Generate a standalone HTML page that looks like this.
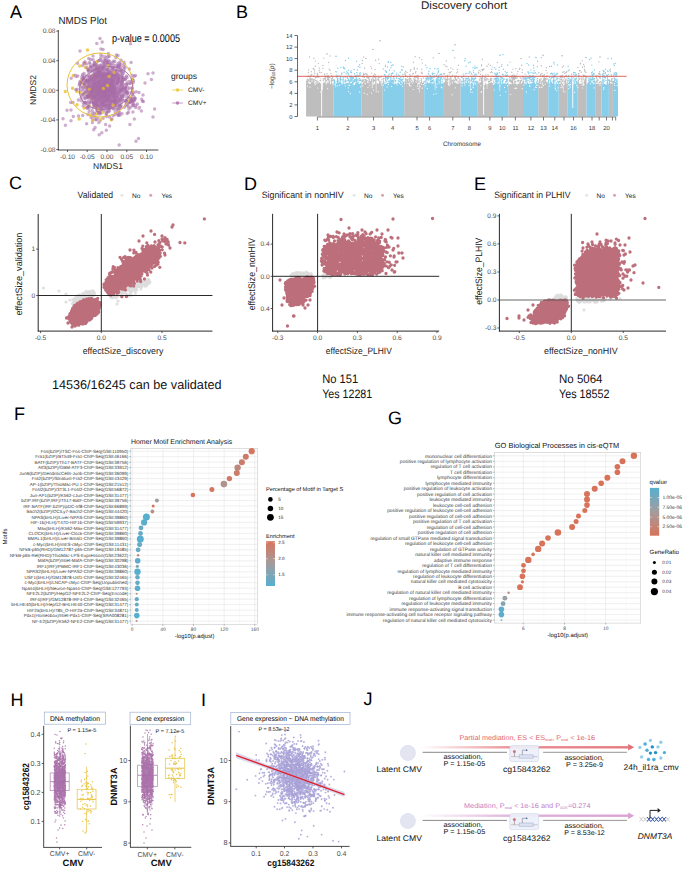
<!DOCTYPE html>
<html><head><meta charset="utf-8"><style>
html,body{margin:0;padding:0;background:#fff;}
body{width:685px;height:871px;overflow:hidden;}
svg{display:block;font-family:"Liberation Sans",sans-serif;text-rendering:geometricPrecision;}
</style></head><body>
<svg width="685" height="871" viewBox="0 0 685 871">
<rect width="685" height="871" fill="#fff"/>
<text x="10" y="17.8" font-size="18">A</text>
<text x="58.5" y="23.8" font-size="10.2" fill="#222" textLength="48.5" lengthAdjust="spacingAndGlyphs">NMDS Plot</text>
<path d="M95.2 75.5h0M98.7 87.7h0M91.9 75.7h0M84.6 63.2h0M89.8 97.6h0M83.4 83.3h0M95.9 94.1h0M111 84.5h0M89.3 105.9h0M87.8 96h0M101 89.8h0M99.4 72h0M96.4 68h0M84.1 108.1h0M94.8 99.5h0M103.4 76.1h0M79.2 119h0M89.7 94.1h0M72.6 88.2h0M79.9 66.1h0M73.3 75.4h0M92.4 91.9h0M80.1 92.6h0M98.4 90.7h0M97 61.8h0M92.9 93.6h0M65.3 91.5h0M88.8 80.9h0M94.6 88.6h0M96.5 89.8h0M77 104.7h0M89.5 86.8h0M83.6 93.8h0M85.6 67.6h0M107.7 76h0M85.6 87h0M94.8 75.7h0M105.6 92.1h0M88.2 69.5h0M93.8 86.7h0M96.5 77.1h0M95.9 107.6h0M80.6 81h0M96.1 114.1h0M111.3 119.7h0M76.8 91.6h0M105.3 101.3h0M96.6 83.9h0M87.5 50.1h0M118.9 100.1h0M104.2 96.8h0M80.9 83.3h0M96 78.6h0M102 89.5h0M92.9 90h0" stroke="#EBBF2A" stroke-width="3.5" stroke-linecap="round" stroke-opacity="0.8" fill="none"/>
<path d="M112.9 99.3h0M94.2 97.6h0M106.4 86.4h0M109.3 86.1h0M96.4 104.1h0M120.8 89.3h0M117.1 79.9h0M91.8 91h0M98 98.2h0M102.2 67h0M94.2 78h0M98.7 105.4h0M97.4 95.9h0M92.5 83.6h0M100.7 86.4h0M105.7 86.7h0M90.7 77.1h0M113.8 76.7h0M92.1 91.8h0M121.3 83.6h0M105.3 79.8h0M105.9 85.1h0M103.6 97.1h0M109.8 84.2h0M107.5 79.1h0M90.6 95.7h0M100.5 113h0M117.7 103.1h0M70.7 102.5h0M95.4 75.5h0M105.8 84.3h0M110.9 79.3h0M105.3 76h0M113.7 89.2h0M106.3 96.8h0M109 100.3h0M86 80.7h0M106.6 116.5h0M121.5 70h0M122.5 78.2h0M104.7 74.5h0M106.6 99h0M97.2 95.5h0M107.5 61.3h0M102.7 70.9h0M93.6 100.3h0M108.2 72.8h0M91 89.3h0M96.3 81.6h0M108.6 82.1h0M110.8 86.9h0M109.6 80.8h0M103.8 101.4h0M129.5 102.5h0M103.5 103.7h0M116.8 80.4h0M101.3 66.7h0M103.4 82.2h0M107.3 103.7h0M92.5 113.6h0M119.8 92.5h0M93.4 94.7h0M107.2 107.8h0M116.9 101.7h0M104.9 100.9h0M91.7 95.5h0M98.5 76.6h0M97.1 96.1h0M103.8 62.3h0M106 97.4h0M112.4 77.6h0M89.2 88.3h0M96.8 92.3h0M95.1 92.5h0M108 86.7h0M94.3 65.2h0M114.2 102.2h0M75.3 75.2h0M102.4 103.4h0M101.1 89.8h0M104.5 68.7h0M119.2 87.1h0M98.9 73.8h0M104.3 82.3h0M102.9 85.2h0M106.1 73.9h0M106.4 75.1h0M95 83.8h0M107.9 99.5h0M87.7 96.7h0M98.4 82.4h0M89.3 82.1h0M88.8 72.4h0M89.5 92.7h0M108.3 84.8h0M92 94.7h0M116 99h0M116.8 107.9h0M87.9 87.3h0M101.5 92.2h0M115 105h0M76 76.5h0M117.5 96.5h0M105 95.2h0M107.5 79.6h0M103.4 75.7h0M95.7 76.3h0M110.7 87h0M117.1 100.9h0M112.6 96.8h0M115.2 70.8h0M126.7 100.9h0M95 90.7h0M90.1 64.1h0M112 84.6h0M94.5 101.1h0M103.1 91.7h0M132.4 78.9h0M102.9 93.1h0M100 85.9h0M83.8 77.9h0M101.8 92.6h0M99 94.9h0M117.3 74.3h0M92.5 94.8h0M89.3 76.4h0M99.7 78h0M126.5 91.5h0M104.8 93h0M104.5 105.3h0M102.9 102.4h0M115.2 74h0M106.3 130.2h0M99.8 80.9h0M113.4 93.7h0M83.3 102.7h0M108.7 81.7h0M95.6 89.4h0M112.9 92.9h0M105.8 82.9h0M89.9 102.5h0M122.8 84.4h0M104.5 93.7h0M97.7 97.5h0M100.5 83.5h0M105.1 91.2h0M90 88.7h0M100.5 79.5h0M112.2 74.9h0M107.8 85.6h0M103.7 87.3h0M108.9 86.9h0M105.6 82.7h0M93.7 98.2h0M107.1 81h0M113.4 94.9h0M104 87.9h0M102.8 82.5h0M117.5 76.5h0M106.7 88.4h0M104.9 90.5h0M113.3 81.4h0M115 87.3h0M100.5 67.6h0M118.1 82.8h0M91.6 79.4h0M109.8 95.5h0M99.7 94.4h0M100.9 80.7h0M111.7 82.5h0M125.2 79.5h0M113.8 95.3h0M104.6 97.3h0M115.6 91.2h0M95.7 84.5h0M103.9 93.1h0M116.7 78.3h0M95.8 97.2h0M109.2 83.7h0M124.4 107.3h0M106.1 80.6h0M81.8 78.3h0M108.3 83.6h0M95.1 103.3h0M108.6 87.7h0M107.5 82.8h0M114.3 85.2h0M114.8 78.2h0M106.7 79.4h0M101.1 100.6h0M114.6 85.3h0M81.6 81.9h0M117.9 102.4h0M95.3 77.2h0M93.6 102.5h0M103.1 49.6h0M106.8 101.1h0M109.1 100.3h0M108.6 75.6h0M99.6 60.2h0M100.7 110.9h0M116.5 76.5h0M104.1 82.4h0M105.8 101.4h0M97.8 79.8h0M84 83.4h0M97.3 93.3h0M131.6 92.2h0M98.9 95.2h0M106.4 107h0M110.1 81.3h0M95.5 94.4h0M105.8 101.6h0M93.1 90.8h0M101.4 73.8h0M85.4 86.7h0M112.3 90.2h0M117.5 79.5h0M90.8 66.6h0M95.9 96.8h0M103.4 76h0M124.1 96.1h0M92.7 119.8h0M118.9 89.9h0M112.2 95.9h0M112.5 93.4h0M115.1 93.3h0M107.8 90.7h0M98.2 88.1h0M100.2 85.6h0M108 76.2h0M95.6 84.1h0M104.4 70h0M104.1 95.9h0M99 98.2h0M109.9 66.4h0M92.8 86.2h0M111.7 83.2h0M106.3 95.6h0M87.3 108.2h0M104.8 76.9h0M112.1 101.8h0M122 86.1h0M124.7 88.7h0M134.2 76.3h0M119.7 94.7h0M109.9 62.2h0M97.8 88.4h0M91 71.4h0M89.4 91.5h0M123.6 95h0M108.7 108.6h0M98.6 88.3h0M109.8 90.4h0M122.3 81.8h0M118.6 65.8h0M97.8 110.6h0M95.7 91.1h0M92.6 98.2h0M94.8 105.8h0M104.9 84.7h0M92.2 97.7h0M97.4 80.5h0M120.9 105.2h0M101.9 89.3h0M99.2 77.3h0M103.9 65.7h0M96.7 86.1h0M101.7 96.2h0M75.8 89.7h0M103.1 88.3h0M107.8 63.3h0M108.2 104.8h0M111.1 87.2h0M100.2 86.3h0M108.4 95.8h0M105 91.3h0M101.2 89h0M92.4 122.6h0M121.3 64.8h0M118 92.3h0M98.3 79.6h0M103.9 104.7h0M118 93.4h0M109.9 61.7h0M116.3 79.3h0M107.2 101.6h0M100.5 89.8h0M112.8 86.8h0M100.5 84.1h0M106.7 87.3h0M118.9 78.7h0M99.1 71.9h0M113.4 100.1h0M87.1 91.6h0M118.8 87.8h0M101.5 105.3h0M103.6 67.7h0M87.4 80.1h0M112.4 89.2h0M98.7 89.1h0M124 70h0M93.1 59.7h0M113.5 81.4h0M96.7 106.7h0M93.8 129.7h0M90.5 65.8h0M98.6 71.3h0M139.5 107.5h0M84.2 93.1h0M120.9 68h0M113.4 61.2h0M101 108.3h0M90.3 98.2h0M83.8 63h0M98.9 90h0M96.6 64.8h0M106.8 111.7h0M134.6 100.4h0M134.9 98.4h0M126.3 92.6h0M142.4 101.3h0M130.4 99.5h0M133.2 105.8h0M130.2 98.2h0M139 108.2h0M128 106.6h0M100 38.4h0M148 73.8h0M119.2 145h0M63 118.7h0M145 83h0" stroke="#A56AA6" stroke-width="3.5" stroke-linecap="round" stroke-opacity="0.55" fill="none"/>
<path d="M111 82.6h0M108.2 83.9h0M99.1 73.1h0M82.7 87h0M113.7 80.1h0M104.7 80.2h0M99.6 96.2h0M118.8 78.2h0M101.9 96.7h0M90.7 96.7h0M109 74h0M86.6 76.1h0M110.3 78.3h0M119.7 71.3h0M100 101.5h0M118 74h0M115.5 82.5h0M114.3 101.1h0M114.6 105.1h0M93.2 116.1h0M114.4 89h0M102.8 85.6h0M95.1 74.4h0M94.9 86.7h0M97.1 102.5h0M114.9 85.9h0M113.3 93.4h0M105.2 80.9h0M99.8 83.7h0M117.5 69h0M114 74.4h0M98.1 81.9h0M91.3 94.3h0M109.5 91.1h0M93.9 92h0M105.4 83.8h0M122.2 84.4h0M107.7 80.8h0M111.3 84.8h0M110.8 91h0M114.7 86.6h0M88.4 94.2h0M111.6 63.6h0M105.4 84.1h0M103.3 88.3h0M119.1 65.9h0M111.3 101.7h0M105.9 92.3h0M100 69.6h0M102.2 99.7h0M125.4 90.1h0M84.7 84.6h0M87.2 97.6h0M107.7 95.9h0M93.1 102.9h0M117 78.2h0M101.8 80.1h0M107.7 65.7h0M109.6 85h0M95.5 96.3h0M111.8 83.9h0M132.5 94.2h0M87.6 88.9h0M109 72.1h0M99.7 76.2h0M104.9 90.4h0M95 71.9h0M109.5 117h0M111.9 86.4h0M115.6 83.4h0M93.9 78.3h0M93.8 65.4h0M97.7 81.7h0M92.5 97.1h0M105.1 87.8h0M88.8 104.5h0M95.2 75.4h0M111 84h0M89.4 62.5h0M96.1 64.7h0M104.4 88.9h0M125.3 87.7h0M97.5 76.4h0M108.1 79h0M99.6 107.2h0M91.1 79.6h0M107 57.7h0M102.5 80.2h0M106.9 84.7h0M110.3 93.7h0M102.7 80.6h0M111.2 77.6h0M115.5 91.3h0M91.6 96.5h0M124.1 91.1h0M98 88h0M97.2 86.1h0M109.7 105.4h0M111.6 95.7h0M99 97.9h0M109.5 105.3h0M104.1 85h0M108.8 64.5h0M115.1 86.3h0M119.7 112.9h0M103.3 105.3h0M109 97.9h0M110.7 96.7h0M95.7 98h0M108.2 93.3h0M98.7 87.2h0M106.1 73.7h0M106.7 100.1h0M112.5 80.1h0M101.8 101.3h0M117.5 83.4h0M112.9 86.5h0M115.6 80.2h0M101.5 86h0M125.9 102.3h0M112.2 97.1h0M87.4 97.4h0M101.8 132.8h0M126.5 84.7h0M100.1 95.2h0M108.6 91.1h0M98.9 85.2h0M119.5 91.6h0M104.7 59.3h0M93.9 104.4h0M111.1 105.7h0M108.3 53.5h0M99.9 95.3h0M112.5 85.5h0M102.3 105h0M101.5 86h0M122.3 92.9h0M92.4 93.5h0M104.2 106.2h0M118.6 108.3h0M103.7 79h0M106.5 97.3h0M97.8 101.3h0M105 81.5h0M96.5 119.4h0M95 97.6h0M101 104.6h0M113.9 84.8h0M99.2 89.5h0M117.8 97.6h0M131.9 88h0M118.3 67.7h0M106.6 83h0M114.7 97.3h0M124.5 88.9h0M100.8 87.7h0M93.2 87.9h0M112.5 86.2h0M130.1 83.5h0M106.5 113.4h0M120.4 98.9h0M105.8 92.9h0M112.9 92.3h0M97.9 111.4h0M98.6 90.4h0M101.6 94.3h0M113 83.9h0M100.2 87.2h0M117.3 101.3h0M129.6 87.9h0M123.6 89.5h0M113.3 73.9h0M116.4 93.5h0M103 68.4h0M88.7 58.6h0M116.6 91.8h0M101.8 76.1h0M116.4 92.4h0M109.6 90.3h0M115.6 101.6h0M105.9 80.3h0M109.4 96h0M90.1 95.5h0M122.4 86.7h0M102 93.1h0M106.7 84.6h0M105 82.5h0M101.7 98.4h0M131.4 81.2h0M116.1 105.1h0M101.4 86.1h0M113.4 83.5h0M93.1 81.9h0M104.3 76.4h0M102.5 98.1h0M117.5 78.6h0M107.8 94.6h0M98.2 105.4h0M132.2 75.3h0M103.2 73.5h0M92.6 97.6h0M109.3 100.8h0M102.1 100.2h0M97.4 80.7h0M117.6 103.6h0M105 80.8h0M124.4 100.6h0M119.2 101.9h0M94.1 71.6h0M130.4 102.4h0M116.6 85.4h0M111.1 99.7h0M110.8 89.3h0M122.7 100.5h0M96.8 71.3h0M103.8 91.2h0M115 72.4h0M120.2 74.7h0M107.7 103.3h0M105.2 74.3h0M96.6 76h0M105.1 97.2h0M119.3 105.8h0M101.6 96.6h0M118 55.4h0M89.1 108.2h0M101.6 97.7h0M115.3 74.2h0M100.6 112.6h0M93.3 78.8h0M110 83.9h0M107.3 98.2h0M135.5 75.6h0M113.1 115.7h0M99.7 100h0M116.7 83.7h0M90.1 93.7h0M123.7 94.3h0M107.3 69.1h0M108.2 56.4h0M113.7 90.8h0M107.4 91.4h0M108.5 104.5h0M105.7 97.5h0M113.1 96.7h0M92.3 94.2h0M109.5 72.3h0M91.5 70.2h0M88 84.3h0M98.2 93.7h0M101.8 97.2h0M90.8 89.1h0M112.1 63.1h0M99.3 76.3h0M82.1 76.3h0M115.9 85h0M78.5 116h0M121.1 84.6h0M103.5 103.1h0M103.7 94h0M118.3 80.8h0M102.4 101.9h0M107.8 88.4h0M130.6 107.3h0M114 94h0M101.1 60.1h0M95.2 102.6h0M95.4 80h0M121 89.8h0M133.7 105h0M106.5 85h0M118.2 115.4h0M85 61.7h0M104.8 82.3h0M113.5 85.9h0M104.4 84h0M103.6 82.9h0M100.9 49.1h0M123 90h0M102.8 91.1h0M123.5 79.7h0M109.9 80.8h0M107 105h0M113.4 87.7h0M87.1 85.3h0M109.5 78.8h0M121.4 72.2h0M122.4 77.3h0M104.3 83.9h0M122.3 87.8h0M122.3 82.6h0M115.7 82.6h0M126.6 75.9h0M112.5 82.3h0M91.1 90.6h0M112.5 67.8h0M113.4 89.2h0M83.9 79.1h0M101.5 76.8h0M92.1 91.2h0M124.4 84.5h0M71.2 78.3h0M93.4 78.4h0M95.2 84h0M105.9 96.9h0M103.6 89.9h0M93.8 103.6h0M98.1 67.8h0M110.4 93.7h0M105 81.4h0M100.9 70.5h0M86.9 81h0M97.9 118.2h0M131.1 62.6h0M79.6 83.8h0M108.6 60.4h0M100.5 91.7h0M116.3 102h0M126.8 102.2h0M135.9 105.4h0M135.2 98.4h0M127.2 113.4h0M136.2 91.8h0M132.5 105.1h0M132.2 100.3h0M132.9 111.9h0M126.7 101.6h0M96.8 43.4h0M151.4 79.4h0M136 141.2h0M65.4 125.2h0M143 95h0" stroke="#A56AA6" stroke-width="3.5" stroke-linecap="round" stroke-opacity="0.55" fill="none"/>
<path d="M94.4 113h0M96.3 75.5h0M104.2 72.9h0M114.4 99.3h0M106.8 83.8h0M102.5 97.4h0M104.9 77.4h0M103.8 99.4h0M99.4 91.5h0M96.8 109.2h0M120.4 98.7h0M113.3 96.3h0M99.7 66.1h0M100 94.1h0M112.1 92.7h0M112.7 79.4h0M115.7 75.5h0M115.2 114.4h0M110.7 104.3h0M87.4 78.9h0M87.9 106.8h0M105.8 70.8h0M87.9 97.4h0M98.4 60.7h0M109.2 74.3h0M104.5 87.9h0M104.5 93h0M82 90.3h0M119.6 99.8h0M107.1 91.7h0M111.3 87.9h0M117.1 83.2h0M123.8 66.9h0M77.5 63.3h0M102.5 61.8h0M121.7 79.9h0M115.7 100.6h0M102.7 81.5h0M104.8 75.7h0M106.1 88.8h0M101.2 90h0M102.9 88.7h0M121.7 71.9h0M94.8 89.1h0M94.3 62.4h0M95.8 92.1h0M126.2 92.3h0M121.2 96.4h0M108.5 111.7h0M105 89.9h0M111.7 83.6h0M90.4 90h0M101.5 69.2h0M97.1 94.2h0M106.7 76.9h0M100.4 92.2h0M91.6 101.6h0M116.1 71.3h0M101.4 86.2h0M114 86.7h0M119.7 90.1h0M103.5 104.9h0M101.3 79.3h0M94.3 74.6h0M96.6 67.2h0M114.8 88.1h0M114.5 102.1h0M103 78.2h0M104.9 97.3h0M95.8 94.8h0M86.2 81.6h0M97.5 99.7h0M111.6 70.4h0M85.8 102.6h0M107.1 96.1h0M94.6 69.1h0M90.6 67h0M93.9 63.7h0M95 97h0M85.2 92.2h0M93.5 75.4h0M104 99.3h0M104.8 89.2h0M103.5 84.6h0M107.9 78.8h0M98.8 122.5h0M103.7 94.4h0M99.5 72.4h0M103.9 73.9h0M108 88.7h0M112.2 81.3h0M117.9 81.2h0M103.8 91.5h0M98.6 82h0M122.4 96.7h0M110 90.2h0M104.8 65.3h0M102.1 108.7h0M104.8 87h0M96.2 77.4h0M99 82.3h0M111.2 101.5h0M108.6 111.4h0M126.3 77.4h0M105.1 70h0M113.8 89.5h0M98.4 89.7h0M100.3 96.9h0M96.3 73.4h0M95.6 75.1h0M100.7 80.2h0M107.8 92.7h0M110.2 107.6h0M97.3 73.6h0M110.7 100.2h0M105.1 91.3h0M88.4 90.2h0M104.2 72.4h0M118.3 93.6h0M123.7 71.8h0M103.3 74.3h0M109.3 85.7h0M80.8 86.9h0M105.7 92.8h0M106.3 99.4h0M104.3 87.2h0M87.5 96.3h0M112.9 70.2h0M102.3 83.3h0M101.4 83.1h0M113 92.1h0M106.7 77.4h0M121.3 90.2h0M111.9 80h0M98.3 68.3h0M89.4 90.9h0M103.3 77.6h0M110.1 78.1h0M109.2 77h0M110 99.6h0M102.7 91h0M92.5 88.4h0M106.4 86h0M115.9 57.8h0M113.8 86.6h0M95.2 90.7h0M107 90.8h0M111.3 73.6h0M92.9 84.9h0M100.3 113.8h0M113.6 108.5h0M100.2 65.2h0M119.5 76.7h0M127.8 89.3h0M95.5 83.4h0M108.7 95.2h0M105.2 79.4h0M94 87.6h0M127 77.4h0M121.9 71.7h0M107.4 62.4h0M110.6 64.7h0M107 93.2h0M103.4 73.8h0M93.7 74.6h0M115.3 109.9h0M98.5 107.1h0M106.1 74.4h0M107.7 85.3h0M96.6 104.4h0M84.6 98h0M104.7 91.7h0M81.3 90h0M95.9 88.6h0M105.1 85.1h0M105.6 124.6h0M102.8 67.4h0M101.1 75.2h0M100.9 98.1h0M98.4 66.5h0M102.4 103h0M97.7 102.3h0M86.8 83.1h0M94.2 90h0M104.8 83.2h0M95 74.9h0M124 62.2h0M97 106.2h0M117.6 66h0M96.7 70.7h0M93.5 96.5h0M98.7 75.3h0M114.7 61.4h0M88.3 80.5h0M103 81.4h0M82.6 79.3h0M95.7 101.4h0M127.2 104.7h0M113.8 92.2h0M99.5 90.7h0M104.9 78.9h0M110.8 84.6h0M113.5 64.9h0M100.2 102.7h0M97.1 73.6h0M116.7 110h0M108.8 108.8h0M106.9 94.5h0M106 82.4h0M96.3 93.9h0M100.2 85.4h0M105.9 96h0M99.1 86.7h0M82.1 87.6h0M104.8 69.8h0M96.3 90.9h0M100.1 96.9h0M103.9 101.2h0M99.8 85.4h0M114.9 93.8h0M109.7 97.7h0M89.5 78h0M107.8 100.4h0M98.2 86.2h0M118.4 78.1h0M104 97h0M95.5 104.4h0M116.8 95.8h0M94.9 103.8h0M127 93.1h0M97.9 90.9h0M113.6 67.1h0M97.9 89.2h0M115 73.2h0M110.9 90.5h0M121.6 77.3h0M122.4 89.3h0M116.1 97.1h0M99.8 121.1h0M95.7 119.7h0M88.5 83.7h0M77.8 75.9h0M108.2 73.9h0M103.1 96.1h0M118.9 76.1h0M103.2 102.2h0M97.3 85h0M91.9 76.6h0M107.4 90.9h0M115.2 112h0M93.1 79.2h0M94.9 106.1h0M111.5 81.6h0M82.6 74.6h0M133.3 82.4h0M107 105.4h0M135.6 107.6h0M122.4 80.7h0M81.9 94.8h0M104.3 63.5h0M97.1 82.4h0M91.3 95.5h0M95.9 76.7h0M110.6 78.6h0M108.5 93.6h0M87.1 87.8h0M106.5 87h0M113.4 93.2h0M89.3 89.8h0M122.2 74.6h0M89.6 86h0M106.3 87.3h0M92.1 92.6h0M94.3 80.3h0M112.4 71.6h0M116.4 95.7h0M96.3 75.9h0M113.4 75.8h0M110.8 85.9h0M113.1 79.2h0M109.9 87h0M95.9 75.8h0M110.4 71.6h0M101.5 87.8h0M113.5 95.5h0M104.2 90.7h0M103.3 83.5h0M95.5 91.1h0M77.1 89.2h0M93.2 91.2h0M109 92h0M105.4 68.7h0M105.5 95.5h0M103.9 75.6h0M114.2 91h0M105.6 80.7h0M109.9 98.5h0M103.5 77.9h0M105 96.8h0M103 96.5h0M100.8 54.8h0M93.6 82.6h0M111.9 83.6h0M109.1 56.5h0M92.2 110.4h0M125 77.8h0M98.7 113.9h0M104.4 86.2h0M129.9 124.4h0M105.9 108.3h0M100.1 99.1h0M92.3 99h0M93.8 85.3h0M120.3 98.5h0M86.6 123.8h0M73.3 116.6h0M88.7 70.5h0M115.9 110h0M132.3 88.4h0M130.6 99.4h0M133.6 104.1h0M127.5 93.6h0M143.4 101.4h0M131.9 101.4h0M133 96.6h0M134 96.7h0M134.2 99.5h0M130.5 43.7h0M154.6 109h0M138.5 138.5h0M71 120.8h0" stroke="#A56AA6" stroke-width="3.5" stroke-linecap="round" stroke-opacity="0.55" fill="none"/>
<path d="M104.6 73h0M115.8 83.9h0M84.1 89.3h0M86.8 91.6h0M89 84.7h0M103.7 87h0M97 110.6h0M115.7 95.6h0M105.5 100.6h0M123.1 73.8h0M89.9 90.1h0M105.2 60.2h0M103.9 82.1h0M108.5 97.5h0M102.2 97.3h0M109.5 107.2h0M103.9 94.8h0M100.6 75.6h0M114.7 102.2h0M114.1 102.5h0M82.9 65.6h0M96.2 93.6h0M110.8 92.5h0M94.8 83.7h0M109 73.4h0M105.3 100h0M106.3 91.4h0M98 96h0M105.9 87.3h0M105.9 101.3h0M107.7 73.5h0M91.9 85.2h0M121 89.4h0M108.1 91.9h0M103.5 85.6h0M99.5 66.1h0M115.2 88.3h0M103.2 93.4h0M99.2 70.9h0M101.7 89.1h0M103 91.5h0M96.3 95h0M102.1 82.6h0M110.3 84.4h0M108.8 98.8h0M117 88.8h0M103.3 105.1h0M115.7 92.8h0M103.2 89.5h0M107.6 100.8h0M106 91.1h0M114.5 76.1h0M98.2 70.8h0M92.9 107.4h0M93.1 96.4h0M110.9 87.5h0M90 88h0M86.9 94.7h0M116.4 55.1h0M110.4 103.4h0M101.3 98.9h0M122.4 97.7h0M115.9 92.7h0M100.1 85.2h0M102.2 84.5h0M89.1 82.9h0M99.9 104.6h0M97.4 86.2h0M93.8 86.8h0M105 93.6h0M104.8 82.2h0M93.4 91.2h0M97.4 96.2h0M125.3 87.3h0M105.9 100.4h0M91.2 80.8h0M101.6 99.5h0M116.5 95h0M120.2 115h0M101.2 88.2h0M104.7 81.8h0M97.2 73.3h0M94.3 97.4h0M97.7 76h0M105.4 86.2h0M102.3 87.6h0M100.9 87.2h0M106.4 100.1h0M100.7 79.4h0M108.4 74.1h0M110 82.4h0M116.2 66.2h0M78.4 99.9h0M119 106.1h0M104.3 97.7h0M109.6 105.4h0M113.2 80.4h0M109.3 79.2h0M108.7 71h0M81.4 100.6h0M105.3 56.7h0M112.7 91.5h0M113.8 83.4h0M103.7 86.2h0M121.1 60.3h0M116.6 98h0M89.2 111.4h0M116.4 65h0M107.6 62.4h0M106.2 99.2h0M118.3 78.9h0M121.8 97.5h0M96.6 99.6h0M103.9 94.4h0M95.9 86.9h0M97.5 75.6h0M94.4 96.2h0M113 108.8h0M110.7 94.3h0M111.5 75.9h0M110 90.7h0M97.5 85.9h0M118.4 111.2h0M86.2 90.3h0M84.1 73.6h0M102.1 90.2h0M105.1 97.6h0M98.2 74.8h0M106.4 81.4h0M129.7 83.3h0M93.5 105.9h0M122 95.3h0M84.6 76.3h0M120.3 70.4h0M111.2 72.2h0M98.5 87.1h0M89.1 85.1h0M98.5 91.4h0M106.5 101h0M109.6 94.4h0M107.6 83.4h0M87.2 81h0M98.6 83.9h0M132.8 91.8h0M93.2 96.7h0M100.3 86h0M103.4 78.6h0M104.6 75.6h0M96.9 85.9h0M115.4 96.3h0M100.1 79.7h0M86.8 102.8h0M108.8 96.9h0M113.7 105.8h0M104.2 111.1h0M102.5 76.7h0M114.8 93.8h0M107.4 81.7h0M103.1 86.6h0M91.4 86.8h0M98.2 82h0M99.9 100.9h0M106.1 114.2h0M118.1 95h0M118.9 81.7h0M118.1 63.3h0M109.2 104.6h0M105.7 93.9h0M114.9 99.6h0M114 86.7h0M95.1 76.8h0M110.3 91.9h0M112.2 69.4h0M109.4 83.4h0M110.7 102.7h0M104.4 75.9h0M103.7 88.6h0M110.4 83.3h0M127 82.8h0M101.3 106.6h0M86.1 92h0M97.8 75.8h0M94.1 86.7h0M112.4 101.6h0M111.5 105.4h0M111.6 102.7h0M84.3 80.6h0M102.6 56.2h0M93.6 84.6h0M98.1 70.1h0M88.9 69.3h0M110.6 81.9h0M117.8 94.4h0M121.1 107.8h0M107.2 91.7h0M105.4 99h0M98.6 96.1h0M130 82.5h0M107.8 79.9h0M113.4 102.3h0M95.9 87.2h0M109.2 94.2h0M93.9 95.2h0M98.2 104.5h0M81.2 97.8h0M112.3 68.3h0M105.5 104.7h0M109.2 69h0M95.3 87.5h0M104.1 90.8h0M96.7 100.4h0M94.6 91.4h0M102.7 96.1h0M101.8 65.1h0M105.4 98.1h0M99.6 80.7h0M115.3 100.8h0M103.6 74.9h0M101.5 91.5h0M116 96.9h0M102.8 88.8h0M96.2 69h0M89.2 89.8h0M101.8 99.8h0M118.1 98.3h0M108.8 97.1h0M120.8 102.4h0M109.1 75.1h0M107.5 79h0M100.6 92.6h0M113.9 92.1h0M98.7 84.9h0M120.2 81.5h0M118.9 111.3h0M111.6 84.8h0M107.2 95.4h0M96.4 88.8h0M104.3 79h0M105.1 96.5h0M107.4 70.5h0M117.2 99h0M97.4 101.7h0M90.4 83.9h0M88.2 87.1h0M111.2 88.6h0M108.4 81h0M91.7 90.7h0M100.2 98.3h0M109.8 73.6h0M103.1 77.5h0M91.4 88.9h0M111.1 84.3h0M86.4 80.8h0M102.4 104h0M93.4 103.3h0M93 83.8h0M113 84.8h0M122 113.8h0M87.3 89.6h0M126 101h0M101.8 101.8h0M106.7 89.4h0M93.2 87.1h0M97.8 105.1h0M108.4 71.1h0M100.7 88.3h0M110.3 90.4h0M123.6 87.5h0M121.4 102.4h0M94.4 97.2h0M98.2 95.1h0M130.5 82.8h0M119.6 62.7h0M101.7 73.7h0M99.3 78.1h0M133.7 92.7h0M95.8 88h0M101.2 82h0M124.5 64.6h0M134.3 119.1h0M113.6 102h0M98 74.6h0M89.9 79.4h0M104.4 92.2h0M137.3 104h0M120.4 87.4h0M100.8 57.8h0M115 105h0M105.4 75.8h0M93.8 81.4h0M95.7 105.3h0M106 87.4h0M93 90.3h0M98.1 94h0M100.2 96.7h0M128.8 81.5h0M96 76.5h0M102.3 85.3h0M106.5 82.1h0M119.7 105.8h0M102.2 42h0M90.6 81.1h0M92.6 66.3h0M133.5 80.4h0M111.4 88.2h0M99 87h0M141.4 111h0M117.4 113.2h0M111.4 88.1h0M103.2 118.3h0M103 67.1h0M111.6 75h0M106.1 91.3h0M99.8 104.2h0M100.5 101.8h0M114.8 77.2h0M85.3 102.8h0M91.3 67.2h0M128.9 109.1h0M120.9 95.4h0M128.2 92.6h0M131.6 98.7h0M122.3 99.6h0M131 100.9h0M133.6 99.6h0M132.7 101.4h0M128.7 97.7h0M80 51h0M153 117h0M109.6 126h0M67 110.2h0" stroke="#A56AA6" stroke-width="3.5" stroke-linecap="round" stroke-opacity="0.55" fill="none"/>
<path d="M105.8 94h0M107.5 75.2h0M93.4 70.5h0M113.5 78.6h0M118.7 115h0M95 117.1h0M98.7 79.6h0M105.6 60.7h0M101.4 73.5h0M98.3 74.5h0M103.2 105h0M106.2 87.2h0M93.6 102.9h0M105.1 75.7h0M103.8 84.5h0M99.4 83.1h0M111.2 99.7h0M121.6 96.9h0M125.5 92.5h0M94.6 101.1h0M108.2 98.6h0M89.3 75.8h0M104.8 64.9h0M96 98h0M127 95.1h0M90 81.1h0M102.3 84.3h0M84.4 104.8h0M92.9 75.1h0M104.8 75.6h0M94.3 77.7h0M104 85.3h0M100.5 76h0M104.8 103.7h0M118.1 76.7h0M101.3 96.6h0M112.6 91.3h0M106 104.4h0M98.6 94.4h0M93.6 88.1h0M103.1 83.9h0M114.9 89.5h0M99 88.7h0M126.9 84.3h0M92.1 79.6h0M121.7 76.8h0M99.1 86.4h0M95.4 97.2h0M107.7 93.2h0M104.5 79.6h0M87.4 107.1h0M113 73.2h0M112.2 97.1h0M104.8 87.7h0M117.3 89h0M104 98.2h0M113.9 79.4h0M97.1 89.2h0M107.7 86.9h0M85.2 98.7h0M102.3 78.5h0M98.5 80.1h0M92.1 85.2h0M100.5 109.5h0M94.5 72.9h0M105.5 106.7h0M121.4 83.8h0M111.7 93.9h0M104.3 100.8h0M87.1 67.7h0M117.2 70.3h0M109.5 104.9h0M110 88h0M102 109.2h0M125.8 105h0M113.4 92.5h0M120.3 91.7h0M93.9 81.5h0M114.2 89.6h0M105.1 80.8h0M105 91.7h0M104.7 105h0M111.9 90.8h0M95.3 94.9h0M90.9 93.2h0M83.3 105.8h0M101.4 91.1h0M92.6 68.9h0M111.3 99.5h0M109.5 103.9h0M107.6 69.5h0M107.9 111.3h0M109.4 110.9h0M101.5 70.6h0M102.8 101.9h0M106.6 91.3h0M111.6 91.9h0M94.7 97.4h0M87.3 96.4h0M101.8 101.9h0M113.5 100.2h0M123.6 90.9h0M99.7 84h0M104.9 83h0M95.1 76.1h0M89.3 95.2h0M116.5 90h0M102.9 102.9h0M97.9 84h0M101.7 70.3h0M129.3 69.1h0M104.1 86.8h0M87.9 70.3h0M107.7 89h0M101.6 92h0M101.7 88.1h0M101.4 93h0M127.4 92.9h0M112.6 78.5h0M112.7 95.1h0M112.7 97.9h0M101.9 87.6h0M108.1 85.1h0M95.9 89.7h0M109.1 88.3h0M104.6 82.4h0M125.1 67.8h0M120.8 81.6h0M100.8 90.2h0M104.7 91h0M103.2 77.1h0M98.2 98.7h0M98.3 80.6h0M88.6 101.1h0M95.6 78.9h0M109.4 90.4h0M97.4 91.7h0M84.3 84.5h0M112.2 79.8h0M109.8 98.1h0M90.9 93.3h0M102.4 87.5h0M111.3 91.2h0M94.7 84h0M100.3 71.2h0M83 94.9h0M86.5 64h0M96 67.8h0M120.9 84.4h0M99 112.8h0M104.5 77.5h0M102.4 75.4h0M114.1 95.3h0M108.1 100.8h0M110.3 97.7h0M106.7 88.8h0M95.1 74.4h0M94.1 75.7h0M113.3 72.8h0M116.7 102.4h0M108.4 107.2h0M82.7 115.5h0M116.5 82.9h0M90.6 59.4h0M104.4 95.3h0M100.9 92.3h0M105.1 94.2h0M99.4 82.1h0M118.2 75.1h0M102 97.4h0M112.5 79.3h0M112.4 86.6h0M94.4 69.8h0M95.7 77.3h0M116.3 72.1h0M111.5 78.1h0M106.3 76.6h0M96.6 104.4h0M109.4 93h0M110.1 85.4h0M103 86.4h0M103.1 74.6h0M83.6 77.9h0M90.8 85.4h0M124.2 88.7h0M102.8 106.5h0M102.3 98.8h0M90.7 84.1h0M96.1 73.2h0M114.9 81.8h0M98 80h0M125.3 79h0M97.5 89.7h0M79.8 82h0M108.3 78.2h0M97.8 95.9h0M113.9 90.6h0M89.8 87.4h0M103.2 105.7h0M101.2 83.4h0M103.5 94.1h0M106.1 98.4h0M119.7 63.8h0M107.1 86.1h0M97.6 86.5h0M91.2 81.2h0M116.7 81.4h0M112 92.1h0M104.8 95.5h0M103.7 83.7h0M87.9 114.4h0M101.4 103.3h0M86 82h0M107.8 96.3h0M104.5 63.5h0M107.8 87.5h0M117.9 78.4h0M114.2 82.2h0M86.8 107.5h0M104.6 77.5h0M111.9 75.5h0M89.9 102.1h0M112.4 80.6h0M108.5 88.7h0M119.9 100.3h0M101.3 77.3h0M112.5 88.9h0M79.2 84.9h0M118.1 71h0M92.3 96.2h0M100.2 81.3h0M108.9 88h0M104.9 101.1h0M108.9 79.8h0M120.3 80.6h0M89.6 79.4h0M118.6 85.7h0M103.3 108.8h0M122.6 79.7h0M114.4 69.1h0M99 78.2h0M107.8 92.5h0M120.7 106.6h0M114.8 96.7h0M94.9 77.6h0M114.8 76.6h0M106.1 83.3h0M85.7 96.5h0M126.8 92.8h0M101.9 102.8h0M109 87.9h0M111.6 83.6h0M102.1 86.3h0M113.4 75.2h0M115.6 102.4h0M112.1 92.5h0M124.8 88.7h0M105.2 91.8h0M106.4 91.3h0M119.3 108.7h0M115.1 75.9h0M122.8 79.4h0M92.2 77.1h0M112.9 91.8h0M111.9 119h0M90.3 79.2h0M90.3 81.2h0M114.5 96.3h0M98.4 68.9h0M107.2 81.9h0M110.4 87.6h0M97.8 100.9h0M95.4 81.5h0M99.9 82.8h0M95.7 100.3h0M114.4 99.8h0M94.7 62.7h0M103.3 94.2h0M113.9 104.9h0M92.4 86.4h0M119.1 76.5h0M98.7 88.3h0M127 86.8h0M111.4 96.6h0M85.2 96.9h0M92.5 91.8h0M106.7 97.3h0M91.7 99.7h0M93.7 76h0M121.2 76.9h0M104.7 100.3h0M104.2 77.5h0M100.2 86.5h0M105.7 64h0M109.5 83h0M112.7 90.8h0M106.2 88.5h0M100.6 85.5h0M93 56.1h0M97.8 73.6h0M110.6 107.4h0M89.4 90.7h0M109 73h0M112.2 92h0M120.9 85.3h0M110 108.6h0M100.5 90.5h0M110 102.9h0M116.6 77.9h0M73 102.5h0M103.4 96.5h0M109.3 105.2h0M125.7 91.8h0M119.4 66.3h0M101.9 78.5h0M84.6 102.4h0M91.1 117.4h0M94.5 64.5h0M141.7 99.2h0M128.4 112.2h0M130.7 98.4h0M128.8 103h0M132.9 101.7h0M139 92.4h0M132 94h0M127 97.6h0M126.6 99.8h0M153 73h0M99.2 134.8h0M95.1 127.6h0M71 110h0" stroke="#A56AA6" stroke-width="3.5" stroke-linecap="round" stroke-opacity="0.55" fill="none"/>
<path d="M89.2 89.2h0M109.1 76.4h0M92.6 120.2h0M107.4 85.5h0M102.6 112.4h0M114.1 72.4h0M100.9 119.5h0M113.2 105.2h0M90.1 115.1h0M108.3 66h0M98.4 109.4h0M103.4 88.6h0" stroke="#EBBF2A" stroke-width="3.5" stroke-linecap="round" stroke-opacity="0.7" fill="none"/>
<ellipse cx="100" cy="85" rx="33" ry="32" fill="none" stroke="#E8C232" stroke-width="1"/>
<ellipse cx="106" cy="88" rx="27" ry="21" fill="none" stroke="#A56AA6" stroke-width="0.8" transform="rotate(-15 106 88)"/>
<line x1="58.3" y1="30" x2="58.3" y2="150.3" stroke="#333" stroke-width="0.9"/>
<line x1="58" y1="150" x2="158.4" y2="150" stroke="#333" stroke-width="0.9"/>
<line x1="56.3" y1="31.1" x2="58.3" y2="31.1" stroke="#333" stroke-width="0.8"/>
<text x="55.5" y="33.4" font-size="6.6" text-anchor="end" fill="#4D4D4D">0.08</text>
<line x1="56.3" y1="60.7" x2="58.3" y2="60.7" stroke="#333" stroke-width="0.8"/>
<text x="55.5" y="63" font-size="6.6" text-anchor="end" fill="#4D4D4D">0.04</text>
<line x1="56.3" y1="90.3" x2="58.3" y2="90.3" stroke="#333" stroke-width="0.8"/>
<text x="55.5" y="92.6" font-size="6.6" text-anchor="end" fill="#4D4D4D">0.00</text>
<line x1="56.3" y1="119.9" x2="58.3" y2="119.9" stroke="#333" stroke-width="0.8"/>
<text x="55.5" y="122.2" font-size="6.6" text-anchor="end" fill="#4D4D4D">-0.04</text>
<line x1="56.3" y1="149.5" x2="58.3" y2="149.5" stroke="#333" stroke-width="0.8"/>
<text x="55.5" y="151.8" font-size="6.6" text-anchor="end" fill="#4D4D4D">-0.08</text>
<line x1="67.5" y1="150" x2="67.5" y2="152" stroke="#333" stroke-width="0.8"/>
<text x="67.5" y="158.8" font-size="6.6" text-anchor="middle" fill="#4D4D4D">-0.10</text>
<line x1="87.2" y1="150" x2="87.2" y2="152" stroke="#333" stroke-width="0.8"/>
<text x="87.2" y="158.8" font-size="6.6" text-anchor="middle" fill="#4D4D4D">-0.05</text>
<line x1="107" y1="150" x2="107" y2="152" stroke="#333" stroke-width="0.8"/>
<text x="107" y="158.8" font-size="6.6" text-anchor="middle" fill="#4D4D4D">0.00</text>
<line x1="126.8" y1="150" x2="126.8" y2="152" stroke="#333" stroke-width="0.8"/>
<text x="126.8" y="158.8" font-size="6.6" text-anchor="middle" fill="#4D4D4D">0.05</text>
<line x1="146.5" y1="150" x2="146.5" y2="152" stroke="#333" stroke-width="0.8"/>
<text x="146.5" y="158.8" font-size="6.6" text-anchor="middle" fill="#4D4D4D">0.10</text>
<text x="108" y="168.9" font-size="8.5" text-anchor="middle" fill="#222">NMDS1</text>
<text x="33.6" y="92.9" font-size="8.5" text-anchor="middle" fill="#222" transform="rotate(-90 33.6 90)">NMDS2</text>
<text x="112" y="42.3" font-size="11" textLength="68" lengthAdjust="spacingAndGlyphs">p-value = 0.0005</text>
<text x="171" y="79.4" font-size="8.5" fill="#222">groups</text>
<line x1="172.3" y1="90" x2="182.9" y2="90" stroke="#EDD460" stroke-width="1"/>
<circle cx="177.5" cy="90" r="1.7" fill="#EACB45"/>
<line x1="172.3" y1="103" x2="182.9" y2="103" stroke="#C596C5" stroke-width="1"/>
<circle cx="177.5" cy="103" r="1.7" fill="#B67EB6"/>
<text x="188" y="92.3" font-size="6.6" fill="#222">CMV-</text>
<text x="188" y="105.3" font-size="6.6" fill="#222">CMV+</text>
<text x="236" y="18.3" font-size="18">B</text>
<text x="421" y="8.9" font-size="11.2" fill="#222" textLength="86.3" lengthAdjust="spacingAndGlyphs">Discovery cohort</text>
<path d="M306.1 116.5V80.8H306.9V78.4H307.7V81.1H308.5V83.2H309.3V83.8H310.1V83.7H310.9V82.3H311.7V83.1H312.5V78.2H313.3V81.6H314.1V83.5H314.9V83.6H315.7V82.1H316.5V83.7H317.3V82.5H318.1V82.8H318.9V81.9H319.7V82.7H320.5V83.7H321.3V81.3H322.1V83.1H322.9V83H323.7V81.1H324.5V80.4H325.3V75.4H326.1V82.9H326.9V80.4H327.7V75.4H328.5V83.3H329.3V79.5H330.1V84H330.9V80.2H331.7V83.1H332.5V83.8H333.3V83.5H333.7V116.5ZM361.4 116.5V83.4H362.2V83.8H363V82.2H363.8V81H364.6V83.2H365.4V80.5H366.2V80.2H367V81.5H367.8V83.2H368.6V82.4H369.4V83.3H370.2V81.8H371V79.8H371.8V83.8H372.6V81.4H373.4V83.8H374.2V83.7H375V75.9H375.8V78.6H376.6V83.3H377.4V83.5H378.2V83.8H379V82H379.8V82H380.6V83.3H381.4V83.9H382.2V82.6H382.7V116.5ZM404.2 116.5V83.7H405V80.1H405.8V83.2H406.6V83.8H407.4V79.5H408.2V81.1H409V83.7H409.8V83.2H410.6V82.1H411.4V82.9H412.2V83.7H413V82.4H413.8V80H414.6V75.4H415.4V82.5H416.2V82.8H417V83.1H417.8V84H418.6V79.9H419.4V84.1H420.2V80.5H421V78.4H421.8V83H422.6V83.1H423.4V82.2H424.2V116.5ZM443.1 116.5V83H443.9V83H444.7V82.3H445.5V79.7H446.3V82.6H447.1V75.4H447.9V80.2H448.7V83.2H449.5V80.4H450.3V83.8H451.1V82.5H451.9V83.4H452.7V82H453.5V78.8H454.3V82.9H455.1V76.7H455.9V83H456.7V83.9H457.5V83.5H458.3V83H459.1V82.1H459.9V83.3H460.7V116.5ZM477.8 116.5V82.7H478.6V82.8H479.4V83.3H480.2V82.1H481V79.1H481.8V76.4H482.6V82.3H483.4V80.9H484.2V84H485V83.5H485.8V82.3H486.6V83.8H487.4V83.9H488.2V82.2H489V82.8H489.8V83.1H490.6V79.7H491.4V82.4H492.2V83.2H493V116.5ZM508.3 116.5V83.7H509.1V83.2H509.9V83.4H510.7V82.2H511.5V79.4H512.3V81.1H513.1V83.5H513.9V83.6H514.7V81.5H515.5V80.6H516.3V83.4H517.1V84H517.9V84H518.7V82.5H519.5V83.5H520.3V82.6H521.1V83.7H521.9V81.5H522.7V82.5H523V116.5ZM538.2 116.5V82.4H539V78.8H539.8V84.1H540.6V80.8H541.4V82.2H542.2V83.8H543V78.7H543.8V81.9H544.6V78.8H545.4V81.1H546.2V77.9H547V82.2H547.8V82.1H548.2V116.5ZM558.7 116.5V84.1H559.5V82.1H560.3V83.8H561.1V81.5H561.9V83.4H562.7V84H563.5V82.3H564.3V83.3H565.1V79.6H565.9V83.6H566.7V76.6H567.3V116.5ZM577.3 116.5V81.3H578.1V80.8H578.9V83.8H579.7V83.2H580.5V83.4H581.3V76.9H582.1V82.9H582.9V84H583.7V81.7H584.5V78.4H585.3V75.4H586.1V75.4H586.5V116.5ZM595.2 116.5V83.2H596V83.9H596.8V81.3H597.6V82.8H598.4V84.1H599.2V82.8H600V83.9H600.8V81.9H601.6V116.5ZM608.9 116.5V79.3H609.7V80H610.5V83.4H611.3V79H612.1V81.4H612.9V116.5Z" fill="#BEBEBE"/>
<path d="M331.7 81.2h0M310 79.8h0M330.9 73.6h0M311 81.7h0M315.4 77.7h0M312.2 79.1h0M332.9 77.6h0M309.1 81.1h0M329.5 82.3h0M314.6 70.1h0M331.9 80.3h0M326.6 80.6h0M313.6 76h0M320.2 80.5h0M310.9 78.4h0M317.4 76.2h0M307.3 79.9h0M324.7 74.1h0M322.4 80.3h0M313.8 81.2h0M307 80.1h0M331.6 78.8h0M309.9 76.8h0M315.3 77.6h0M307.3 76.8h0M316.8 77.2h0M317.3 74.7h0M320.8 80.5h0M315.2 80.4h0M313.2 68.5h0M327.5 79.7h0M314 69.5h0M315.4 80.9h0M319.7 72.2h0M313.9 58.3h0M325.9 76.6h0M308.8 75.1h0M315.2 61.1h0M317.8 81.4h0M313.5 81h0M328.9 81.7h0M316 81.3h0M317.8 75h0M319.1 70.4h0M328.7 81.3h0M312.4 81.3h0M328.6 79.3h0M331.8 75.4h0M313.7 79.6h0M311.1 79.4h0M327.6 77.4h0M314.9 80.1h0M312.6 82h0M308.7 82.2h0M322.9 65.5h0M331.5 80.8h0M330 56h0M322.3 78.9h0M318.3 77.1h0M332.6 77.5h0M324.2 78.1h0M332 80.2h0M324.9 79.7h0M325.1 82.2h0M325.2 81.9h0M309.9 78h0M313.3 82h0M308.4 72.5h0M331.4 79h0M333.1 80.3h0M322.7 79.7h0M310.7 75.7h0M309.9 81.6h0M318.5 63.6h0M317 82.3h0M311.8 82.2h0M309 81.9h0M323.8 58.1h0M327.7 81.2h0M308.3 80.2h0M314.8 73.8h0M314.6 81.3h0M321 78.6h0M322.7 81h0M317.5 73.5h0M329.6 77.6h0M317 81.3h0M314.7 71.9h0M327 73.7h0M329 77.6h0M329.9 77.5h0M311.1 80.2h0M311.8 74.5h0M318.9 77.2h0M332.3 78.3h0M323.1 81.3h0M323.2 79h0M315.3 66.2h0M332.9 80.6h0M311.5 74.9h0M321.5 72.8h0M324.6 74.8h0M328.1 81.2h0M328.2 78.8h0M316.9 76.8h0M313.8 81.8h0M332.7 80.3h0M321.3 72.9h0M314.1 76.6h0M310.3 80.8h0M328 75.7h0M329.2 69.2h0M321.8 81.6h0M316.8 81.2h0M324.1 81h0M332.7 77.8h0M322 79.6h0M327.5 80.1h0M330.1 70.4h0M326.7 76.5h0M319.5 68.2h0M311.3 71.7h0M325.1 78.2h0M328.7 77.1h0M332.2 78.2h0M310.7 80.9h0M309.6 57h0M323.5 80.9h0M328.6 62.4h0M308.6 69.9h0M322.9 68.4h0M313.7 80.3h0M333.2 79.8h0M316.2 82.2h0M308.8 79.8h0M327.4 77.9h0M314.6 79.7h0M370.6 82.3h0M375.5 80.6h0M371.4 80.3h0M372.1 79h0M368.2 81.5h0M370.6 81.7h0M371.7 73.1h0M378.7 59.3h0M366.9 77.4h0M366.4 82.2h0M368.9 82.3h0M377.8 79.5h0M379.1 81h0M373.4 81.3h0M369.2 76.7h0M375.1 69.5h0M378.7 79.7h0M366.8 74.3h0M375.5 80.7h0M376.3 80.8h0M369.8 81.6h0M364.8 74.3h0M374.2 77h0M366.2 82.1h0M369.4 79.3h0M373 81.8h0M381.4 82.1h0M364.9 81.7h0M363.4 76.4h0M372.8 81.1h0M381 77.2h0M362.8 76.8h0M374.9 80.1h0M362.5 60.5h0M373.1 80.7h0M364.3 77.4h0M375.3 77.3h0M369.2 80.5h0M375.2 80.5h0M367.1 74.1h0M363.4 73.2h0M365.6 80.6h0M367.5 77.8h0M365.2 79.8h0M365.9 79.5h0M372.9 80.5h0M370.8 66.6h0M378.7 80.3h0M372 81.6h0M372.9 78.5h0M376.3 77.6h0M379.2 63.6h0M373.8 76.7h0M362.6 81.3h0M371.2 82h0M362.6 80.3h0M374.2 80.8h0M363.2 79.7h0M372.9 79.5h0M364.9 79.8h0M379.3 77.2h0M363.8 57h0M375.3 81.7h0M376.2 77.3h0M367.5 77.7h0M373.9 80.5h0M368.6 78.8h0M367.2 80.8h0M367.2 75.1h0M362.2 80.2h0M375.6 60.2h0M363.4 80.3h0M365.9 73.6h0M363.7 74.6h0M378.2 78.5h0M372.6 79.8h0M371.4 79.8h0M373.7 80.4h0M378.3 77h0M374.6 74h0M372.3 77.8h0M368.3 77.8h0M372.4 81.8h0M381.9 79.7h0M373.5 75.5h0M371.6 68.4h0M379.9 81.3h0M363 81h0M363.2 75.5h0M377.9 79.7h0M381 81.8h0M362.9 80.8h0M362.1 81.7h0M373.6 80h0M364.7 68.2h0M373.3 77h0M375.4 74.9h0M362.2 63.4h0M379.6 81.3h0M367 76.8h0M373.1 81.1h0M369.1 81.6h0M368.9 81.7h0M370.1 76.8h0M406.9 82.2h0M407.7 80.2h0M414.2 69.3h0M410.2 82h0M413.4 81.7h0M417.8 79.1h0M410.8 78.6h0M417.3 68.8h0M405.1 74.5h0M415.1 56.7h0M421.9 72.3h0M422.4 63.1h0M415.6 72.1h0M423.4 78h0M409.2 78.6h0M410.4 78.9h0M413.2 81.3h0M414.4 82.2h0M420.3 81.7h0M413.2 81.1h0M405.6 71.2h0M418 79.3h0M408.9 80.4h0M421.5 81.5h0M408.7 81.3h0M410.3 71h0M407.3 81.7h0M410.4 81.1h0M416.1 80.7h0M409.8 77.2h0M405.6 75.4h0M415.8 71.6h0M418.7 78h0M406.8 80.6h0M412.8 81.2h0M406 82.2h0M405 72.9h0M411.8 76.1h0M410.1 80.9h0M421.3 73h0M405 74.4h0M417 82h0M418.6 78.6h0M412.6 73.9h0M414.2 77.1h0M409.4 81.9h0M409.5 81.5h0M405.7 79.5h0M421.9 69.3h0M405.2 82.2h0M407.3 79.7h0M418.5 75.7h0M413.4 73.5h0M414.4 82h0M410.3 82h0M407.8 76.6h0M419.9 80.8h0M407.1 79.4h0M410.3 79.3h0M419 82h0M410.4 75.9h0M422.8 82.2h0M408 81.1h0M414.7 80h0M414.9 80.7h0M414.2 67.7h0M419.4 57.8h0M405.6 76.3h0M415.1 77h0M419.7 82.2h0M405.7 78.7h0M415.1 80.2h0M413.1 82.1h0M414.9 82.3h0M416.6 77h0M418.1 81.6h0M421.8 59.6h0M417.2 75.8h0M423.7 81.9h0M417.3 77.8h0M409.8 79.3h0M407.5 77.1h0M406 82.3h0M409.8 78.8h0M407 72.5h0M417.7 82.4h0M417.8 80.2h0M416.3 76.5h0M412 82.2h0M413.5 62.2h0M409.6 74.5h0M422.2 73.5h0M405 73.7h0M410.8 69.8h0M415.6 73.1h0M408.1 80h0M420.9 78.6h0M413.8 79h0M411.7 80.3h0M447.7 79.5h0M457 79.4h0M448.7 81.1h0M450.4 81.1h0M445.7 65.9h0M458.4 81.4h0M449.8 80.7h0M455.2 77.4h0M444 64.7h0M455.2 81.6h0M447.4 75.4h0M451.1 78h0M454.8 57.7h0M446.4 61h0M452.4 75.4h0M457.5 69.5h0M446.3 81.1h0M451.4 80.5h0M446.7 81.9h0M446 79.8h0M451.7 81.8h0M451.2 71.6h0M454.3 82h0M457.8 82.1h0M455.3 78.2h0M449.2 72.5h0M451.7 82.1h0M454.8 77.4h0M457.5 80.3h0M454.9 75.9h0M451.9 82h0M445.8 82.2h0M448.3 69.6h0M450.3 72.8h0M458.3 78h0M447 66.8h0M458.8 81.7h0M447.4 81.1h0M445 78.3h0M452.1 80.3h0M456.8 80.1h0M450.3 77h0M457.6 77.6h0M450.2 79h0M457.1 81.2h0M445.5 76.5h0M448.3 79h0M445.6 81.8h0M455.9 79.2h0M451.4 79.9h0M454.5 80.5h0M447.6 82.2h0M455.8 81.7h0M460.1 82h0M444.9 82h0M448.9 78.8h0M458 82.1h0M457.7 71.9h0M458.1 76.6h0M447.4 77.7h0M452.9 69.1h0M445 79.7h0M450.8 67.9h0M453.2 81h0M447.9 81.7h0M450.6 82.3h0M449.7 79.4h0M445 76.4h0M444.7 73.9h0M456.6 72.9h0M443.6 78.1h0M460 79.4h0M458.5 65.3h0M460 80.8h0M456.6 81h0M443.6 73.7h0M445.5 76.8h0M448.9 74.9h0M446.6 79.5h0M444.6 82.3h0M458.8 78.3h0M458.7 77.9h0M456.3 76.3h0M447.8 79.5h0M457.7 80.8h0M457.2 81.3h0M486 79.9h0M484.8 79.5h0M490.3 80.5h0M481.6 64.9h0M486.3 78.1h0M478.8 82.1h0M490.3 65.5h0M492 76.3h0M483 69.8h0M489.3 81.5h0M481.8 78.2h0M491.8 69.4h0M481.3 78.9h0M478.4 72.3h0M479.3 79.1h0M484.8 77.4h0M478.8 73h0M492.2 72.6h0M487.3 79.6h0M486.4 79.9h0M487.2 78.7h0M484.2 76.1h0M490.9 80.9h0M488.4 64.1h0M484.4 78.4h0M482.3 75.7h0M480.4 74.2h0M482.8 70.5h0M483.3 74h0M479.4 82.2h0M491.4 82.3h0M482 77.8h0M486 79.1h0M479.2 70.4h0M486.1 81.2h0M487.5 79.6h0M479.4 76.7h0M492.2 67.1h0M480.6 78h0M482 69.5h0M488.8 81.9h0M483.1 75.4h0M490.7 78.5h0M481.7 80h0M482.8 77.8h0M488.1 76.1h0M490.5 81.1h0M490.9 79.5h0M482.4 59.3h0M485.8 77h0M484.1 81.9h0M487.9 79.3h0M481.5 65.8h0M490.2 72.6h0M488.4 81.6h0M480.8 71.1h0M482.8 79.9h0M483.1 76.7h0M491.5 80.7h0M484.8 80.3h0M487.1 66.2h0M491.5 71.8h0M483.9 69h0M491.7 78.7h0M482.4 82h0M478.5 82.1h0M479.8 80.3h0M488.1 79.9h0M483.7 78.7h0M490.1 79.2h0M485.9 74.7h0M488 74.8h0M483.3 81h0M486.6 78.5h0M510.1 78.9h0M511.6 77.7h0M514.8 81.6h0M520.4 82.3h0M520.7 81.6h0M514.3 82h0M510.5 80.9h0M512.5 78.1h0M518 81.8h0M514.4 78h0M516.6 81.4h0M518.9 82.2h0M517.8 71.5h0M520.6 81.2h0M510 80.7h0M512.9 69.1h0M509.3 80.6h0M515.9 75.9h0M517.2 77.7h0M512.3 78.5h0M509.6 79.9h0M515.2 77h0M511.1 80.1h0M511.5 81.6h0M514 79.6h0M521.7 65.2h0M513.7 74.9h0M518.5 80.5h0M513.9 78.5h0M514.4 77h0M510.7 80.8h0M511.3 82h0M519.4 69.2h0M514.7 78.1h0M512.7 79.9h0M522.3 76.4h0M520.8 78.4h0M512.4 81.3h0M514.7 82.3h0M516.6 78.6h0M511.1 76.1h0M514.7 75.8h0M512.7 80.1h0M519.9 68.3h0M510.1 62.1h0M522.4 69.7h0M512 81.3h0M513.3 78.9h0M509.8 81.4h0M521.3 80.5h0M520.1 77.1h0M509.7 80.5h0M516 68.7h0M514.2 79.7h0M517.1 74h0M513.4 79.7h0M521.9 80h0M511.8 72.2h0M520 80.6h0M512.5 77.3h0M517.7 80.4h0M514.7 78.7h0M516 78.5h0M516 77h0M517.4 76.8h0M509.7 80.8h0M509.6 77.4h0M522.1 72.5h0M512.3 75.5h0M513.7 77.5h0M512.1 76.4h0M517.6 81.5h0M522.3 77.9h0M543.9 75.8h0M542.1 80.7h0M547.4 75.8h0M540.5 76h0M546.9 81.6h0M547.5 79h0M546.3 78.8h0M544.2 79.5h0M544.3 77.7h0M547.1 73.2h0M542.6 75.7h0M546.1 70.5h0M545.7 82.3h0M546.4 78.1h0M542.7 81.3h0M544.6 80.6h0M539.5 80.3h0M539.3 82.3h0M539.7 79.8h0M545.3 78.7h0M541.9 73.8h0M546.9 78.9h0M539.4 81.2h0M540.3 75.9h0M546.2 76.4h0M542.5 81.1h0M540.7 79.9h0M545.7 76.6h0M540.8 74.3h0M547.5 82h0M541.2 82h0M546.4 67.7h0M543 76.8h0M547.1 78.4h0M541.4 80.7h0M547 81.7h0M541.4 57.7h0M542.7 81.9h0M544.4 74.7h0M543.7 79.5h0M544.7 80h0M545 80.8h0M541.1 78.7h0M538.8 72.7h0M545.2 79.4h0M544.1 78.8h0M543.8 80.5h0M543.2 80.9h0M547.1 76h0M541.4 65.7h0M564.9 73.4h0M559.7 78.9h0M562.6 81.7h0M565.1 76.6h0M563.3 77.1h0M564.3 81.3h0M566.6 72.1h0M566.6 71.6h0M565.6 81.3h0M563.5 66h0M561.5 81h0M560.4 77.6h0M560.5 76.1h0M564.1 71.8h0M565.1 81.6h0M565.7 79.5h0M566.1 75.4h0M561.4 76.2h0M561.7 79h0M560.7 79.8h0M563.3 80.5h0M566.4 81.5h0M565 82.1h0M562.5 75.2h0M560.4 77.3h0M565.6 76.2h0M566 72.4h0M565 81.3h0M561.4 81h0M562.2 77.4h0M563.6 79.3h0M566.2 75.9h0M561 81.7h0M562.4 80.2h0M559.7 81.1h0M559.2 81.8h0M561 76.5h0M565.3 81.7h0M564.3 77.7h0M562.8 72.3h0M562.3 67.2h0M561.2 79.4h0M584.9 71.6h0M582.3 78.6h0M585.2 81.9h0M584.5 66.5h0M578.6 76h0M578.9 78h0M581.1 82.2h0M582.2 60.8h0M583.2 75.2h0M582.4 67.3h0M585 80.9h0M584.4 69.3h0M578.6 73.7h0M580.6 63.3h0M585.1 81.7h0M584 75.3h0M577.9 67.4h0M582.9 77.9h0M578.8 73.7h0M581.9 81.2h0M586 82.4h0M578.4 80.5h0M584.6 81.6h0M581.8 79h0M585.8 72.4h0M584.8 70.7h0M578.3 80.3h0M583.1 78h0M584.9 81.9h0M580.1 70.8h0M583.6 64.5h0M579.9 78.7h0M579.5 70.7h0M580.5 82.2h0M580.2 63.9h0M585.7 80.7h0M579.7 76.1h0M581.3 72.3h0M581.8 81.4h0M583.5 76.1h0M585.8 80.3h0M582.8 82.1h0M584.9 76.3h0M578.9 75.4h0M583.2 79.7h0M579.2 79.6h0M596.6 81.3h0M596.9 75.6h0M599.3 81.9h0M596.6 77.2h0M595.8 82.3h0M596.7 78.5h0M597.3 80.1h0M596.6 82h0M598.9 61.9h0M600.4 78.6h0M600.2 77.6h0M598.2 80.1h0M599.9 74.4h0M600 74.3h0M599.1 76.4h0M600 74.9h0M597.7 80.6h0M599.7 82.3h0M598.5 73.7h0M599.7 71.7h0M599.7 73.5h0M596.1 75.9h0M600.2 81.5h0M595.9 76.5h0M598 80h0M598.9 82.1h0M600.1 82.2h0M596 76.4h0M599.3 77.6h0M597.6 80h0M595.9 76.1h0M611 76.3h0M610.1 81.9h0M610 70.2h0M610.7 82h0M610.2 69.3h0M612.1 82h0M610.8 82.3h0M611.4 76h0M612.1 82h0M611.3 74.6h0M609.9 82.3h0M610.4 71.7h0M612.2 78.5h0M609.5 76.6h0M610.1 82.3h0M611.3 82h0M612 81.5h0M611.9 80h0M611.6 79.2h0M611.5 58.5h0" stroke="#BEBEBE" stroke-width="1.4" stroke-linecap="round" fill="none"/>
<path d="M333.7 116.5V81H334.5V80H335.3V82.3H336.1V83.3H336.9V77.4H337.7V78.3H338.5V82.4H339.3V81.8H340.1V76.5H340.9V83.3H341.7V83.7H342.5V77.5H343.3V83.4H344.1V83.8H344.9V83.4H345.7V83.6H346.5V79.7H347.3V82.8H348.1V82.4H348.9V83.2H349.7V75.4H350.5V82.4H351.3V75.4H352.1V81.7H352.9V80.7H353.7V83.8H354.5V83.9H355.3V82.9H356.1V77.6H356.9V82.6H357.7V80H358.5V83.7H359.3V83.9H360.1V83.1H360.9V80.4H361.4V116.5ZM382.7 116.5V82.7H383.5V81.7H384.3V83.7H385.1V75.4H385.9V83.9H386.7V77.5H387.5V82.1H388.3V83.1H389.1V81.4H389.9V83.1H390.7V83H391.5V82.2H392.3V83.1H393.1V83.4H393.9V83.2H394.7V82.8H395.5V83.6H396.3V83.2H397.1V79.4H397.9V83.1H398.7V82.7H399.5V82.6H400.3V82.1H401.1V82.2H401.9V83.6H402.7V82.6H403.5V80.9H404.2V116.5ZM424.2 116.5V84H425V83.7H425.8V83.1H426.6V81.3H427.4V82.6H428.2V83.3H429V82.9H429.8V76H430.6V80.9H431.4V77.4H432.2V83.7H433V82.7H433.8V82.7H434.6V82H435.4V81.7H436.2V79.6H437V81.1H437.8V77.1H438.6V83.7H439.4V79.1H440.2V77.5H441V83.4H441.8V83.5H442.6V81.8H443.1V116.5ZM460.7 116.5V83.8H461.5V80.7H462.3V82.6H463.1V78H463.9V80H464.7V82.5H465.5V81.1H466.3V83.1H467.1V80.6H467.9V78.4H468.7V83.7H469.5V81.2H470.3V79.2H471.1V82.8H471.9V83.6H472.7V81.3H473.5V83.5H474.3V81.2H475.1V83.6H475.9V82.7H476.7V81.6H477.5V80.7H477.8V116.5ZM493 116.5V80.4H493.8V83.9H494.6V82.5H495.4V83.1H496.2V77.5H497V80.2H497.8V82.6H498.6V79.8H499.4V82.2H500.2V80.9H501V84H501.8V83.1H502.6V79.5H503.4V83.7H504.2V83.2H505V81.8H505.8V83.9H506.6V81.8H507.4V81.7H508.2V77.3H508.3V116.5ZM523 116.5V80.7H523.8V83.1H524.6V84H525.4V77.9H526.2V83.3H527V81.7H527.8V83.1H528.6V84.1H529.4V83.2H530.2V83.4H531V83.4H531.8V82.9H532.6V75.8H533.4V78.4H534.2V82.5H535V84H535.8V82.6H536.6V83.1H537.4V82.9H538.2V116.5ZM548.2 116.5V80.3H549V83.7H549.8V79.9H550.6V82.2H551.4V81.1H552.2V83.6H553V76.7H553.8V83H554.6V83.8H555.4V81.6H556.2V82H557V84H557.8V80.8H558.6V81.6H558.7V116.5ZM567.3 116.5V80.1H568.1V82.7H568.9V82H569.7V79.1H570.5V83H571.3V75.4H572.1V81.5H572.9V83.5H573.7V78.8H574.5V81.4H575.3V83.8H576.1V80.9H576.9V82H577.3V116.5ZM586.5 116.5V84.1H587.3V82.7H588.1V82.1H588.9V82.1H589.7V75.4H590.5V81.9H591.3V81.1H592.1V82.3H592.9V82.7H593.7V77.9H594.5V83.5H595.2V116.5ZM601.6 116.5V81.5H602.4V75.6H603.2V82.8H604V84H604.8V84.1H605.6V84H606.4V82.2H607.2V76.9H608V83.4H608.8V80.1H608.9V116.5ZM612.9 116.5V82H613.7V81.1H614.5V79.6H615.3V78.9H616.1V82.3H616.9V81H617.7V84H618V116.5Z" fill="#87CEEB"/>
<path d="M350.6 72.1h0M356.7 80h0M340.5 77.6h0M350.8 81.1h0M352.4 78.5h0M354.4 73.8h0M336.7 77h0M353.6 77.8h0M358.3 66.4h0M351 79.6h0M338.7 81.2h0M358.7 82h0M336.9 76.6h0M340.4 79.8h0M357 72.6h0M349.9 81.6h0M343.2 67.1h0M355.7 79.7h0M351.5 72.8h0M337.4 81.5h0M340.4 80.4h0M355.8 81.2h0M355.9 77.9h0M336.2 74.9h0M348.1 80.5h0M353.2 78.3h0M342.9 81.3h0M335.9 71.5h0M345.3 80h0M359.2 78.4h0M353.7 80.9h0M339.9 78.7h0M356.8 76h0M352 79.5h0M341.9 72.9h0M341.4 79.6h0M338.9 80.2h0M345 77.1h0M343.8 68.3h0M341.8 74.5h0M357.5 70h0M354.5 79.6h0M347.4 77.4h0M359.9 79.2h0M359.6 64.7h0M356.2 79.6h0M351.1 76.7h0M352.7 77.7h0M354.9 80h0M354.4 81.5h0M357.5 74.9h0M343.3 82.3h0M343.9 67.4h0M340.8 81.5h0M358.8 76.1h0M358.3 82.1h0M346 73.7h0M344.9 68.9h0M337.7 80.6h0M360.2 72.8h0M352.1 80.1h0M359.9 80.6h0M351.1 70.8h0M347.9 81.6h0M354.2 69.4h0M357.9 79.7h0M356.8 72.6h0M343.4 77.8h0M347.7 81.4h0M359.4 80.8h0M347.7 81.2h0M355.6 76.2h0M348.2 70.2h0M356.4 81.3h0M336 82.1h0M334.2 80.5h0M336.6 82.2h0M345.8 76.7h0M344 81.3h0M359.8 73.7h0M360.8 80.3h0M337.8 75.7h0M356.5 77.9h0M347.8 72.8h0M356.7 61.3h0M344.1 72.2h0M354.8 76.2h0M334.3 80.4h0M346.7 71.8h0M343.1 79.6h0M340.9 76.6h0M342.2 79.7h0M345.4 60.5h0M347.4 78.4h0M348.2 73.8h0M353.8 82.1h0M356.3 81.8h0M359.9 67.2h0M352.1 79.5h0M341.1 81.6h0M349.7 82.3h0M345.9 81.2h0M340.5 82h0M343.1 82.1h0M340.3 79.1h0M348.6 79.1h0M336 82.1h0M348.7 80.3h0M345.2 82h0M334.4 80h0M341.6 73.7h0M360.1 74.7h0M349.7 80.8h0M335.9 77.1h0M349.6 76.3h0M353 81.1h0M337.8 81.9h0M339.9 75.9h0M348.7 58.2h0M356.2 80.7h0M340.6 67.6h0M337.9 68.3h0M337.9 81h0M350.6 77.8h0M336.1 72h0M348.3 74.8h0M355.8 75.7h0M354.7 80.6h0M352.1 77.7h0M334.5 80.2h0M345.7 80.9h0M340.7 82.1h0M348 81.4h0M338.3 82h0M337.8 81.6h0M359.6 75.8h0M391.6 65.8h0M400.2 72.3h0M383.4 79.1h0M394.3 70.9h0M390.3 79.9h0M387.6 77.5h0M401 80.4h0M387.6 67h0M399.4 78.8h0M400.7 77.8h0M403 79h0M385.6 77.8h0M386.4 71.5h0M384.9 74.8h0M389.8 74h0M401.8 69.5h0M396.4 74.5h0M386.4 72.4h0M385.4 78.8h0M398.6 81.1h0M396 81.1h0M383.2 69h0M395.2 80.4h0M387.1 77.4h0M389.2 81.1h0M385.3 70.8h0M403.5 66.9h0M392.6 73h0M395.8 81.8h0M387.4 78.7h0M390.9 79.1h0M396.5 77.5h0M398.5 80.9h0M401.8 79.5h0M388.3 75h0M388.1 62.4h0M391.5 75.3h0M389.5 70.3h0M400 79.5h0M390.8 77.5h0M390.9 67.9h0M393.5 82.3h0M394.8 81h0M390.4 82.3h0M383.4 81.8h0M398.3 81.8h0M385.6 80.7h0M400.7 79.9h0M388.3 78.4h0M388.4 78.2h0M394.2 76.2h0M401.8 66.4h0M391 78.8h0M393 73.2h0M391.7 82.3h0M385.5 65.1h0M389.1 77h0M402 70.5h0M402.5 81.3h0M388.4 61.7h0M402.1 80.2h0M383.5 81.6h0M397.9 78.8h0M383.7 78.4h0M391.9 81.1h0M391.7 73.8h0M392.1 80.3h0M402.5 79.5h0M390.4 81.9h0M383.6 80.9h0M385.5 66.4h0M398.6 78.4h0M385.8 78h0M384.4 74.8h0M387.2 80.1h0M403.2 82.3h0M392.3 81.5h0M386.2 81.4h0M396.7 78.3h0M390.9 80.8h0M394.5 78.9h0M403.6 82.2h0M397.5 80.9h0M394.2 81.8h0M403.7 76.7h0M393.6 76.9h0M392.5 73.3h0M400.6 82h0M402.8 74.5h0M397.9 74.2h0M390.7 62.5h0M391.5 81.2h0M383.4 78.7h0M388.1 81.2h0M399.1 75.5h0M393.2 78.3h0M400.8 80h0M396.9 73.1h0M394.8 81.6h0M399.7 81.4h0M393.4 80.3h0M396.9 75.1h0M393.2 80.7h0M390.4 80.5h0M398.9 80.9h0M384.7 81.8h0M403.2 76.9h0M431.9 77.9h0M436 81.4h0M427.1 82.3h0M434.9 73.8h0M435.6 82.2h0M438.3 68.6h0M442 76.3h0M432.9 81.6h0M430.3 76.2h0M427.6 80.5h0M430.7 81.2h0M432.6 73.2h0M442 81.8h0M433.9 80h0M436.8 78.4h0M437.8 79.6h0M424.9 81.4h0M428.9 74.6h0M434.4 82.1h0M425.7 65.3h0M427.4 77.5h0M438.2 72.5h0M436.8 79.7h0M427.2 80.1h0M426.8 80.2h0M439.8 74.9h0M433.2 80.1h0M430.4 79.3h0M437.6 80h0M436.7 82.3h0M442.5 79.8h0M426.6 79.5h0M438.5 77.5h0M432.9 77.9h0M429.1 78h0M433.6 80.9h0M425.1 82.1h0M426.9 78.4h0M426.6 80.5h0M437.1 78.9h0M437.4 80.8h0M429.1 78.2h0M430.2 68.7h0M438.5 76h0M431.6 77.5h0M430.9 77.2h0M441.6 78.6h0M434.4 81.1h0M434.3 75.7h0M435.6 76.7h0M425.4 82.1h0M431.8 81.8h0M438.8 82.1h0M436.4 82.3h0M440.6 74.1h0M430.3 78.7h0M433.2 57.7h0M428.9 71.3h0M428 78.2h0M426.3 76.2h0M428.3 78.9h0M427.6 77.3h0M432.6 74.6h0M432.1 73.1h0M438.4 71.6h0M438.6 70.6h0M434.4 77.2h0M436.5 81.1h0M433.1 77.1h0M430.3 75.8h0M433.7 73.6h0M436 80.3h0M441.8 74.1h0M439.3 80.5h0M425.9 78.2h0M436.2 75.7h0M426.3 79.5h0M435.8 80.1h0M439.9 77.7h0M437.2 69.1h0M426.8 67.7h0M432.3 80.7h0M428.2 80.1h0M436.5 75.4h0M437.4 74.1h0M437.9 77.4h0M431.1 79.1h0M435.4 81.8h0M428.4 73.4h0M441.3 74.5h0M441.5 77.2h0M425.2 81h0M434.8 68.5h0M437.6 77.6h0M476.3 67.6h0M476.1 82.3h0M469.3 79.1h0M465.4 80.3h0M465.1 58.8h0M473.9 80.9h0M473.4 78.9h0M474 79h0M474.6 79.2h0M470.3 81.9h0M475.6 82.3h0M471.8 77h0M471.4 78.8h0M474.7 68.6h0M471.7 79.4h0M473.6 72.6h0M476.2 74.5h0M467.6 78.7h0M473.3 70.8h0M466 80.8h0M469 80.3h0M475.3 74.3h0M476.9 76.4h0M476.5 81.8h0M473.4 76.1h0M474.9 66.1h0M475.4 78h0M471 80.6h0M465.1 78.2h0M461.5 77.5h0M473.5 81.7h0M473.4 76.5h0M473 67.7h0M470.5 82h0M471.8 80h0M472.8 78.8h0M469.8 80.4h0M471.8 77.9h0M464.8 81.2h0M469.8 71.7h0M471.3 73.5h0M470.4 76.3h0M465.3 74h0M463.2 74.1h0M471.7 80.1h0M463 78.8h0M474 75.7h0M464.1 76.2h0M473.6 80.3h0M466.9 78.4h0M475.7 81.4h0M464.8 60.7h0M463.7 81.3h0M472.1 81.8h0M473.7 80.5h0M466.8 81.5h0M468.8 62.7h0M471.9 74.2h0M466 78.4h0M467.5 81.8h0M470.3 62h0M466.1 66.2h0M463.6 76.3h0M475.8 74.7h0M463.2 78.9h0M477.1 67.9h0M474.8 74.1h0M468.4 77.2h0M475.1 67.9h0M462.2 81.2h0M470.3 72.1h0M466.9 73.4h0M466 79.6h0M475.6 78.4h0M461.8 81.6h0M475.1 77.6h0M462.5 76.9h0M472.1 78.1h0M469.7 81.6h0M476.1 81.1h0M474 78.6h0M462.8 81.7h0M466.1 79.2h0M469.1 73.3h0M498.4 80h0M507.1 72.4h0M505.2 71.7h0M500.4 82.2h0M496.3 78.7h0M502.3 81.8h0M501.9 64.8h0M494.4 82.3h0M499 70.1h0M506.7 81.3h0M501 82.1h0M496.1 74.1h0M502.7 74.3h0M500 77.7h0M506.6 75.8h0M500.5 79.5h0M493.9 76.5h0M495.8 69.2h0M496 82.1h0M507.1 80.8h0M498.6 76.3h0M498.5 78.3h0M507.5 75.2h0M496.4 75.8h0M502.4 74.6h0M507.1 79.8h0M506.5 72.9h0M495.8 78.3h0M500.2 81.3h0M497.1 76.7h0M503.5 69.3h0M497 80.1h0M496 75.5h0M497.4 62.4h0M495.4 80h0M503.7 75.1h0M497.5 79.9h0M499.2 67.5h0M497.4 74.1h0M498.9 79.7h0M497.9 76.5h0M498.6 80.9h0M503.6 79.3h0M496 76.5h0M503.3 81.2h0M498.5 80.3h0M494.8 73.2h0M495.2 78.4h0M506.4 79.5h0M494.1 79h0M497.5 73.5h0M505.8 81.6h0M494.6 67.6h0M496.5 74.5h0M497.3 78.2h0M505.5 75h0M495.2 80h0M507 81.9h0M495.2 74h0M501.6 78.9h0M504.6 79.1h0M501.5 66.4h0M500.8 80.9h0M499.8 76.1h0M497.1 72.9h0M507.7 65.3h0M499.3 72.8h0M502.6 80.6h0M501.8 77.5h0M507.3 79h0M497 81.3h0M495.7 81.1h0M506.4 81.3h0M500.8 76.9h0M502.7 78.4h0M526.9 80.9h0M526.1 76.6h0M533.3 81.1h0M532 81.1h0M535.2 73.5h0M537.5 61.3h0M526.9 78.6h0M536.8 74.1h0M534.4 79.6h0M531.5 81.3h0M537.3 66.8h0M530.8 79.8h0M523.9 79.8h0M525.3 78.5h0M527.9 77.7h0M533.4 77.1h0M531.5 80.9h0M533.2 78.9h0M523.8 78.8h0M527 63.5h0M531.4 79.7h0M532.8 73h0M529.6 82.1h0M526.6 78.8h0M527.9 72h0M534.3 77.3h0M533.7 73.1h0M527 80.2h0M537 81.4h0M524.1 78h0M526.8 76.9h0M529.7 78.4h0M534.9 77.7h0M531.5 77h0M533.1 75.9h0M537 79.9h0M528.7 72.2h0M526.1 81.5h0M529.3 57h0M531.5 81.6h0M525.4 77.6h0M524 79.2h0M533.8 80.4h0M537.5 80.8h0M536.7 82.2h0M528.8 73.7h0M529.9 77.3h0M535.3 72.7h0M537.5 78.4h0M528.6 78h0M537 81.7h0M533.4 65.4h0M525.6 79.1h0M529.9 75.8h0M523.5 77h0M529.3 77.5h0M530.9 72.4h0M534.8 77.7h0M528.2 80.6h0M532.7 75.9h0M532.9 75.6h0M530.9 76.5h0M532.2 78.1h0M530 79.7h0M532.2 79.3h0M530 81.5h0M536.4 81.9h0M525.1 74.1h0M535.8 76.7h0M534.1 70.8h0M523.7 81.8h0M533.7 68h0M528.7 65h0M530.7 77.2h0M530.9 69.9h0M533.9 81h0M556.8 74.2h0M550.6 81.4h0M554.3 64h0M549.5 77.4h0M557.4 65h0M548.8 80.7h0M557.9 82h0M554.1 76.5h0M555.8 79.9h0M555.1 74.4h0M553.5 75.9h0M552.9 81h0M550.7 74h0M551.4 81.5h0M549.6 66.5h0M551.2 78.6h0M554.9 77.5h0M553.9 62.3h0M554.1 82.1h0M553.7 76.2h0M557.7 81.5h0M556.8 78h0M554 76.6h0M557.9 78.2h0M551.2 73.4h0M555.4 76.2h0M554.9 80h0M555.1 81.1h0M555.7 74.8h0M552.3 77.4h0M557.6 78.5h0M554.1 73.2h0M551.9 73.3h0M554.8 82.2h0M555.2 77.2h0M557.4 73.6h0M554.7 80.6h0M553.7 80.1h0M552.1 73.6h0M552.7 74.2h0M551.4 77.6h0M554.6 76h0M556.9 79.6h0M554.3 75.4h0M550.6 79.9h0M549 79.7h0M557 73.3h0M551.5 66.3h0M555.2 80.9h0M571.6 80.6h0M568.1 66.3h0M572.5 82.1h0M572 80.8h0M576.1 79h0M573.8 81.3h0M574.8 80.8h0M571.1 82.1h0M575.9 79.2h0M575.3 73h0M568.6 80.9h0M573.7 80.7h0M575.9 75.4h0M573.7 77.1h0M576.5 78.3h0M570.1 81.7h0M573.1 80.7h0M572.6 78h0M570.5 80.9h0M574.8 78.6h0M571.7 74.3h0M573.6 74.5h0M574.8 80.6h0M574.3 72.4h0M568.7 75.8h0M568.3 78.6h0M575.2 75.3h0M573.7 72.4h0M569 78.3h0M572.3 79.4h0M569.4 69.9h0M576.2 81.5h0M569.8 80.1h0M576.3 81.5h0M574.2 81.2h0M572.8 79.3h0M573.8 74.3h0M574 82.1h0M570.4 79.8h0M572.2 80.2h0M568.4 78.7h0M568.2 70.7h0M576.3 74.4h0M575.5 79.8h0M574.6 81.1h0M568.7 76.6h0M573.4 81.7h0M574.2 80.6h0M571.7 81.2h0M591.4 81.6h0M590 82.1h0M594.5 81.5h0M590 79.2h0M591.3 81.5h0M594.1 81.5h0M594.1 78.4h0M591.5 80.9h0M590 81.4h0M592.8 75.4h0M591.3 79.3h0M593.3 81.5h0M593.4 73.8h0M592.4 78.2h0M594.5 74h0M592 74.7h0M594.5 82h0M592 79.6h0M588.7 78.3h0M591.8 65.1h0M592.9 79.4h0M590.3 82.2h0M588.3 80.5h0M589.7 81h0M593 74.7h0M588.6 81.1h0M587.1 77.4h0M593.8 78.1h0M594.5 70h0M593.7 79.9h0M593.2 81.4h0M592.6 72h0M591.2 79.4h0M592.7 80.9h0M589.5 59.5h0M588.6 80h0M592.3 77.6h0M591.6 72.8h0M594.6 81.6h0M590.2 81.4h0M590.2 81.2h0M608.3 74.4h0M606 80.4h0M602.4 82.2h0M603.2 80.2h0M605.3 72.7h0M608 71.5h0M608.3 80.6h0M606.7 75.2h0M607.7 71h0M602.7 76.4h0M605.3 77.4h0M605.1 73.5h0M603.5 73.7h0M605.7 77.7h0M605.6 77.9h0M608.2 80.5h0M602.5 81.7h0M604 79.8h0M603.2 82h0M603.5 73.3h0M604.1 77.1h0M604.4 71.1h0M608.1 79.8h0M604.2 81.4h0M605.1 73.4h0M603.1 70.5h0M603.5 71.1h0M603.5 71.3h0M605.7 69.3h0M604 75.5h0M603.9 76.9h0M605.4 73.6h0M602.2 81.3h0M607.5 75.6h0M602.4 74.5h0M604.7 77.6h0M614.5 81.4h0M615.7 81.3h0M614.2 78.8h0M615.3 72.8h0M616.1 76.5h0M613.7 63.9h0M614.4 65.4h0M617 79.3h0M613.6 75.3h0M613.9 73.1h0M616.8 73.4h0M616.2 72.6h0M615.3 63.4h0M616.9 81.1h0M614.3 78h0M613.4 81.4h0M616.7 80.2h0M616 75h0M614.8 80.2h0M615.8 74.7h0M613.7 81.8h0M614.7 74.2h0M615.7 82.1h0M616.9 74.7h0M614.7 78.4h0" stroke="#87CEEB" stroke-width="1.4" stroke-linecap="round" fill="none"/>
<path d="M324.9 81.9h0M324.3 81.5h0M321.4 81.8h0M315.1 84.7h0M327.2 82.6h0M316.9 82h0M315.6 81.9h0M321.2 82.6h0M332.5 84h0M326.1 83.9h0M324.5 80.8h0M310 87.2h0M328.1 81.4h0M317.8 88h0M323.3 82.1h0M321.5 88h0M327.5 80.9h0M307.5 86h0M314.1 80.9h0M312 81.2h0M324.7 80.8h0M309.7 83.2h0M309.1 81h0M320.7 91.9h0M308.4 82.5h0M327.7 88.6h0M348.3 87.9h0M343 81.9h0M337.2 85.9h0M345.2 85.8h0M339.4 85.2h0M358.9 81.4h0M354.6 84.4h0M341.8 81.5h0M347.9 81.3h0M346.7 81.8h0M350.3 93.6h0M359.5 83.4h0M341.6 81.5h0M350.6 82.7h0M347.7 82.6h0M359.7 92.2h0M340 81.1h0M351.5 82.3h0M336.6 82.5h0M348.7 85h0M359.8 82.4h0M353.4 84.2h0M335 84.3h0M360.5 86.8h0M348.6 91.6h0M349.7 85.4h0M365.2 83.9h0M377.6 82.5h0M373.6 90.1h0M367.2 94.3h0M377.2 81.7h0M364.2 93.2h0M362.6 85.9h0M367.4 82.1h0M372.1 87h0M374.7 82.1h0M368.3 81h0M373.6 84.2h0M381.8 81.8h0M382.2 81.4h0M368 87.5h0M371.6 93.1h0M378.3 91.7h0M379.9 81h0M381.2 85h0M369.8 85.3h0M403 80.9h0M399.5 83.2h0M387 86.9h0M394.8 83.4h0M384.7 80.8h0M384.5 90h0M400.9 84.4h0M383.2 85.2h0M385.2 81.7h0M385.4 81.5h0M397.8 81.4h0M396.1 81.9h0M387.6 82.3h0M391.6 86.3h0M402.7 86.1h0M387.5 80.7h0M384.6 81.2h0M396.5 83h0M385.4 83.6h0M394.6 81.7h0M388.4 84.6h0M422.3 88.2h0M418.7 83.2h0M417.3 86.2h0M422.3 82.1h0M409.1 84.3h0M411 85.9h0M420.6 81.7h0M413.1 81.4h0M413.2 80.9h0M420.1 86.7h0M423.7 84.6h0M421.6 84.5h0M413.2 89.6h0M418.1 88.4h0M409 83.7h0M409.5 85.7h0M408.6 80.8h0M417.7 84.3h0M422.7 81.2h0M425.7 85.9h0M436.2 93.6h0M427.6 81.5h0M439.9 81.8h0M436.7 87.1h0M434.1 81h0M427.1 80.7h0M433.8 94.3h0M442 87.8h0M426.1 83h0M441.2 87h0M427.3 88.4h0M437.1 84h0M431.1 82.8h0M448.6 84.6h0M452.1 94.7h0M448 81.5h0M448.3 83.2h0M458.2 80.9h0M444.6 81.5h0M456.4 81.5h0M455.3 81.5h0M455.1 82.1h0M448 81h0M455.2 81h0M449.9 84.8h0M458.9 82.8h0M455.3 87.8h0M449 80.8h0M466.3 81.8h0M464.2 83h0M475.7 84.1h0M473.3 85h0M462.1 85.9h0M462.5 83h0M473.1 87.1h0M473.2 87.7h0M471.4 89.4h0M469.1 85.6h0M468.7 81.4h0M470.8 82.4h0M462.9 82.1h0M474 82.9h0M473.7 84.3h0M472.2 92.3h0M491.7 81.6h0M481.2 92.5h0M488 83.2h0M484.7 82h0M481.6 91.5h0M479 82.8h0M487 82.3h0M480.9 85.8h0M486.6 81.4h0M484.4 84.5h0M484.1 88.2h0M490.9 82h0M479.6 81.6h0M486.3 83.7h0M484.2 82.1h0M503.6 81.9h0M494.3 81h0M505.8 91.8h0M493.6 84.3h0M494.2 82.8h0M498.3 83.1h0M500 86.1h0M493.6 84.1h0M497.6 83h0M507.6 85.7h0M504.6 87.3h0M494.3 90h0M506 82.9h0M500.2 95.3h0M507.6 82.5h0M510.7 94.5h0M515.7 83.2h0M511.2 83.7h0M516.9 81.7h0M522.2 88.7h0M509.6 83.4h0M514.9 88.5h0M510 83.4h0M516.2 83h0M516.7 88.2h0M515.5 88.1h0M509.3 83.8h0M518.4 82.3h0M528.1 81.4h0M536.3 84.9h0M529.7 83.1h0M526.3 91.9h0M535.4 87.1h0M530.7 80.9h0M529.6 86.1h0M536.3 80.7h0M534.1 89.7h0M523.7 85h0M537.2 85.3h0M530 86.1h0M526.1 83.8h0M536.4 87.5h0M529.5 85.8h0M539.5 87.2h0M546.4 80.8h0M546.7 80.9h0M541.8 80.7h0M542.2 87h0M542.3 83.9h0M541.2 87.2h0M547.1 82.1h0M543.5 85.4h0M545.1 84.3h0M556 82.7h0M555.6 88.6h0M549.8 86.1h0M556.3 81.3h0M549.6 81.4h0M551.7 81.3h0M558 87.8h0M554.9 83.4h0M556.8 90.6h0M557.5 83.5h0M565 91.8h0M561.6 80.8h0M564.2 84.4h0M562.2 86.9h0M566.8 81.7h0M561.6 85.2h0M561 87.6h0M574.7 92.4h0M569.1 85.4h0M570.5 84.4h0M570.2 86.9h0M574 83.1h0M569 84.4h0M576.7 85.6h0M568.8 88.6h0M572.6 84.4h0M574.1 81.1h0M580.9 82.9h0M582 85.1h0M582.1 81.1h0M577.9 87.6h0M580.5 82.1h0M582.5 88h0M583.6 85.2h0M581.3 82.6h0M583.9 84.2h0M594.1 87.9h0M587 81.9h0M593 80.8h0M590.6 83.8h0M593.6 83.7h0M591.7 81.6h0M587.1 80.8h0M592.3 82.5h0M599.4 80.8h0M598.6 81.7h0M599.7 83.8h0M597.9 83.1h0M597.1 83h0M600 85.5h0M603.6 89.5h0M602.9 83.8h0M606.3 84.2h0M603 81.8h0M603.9 88h0M603.8 87.7h0M612.2 83.3h0M611 82.4h0M610.5 82.5h0M617.2 85.4h0M614.8 90.4h0M614.7 85.3h0M614.5 83.6h0M615.6 81.2h0" stroke="#fff" stroke-width="1.2" stroke-linecap="round" fill="none"/>
<path d="M322.1 89.9V73.1M322.3 90.3V73.1M322.4 89.5V73.1M335.5 87.4V73.1M338.8 82.8V73.1M342.1 85.2V73.1M372.4 88.2V73.1M376.2 92.8V73.1M397.1 85.8V73.1M397.5 83.5V73.1M419.3 92.8V73.1M420.1 81.8V73.1M435.1 86.3V73.1M435.2 90.2V73.1M448.8 86.4V73.1M457.8 82.2V73.1M464.8 86.4V73.1M470.5 92.9V73.1M487.1 88.9V73.1M499.7 91.2V73.1M516.9 85.6V73.1M535.8 83.6V73.1M547 82.1V73.1M555.2 90.1V73.1M563.3 92.4V73.1M572.8 89.8V73.1M582.2 84.7V73.1M587.9 83.2V73.1" stroke="#fff" stroke-width="0.5" fill="none"/>
<rect x="321.2" y="73.1" width="0.9" height="43.4" fill="#fff"/>
<rect x="483.2" y="73.1" width="0.9" height="41.7" fill="#fff"/>
<rect x="572.3" y="78.9" width="0.9" height="28.9" fill="#fff"/>
<path d="M327 54h0M373 49.4h0M380 40.7h0M439 53.4h0M455 44.8h0M366 58.6h0M521 58.6h0M543 55.2h0M562 55.7h0M600 56.9h0M586 57.5h0" stroke="#A8A8A8" stroke-width="1.4" stroke-linecap="round" fill="none"/>
<path d="M336 56.3h0M393 65h0M453 50.5h0M500 55.2h0M503 54.6h0M536 57.5h0M591 58.1h0M608 58.6h0" stroke="#6FC0E0" stroke-width="1.4" stroke-linecap="round" fill="none"/>
<line x1="297.5" y1="76.3" x2="626.6" y2="76.3" stroke="#D9534F" stroke-width="0.9"/>
<line x1="297.5" y1="35.5" x2="297.5" y2="116.5" stroke="#444" stroke-width="0.8"/>
<line x1="294.5" y1="116.5" x2="297.5" y2="116.5" stroke="#444" stroke-width="0.8"/>
<text x="292.5" y="118.5" font-size="5.8" text-anchor="end" fill="#333">0</text>
<line x1="294.5" y1="104.9" x2="297.5" y2="104.9" stroke="#444" stroke-width="0.8"/>
<text x="292.5" y="106.9" font-size="5.8" text-anchor="end" fill="#333">2</text>
<line x1="294.5" y1="93.4" x2="297.5" y2="93.4" stroke="#444" stroke-width="0.8"/>
<text x="292.5" y="95.4" font-size="5.8" text-anchor="end" fill="#333">4</text>
<line x1="294.5" y1="81.8" x2="297.5" y2="81.8" stroke="#444" stroke-width="0.8"/>
<text x="292.5" y="83.8" font-size="5.8" text-anchor="end" fill="#333">6</text>
<line x1="294.5" y1="70.2" x2="297.5" y2="70.2" stroke="#444" stroke-width="0.8"/>
<text x="292.5" y="72.2" font-size="5.8" text-anchor="end" fill="#333">8</text>
<line x1="294.5" y1="58.6" x2="297.5" y2="58.6" stroke="#444" stroke-width="0.8"/>
<text x="292.5" y="60.6" font-size="5.8" text-anchor="end" fill="#333">10</text>
<line x1="294.5" y1="47.1" x2="297.5" y2="47.1" stroke="#444" stroke-width="0.8"/>
<text x="292.5" y="49.1" font-size="5.8" text-anchor="end" fill="#333">12</text>
<line x1="294.5" y1="35.5" x2="297.5" y2="35.5" stroke="#444" stroke-width="0.8"/>
<text x="292.5" y="37.5" font-size="5.8" text-anchor="end" fill="#333">14</text>
<text x="271.5" y="78.5" font-size="6.6" text-anchor="middle" fill="#333" transform="rotate(-90 271.5 76.2)">&#8722;log<tspan font-size="4.4" dy="1.4">10</tspan><tspan dy="-1.4">(</tspan><tspan font-style="italic">p</tspan>)</text>
<line x1="317.4" y1="117" x2="615.7" y2="117" stroke="#444" stroke-width="0.6"/>
<line x1="317.4" y1="117" x2="317.4" y2="120.5" stroke="#444" stroke-width="0.7"/>
<text x="317.4" y="130.2" font-size="5.8" text-anchor="middle" fill="#333">1</text>
<line x1="347.8" y1="117" x2="347.8" y2="120.5" stroke="#444" stroke-width="0.7"/>
<text x="347.8" y="130.2" font-size="5.8" text-anchor="middle" fill="#333">2</text>
<line x1="373.5" y1="117" x2="373.5" y2="120.5" stroke="#444" stroke-width="0.7"/>
<text x="373.5" y="130.2" font-size="5.8" text-anchor="middle" fill="#333">3</text>
<line x1="392.7" y1="117" x2="392.7" y2="120.5" stroke="#444" stroke-width="0.7"/>
<text x="392.7" y="130.2" font-size="5.8" text-anchor="middle" fill="#333">4</text>
<line x1="417" y1="117" x2="417" y2="120.5" stroke="#444" stroke-width="0.7"/>
<text x="417" y="130.2" font-size="5.8" text-anchor="middle" fill="#333">5</text>
<line x1="429.6" y1="117" x2="429.6" y2="120.5" stroke="#444" stroke-width="0.7"/>
<text x="429.6" y="130.2" font-size="5.8" text-anchor="middle" fill="#333">6</text>
<line x1="452.8" y1="117" x2="452.8" y2="120.5" stroke="#444" stroke-width="0.7"/>
<text x="452.8" y="130.2" font-size="5.8" text-anchor="middle" fill="#333">7</text>
<line x1="469.4" y1="117" x2="469.4" y2="120.5" stroke="#444" stroke-width="0.7"/>
<text x="469.4" y="130.2" font-size="5.8" text-anchor="middle" fill="#333">8</text>
<line x1="489.9" y1="117" x2="489.9" y2="120.5" stroke="#444" stroke-width="0.7"/>
<text x="489.9" y="130.2" font-size="5.8" text-anchor="middle" fill="#333">9</text>
<line x1="502.2" y1="117" x2="502.2" y2="120.5" stroke="#444" stroke-width="0.7"/>
<text x="502.2" y="130.2" font-size="5.8" text-anchor="middle" fill="#333">10</text>
<line x1="515.4" y1="117" x2="515.4" y2="120.5" stroke="#444" stroke-width="0.7"/>
<text x="515.4" y="130.2" font-size="5.8" text-anchor="middle" fill="#333">11</text>
<line x1="530.9" y1="117" x2="530.9" y2="120.5" stroke="#444" stroke-width="0.7"/>
<text x="530.9" y="130.2" font-size="5.8" text-anchor="middle" fill="#333">12</text>
<line x1="543.5" y1="117" x2="543.5" y2="120.5" stroke="#444" stroke-width="0.7"/>
<text x="543.5" y="130.2" font-size="5.8" text-anchor="middle" fill="#333">13</text>
<line x1="554.8" y1="117" x2="554.8" y2="120.5" stroke="#444" stroke-width="0.7"/>
<text x="554.8" y="130.2" font-size="5.8" text-anchor="middle" fill="#333">14</text>
<line x1="564" y1="117" x2="564" y2="120.5" stroke="#444" stroke-width="0.7"/>
<line x1="573.5" y1="117" x2="573.5" y2="120.5" stroke="#444" stroke-width="0.7"/>
<text x="573.5" y="130.2" font-size="5.8" text-anchor="middle" fill="#333">16</text>
<line x1="582.4" y1="117" x2="582.4" y2="120.5" stroke="#444" stroke-width="0.7"/>
<line x1="592" y1="117" x2="592" y2="120.5" stroke="#444" stroke-width="0.7"/>
<text x="592" y="130.2" font-size="5.8" text-anchor="middle" fill="#333">18</text>
<line x1="599.2" y1="117" x2="599.2" y2="120.5" stroke="#444" stroke-width="0.7"/>
<line x1="606.5" y1="117" x2="606.5" y2="120.5" stroke="#444" stroke-width="0.7"/>
<text x="606.5" y="130.2" font-size="5.8" text-anchor="middle" fill="#333">20</text>
<line x1="612.4" y1="117" x2="612.4" y2="120.5" stroke="#444" stroke-width="0.7"/>
<line x1="615.7" y1="117" x2="615.7" y2="120.5" stroke="#444" stroke-width="0.7"/>
<text x="462" y="145.7" font-size="6.4" text-anchor="middle" fill="#333" textLength="38" lengthAdjust="spacingAndGlyphs">Chromosome</text>
<text x="9" y="189.1" font-size="18">C</text>
<text x="77.6" y="198" font-size="9.2" fill="#222" textLength="35.5" lengthAdjust="spacingAndGlyphs">Validated</text>
<circle cx="121.9" cy="195.2" r="1.5" fill="#E6E6E6"/>
<text x="132" y="197.6" font-size="6.6" fill="#222">No</text>
<circle cx="150.7" cy="195.2" r="1.5" fill="#D9A3AC"/>
<text x="161.4" y="197.6" font-size="6.6" fill="#222">Yes</text>
<path d="M111.3 295.4h0M119.3 294.5h0M130.3 291.9h0M113.3 295.5h0M119.7 292.5h0M135.4 289.9h0M112.7 296.2h0M115.2 297h0M130.6 286.9h0M113.2 295.2h0M110.4 295.6h0M137 282.3h0M129.5 286.2h0M138.9 286.6h0M117.5 295.4h0M148.7 281.1h0M125.7 289.3h0M125.6 293.7h0M145.5 281.5h0M142.1 285.2h0M112.7 293.4h0M140 281.2h0M127.9 289.9h0M125.3 290.3h0M125.2 288.9h0M119.6 289.2h0M136.2 286.9h0M139.4 283.2h0M146.8 285.4h0M122.9 292.7h0M138.6 284h0M115.7 291.9h0M147.7 281.8h0M121.8 290.2h0M124.7 287.6h0M113.5 296.1h0M113.3 293.8h0M111.5 296.6h0M120.8 290.9h0M113.8 295.6h0M140.5 285.2h0M116 296.2h0M145.4 284.4h0M123.6 288.9h0M113.3 296.6h0M115.7 297.8h0M135 284.6h0M134 289.1h0M146.6 282.1h0M138.3 286.5h0M131.3 295.2h0M123.4 285.1h0M127.9 286.9h0M128.6 289.5h0M131.4 285.4h0M111.2 295.8h0M131.2 290.7h0M146.1 282.5h0M128.6 286.8h0M148.9 282.8h0M118.4 294.2h0M110.6 295.3h0M147.4 282.8h0M140.5 280.2h0M127.7 284.8h0M142.5 284.3h0M117.1 293.2h0M116.4 296.3h0M111.7 295.6h0M117.3 290h0M129 295.1h0M149.2 281.4h0M146 282.9h0M148.8 279.8h0M130.6 293.3h0M126.7 294h0M115.9 296.9h0M121.6 293.2h0M115.2 296.3h0M140.9 286.5h0M82.5 303.8h0M74.6 300.9h0M85.9 301.8h0M81.9 297.4h0M88.4 297.6h0M77.2 303.8h0M82.2 303.4h0M78.5 300.3h0M92.5 293.3h0M92.4 290.8h0M82.6 293.5h0M90.1 292h0M75.7 306.1h0M91.5 299.8h0M93.4 292.5h0M80 295.1h0M73.6 304.3h0M73.9 302.1h0M83.1 297h0M75.4 302.9h0M93.4 292.7h0M80 295.7h0M80.9 303.9h0M85.1 298.1h0M80.8 304.7h0M80.9 299.2h0M88.5 292h0M80.2 299.7h0M77.8 296.4h0M80.3 304.6h0M82.5 303.8h0M81.5 303.4h0M76.8 298.2h0M87.5 292.9h0M76.6 304.4h0M89.2 293.4h0M92.8 292.7h0M88.1 295.6h0M88.9 293.5h0M88.1 292.4h0M77.7 296.6h0M81.9 300.8h0M86.3 298.5h0M80.4 304.9h0M90.6 299.6h0M89.2 300.5h0M84.1 298.4h0M82.2 296h0M78 296.3h0M90.8 294.8h0M82 298.8h0M91.2 298h0M83.3 298h0M80.3 304.2h0M91.6 298.4h0M82 305.3h0M91.4 297.7h0M81 300.3h0M85.2 301.3h0M79.5 304.5h0M85 299.3h0M78.4 303.3h0M80.4 296.7h0M91.2 292.8h0M87.6 299.8h0M85.2 302.4h0M74.5 299.2h0M93.4 294.2h0M81.2 295.7h0M93.6 291.4h0M84.7 298.7h0M92.8 292.4h0M76.8 302.3h0M91.5 291.2h0M84.6 295.8h0M43.5 288h0M66 294h0M70 300h0M117 304h0M150 282h0" stroke="#DADADA" stroke-width="3.2" stroke-linecap="round" stroke-opacity="0.85" fill="none"/>
<path d="M129.5 288.7h0M111.6 295.9h0M119.9 291h0M142 281.3h0M147.2 281.1h0M124.8 292.5h0M145.4 286.2h0M141.6 285.8h0M127 286.4h0M126.5 289.2h0M140.3 284.1h0M116.4 296.7h0M116.7 292.6h0M116.5 290.7h0M122.1 293.9h0M142 282h0M140.5 280.9h0M117.5 293.7h0M111.1 294.9h0M149.1 283.4h0M144 282.3h0M112 296.6h0M122.1 296.8h0M124.9 289.7h0M110.7 297.1h0M122.2 293.5h0M137.5 284.7h0M136.3 288.8h0M131.9 286.9h0M112.4 297.9h0M132.3 287.3h0M130.3 288.3h0M133.9 286.2h0M141.2 281.2h0M110.2 295.3h0M148.2 281h0M141.8 285.6h0M126.3 288.3h0M124.3 292.5h0M125.4 288.5h0M131 288.3h0M141.6 282.5h0M128.6 290.3h0M111.1 297.3h0M124 287.9h0M148.3 280.2h0M122.3 291h0M117.1 294.9h0M131.2 291.7h0M118.2 296.1h0M138.7 285.8h0M112.4 294.9h0M143 283.9h0M148.7 280.1h0M145.2 282.4h0M133.2 281.3h0M124.3 291h0M113.8 295.5h0M122.2 291.6h0M142 286.4h0M114.9 294.1h0M118.1 296h0M144.7 282.3h0M125.3 288.4h0M134 290.3h0M109.9 295.8h0M135.4 293.1h0M146.8 280.2h0M148.4 280.1h0M117.9 293.8h0M136.8 289.9h0M128.7 288.3h0M146.2 284.3h0M122.9 287h0M111 296.5h0M124.3 291.5h0M142.9 282.5h0M116.2 297h0M110.8 295.6h0M130.7 286.8h0M89.2 300.4h0M86.8 297.9h0M86.7 299h0M84.2 300.9h0M86.4 292.2h0M84.8 294.5h0M83 300.2h0M93.6 295.6h0M91.7 298.1h0M75.4 297.7h0M87.5 300.6h0M78.9 300.6h0M86.9 299.6h0M84.7 297.5h0M77.6 304.2h0M79.4 296.5h0M74.9 303.9h0M79.7 305.7h0M75.8 305.8h0M89.6 300h0M91.4 296.5h0M76.1 297.7h0M93.5 292.7h0M84.7 302.8h0M78.2 298.5h0M79.5 295.7h0M91.4 295.1h0M76.6 305.9h0M72.5 303.6h0M89.8 295.6h0M77.4 303.4h0M79.6 303.7h0M80.3 305.9h0M80.8 303h0M76.1 304.8h0M74.7 300.1h0M94.4 293.1h0M88.8 300.4h0M93.4 294.9h0M74.8 299h0M80.7 302.1h0M91.4 299.1h0M73 299.5h0M92.1 295h0M86.9 299h0M74.1 305.5h0M74.1 301.1h0M91 297.3h0M89 291.7h0M78.7 295.2h0M93.3 292.3h0M84.5 292.8h0M81.5 296.2h0M86.7 297.8h0M77.9 297.1h0M87.9 295.6h0M86.2 291.3h0M83.5 303.6h0M79 306.2h0M88.1 302.2h0M93 292.8h0M80.8 298.8h0M81.2 304.4h0M83.5 303.7h0M93.1 295h0M94.5 295h0M75.8 300.8h0M89 294.9h0M79.7 300.1h0M76.8 301.6h0M83.8 295.4h0M90.5 296.3h0M88.4 302.5h0M90.6 297.1h0M87.4 300.3h0M59 291h0M66 302h0M118 301h0M128 296h0M141 289h0" stroke="#DADADA" stroke-width="3.2" stroke-linecap="round" stroke-opacity="0.85" fill="none"/>
<path d="M123.1 278.5h0M149.1 262h0M133.4 275.9h0M156.2 257.6h0M126.2 279.5h0M115.5 287.3h0M124.2 275.8h0M153 257.3h0M122.1 272.6h0M148.3 256.7h0M144.7 265.8h0M119.6 280.2h0M117.4 284.7h0M109.6 283h0M134.2 278.5h0M140.6 260.4h0M122.8 280.5h0M155.8 252h0M108.3 291.9h0M146 257.6h0M112.4 280.5h0M155.8 247.3h0M110.6 285.9h0M151.5 250.2h0M128.9 276.9h0M125.6 284.9h0M104.2 283.8h0M114 277.2h0M127.2 276.7h0M157.4 256.1h0M157 252.2h0M111 288.4h0M137.2 270.3h0M108.9 290.7h0M115.4 291.5h0M140.3 268.5h0M129.6 264.3h0M151.9 252.9h0M153.7 254.8h0M112.4 281.6h0M138.4 264.1h0M146.7 256.3h0M144.4 257h0M138.1 270.9h0M131.7 268.5h0M132.4 263.1h0M125.4 271.1h0M135.8 268.2h0M157.5 261h0M125.2 277.9h0M134.1 279.4h0M130.7 275.3h0M145.9 248.8h0M120.1 282.4h0M126.3 269.5h0M141.3 255.3h0M123.2 270.5h0M155.3 262h0M129 262.4h0M109.9 284.9h0M129.1 280.8h0M115.6 287.1h0M123.5 265.8h0M124.9 275.7h0M122.3 275h0M148.9 256.6h0M154.6 256.7h0M143.9 258.1h0M145.2 258.6h0M156.1 259h0M149.9 248.4h0M114.3 282.5h0M154 255.8h0M111.3 280.1h0M118.5 277.4h0M143.7 254h0M114.1 285.5h0M155.2 250.2h0M156.3 255.1h0M107.2 292h0M139.5 265.3h0M153.5 252.2h0M135.3 270.1h0M134.4 269.4h0M132.8 262h0M138.6 273.1h0M137.3 268.3h0M144.2 266.5h0M153.3 248.7h0M112.4 289.9h0M124.6 289.3h0M107.2 291.5h0M106.7 284.2h0M116.8 282.8h0M153 254.1h0M123.4 279h0M136.8 265.5h0M124.1 280.2h0M156.8 249.8h0M116.9 283.8h0M124.6 272h0M125.8 276.3h0M120.2 285.8h0M109 286.4h0M128.8 277.8h0M114.2 279.5h0M106.8 289h0M151.7 254.2h0M128.1 282.1h0M105.6 288.8h0M142.3 271h0M126.3 265.2h0M141.6 262.3h0M128 280.1h0M115.3 287.4h0M136.3 260.8h0M123 269.6h0M153.9 258h0M119.3 272.5h0M119.5 284h0M114.5 281.4h0M119.5 280.4h0M125.5 289.9h0M138.6 276.4h0M128.4 279.3h0M154.2 248.4h0M117.7 283.7h0M155.2 252.8h0M123.4 276.8h0M135.9 277h0M152.9 247.8h0M147.7 260.4h0M155.6 252.7h0M131.8 265.8h0M128.2 285h0M137.3 258.3h0M142 263.2h0M108.5 289.2h0M106.6 279.8h0M152.6 248.8h0M140.8 257.8h0M151.1 260.2h0M118.6 286.5h0M157.8 252.5h0M122.7 279.6h0M107.9 277.9h0M125.6 277.2h0M122.9 274.5h0M111.5 291.4h0M153.7 261h0M157 262.7h0M118.5 285.3h0M137.6 272h0M148.9 252.2h0M126.2 275.9h0M128.6 264.9h0M121.6 284.3h0M126.6 266.7h0M121.8 277.3h0M146.8 254.5h0M113.2 282.7h0M108.7 290.4h0M151.7 252.6h0M115.8 284.6h0M131.5 264.3h0M147.4 267.7h0M121.2 274.9h0M156.6 255.8h0M130.7 285.9h0M109.6 274h0M107.5 285.4h0M152.5 253.7h0M120.8 286.3h0M151.7 252.9h0M131.3 274h0M153.1 251h0M111.9 288.8h0M147.5 252.1h0M158.4 252.7h0M133.9 250.1h0M108.4 279.2h0M160.2 253.1h0M148.4 258.9h0M114.6 279h0M160.4 256.3h0M113 290.2h0M115.8 289.1h0M106.2 289.2h0M139.1 269.5h0M128.9 276.6h0M106.9 282.5h0M133.9 273.4h0M151.5 254.5h0M113.9 290.7h0M143.7 270.4h0M113.2 281.7h0M130.8 267.5h0M124.7 277.7h0M122.6 282.2h0M106.1 289.4h0M135.9 266.9h0M131.3 275.5h0M143.5 264.5h0M119 287.4h0M157.6 251.3h0M105.7 288h0M111.4 276.4h0M142.2 268.2h0M112.3 284.2h0M118.7 278.9h0M131.3 269.2h0M140.8 254.1h0M150.1 254.4h0M114.4 267.3h0M139.1 262.5h0M105.8 287.8h0M156.9 260.3h0M142.6 265.4h0M152.6 253.5h0M117.6 282.8h0M134.5 273.9h0M142.6 257.7h0M107 289.1h0M149 255.4h0M150.8 272.1h0M147.4 259.1h0M109.4 277.4h0M148.9 262.3h0M144.4 279h0M111.5 281.4h0M121.8 296.7h0M150.6 255.8h0M130.3 278.9h0M118.6 277.5h0M124.5 274.7h0M137.9 258h0M110.5 281.7h0M108.8 276.8h0M143.7 269.3h0M149.9 251h0M142.3 265.1h0M155.9 253.2h0M118.9 276.7h0M124.8 276.6h0M125.3 275.3h0M123.2 274.1h0M120.3 280.1h0M147.5 258.8h0M117.7 275.2h0M123.5 268.3h0M127.9 267.9h0M158 250.5h0M127.8 283.2h0M146.8 268.8h0M124.2 278.8h0M150.5 261.8h0M126.8 275.6h0M109 292.1h0M133.8 270.1h0M125 278.7h0M119.1 278.9h0M121.4 278.9h0M108.5 293.5h0M140.5 256.4h0M134.7 268.6h0M137.3 262.5h0M139.1 271.9h0M132.1 283.1h0M129 270.8h0M121.5 259.3h0M155.2 255.3h0M126.3 279.2h0M109.6 278.8h0M109.9 286.6h0M123.5 276.8h0M128.1 257.5h0M138.8 270.1h0M145.4 263h0M141.3 265h0M108.1 284.2h0M124.1 271.9h0M123.3 273h0M113.2 287.6h0M133.4 262.6h0M150.8 264.9h0M109.1 289.8h0M126.3 259.7h0M116.5 291.2h0M147 259.9h0M133.3 265.7h0M109.8 288.2h0M126.7 261.8h0M119.3 281.7h0M109.8 273.1h0M137.5 259.4h0M131.8 280.2h0M157.1 256.6h0M153 252.5h0M147.9 252.8h0M130.7 278.2h0M153 253.9h0M110.3 288.3h0M148.3 261.7h0M121.2 271.6h0M153.2 258.2h0M103.9 284.6h0M141.1 273.8h0M106.3 283.5h0M119.5 276.2h0M133.2 264.9h0M115.2 287.5h0M144.6 265.7h0M134.1 271.5h0M119.4 283.7h0M135.7 271h0M129.1 272.3h0M104.3 284.8h0M135.7 252.5h0M136 252.3h0M153.3 253.6h0M154.6 251.9h0M124.9 275.1h0M140.3 265.6h0M136.9 265h0M106.8 285.9h0M139 255.3h0M114.3 272h0M132.4 278.8h0M141.5 269.5h0M127.7 264.2h0M119.8 278.2h0M152.6 256.7h0M114.7 291.6h0M135.4 263.6h0M116.2 283.8h0M156.7 256.4h0M151.1 247.9h0M140.9 258.7h0M152 254.7h0M143.8 256.8h0M147.1 273.2h0M147.7 263.8h0M153.9 254.3h0M114.5 278.2h0M146.7 264.6h0M117.2 285.6h0M128.3 269.7h0M122.3 275h0M134.2 258.7h0M139.1 264.4h0M155 256.7h0M152.5 260.1h0M110.7 289.5h0M117.4 286.5h0M107.2 287.3h0M141.5 259.9h0M128.1 281.7h0M157.5 252.1h0M114.9 278.9h0M156.8 253.1h0M148 263.2h0M147.9 262.5h0M138.1 266.5h0M150.8 253.1h0M119.5 282.7h0M155.6 261h0M152.2 255.4h0M135.4 263.1h0M141.6 265.3h0M114.3 276.6h0M132.4 271.7h0M135.6 265.5h0M125.6 281.8h0M108.4 289.1h0M157.5 254.8h0M154.6 266.4h0M124.3 274.9h0M130.9 265.4h0M138.4 268.7h0M155.7 251.5h0M135.6 268.6h0M141.8 258.9h0M149.4 260.1h0M111.4 286.7h0M129 257.6h0M153.9 252.2h0M149.8 258.4h0M156.6 256.6h0M112.9 282h0M144.1 256h0M124.2 283.9h0M150.1 253.1h0M147.2 259.2h0M127.2 277.4h0M138.7 270.4h0M130.5 271.6h0M152.7 249.5h0M138.3 272.6h0M109.1 286.2h0M132.1 266.6h0M110.3 294h0M115.4 288h0M127.9 266h0M128.4 269.8h0M109.1 287.1h0M121.3 273.6h0M114.9 271.1h0M123.5 282.2h0M131.8 276.1h0M108.3 289.7h0M107 288.3h0M118.9 281.9h0M145.3 264.2h0M152.6 249.8h0M144.3 258.7h0M108.8 285.9h0M150.9 259.6h0M149.4 258.3h0M146.5 251.9h0M141.9 258.6h0M125.1 287h0M128.5 266.2h0M129.5 273.4h0M106.7 287.7h0M138.4 274.2h0M119.6 279.6h0M154.7 250.9h0M136.9 258.6h0M147.5 256.9h0M109.2 291.1h0M145.2 264.5h0M144 253.2h0M135.4 278.7h0M118.4 279.4h0M127.7 266.2h0M135.1 268.9h0M126.5 270.3h0M120.7 275.3h0M138.8 260.8h0M152.2 254.2h0M118.4 277.7h0M147.7 249.4h0M109.9 289.7h0M140.1 260.5h0M127.9 281.7h0M135.2 271.7h0M126.5 278.8h0M110.6 287.8h0M118.2 288.4h0M156.8 249.9h0M124.3 269.4h0M156.1 252.9h0M123.7 257.5h0M151.9 253h0M129.9 273.5h0M157 249.6h0M135.2 276.7h0M121.6 282.8h0M115.5 283.8h0M108.9 286.5h0M114.4 289.5h0M139.3 260.1h0M123.5 274.1h0M153.3 257.6h0M118 284.7h0M158.9 258.2h0M115.3 282h0M114.2 272.1h0M125.9 279.5h0M123.6 284.9h0M127 273h0M152.2 263.7h0M113.6 292.6h0M116.7 278.1h0M107.8 287.1h0M142.6 254.4h0M113.6 287.4h0M135 273.1h0M152.7 257.3h0M118.5 272.6h0M110.2 283.4h0M115.4 274h0M151.5 248.2h0M107.8 282.6h0M146.9 250.3h0M111.8 285.1h0M115.7 285.4h0M148 261.6h0M139.2 264.5h0M120.5 274.7h0M142.5 262h0M115.2 286.4h0M151.1 253.9h0M136.1 267.4h0M154.6 251.4h0M135.2 264.1h0M135.9 267.5h0M147.7 252h0M139.9 271.5h0M107 282.4h0M139.4 267.7h0M117 273.1h0M144.2 271.1h0M159 251.4h0M135 262.3h0M148.1 255.2h0M120.7 271.4h0M106.5 289.9h0M109.2 289.6h0M111 295h0M113.3 276.5h0M123.9 284.5h0M120.8 275.1h0M140.9 265.2h0M147.6 263.6h0M147.6 261.4h0M146.4 261.7h0M149.9 255.2h0M143.5 261.3h0M130.4 272.6h0M131.5 279h0M107 283h0M105.9 289h0M147.3 251.6h0M111.2 281.2h0M148.9 252.9h0M130.5 279.1h0M113.5 293.7h0M152.8 261.7h0M139.4 256.8h0M158 250.2h0M130.3 263.6h0M155.3 254.1h0M136.7 275.6h0M121.4 282.2h0M129.8 278h0M139.8 263.2h0M147.5 248.4h0M142.9 250.4h0M154.2 252.5h0M135.9 271.3h0M134.3 277.4h0M132.1 267.7h0M154.7 252.9h0M125.9 276.8h0M111.3 290.9h0M126.1 274.3h0M136.2 259.6h0M152.2 260.5h0M155.9 253.4h0M143 264.2h0M144.7 253h0M148.2 257.6h0M143.2 251.5h0M130.4 257.6h0M154.7 251.6h0M151.3 253.1h0M107.2 291.2h0M115.9 290.2h0M157.5 250.3h0M146.4 271h0M111.8 282.9h0M155.1 255.8h0M107.8 283.2h0M134.4 269.3h0M125.1 273.4h0M120.3 278h0M120.2 283.1h0M106.2 281.5h0M126 275.7h0M109.3 284h0M138.8 265.7h0M124 279.1h0M144.8 258h0M154 251.5h0M149.3 251h0M146.1 262.7h0M144.6 256.4h0M111.8 288.1h0M154.1 248h0M140.6 273.1h0M130.8 264h0M144.8 268h0M114.5 281.3h0M132.3 273.8h0M112 285.1h0M155.3 255.2h0M132 270.3h0M116.1 289.3h0M157.6 252.7h0M138.5 269.9h0M150.3 266.4h0M145.8 255.4h0M146.3 267.6h0M129.3 272.8h0M116 273.2h0M109.6 289.6h0M137.8 264.4h0M115.8 291.3h0M123.6 273.5h0M152.4 254.6h0M153.6 254.6h0M143.5 250.5h0M117.5 284.5h0M152.9 249.8h0M116.9 289.5h0M157.5 258.1h0M144.9 260.1h0M153.7 247.6h0M157.5 251h0M133.9 270h0M124.5 280.8h0M153.1 252.5h0M118.5 272.9h0M122.8 276.4h0M132.5 263.4h0M118 290.6h0M127.3 268.9h0M111.5 282.8h0M129.4 271.9h0M150.3 250.1h0M152.9 252h0M155.6 251.4h0M142.2 259.2h0M144.1 259.3h0M132.4 278.6h0M153.6 255.6h0M109.6 280.7h0M113.5 282.3h0M114 288.1h0M125.1 271.2h0M109.3 288.3h0M142.5 261.9h0M117 285h0M141.3 261.8h0M134.8 267.1h0M139.2 259h0M143.7 263.5h0M144.2 255.2h0M136.8 278.7h0M135.6 267.3h0M118.4 279.5h0M134.7 273.6h0M110.5 286.6h0M155.8 252.1h0M154.2 252.7h0M108.3 285.5h0M105.2 288.3h0M124.2 271.5h0M137.2 274.1h0M128.8 268.4h0M122.2 275.1h0M136.9 263.4h0M129.2 277.3h0M133.7 282.6h0M106 287.1h0M138.7 268.8h0M110.6 287.5h0M149.8 254.7h0M132.5 273.4h0M120.3 270.8h0M143.1 267.2h0M152.6 255.3h0M112.1 280.2h0M132.2 281.1h0M158.1 252.9h0M153.9 259.3h0M121.5 268.4h0M123.9 274.7h0M147 255.6h0M111.8 288.9h0M115.5 290h0M129.3 259.1h0M135.6 267.6h0M135.2 266.9h0M148.8 263.3h0M151.7 254.7h0M122.6 268.9h0M122.3 276.5h0M147.5 252.6h0M116.4 277.6h0M151.6 255.2h0M141.3 259.9h0M150.8 257.2h0M134.1 258.3h0M117 293.3h0M147.1 266.6h0M134.2 273.5h0M112 278.5h0M106.2 279.8h0M117 276.5h0M111.9 284.7h0M118.7 292.3h0M153.3 260.8h0M154.4 250.7h0M159.3 252.3h0M139.2 273.1h0M135.5 267.6h0M111.6 291.3h0M113 286.7h0M144.1 256.8h0M131.7 262.3h0M135.1 267h0M148.2 263.8h0M144.5 252.7h0M137.9 255.3h0M107.4 291.1h0M125.1 256.7h0M154.3 262.9h0M147.4 255.7h0M156.8 253.9h0M139.3 277.6h0M128.2 263h0M105.5 287.2h0M140.3 279.5h0M134.4 266.4h0M153.4 253h0M152.6 255.4h0M111.4 290.8h0M116.8 289.1h0M126.3 275.5h0M145.6 257.7h0M114.5 283.6h0M147.1 260.3h0M141.2 272.1h0M152 255.4h0M129.7 284.2h0M124.1 270.5h0M110.2 289.5h0M138.9 277.2h0M150.1 264h0M133.8 271.2h0M130.1 265.5h0M152 251.4h0M145.4 258.9h0M123.3 279h0M154.6 251.6h0M139.2 255.4h0M119.3 275.3h0M118.5 283.9h0M143.8 266.6h0M127.6 263.9h0M135.9 264.7h0M108.5 279.9h0M144.1 257.3h0M159.8 267.3h0M128 273.8h0M120.7 276.8h0M155.7 249.7h0M154.7 248.4h0M107.9 279.5h0M134 268.4h0M127.8 271.6h0M125.2 285h0M127.4 262.4h0M142.1 265.2h0M129.5 281.3h0M115.8 270.1h0M152.6 257.7h0M135 257.1h0M123.5 280.3h0M118 289.2h0M126 274.9h0M155.4 253.2h0M147.3 254.4h0M117.8 283.1h0M141.3 270.8h0M106 290h0M152.9 253.4h0M155.8 253.4h0M119.6 284.8h0M118.5 269.8h0M121.8 278.5h0M113.8 280.5h0M143.1 264.9h0M129 279.6h0M106.7 290.8h0M121.2 286.4h0M137.2 259.6h0M141.2 260.4h0M105.3 287.8h0M134.8 268.5h0M139.5 265h0M138.5 263.9h0M135.9 259h0M146.4 258.6h0M122 275.1h0M151.8 258.1h0M128.1 271.4h0M111.5 291.1h0M140.6 265.1h0M117.8 268.9h0M138.5 264h0M120.7 269.3h0M135.2 274.6h0M139.7 274.2h0M142.7 261.7h0M122.8 280.3h0M136.2 257.4h0M111.5 272.5h0M145.5 256.4h0M117.3 280.2h0M106.5 283.4h0M108.2 289.2h0M138.2 267.6h0M124.9 280.1h0M141.1 273.9h0M124.7 281.2h0M127.6 271.1h0M151.5 255.6h0M155.3 254.8h0M106.3 286.2h0M157.9 255.5h0M135.3 274h0M143.8 259.7h0M153 251.1h0M126.4 296.5h0M128.7 278.6h0M154.4 257.5h0M139.1 277.3h0M155 257.1h0M150.1 257.3h0M158.8 251.1h0M137.4 260h0M111 289.7h0M149.4 249.4h0M116.8 284.5h0M115.6 286.1h0M120.1 269h0M122.3 289.2h0M110.3 281.1h0M142.6 269.1h0M152.1 252.1h0M120.7 281.1h0M123.3 272.6h0M147.5 275.1h0M124.9 282.6h0M137.8 278.5h0M155.3 255.8h0M113.8 288h0M134.4 269.6h0M116.4 281h0M148 261.5h0M117.3 282.7h0M147.8 257.2h0M122.4 268.3h0M153.8 252h0M126.9 278.4h0M130.1 268.6h0M112.4 287.3h0M120 278.8h0M124.2 269.3h0M150.3 251.6h0M134.1 263.6h0M147.3 256.7h0M149.8 255.1h0M113.3 290.2h0M119 273.4h0M143.8 249.8h0M147.4 262.6h0M133.9 265.8h0M126.7 273.7h0M140.7 281.5h0M109.1 292.8h0M114.2 287.3h0M127.7 280.2h0M113.7 285.3h0M120.9 284.9h0M146.3 255.7h0M143.9 256.8h0M142.6 259.2h0M140.9 274.5h0M157.4 257.6h0M116.2 279h0M142.2 270.4h0M127.4 272.9h0M157.2 255.2h0M122.9 275.4h0M121.3 284.6h0M145.7 259.1h0M147.4 256.8h0M143.4 261.4h0M147.3 259.5h0M114.4 280.7h0M133 260.3h0M139.8 276.3h0M152.5 252.6h0M120.7 266.7h0M112 271.9h0M113.2 266.7h0M130.7 267.2h0M159.3 253.5h0M137.2 255.7h0M142.5 260.2h0M124.1 263.7h0M130.4 279.3h0M155.3 253.9h0M130.6 273.8h0M116 289.9h0M151.5 265.2h0M119.5 286.2h0M124.5 272.4h0M133.5 260.2h0M146.5 253.3h0M104 287.2h0M145.9 271.8h0M112.7 284.5h0M139.4 265.6h0M138.2 267h0M139.9 278.6h0M126.4 271h0M138.3 273.9h0M156.4 252.6h0M123.9 275.8h0M124.1 263.2h0M116.2 287.8h0M123.9 271.7h0M107.9 287.3h0M153.9 254.4h0M124.4 277.1h0M157.2 255.6h0M111.4 283h0M141.1 264.6h0M138.4 267.5h0M140.6 264h0M149.4 261h0M109.4 286.9h0M148.3 265.5h0M106.2 288h0M117.2 272.6h0M150.1 256.2h0M139.8 272.7h0M153.4 251.5h0M149.3 253.7h0M127 272h0M121.3 279.9h0M116.2 281.8h0M108.9 289.6h0M138 254.7h0M152.3 263.5h0M109.7 290.1h0M128.8 267h0M153.1 261.8h0M140.9 266.7h0M132.8 280.2h0M153.1 249.2h0M133.7 280.8h0M122.5 278.2h0M125 261.5h0M126.6 279.8h0M125.5 273.5h0M128.5 266.1h0M109.6 286.9h0M131 257.9h0M138.4 269.6h0M142.5 261h0M117.9 279.8h0M110.9 292.4h0M143.1 262.1h0M123.1 272.9h0M134 262.4h0M120 279.5h0M127.7 281h0M118 277.7h0M128.2 266.2h0M142.9 268.3h0M118.5 281.4h0M122.5 277.8h0M137.3 281.1h0M138.5 257.5h0M126 276.6h0M105.6 283.3h0M132.1 268.3h0M131.8 274.9h0M159.3 252h0M132 261.7h0M110.1 290.8h0M142.2 267.9h0M110.1 286.9h0M133.7 286.1h0M107.9 289.2h0M134.4 262.5h0M116.3 285.1h0M151.4 247.5h0M120.6 288.5h0M158.2 253.6h0M152.7 252.4h0M135.2 272.4h0M132.1 274.2h0M132.8 283.2h0M143.2 257.9h0M112.3 278.4h0M117.9 267.7h0M108.5 287.5h0M123 266.6h0M115.6 282.3h0M154.8 254.5h0M128.1 270.5h0M114.9 278.1h0M124.1 284.3h0M114.8 282.7h0M111.3 287.7h0M110.8 290.9h0M139.3 256.4h0M109.4 283.6h0M156.6 265.1h0M156.1 251h0M151.3 250.6h0M114.6 282.6h0M145.7 256.4h0M133.1 261.2h0M154.4 251.2h0M121.3 278.7h0M137.6 266.1h0M140 268h0M111.1 276.7h0M132.3 259.9h0M146.3 264.4h0M146.8 256.4h0M153.8 260h0M108 290.2h0M141.3 254.5h0M124.7 279.8h0M142.9 255.8h0M114.7 285.4h0M129.8 280.7h0M134.4 283.3h0M142.1 262.2h0M140.5 268.7h0M149.3 258.8h0M107.4 291.7h0M112.9 268.9h0M143.2 259.3h0M119.4 282.1h0M151.2 258.1h0M119.9 275h0M143.5 267.1h0M111.2 291.2h0M153.9 253.7h0M111.4 285.4h0M126.3 272.5h0M126.8 275.5h0M125.7 283.2h0M139.1 275.5h0M131.8 267.4h0M144.7 255h0M155.2 249.5h0M150.6 261.8h0M144.4 262.2h0M117.3 283.7h0M118.6 283.8h0M107.3 290.8h0M110.6 286.5h0M143.8 255h0M107.8 286.7h0M120.5 280.2h0M127.4 276.8h0M113.3 283h0M122.4 275.2h0M123.4 285.8h0M125.8 272.1h0M116 284.2h0M106.9 288.9h0M151.4 251.3h0M140.1 254.6h0M144.6 257.4h0M116.9 277.1h0M156.7 254.8h0M146.3 252.9h0M126 272.4h0M123.2 281.6h0M147 258.1h0M108 290.8h0M138.7 271.1h0M147 250.1h0M152.6 252.5h0M152.1 250.5h0M133 279.1h0M106.7 289.7h0M125.9 278.6h0M125.4 286.4h0M135 265.7h0M144.1 261.6h0M157.7 251.7h0M121.9 276.6h0M129.1 281.3h0M112.4 289.5h0M152.1 260.4h0M132.2 270.7h0M117.2 279.9h0M131.1 268.8h0M130.1 269.5h0M144.1 251.7h0M119.1 282.7h0M135.2 273.7h0M129.2 272.6h0M110.2 285.1h0M113.4 285.2h0M119.3 281.8h0M129.8 274.5h0M141.1 275.9h0M142.3 257.2h0M154.2 254.8h0M112.4 288.9h0M156.8 251.3h0M126.8 273h0M143.7 255.2h0M121.5 274.8h0M146.2 263.9h0M146.4 268.8h0M106 288.5h0M152.6 256.8h0M109.3 290.1h0M135.1 275.1h0M118.1 282.7h0M138.4 268.6h0M118 286.4h0M134 261.1h0M146.3 259.6h0M131.1 259.1h0M144.4 250h0M123.3 271.7h0M136 257.3h0M131.1 274.7h0M155.9 256.4h0M110.3 285.9h0M151 255h0M106.4 289.6h0M149.9 255.1h0M110.8 287.5h0M143.5 263.8h0M110.3 285.1h0M144.4 256.1h0M116.2 279.7h0M111.4 289.9h0M150.3 254h0M140.9 273.5h0M149.5 255.5h0M151.2 263.5h0M108.3 283.3h0M109.5 284.7h0M144.8 263.6h0M151.3 258h0M115 282.8h0M157.1 260.9h0M107.5 289.7h0M146.9 260.6h0M136.9 262.9h0M131.6 282h0M128.8 278.8h0M123.4 279.8h0M125.4 264.4h0M133.3 271.9h0M113.4 282.3h0M107.3 290.8h0M136.6 273.2h0M113.9 280.3h0M111.7 287.3h0M121.8 283.8h0M114 285.3h0M150.3 254.5h0M118 274.7h0M137.6 261.6h0M104.8 287.9h0M143.6 267.9h0M155.9 252.2h0M141.8 255.4h0M145.8 259.7h0M123.6 268.3h0M120 257.3h0M155.7 257.6h0M121.8 285.4h0M127.5 263.9h0M141.8 258.3h0M124.3 277.8h0M129.4 269.9h0M106.4 287.2h0M140 260.9h0M114.1 283h0M117.9 278h0M118.4 282.3h0M142.7 260.6h0M124.4 271.3h0M157.8 250.3h0M143 252.3h0M157.2 257.1h0M136.4 255.8h0M117.8 281h0M124 278.9h0M126.3 277.6h0M117.3 283.3h0M134.6 277.1h0M144.1 254.5h0M133 269.2h0M115.1 284.4h0M142.7 259h0M155.2 250.1h0M135 276.9h0M111.6 282.5h0M142.6 259.2h0M133.2 267.6h0M147.5 257.1h0M138.1 266.8h0M150.9 254.6h0M107.3 290.7h0M140.3 264.8h0M138.9 268.3h0M150.5 264.1h0M115 278.7h0M141.9 273.8h0M118.6 278.1h0M147.3 262.5h0M110.5 287.8h0M113.5 283.2h0M151.4 247.4h0M149.2 266.9h0M116.9 277.5h0M119.9 274.8h0M132.1 277.5h0M118.4 281.4h0M118.1 291h0M159.3 255h0M119.1 284.6h0M145.7 261.3h0M145.7 264.5h0M140.4 255.8h0M122.4 279h0M118.1 282.1h0M136.6 263.7h0M158.1 250.6h0M121.6 268.8h0M120 285h0M136.8 275.5h0M112.4 278.4h0M124.6 277.1h0M148.9 266.7h0M119.9 282.3h0M126 268.1h0M136.4 260.5h0M116.5 287h0M118.2 290.7h0M154.3 249h0M151.3 255.5h0M150.2 252.4h0M134.9 266.2h0M133.3 271.5h0M111.6 286h0M116.6 278.3h0M116.8 292.4h0M133.2 268.4h0M128.1 272.2h0M118 287.3h0M111.2 286.6h0M135.3 266.5h0M115.8 287.9h0M105.2 288.1h0M119.9 284.2h0M150.6 261.7h0M142.3 266.6h0M132.4 268.9h0M117.8 281.4h0M124.7 264.4h0M106.4 289.9h0M123.9 278.6h0M133.8 274.8h0M111.1 287.2h0M135 265.5h0M126.3 269.1h0M108.8 288.2h0M114 285h0M135.4 275.9h0M152.7 254.3h0M108 287h0M134.9 267.4h0M119.4 277.2h0M125.5 273.9h0M149.3 247.2h0M133.7 258.5h0M117.2 274.4h0M131.1 274.2h0M156.9 250.6h0M151.5 255.9h0M132 278.2h0M130.2 264.7h0M133.6 276.8h0M114.9 285.7h0M155.1 249.8h0M122.2 286.7h0M113.4 276.5h0M109.2 282.7h0M154.6 251.9h0M154.5 254.6h0M138.6 264h0M126.6 260.2h0M135.3 265.8h0M125 275.2h0M158.2 262.1h0M139.5 273.8h0M150.9 256.3h0M138.8 258.2h0M142.4 264.4h0M137.3 258.7h0M147 259.9h0M149.3 258.9h0M140.3 261.3h0M123.5 278.6h0M118.8 278.7h0M114.7 280.6h0M154.4 260.8h0M133.2 273.3h0M105.7 290.1h0M134.7 263.1h0M151.4 256.1h0M155 254.9h0M156.5 254.7h0M154.8 260h0M116.5 285h0M129.2 265h0M149 269.8h0M143.2 269.2h0M127.3 279.4h0M110.3 292.1h0M149.1 250h0M145.5 257.7h0M149.8 253.9h0M129.9 279.8h0M115.5 276.1h0M149.1 255.3h0M144.8 270.2h0M142.8 266.1h0M107.1 288.3h0M115.9 291.8h0M142.3 254.5h0M153 256.1h0M123.7 275.3h0M152.6 256.8h0M114.6 282.4h0M133.5 263.6h0M124.9 277.3h0M129.5 263.4h0M117.7 284.4h0M124.9 273.7h0M133.1 275.7h0M134.7 265.2h0M114.8 279.9h0M138.8 267.7h0M120.5 286.4h0M153.5 246.7h0M118.9 281.2h0M113.2 288h0M115.9 274.2h0M132.7 263.9h0M131.3 275.2h0M137.7 260.5h0M110.3 284.2h0M133 281h0M131.9 264.1h0M155.3 249.2h0M146.7 247.7h0M132.2 262.8h0M117.9 273.6h0M116 291h0M142.8 269.9h0M131.2 262.5h0M137.1 279.6h0M145.8 264.3h0M129.6 270.9h0M148.8 261.9h0M122.2 280.3h0M120.7 274.2h0M149.6 248.7h0M133.2 263.3h0M155.7 251.8h0M108.5 287.1h0M152.6 251.1h0M110.9 290.6h0M141.8 256.3h0M139 270.8h0M111.2 284.1h0M122.1 278.7h0M127.3 266.4h0M135 267.9h0M128.8 267.5h0M104.5 285.7h0M157.7 250.2h0M124.2 276.1h0M146.1 264.4h0M154.9 253.7h0M155 248.9h0M113.9 281h0M146.7 247h0M129 265.1h0M144.2 269.2h0M123.2 286.2h0M115.4 287.1h0M137.1 268.3h0M154.3 255.6h0M129.4 275.6h0M152.4 247.8h0M140.1 258.6h0M128.6 261.5h0M159.9 242.5h0M126.8 263.4h0M147.5 257.6h0M153.4 251.6h0M166.4 244.1h0M151.3 246h0M124.7 264.1h0M142 248.4h0M162.8 240.9h0M132.1 258.9h0M123.4 264.2h0M123.9 268.2h0M160.9 246.1h0M166 243.9h0M142.5 255.6h0M137.2 263.8h0M139.4 257.4h0M130.5 266.4h0M142.2 257.9h0M144.5 258h0M145.4 252.8h0M122.9 261.3h0M165 237.6h0M154.8 258.7h0M148.5 253.6h0M160.6 246.4h0M122.1 266.2h0M147 249.6h0M144.8 269.7h0M148 245.4h0M164.9 241.6h0M123.3 265.9h0M126 259.2h0M133.8 252.9h0M143.9 250h0M159.1 243.6h0M154.1 245.6h0M148.4 256.1h0M126.8 258.4h0M145.2 255.6h0M144.8 262h0M127 267.6h0M162 239.1h0M154.6 234.4h0M151.5 254.4h0M133 263h0M146.2 249.3h0M138.6 264.2h0M150.1 248.2h0M121.9 267.2h0M146.4 246.7h0M147.7 253.7h0M163.7 240.9h0M146.2 249.9h0M159.9 250.1h0M131.1 262.6h0M142.8 246.1h0M137.2 261.8h0M168.2 242h0M164.8 239.2h0M130.9 259.6h0M150.1 250.8h0M123 265.3h0M146.6 253.2h0M168 241.7h0M125.8 262.5h0M159.8 255.7h0M143 250.5h0M167.1 239.3h0M144.5 264.9h0M164.5 253.1h0M148.7 251.5h0M158 244.9h0M158.8 240.6h0M153.9 254.6h0M137.2 258.9h0M146.5 247.7h0M158.8 247.4h0M162.2 249.8h0M152 253.2h0M147.4 264.7h0M125.9 268.9h0M126.3 266.1h0M150.9 249.8h0M140.4 259.3h0M155.4 254h0M147.2 257.1h0M141.8 261.3h0M130.3 263.1h0M162.2 246.8h0M135.8 265.2h0M149.9 249.6h0M122.6 261.3h0M168.6 245h0M128.5 265.7h0M143.1 252h0M159.5 246.1h0M130.6 260.6h0M146.8 242.8h0M204.4 218.9h0M172 227h0M173 225h0M184.8 242.9h0M180 242.5h0M143 236h0M155 242h0M166 240h0M170 248h0M158 264h0M152 268h0M165 255h0M151 231h0M139 241h0M162 236h0M130 250h0M123 262h0M77.5 311.5h0M79.1 304.8h0M89.5 311.6h0M86.5 314.9h0M75.1 313.7h0M88.8 319.1h0M97.4 313.5h0M93.1 312.8h0M82.3 303.8h0M75.1 320.5h0M76.2 315h0M76.8 311.6h0M83.6 321.1h0M80.2 310.9h0M78.2 317.9h0M90.1 310.2h0M81.9 313h0M74.7 318.4h0M78.6 309.2h0M94.1 302.3h0M93.4 307.4h0M81.1 311.9h0M74.8 306.2h0M82.2 313.4h0M83.2 313.1h0M83.3 310.7h0M70.5 318.3h0M79.2 318.8h0M72.6 310.1h0M76.2 312.9h0M94.3 308.9h0M80.8 322.4h0M91.8 298.8h0M97.4 313.3h0M75.7 316.6h0M74.1 311.5h0M87.7 311.2h0M92.2 315.4h0M83.7 321.5h0M77.4 313h0M95.4 310.8h0M82.1 306.4h0M74.9 308.4h0M84.3 308.8h0M89.5 317.4h0M69.1 319h0M88.3 300.3h0M73.8 323.9h0M67.8 317.3h0M76.3 323.5h0M77.4 303.3h0M72.4 312.2h0M80.4 305.5h0M96.8 300.6h0M81.6 302.7h0M70.5 316.2h0M84.9 312.1h0M82 313h0M91.5 304.1h0M96.1 302.3h0M93.3 310.8h0M77.4 309.8h0M86.3 310.5h0M95.8 309.7h0M78.7 325.2h0M96.5 308.9h0M78.4 311h0M73.3 319.5h0M80.3 319.7h0M86.7 303.7h0M83.6 314.4h0M89.7 318.5h0M84.6 311.7h0M99.9 302.6h0M84 311.1h0M71.5 310.9h0M79 319.2h0M84.7 304.9h0M83.4 319.2h0M88.2 314h0M90.7 308.2h0M93.9 314.2h0M74.5 322h0M83.9 316h0M78.8 317.7h0M100 304.9h0M97.2 304.4h0M73 308.4h0M78.9 319.3h0M82.1 302h0M87.1 301h0M81.1 321h0M75.9 319.8h0M82.1 306.5h0M92.6 311.3h0M84.2 307.1h0M83.3 314.5h0M87.5 315.7h0M71.6 323.1h0M77 311h0M86.1 303.2h0M85.3 300.8h0M89.1 309.1h0M91.3 312.7h0M83.1 319.1h0M99.1 305.7h0M72.5 324.2h0M83.7 312.3h0M73.4 317.9h0M84.4 312h0M88.2 315.6h0M75.4 313.9h0M91.8 308.5h0M93.3 307.2h0M80.3 306.2h0M92 314.5h0M90.2 312.3h0M88.2 316.4h0M77.1 313.9h0M89.3 316.9h0M74.4 309.8h0M82.4 311.5h0M75.6 325.4h0M88 307.1h0M80 304.1h0M91.1 311.6h0M86.3 313.2h0M97.1 309.6h0M78.2 307.5h0M89.6 313.6h0M77.1 319.1h0M99.3 308h0M89.4 300.7h0M81 306.9h0M79.1 310.5h0M77 307.9h0M83.1 315.3h0M89.6 313.5h0M97.7 303.5h0M77.8 321.4h0M85.6 309.8h0M95.3 305.5h0M91.2 314.4h0M71.5 318.8h0M94.8 308.1h0M85.1 316h0M79.4 303.9h0M87.9 313.8h0M85.1 320.1h0M86 316.6h0M92.3 315.9h0M84.2 306.8h0M96.1 299.4h0M74.2 314.1h0M88.9 318.5h0M90.2 318.5h0M77.1 308.6h0M78.6 307.1h0M84.6 307.8h0M94.7 311.4h0M91.4 314.9h0M81.9 323.8h0M78.2 319.3h0M84.5 307.5h0M92.6 309.3h0M85.8 321.4h0M85.7 311.4h0M84.4 309.6h0M75.4 305.7h0M84.1 302.9h0M84.1 322.2h0M74 317.4h0M87.3 306.2h0M95.7 304.9h0M84 307.1h0M82 306h0M80.1 316.6h0M80.9 301.9h0M81.4 306.3h0M93.7 314.3h0M89.1 307.4h0M92.2 302.9h0M87 315.6h0M88.4 307.6h0M77.2 314.9h0M81.1 313.7h0M81.8 304.3h0M91.5 301.7h0M89.6 319.9h0M86.6 311.3h0M86.1 303.2h0M73.8 323.3h0M76.3 315.1h0M81.7 313.8h0M89.7 300.3h0M80.1 313.1h0M76.4 307h0M81.4 304.7h0M98.3 302.1h0M74 315.6h0M71.5 313.9h0M90.9 310.3h0M96.9 314h0M91.3 309.1h0M76.5 322.8h0M81.7 303.6h0M89 317.4h0M87.7 304h0M88.1 310.2h0M82 321.8h0M88.1 315h0M95.3 301h0M97 314h0M86.2 305.6h0M77 316h0M88.1 319.9h0M76.7 322.1h0M87.1 311.4h0M71.6 313.6h0M73 309.2h0M76.5 320.4h0M82.6 301.3h0M80 302h0M79.4 310.2h0M79.6 304.1h0M76 322h0M93.7 312.6h0M80 314h0M72.2 323.1h0M96 312.3h0M77.7 308.4h0M78.2 318.4h0M72.6 308.3h0M89.2 313.4h0M91.5 318.5h0M94.7 309.2h0M91.9 300.3h0M74.8 307.7h0M84.6 314.9h0M92.6 308h0M83.8 315.1h0M82.8 306.1h0M87.4 306.8h0M96.8 313.9h0M93.1 300.4h0M91.7 315.3h0M91.7 307.8h0M90.3 311.3h0M94.9 305.3h0M90.8 318.9h0M80.4 301.8h0M72.1 321.8h0M83.4 305.8h0M97.3 308.5h0M80.3 305.7h0M94.7 311.4h0M83.8 321.3h0M89.6 305.5h0M80.7 307.9h0M80.1 307.3h0M78.1 311.2h0M80 322.9h0M76.4 312h0M83 313.4h0M82.8 303.3h0M73.6 308.7h0M90.1 301.2h0M85.6 305.3h0M86.9 299.2h0M95.1 309.1h0M95.2 305.2h0M80.3 320h0M93.6 301.7h0M71.7 313.7h0M73.7 314.8h0M85.1 304.8h0M72 311.8h0M98.4 309.6h0M80.8 314.7h0M85.2 309.8h0M84.3 308.2h0M99.9 305.5h0M95.6 303.7h0M75.4 316.8h0M86.7 321.9h0M74.4 323.9h0M91.8 303.5h0M88.9 304h0M81.9 319.7h0M74 311.5h0M98.5 306.7h0M82.5 301.1h0M92.3 309h0M75.6 305.2h0M84.4 314.2h0M89.7 312h0M93.2 311.9h0M87.5 308.9h0M89.3 315.3h0M82.7 313.1h0M94.7 312.7h0M72.8 320.3h0M84.8 305.3h0M88.8 317.5h0M79.6 308.1h0M80.7 323.6h0M91.4 311h0M84.5 306.2h0M81.9 322.8h0M73.2 311.4h0M93.3 302.5h0M82.7 310h0M84.2 313.6h0M71.1 313.2h0M78.8 303.5h0M88.4 314.2h0M92.6 303.4h0M89.6 316h0M91.9 307.8h0M80.7 313.5h0M78.3 316.8h0M97.1 312.9h0M76.5 317.9h0M86.1 315.6h0M84.5 308.8h0M73.5 319.8h0M69.9 319.8h0M91.2 311.8h0M94.7 300.6h0M85.2 312.6h0M79.6 312.9h0M81.7 303.4h0M80.5 313.8h0M84.1 319.2h0M75.8 311.2h0M83.3 310.6h0M96.8 311.6h0M89.7 319.9h0M94.8 314.9h0M96.1 304.8h0M76.9 312.2h0M95.9 303.5h0M87.6 319.2h0M93.3 301.4h0M77.7 324.7h0M88.8 305.3h0M98.9 308.2h0M84.2 319.3h0M86.2 304.6h0M90.9 301.9h0M83.5 300.9h0M75.5 308.6h0M84.6 314.8h0M91.6 305.9h0M72.9 315.4h0M85 300.8h0M78.5 321.5h0M92.7 302.1h0M84.2 311.5h0M81.4 309.5h0M96.5 311.9h0M80.2 317.5h0M95.5 309.1h0M81.3 321.9h0M72.9 315.7h0M86.5 321.4h0M95.6 304.1h0M79.2 318h0M80.7 304.9h0M79.5 322h0M83.7 309.1h0M77.7 324.3h0M72.9 316.7h0M85.6 323.6h0M98.9 307.6h0M84.1 310h0M80.5 314h0M82.9 301.7h0M83.2 306.6h0M81.3 301.8h0M78.4 324.1h0M86.1 320.8h0M90.8 316.9h0M77 318.2h0M70.6 314.1h0M88.2 301.3h0M88.4 308.7h0M77.9 305.3h0M74.9 315h0M85.3 315.2h0M75.7 314h0M87.1 321.1h0M89.1 300.4h0M89.3 315.8h0M76.7 323h0M91 316.9h0M89 314.8h0M83.1 308.7h0M92.8 315.9h0M84.2 316.7h0M95.5 306.3h0M88.7 305.4h0M90.4 301.7h0M83.1 314.6h0M89.5 304.8h0M90.5 316.9h0M89.6 319.3h0M72 316.7h0M89 314.7h0M89.7 303.6h0M92.6 304.3h0M97.7 310.4h0M80.2 316h0M76 322.5h0M88.6 308.4h0M96.5 302.1h0M89.3 309.6h0M92 304h0M76.7 311h0M75.4 319.5h0M78.8 318.1h0M88.2 299.6h0M98.6 310.8h0M77.8 322.6h0M86.3 311.1h0M82.5 314.8h0M83.5 303h0M85.7 303.6h0M93.7 311.7h0M90.2 319.4h0M76.3 307.3h0M92.9 313.5h0M93.1 307.7h0M85.7 308.5h0M89 308.9h0M85.9 309h0M75.3 313.4h0M76.9 324.6h0M84.9 315h0M79.3 320.7h0M90 302.2h0M69.4 316.1h0M98.7 312.2h0M71.5 316.5h0M84.6 321.3h0M91.5 300.3h0M92.1 312.6h0M72.5 320.2h0M98.2 303.6h0M86.7 315.8h0M78.3 307.7h0M76.3 312.6h0M87.7 307.2h0M92.2 312.4h0M74.6 320.6h0M94.5 309.6h0M78.3 308.7h0M95.2 309.6h0M91.4 302.6h0M82.7 312.9h0M71.6 317.9h0M80.5 321.6h0M79.4 319.9h0M88.9 301.5h0M81.9 306.9h0M78.4 322.9h0M84.7 304h0M79.9 321.3h0M96.9 307.8h0M89.3 315.9h0M80 317.3h0M75.4 321.6h0M95.2 314.3h0M79.5 308.8h0M88.9 316.4h0M72.9 310.6h0M70.4 319.4h0M78.1 311.1h0M91.6 298.9h0M79.3 308.2h0M70.2 313.3h0M81.1 310.4h0M72.5 318.8h0M92.2 305.8h0M84.8 301.1h0M90.8 312.3h0M92.3 312.4h0M79.4 317.4h0M92 301.7h0M91 311.7h0M90 317.6h0M97.3 302.5h0M79 304.1h0M74.6 316.2h0M91.6 312.9h0M91.4 307.8h0M83.4 319.8h0M92.1 314.5h0M87.7 305.2h0M73.7 318h0M79.3 314.9h0M75.3 312.8h0M77.6 316.6h0M89.3 316.7h0M78.3 305.2h0M83.4 310.3h0M90.2 303h0M80.6 314.5h0M92 311.2h0M94.8 301.8h0M96.6 304h0M96 312.9h0M76.7 306.9h0M87.1 304.5h0M91.1 304.3h0M78.3 312.9h0M86.4 317h0M96.6 305h0M79.1 305.9h0M72.2 311.2h0M94.2 310.4h0M83.3 309.9h0M94 301.6h0M95.3 315.4h0M69.8 314.2h0M83.3 313.2h0M75.3 312.6h0M94.3 310.4h0M90.8 300.9h0M86.3 322h0M82.7 311.5h0M90.9 318.1h0M91.4 313.6h0M97.5 298.9h0M89.5 320h0M91.6 304.4h0M89 298.7h0M74 315.8h0M79.6 313.4h0M90.1 308.5h0M81.7 304.8h0M74.9 308.3h0M76.3 313.7h0M84.5 300.1h0M78.5 316.8h0M77.9 324.7h0M79.9 306.1h0M70.5 321.7h0M75.2 313.1h0M94.3 312.4h0M90 314.3h0M92.5 314.1h0M83.5 299.9h0M97.9 301.6h0M96.4 301.3h0M75.7 315.3h0M83.1 306h0M95.2 310.5h0M82.9 324.1h0M93 301.9h0M85.2 316.4h0M96 313.1h0M74.8 323h0M80.6 302.8h0M95.3 303.1h0M95.9 305.4h0M74.5 311.5h0M86.1 303.6h0M84.7 301.8h0M90.3 303.7h0M79.1 311.2h0M87.8 299.3h0M76.9 323.6h0M79.6 312.7h0M71 317.6h0M75.5 321.4h0M78.1 318.2h0M79.5 308.6h0M89 311.9h0M85.7 303.7h0M80.4 309h0M92.7 315.8h0M81.3 323.3h0M85.9 305.1h0M79.7 317.7h0M87 302h0M82 315.6h0M89.8 307.6h0M81.7 316.6h0M97.3 301.3h0M80 320.4h0M76.5 322.2h0M95.3 314.3h0M83.1 305.8h0M90.5 309.6h0M83.8 309.3h0M72.7 319.9h0M87.6 302.7h0M71.4 312.7h0M93.9 301.5h0M78.6 315.2h0M88.9 315.3h0M90.8 303.4h0M87 307.1h0M85.5 306.9h0M71.7 314.1h0M88.5 319.3h0M93.5 306h0M84.5 307.8h0M78.3 310.6h0M77.9 318.9h0M72.5 319h0M83 304.8h0M90.6 317.3h0M93.1 306.4h0M95 309.1h0M96.4 302.3h0M90.4 315.1h0M93 304.4h0M87.4 309.9h0M81 310.7h0M73.8 317.4h0M80.7 314.3h0M90.3 307.5h0M73.3 315.5h0M70.8 313.1h0M86.5 299.2h0M86.1 299.9h0M84.4 304.1h0M90.3 309.2h0M88.4 303h0M81 313.5h0M87.3 304.7h0M91.3 301.3h0M95.7 308.2h0M75.7 324.5h0M75.8 317.3h0M75.3 313.3h0M94.6 300h0M92.4 307.4h0M78.1 312.7h0M71.2 321.5h0M93 311.3h0M73.5 307.7h0M79.5 307h0M98.4 309.7h0M98.5 309h0M77.7 316.7h0M87.2 308.9h0M85.8 302.3h0M78.3 310.4h0M80.3 318.7h0M95.2 300.6h0M76.7 318.2h0M91.3 311.6h0M71.4 314.3h0M97.9 308.3h0M88.7 300.6h0M77.2 316.5h0M78.1 304.5h0M86.9 302.9h0M83.1 305.2h0M83.8 307.8h0M82.1 302h0M78.1 323.8h0M98.6 303.8h0M86 313.8h0M81.7 311.3h0M84.2 321.9h0M91.1 306.4h0M84.4 318.4h0M81.6 309.8h0M94.1 310.7h0M78.9 317h0M84.3 309.2h0M92.8 299.3h0M89.8 309.7h0M84 305h0M89.5 306.9h0M99.3 303h0M84.5 301.5h0M99.5 304.3h0M76.9 309.4h0M96.5 302.3h0M97.1 308h0M78.4 303.5h0M89.7 310.7h0M73.3 314.7h0M82.1 320.9h0M76.6 314.7h0M79.8 303.3h0M92.8 315.1h0M85.7 321.1h0M96.9 310h0M79.4 319.2h0M89.2 310.1h0M90.4 308.3h0M79.3 306.4h0M74.2 305.8h0M91.2 307.8h0M72.2 310.2h0M79 310.1h0M82.2 321.3h0M86.2 321.7h0M89.5 316.1h0M78 312.7h0M90.4 311.4h0M70.6 317.8h0M77.5 322.3h0M72.5 319.1h0M82.4 307.8h0M91.8 317.7h0M84.5 322.5h0M76.8 317.7h0M84 316.9h0M75.8 308.7h0M96 311.9h0M90.6 303.1h0M92.4 302.8h0M97.8 310.6h0M72.8 320.6h0M83.8 314.4h0M82.2 321.3h0M86.6 312.5h0M77.3 315.1h0M83.6 302.3h0M87 314.2h0M82.2 302.9h0M78.7 303.5h0M72.3 312h0M91.5 298.3h0M72.3 313.8h0M83.6 303.8h0M97.7 298.4h0M86.8 304.1h0M78 313.6h0M85.9 318.8h0M74.7 313.3h0M80 308h0M76 305.1h0M80.1 318.9h0M82.1 308.1h0M83.1 320.8h0M90.3 311.2h0M93.6 302.6h0M89.6 304.5h0M78.8 318.9h0M71.8 317.1h0M97.5 303.5h0M86.9 309.1h0M68 323h0M70 318h0M72 327h0M66.5 318h0M75 326h0" stroke="#BC6F7B" stroke-width="3.3" stroke-linecap="round" fill="none"/>
<line x1="38.2" y1="214" x2="38.2" y2="331.5" stroke="#111" stroke-width="0.9"/>
<line x1="37.8" y1="331.1" x2="212.4" y2="331.1" stroke="#111" stroke-width="0.9"/>
<line x1="101.3" y1="214" x2="101.3" y2="331.1" stroke="#111" stroke-width="0.9"/>
<line x1="38.2" y1="295.5" x2="212.4" y2="295.5" stroke="#111" stroke-width="0.9"/>
<line x1="40.6" y1="331.1" x2="40.6" y2="333.1" stroke="#333" stroke-width="0.8"/>
<text x="40.6" y="339.6" font-size="6.6" text-anchor="middle" fill="#4D4D4D">-0.5</text>
<line x1="101.3" y1="331.1" x2="101.3" y2="333.1" stroke="#333" stroke-width="0.8"/>
<text x="101.3" y="339.6" font-size="6.6" text-anchor="middle" fill="#4D4D4D">0.0</text>
<line x1="162" y1="331.1" x2="162" y2="333.1" stroke="#333" stroke-width="0.8"/>
<text x="162" y="339.6" font-size="6.6" text-anchor="middle" fill="#4D4D4D">0.5</text>
<line x1="36.2" y1="295.5" x2="38.2" y2="295.5" stroke="#333" stroke-width="0.8"/>
<text x="35.2" y="297.8" font-size="6.6" text-anchor="end" fill="#4D4D4D">0</text>
<line x1="36.2" y1="249.1" x2="38.2" y2="249.1" stroke="#333" stroke-width="0.8"/>
<text x="35.2" y="251.4" font-size="6.6" text-anchor="end" fill="#4D4D4D">1</text>
<text x="123" y="354" font-size="9.2" text-anchor="middle" fill="#222" textLength="80.6" lengthAdjust="spacingAndGlyphs">effectSize_discovery</text>
<text x="19.3" y="277.3" font-size="9.4" text-anchor="middle" fill="#222" textLength="83" lengthAdjust="spacingAndGlyphs" transform="rotate(-90 19.3 274.1)">effectSize_validation</text>
<text x="136.7" y="389.4" font-size="12.8" text-anchor="middle" fill="#111" textLength="169.6" lengthAdjust="spacingAndGlyphs">14536/16245 can be validated</text>
<text x="244" y="189.5" font-size="18">D</text>
<text x="261.7" y="198.1" font-size="9.2" fill="#222" textLength="82" lengthAdjust="spacingAndGlyphs">Significant in nonHIV</text>
<circle cx="354.1" cy="195.2" r="1.5" fill="#E6E6E6"/>
<text x="364" y="197.6" font-size="6.6" fill="#222">No</text>
<circle cx="382.5" cy="195.2" r="1.5" fill="#D9A3AC"/>
<text x="393" y="197.6" font-size="6.6" fill="#222">Yes</text>
<path d="M306.3 272.1h0M300.1 273.7h0M295 276.5h0M299.4 275h0M304 273h0M305.5 275.3h0M307.9 273h0M293.2 275.2h0M293.5 276.8h0M305.3 274.8h0M307.4 275h0M304.3 273.7h0M311.3 273.5h0M304.6 278.1h0M298.5 274.9h0M298 273.4h0M309.5 276.2h0M296.7 273.5h0M308 274.7h0M294.9 275.4h0M308.1 275.6h0M295.3 273h0M302 275.7h0M300.3 272.7h0M293.6 276.7h0M294.9 275.2h0M302 274.7h0M302.5 273.1h0M303.9 275.1h0M301.5 276.3h0M298.1 277.5h0M306.7 273.4h0M305.9 274.8h0M307.2 277.3h0M292.8 274.6h0M304.9 274.2h0M296.9 274.9h0M296.9 276.4h0M310.5 275.7h0M309.4 274.9h0M308.7 277.7h0M297.8 273.5h0M298.9 273.2h0M302.9 275h0M300.9 278.2h0M296.6 272.8h0M304 278.3h0M308.8 276.5h0M292.5 273.5h0M307.6 275.6h0M304.7 273.2h0M310.4 275h0M300.6 274.1h0M291.1 275.2h0M300 275.4h0M302.8 274.3h0M309.8 275.8h0M295.1 276.6h0M301.7 273.7h0M310.9 276.5h0M326.5 274h0M323.1 275.2h0M323.2 276.3h0M330.5 277.4h0M323.1 277.9h0M330 275h0M324.2 277.4h0M324.7 276.2h0M323.3 276.9h0M330 275.5h0" stroke="#DADADA" stroke-width="3.2" stroke-linecap="round" stroke-opacity="0.85" fill="none"/>
<path d="M293.4 274.1h0M308.9 274.7h0M294.8 276.6h0M295.2 273.2h0M299.8 273.9h0M293 274.4h0M299.1 274.1h0M304.3 276.5h0M297.1 272.9h0M293.2 274.8h0M297.1 275.4h0M294.6 274.2h0M309.8 275.7h0M298.3 275h0M303.6 275.8h0M303 273.3h0M295 275.6h0M312.7 277h0M294.3 275.7h0M302.3 275.4h0M311.6 275.4h0M300.2 275.4h0M307.1 276h0M292.5 275.8h0M303.1 275h0M302.8 273.5h0M300.5 276.1h0M294 274.9h0M291.2 276.2h0M296 275.7h0M307.1 277.4h0M310.2 277.4h0M302.4 273.7h0M293.1 278.3h0M308.2 274.7h0M299.1 276.6h0M309.7 275.6h0M294.8 276.2h0M307 273.9h0M309.6 276.2h0M298.6 275.4h0M302.4 274.5h0M297.8 272.3h0M308.8 274h0M297.9 276.8h0M309.2 275.7h0M295.6 274.9h0M293.4 275.3h0M297.5 275.3h0M303.5 276h0M309.8 274.7h0M309.1 276.7h0M302.6 275.4h0M293.2 275h0M294.7 274.9h0M292.1 276.7h0M300.8 273.8h0M304.4 276.5h0M305.6 275.9h0M300.4 275.6h0M326.5 275.8h0M325.9 274.4h0M323.5 275.4h0M325.6 277.2h0M328.6 276.7h0M329.8 276.9h0M328.8 275.3h0M326 276.7h0M323.8 274.9h0M326.4 276.2h0" stroke="#DADADA" stroke-width="3.2" stroke-linecap="round" stroke-opacity="0.85" fill="none"/>
<path d="M374.4 263.6h0M325.3 246.5h0M367.7 246.2h0M359.2 243.6h0M332 258.2h0M349.3 256.9h0M357.2 264.7h0M359.4 256h0M332.8 257h0M323.7 260.4h0M326.2 246.9h0M338.5 255.8h0M341.2 269.7h0M334.6 272.7h0M343.4 258.7h0M328.9 254.4h0M347.2 269.2h0M342 258.4h0M339 247.5h0M343.8 248.7h0M376.2 263.8h0M368.7 250.1h0M330.1 258.3h0M327.5 273.4h0M357.9 256.6h0M327.5 257.7h0M373.3 268.3h0M344.4 258.2h0M382.2 267.8h0M346 243.1h0M356.7 268.8h0M325.3 250.2h0M332.8 249.4h0M333.8 260.4h0M377 263.9h0M362.2 265.5h0M361.1 257.3h0M369.4 264.5h0M347.7 254.2h0M379.3 251.2h0M337.6 258.1h0M379 263.8h0M323.5 264.1h0M359.2 251.4h0M362.5 263.5h0M367.9 249.2h0M333.4 264.8h0M343.1 255.9h0M376.3 270.3h0M334.4 263.4h0M342.8 247.3h0M356.4 262.1h0M382 255.5h0M344.4 252.1h0M334.1 250h0M330.7 263h0M381.8 267.6h0M338.1 255.4h0M367.6 257.6h0M328.2 252.5h0M348.8 267.7h0M359.3 274.1h0M364.7 256.3h0M362.1 258.1h0M347.7 248h0M332.9 252.7h0M347.3 256.9h0M351.7 258.1h0M341.8 245.6h0M332.5 256.4h0M375 242.6h0M334.9 253.6h0M347.2 263.3h0M352.1 271.6h0M332.5 248.5h0M370.1 265.9h0M332.2 251h0M372.8 271.7h0M324.6 249.9h0M355.6 273.6h0M355.9 255.1h0M352.4 250.4h0M380 256.6h0M366.4 269.2h0M372.9 256.4h0M369.2 258.3h0M370.2 264.7h0M370 243.9h0M375.7 270.2h0M370.6 265.5h0M334 261.9h0M353.6 253.4h0M365.1 273.6h0M352.6 244.2h0M353.7 243.5h0M342.1 260.6h0M331.2 266.7h0M376.5 249.2h0M349.2 269.5h0M325.3 254.8h0M344.4 251.8h0M383.8 266.1h0M322.9 255.4h0M382.4 248.4h0M335.5 254.3h0M380.6 250.6h0M337.7 261.3h0M338 256.3h0M343.9 256.2h0M337.8 248.5h0M372.6 245.4h0M374.6 258.6h0M347.3 263.6h0M372.8 262.7h0M333.8 270.2h0M344.4 244.5h0M335.4 260.6h0M376.5 254.5h0M340.6 245.6h0M355.5 268.5h0M363.1 252.6h0M341 267.3h0M356.9 272.2h0M364.1 249.9h0M382.2 270.7h0M349.3 270.8h0M343 242.7h0M344.1 270.4h0M357.8 260.1h0M341.3 241.7h0M347.3 258.7h0M360.5 272.4h0M367.6 270.4h0M366.2 271.5h0M361.3 257.6h0M331.3 247.4h0M365.8 255.3h0M333.8 253.2h0M372.1 265.7h0M377.3 249.5h0M337.8 258.9h0M382.7 252.2h0M359.1 256.1h0M365.3 262.9h0M366 269h0M364.4 244.2h0M332.3 257.1h0M359.1 253.6h0M382 263.5h0M374.2 264.4h0M347.8 264.2h0M382.3 249.4h0M378.9 247.1h0M348.3 268.7h0M374.4 253h0M340.5 264.1h0M333.4 243.7h0M352.9 261.4h0M374 251h0M365.6 264.9h0M343 244.5h0M351.2 268.8h0M368.3 266.4h0M365.8 261.4h0M382.3 255.6h0M329 265.2h0M365 256.5h0M364 262h0M340.2 252.8h0M348.9 256h0M360.8 266.5h0M382.2 264.2h0M356.8 246h0M360.5 244h0M357.2 246.7h0M374.7 262.2h0M364.4 253.3h0M330.6 250.8h0M326 271.4h0M366.4 268.5h0M332.3 254.7h0M374.6 268.6h0M364.3 251.2h0M360.5 260.8h0M367.1 247.8h0M378.5 252.7h0M342 261.6h0M326.9 262.6h0M365.6 248h0M343.2 261.8h0M366.6 274.1h0M364.9 262.3h0M362.7 253.2h0M371 264.9h0M333.2 259.7h0M334.3 264.6h0M352.8 268.1h0M333 271h0M352.3 247.8h0M338.4 250.6h0M383.8 248.4h0M369.2 274.5h0M374.3 266.9h0M338.4 264.2h0M355 247.6h0M360.2 252.9h0M324.2 246.4h0M337.9 253.6h0M372 247.7h0M337.4 244.2h0M376.7 245.4h0M350.9 255.7h0M354.1 250.2h0M332.8 244.5h0M374.3 265.5h0M349.4 266.6h0M336.5 273.1h0M331.3 268.8h0M333 274.3h0M371.2 261.8h0M346.8 258.9h0M357.5 257.9h0M346.7 256.3h0M353 264.2h0M350 252.7h0M379 263.7h0M373.7 271.1h0M382.4 266.3h0M370.2 258.6h0M334 258.7h0M350.7 271.7h0M370.3 250.3h0M337.8 260.9h0M349.3 262.7h0M332.3 261.3h0M348.8 250.4h0M354.6 257.2h0M331.5 261.5h0M360.5 267.7h0M332.9 273.6h0M351.8 244.4h0M366 267.4h0M366.6 258.7h0M348.9 259.5h0M331.5 258.2h0M381 267.2h0M355.8 255.3h0M352.5 257.2h0M324.7 263.2h0M369.8 273.8h0M372.1 256.6h0M365.2 257h0M351 260.6h0M349 272.6h0M372.9 247.3h0M377.8 261.8h0M358.5 262.3h0M361.7 268.1h0M373.1 254.3h0M344.7 260h0M332.6 251.8h0M367.6 256.1h0M360.4 242.4h0M343.5 252.3h0M373.9 255.3h0M368.1 251.4h0M324 257h0M354.3 254.5h0M365.4 251.5h0M378.6 252.2h0M367.3 261.9h0M336.8 260.8h0M331.2 272h0M380.3 248.7h0M373.8 268.4h0M346 245.4h0M349.8 251.2h0M369.5 243.5h0M364.6 258.5h0M338.2 242.3h0M353 244.2h0M382.1 263.1h0M350 261.6h0M330.6 264.4h0M332.2 256.4h0M362.1 269.2h0M345.3 262.1h0M359.8 257.9h0M339.3 274.5h0M369.7 251.7h0M355 259.5h0M380 266.2h0M370 264.9h0M352.6 243.2h0M342.2 250h0M353.3 273.4h0M344.2 243.6h0M339.9 271.9h0M328.1 246.5h0M331.5 254.2h0M330.3 266.4h0M345.8 255.9h0M357.7 244.4h0M359 255.9h0M362 264.8h0M336.4 250.2h0M340.8 250.7h0M333.3 253.9h0M330.8 264h0M362.2 245.4h0M353.1 249.8h0M327.7 257.7h0M371.3 265.1h0M354.8 244.9h0M356.5 271.1h0M366.9 259.2h0M340.6 247.1h0M346.1 247.5h0M331.8 260.5h0M374.6 245.8h0M344.9 248.6h0M374.5 272.4h0M374.1 270.6h0M349.9 262.2h0M358.3 264.7h0M338.2 246.7h0M354.1 251.1h0M341.7 243.2h0M380.1 261.4h0M363.6 242.4h0M377 244.9h0M340 274.5h0M334.3 248.1h0M357.5 259.3h0M338.5 259.6h0M339.4 247.4h0M351.4 254.4h0M356.8 252.7h0M369.2 264.2h0M333.8 252.5h0M354.1 243.3h0M378.1 272.7h0M341.6 256.5h0M358.4 256.8h0M349.8 265h0M368.7 261.5h0M366.9 260.9h0M347.9 248.3h0M339.2 269.6h0M359.4 250.7h0M379.5 261h0M347.8 250.3h0M353.5 250h0M337.6 262.2h0M378.6 265h0M345 264.7h0M328.6 259.7h0M349.8 262.3h0M357.7 249.3h0M328.2 272.5h0M363.9 259h0M339.9 245.5h0M335.9 261h0M341.4 253.2h0M378.5 246.3h0M376.3 266.9h0M342 267.4h0M326.4 269.3h0M329.5 271.7h0M351.4 269.9h0M326.7 247h0M361.4 258.9h0M360.2 254.7h0M347.3 262.9h0M332.7 265.4h0M380.7 246.6h0M343.9 251.4h0M336.7 249.2h0M368.7 249.4h0M355.4 258.5h0M345 251.7h0M371.1 248.4h0M367.9 269.2h0M375.8 245.1h0M384.3 247.8h0M356.9 262.9h0M373.4 257.3h0M379.3 263.3h0M333.8 247.3h0M359.5 269.1h0M374.5 255h0M372.5 268.4h0M369.2 253.8h0M351.3 267.9h0M376.3 245.2h0M351.1 252.3h0M340.2 273h0M351.5 245.7h0M371.9 271h0M327.5 253.3h0M321.6 258.3h0M326.6 253.2h0M329.1 252.9h0M337.4 274.5h0M333.1 257.3h0M324.6 248.8h0M339.5 267.8h0M358.8 249.9h0M368.4 259.2h0M350.1 266.4h0M378.1 257.3h0M328.4 246.2h0M374.2 267.5h0M325.2 271.6h0M357.3 264.4h0M336.9 274.1h0M365.8 257.9h0M366.3 249.9h0M370.4 255.4h0M342.1 267.8h0M333.4 272.5h0M369.7 252.3h0M364.2 268.3h0M351.4 265.1h0M350.6 248.1h0M354 268.3h0M378.4 257.5h0M328.2 248.8h0M357 262.5h0M374.9 252h0M327.3 258.8h0M366.3 270.7h0M372.2 248.5h0M336.9 259.8h0M342.1 257.9h0M349.9 249.4h0M383 260.8h0M378.5 251.4h0M379.9 272.1h0M346.8 267.3h0M376.1 258.9h0M352.6 252.2h0M356.7 248.5h0M362.3 250.2h0M366.5 257.9h0M344.4 260.2h0M346.2 247.3h0M332.3 267.8h0M376.6 258.7h0M351.7 273.1h0M381.3 255.5h0M339.1 258.3h0M360.2 265.2h0M382.8 254.4h0M363.8 267.3h0M377.2 261.3h0M378.9 248h0M352.5 270h0M330.6 270.9h0M359.8 245.9h0M361.6 252.7h0M341.9 260.7h0M335.6 245.8h0M343.1 254.8h0M368.2 243.5h0M342.6 257.4h0M372 257.7h0M346.8 272h0M369.9 268.7h0M359.2 250.3h0M378.9 263.1h0M338.5 274.3h0M370.1 247.5h0M349.9 260.6h0M336.3 246.7h0M332.5 249.9h0M337.6 256.8h0M363.7 244.6h0M373.4 256.4h0M340.9 249.9h0M343.8 244h0M330.6 261.1h0M356.6 249.2h0M330.7 249.5h0M341.7 272.3h0M374.6 256.4h0M352.2 259.7h0M341 244.3h0M367.7 274.5h0M321.4 261h0M366.8 253.7h0M371.5 261.5h0M351.4 263.6h0M335.6 256.5h0M336.3 254.5h0M376.1 246.2h0M364.9 267.9h0M334.3 246.7h0M348.5 264.1h0M368.6 269.7h0M355.6 271.9h0M350.8 249h0M331.6 267.5h0M377.5 249h0M336.8 248.8h0M365.4 258.4h0M359.4 258.4h0M368.9 260.9h0M369.9 270.6h0M350.7 260.3h0M355.7 255.7h0M325.2 255.8h0M368.9 248.6h0M337.8 266.2h0M329.7 247.4h0M326.2 257h0M340.3 245.4h0M331.4 266.3h0M333.3 255.4h0M347.3 266.8h0M342.7 249.2h0M340.3 260h0M335.1 271.3h0M358.9 264.6h0M354.2 248.3h0M346.7 246.4h0M333.7 262.5h0M370.2 273.9h0M330.1 255h0M346.7 263.6h0M337.2 265.8h0M367.1 273.1h0M353.8 258h0M376.5 244.3h0M363.6 245.6h0M364 270.4h0M327.3 252h0M322.5 262.7h0M363.1 262.1h0M369.9 268.4h0M375.5 257.7h0M383.6 250.9h0M374.3 269.7h0M355.7 260.1h0M363.5 274.3h0M344.8 266.9h0M382.4 263.8h0M380.8 258.2h0M366.1 242.5h0M334.7 268.1h0M357.1 254.9h0M364.4 244.6h0M371.8 265.5h0M359.8 274.4h0M370.8 263.3h0M368.2 250h0M363.9 254.2h0M329.5 252.6h0M366.9 252.2h0M351 265.7h0M371.5 266.1h0M329.6 249.3h0M353 253.8h0M340.9 253.2h0M353.3 253.3h0M381.3 264.3h0M370.1 267.6h0M376.1 265.9h0M374.6 272.8h0M326.6 271.8h0M364.4 273.3h0M366.2 264.5h0M368.1 255.8h0M339.8 266.8h0M344.9 272.4h0M361.9 250.4h0M340.8 252.3h0M352.6 244.1h0M348 271.3h0M327.8 267.9h0M326.5 249h0M335.6 253.9h0M351.5 251.1h0M379.1 252.8h0M368.3 257.8h0M345 271.9h0M370.5 251.5h0M371.1 261.1h0M377.8 266.6h0M363.9 267h0M361 244.5h0M359.7 253.2h0M327.3 268h0M357 247.4h0M325.3 257.6h0M360.9 268.5h0M361.3 249.1h0M344.4 258h0M334.9 274.3h0M353.2 246.1h0M332.3 252.5h0M345.5 242.4h0M366.3 244h0M326.4 265.2h0M380.2 257.7h0M376.8 262.6h0M345.6 252.7h0M370.9 264.5h0M373.6 246h0M364.9 249.3h0M347 246.4h0M344.2 272.1h0M334.2 254.4h0M371.6 251.9h0M364.1 254.5h0M382.6 249h0M360 270.9h0M322.5 254.6h0M334.6 245.2h0M324.2 268.8h0M339.5 265.9h0M359.8 248.9h0M355.1 254.1h0M358.7 247.8h0M345.8 270.6h0M378.1 272.3h0M350.1 246.7h0M336.1 251.5h0M346.4 255.3h0M347.7 262.9h0M332.9 267.8h0M357.2 269.4h0M354.9 272h0M321.6 261.6h0M340.7 265.9h0M329.2 271.8h0M343.9 267.1h0M332.6 258.4h0M324.3 268.5h0M346.2 260.7h0M322.3 254.2h0M365.9 266.1h0M335.5 244.6h0M368.1 268.1h0M347.9 266.7h0M358.3 251.3h0M372 270.4h0M328.5 260.3h0M345.1 271.4h0M345.1 249.1h0M348.4 266.6h0M359.8 260.1h0M358.2 258.3h0M361.8 253.2h0M376.9 255.6h0M362.8 246h0M364.8 262.7h0M331 267.9h0M348.4 254.3h0M335.3 254h0M341.2 270.2h0M327.2 263.3h0M344.8 273.9h0M334.6 269.2h0M342.9 247.4h0M324.8 263h0M380.9 246.4h0M347.5 246.4h0M341.5 263.9h0M363.8 242.8h0M368.9 248.5h0M365.7 272.4h0M343 252h0M357.2 263.1h0M347.5 265.7h0M364.3 260.7h0M348.2 268.3h0M378.6 250.3h0M347.6 245.3h0M338.2 266.9h0M373.9 253.5h0M325.8 249.3h0M381.7 260.5h0M384.3 263.9h0M353.6 258h0M339.8 268.4h0M331.8 254h0M350 268.4h0M366.6 271h0M334.4 261.3h0M366.5 263.2h0M342.1 261.4h0M357.1 251.4h0M369.3 249.9h0M352.9 266.9h0M362.6 246.6h0M343.5 255.6h0M356.9 255.3h0M370.9 270.2h0M374.4 260.8h0M379.1 250.5h0M340.1 257.9h0M329.8 242.9h0M322.7 249.9h0M330.9 264.2h0M365.2 252.4h0M332.3 254.4h0M368.6 270.2h0M325.9 251.4h0M369.8 260.2h0M347.9 271h0M333.6 246.7h0M359.6 255.2h0M368.6 269.6h0M327.1 267.1h0M346.7 261.6h0M327.5 264.2h0M380.9 247.2h0M349.4 245.5h0M353.8 246.2h0M358.5 274.5h0M370.9 248.8h0M379.6 263h0M346.6 245.5h0M347.1 272h0M374.8 267.4h0M369.6 268.7h0M364.3 272.5h0M370.4 262.1h0M379.1 268.9h0M357.1 245.2h0M337.1 244.8h0M379.1 265.3h0M324.7 263.2h0M348.5 251.1h0M350.5 263.4h0M327.7 263.4h0M342.7 255.5h0M343.8 242.4h0M372.2 260.1h0M341.5 249.4h0M349.3 269h0M370.7 269h0M375.8 254.7h0M339 267.3h0M367.6 248.7h0M340.9 263.9h0M378.6 265.9h0M352.8 250.9h0M328.6 253.4h0M373.9 259.6h0M364.5 256.2h0M371.5 274.5h0M353.5 266.7h0M380.1 257h0M343.8 265.8h0M369.5 246.1h0M328.4 251.2h0M377.7 246.1h0M341.3 254.7h0M333.7 249.5h0M346.7 258.1h0M332.9 253.2h0M358.5 244.1h0M362.3 248.5h0M337.7 256.9h0M329 260.9h0M374.2 252.3h0M364.5 254.8h0M361.2 273.1h0M382.5 255.5h0M328.3 259.1h0M355.2 260.9h0M328.1 272h0M376.8 247.6h0M372.3 256.9h0M347.1 268.9h0M358.7 258.8h0M367.8 254.6h0M359.1 255.1h0M365.9 250.2h0M336.9 263.1h0M369.3 267.9h0M368.5 264.6h0M352.1 245h0M356.3 266.3h0M347.6 267.1h0M359 252.1h0M377.6 251h0M369.5 247.1h0M365.7 265.2h0M349.9 250.6h0M337 257.9h0M361.9 264.7h0M370.3 271.1h0M333.8 267.9h0M357.7 244.4h0M369.3 267.8h0M339.1 272.4h0M373.1 244.3h0M357.5 252.3h0M330 270.6h0M372.6 261h0M370.7 266.4h0M358.8 273.3h0M333.5 268.8h0M332.9 261.5h0M363 263.2h0M369.3 244.9h0M344 269.8h0M360.5 274.5h0M358.5 244.5h0M375.7 267.8h0M337.9 255.1h0M329.2 244.1h0M346.9 259.9h0M372.3 270.2h0M338.1 261.4h0M368.4 243.2h0M328.7 270.2h0M376.5 255.4h0M349.1 257.3h0M372.9 255.2h0M351.3 273.6h0M353.4 259.9h0M365.3 268.4h0M332 274.5h0M324 261.8h0M346.7 270.5h0M331 250h0M336.8 251.1h0M332 265.5h0M331 265.5h0M372.6 274.5h0M361.4 253.7h0M343.6 249.9h0M374.9 254.2h0M377.7 260.4h0M369.6 253.7h0M350.5 257.5h0M379 263.4h0M344.9 246.3h0M332.4 264.3h0M329.7 256.8h0M366.5 270.6h0M339 269h0M338.7 268.8h0M370.9 245.1h0M375.1 257.6h0M345.4 245.6h0M343 254.5h0M354.9 248.5h0M345.5 260.3h0M375.8 250h0M356.5 252.4h0M338 266.9h0M322.1 265h0M379.5 267.6h0M342.8 265.8h0M379.9 256.2h0M378 245.1h0M348.4 245.4h0M337.5 261.2h0M365.7 271.4h0M328.1 258.8h0M327.1 257.8h0M323.9 271h0M358.6 255.2h0M369.3 250.9h0M361.7 273.4h0M326.5 258.9h0M366.5 248.9h0M363.9 250.5h0M365.7 270.6h0M351.6 262h0M331.1 261.1h0M346 248.2h0M335.2 273.6h0M382.7 255.5h0M369.4 248.1h0M379 262h0M356.3 244.7h0M329.1 270.1h0M366.4 257.8h0M344.7 252.2h0M364.1 252.4h0M347.7 248.7h0M354.1 248.6h0M332.6 262.9h0M376 248.1h0M340.7 260.1h0M373.5 270.3h0M375.6 264.6h0M359.1 261.7h0M334.2 256.2h0M345.4 253.4h0M353.3 250.3h0M339.9 256.1h0M381.5 258.9h0M358.2 253.2h0M355.8 251h0M329.1 257.9h0M353.3 255.9h0M371.4 252.5h0M333.1 258.9h0M380.8 266.3h0M335.4 263.1h0M330.3 266.7h0M369.2 258.9h0M336.1 270h0M374.9 245.1h0M336.7 262h0M329.9 267.5h0M361 264.4h0M329 248.2h0M358 262.8h0M369 268.8h0M349.8 254.6h0M374.6 251.5h0M332.9 255.7h0M372 266.4h0M349.9 251.8h0M378.4 267.1h0M330.5 267.4h0M356.7 260.3h0M325.3 256.9h0M333.2 272.8h0M345.2 248.5h0M354.2 246.7h0M354.1 261.3h0M337.7 246.2h0M342.6 250.8h0M382.6 247.2h0M346 257.2h0M374.3 252h0M362.2 254.1h0M359.9 249.2h0M331.7 253.5h0M339.9 249.5h0M356.7 259.7h0M339.9 248h0M380.9 268.6h0M370.9 256.3h0M370.1 243.6h0M336.5 265.2h0M346.1 262.4h0M372.6 258.2h0M341.4 252.7h0M380.7 268.2h0M347.6 273.7h0M351.3 258.9h0M370.5 269.7h0M330.2 260.3h0M360.7 250.4h0M360.1 265.3h0M328.8 265.5h0M332.5 246.8h0M324.9 247.3h0M345.3 246.4h0M360.8 243h0M327.7 252.7h0M353 257.9h0M332.6 262.1h0M370.6 259.9h0M327.4 268.7h0M362 271.3h0M343.6 268.4h0M379.4 242.8h0M346.2 244.1h0M370.4 246.1h0M349.8 261.1h0M351.7 262.2h0M347.6 251.5h0M365.7 265.3h0M325 253.2h0M371.5 268.6h0M362.7 265.5h0M367.5 250.1h0M328.8 245.6h0M362.8 262.5h0M356.5 246.4h0M367.5 260.4h0M354.3 261.8h0M378.3 247.2h0M369.9 263.4h0M358.9 255.1h0M382.5 261.5h0M355.4 260.1h0M343.3 261.6h0M375 260.9h0M334.9 258.7h0M370.4 255.5h0M356.6 248.5h0M382.6 263.2h0M340 256.5h0M380.7 269.9h0M358.1 268.5h0M335.4 269.6h0M364.7 266.2h0M351.1 272.2h0M356.3 274h0M331.4 257.1h0M325.1 262.8h0M377.3 248.4h0M363.2 263.8h0M379.5 254.1h0M352.3 268h0M338.4 247.5h0M327.3 247.5h0M354.5 264.6h0M367.8 260.2h0M380.3 264.8h0M346.2 259.8h0M337.2 245.1h0M339 260.4h0M381.1 258.9h0M365.2 251.1h0M352.3 267.4h0M378.3 266.7h0M366.6 263.2h0M354.7 253.7h0M367.3 246.6h0M365.2 243.1h0M367.2 270.6h0M343.5 257.1h0M366.3 258.4h0M333.5 252.6h0M326.2 256.3h0M352.5 260.9h0M369.1 256.9h0M336.1 269.1h0M373.4 247h0M352.3 248.8h0M362.1 271.3h0M374.5 249.3h0M370.4 255.2h0M360.3 264.9h0M338.1 242.7h0M331.3 258.3h0M357.9 252.1h0M360 274.5h0M359 259.4h0M345.3 258.9h0M335.3 263.5h0M378.2 269.9h0M361.6 252.3h0M362 243.3h0M324.7 261.6h0M356.7 258.5h0M354.4 249.3h0M326.7 267.1h0M335.7 266.2h0M331.3 273.1h0M359.4 273h0M375.6 252.8h0M359.9 254.6h0M343.8 267.9h0M372.5 244.3h0M356.9 268.7h0M372.7 263.4h0M357.4 253.6h0M332.2 271h0M348.3 257.9h0M341.2 251.2h0M340.8 267.1h0M327.9 270.6h0M370.6 246.2h0M356.4 271.9h0M344.3 247.9h0M362.7 263.8h0M351.6 258.9h0M327.5 268.8h0M371.2 273.4h0M372.6 247.3h0M355.7 259.3h0M361.5 269.9h0M358.1 257.1h0M340.2 250.1h0M325 256.7h0M362.6 244.7h0M339.8 247.2h0M366.8 269h0M342.2 269.4h0M345.2 266.4h0M375.9 245.5h0M329.3 263h0M338.6 256.8h0M364.6 264.4h0M347 252.5h0M377.3 250h0M331.3 271.8h0M324.2 263.5h0M371.3 262.3h0M329.1 257.4h0M341.2 251h0M333.4 255.3h0M349.7 269h0M375.8 268.3h0M353.4 245.1h0M365.7 267.4h0M332.1 267.8h0M357.1 262.5h0M337.5 250.9h0M334.4 272.9h0M340.5 258.9h0M346.4 268h0M365.7 245.1h0M330.1 258.7h0M337.8 250.5h0M378.8 256.1h0M343.5 253.1h0M324 261.7h0M375.9 248.2h0M324.3 256.1h0M347.3 252.7h0M366.1 262.4h0M379.2 251.5h0M377.5 253.4h0M379 253.5h0M358 271.2h0M380.4 247.9h0M338.2 247.6h0M344.2 268h0M363.9 253.5h0M358.6 266.7h0M373.6 246.7h0M328.9 246.2h0M344.9 262.9h0M361.3 247.4h0M326.5 249.8h0M351.7 253.9h0M374.7 264.4h0M326.7 248.3h0M374.5 245.4h0M365 253.2h0M348.9 264.1h0M336.2 268.4h0M370.4 262.6h0M343.4 251.9h0M362.6 270.8h0M330.2 251.5h0M369.7 265.9h0M375.8 267.4h0M378.7 262.4h0M382 261h0M328.5 249.5h0M368.3 259.4h0M338.3 242.4h0M330.5 270.7h0M370.3 257.4h0M378.4 259.3h0M329.8 273.5h0M336.6 268.2h0M352.5 251.5h0M376.7 274h0M351.3 270.3h0M327.4 248.5h0M367.7 257h0M379.3 254.7h0M331.2 260h0M374 262.8h0M381.2 255.7h0M347.2 261.5h0M373 262.3h0M363 258.7h0M361.1 249.4h0M339.3 255.3h0M366.3 263.9h0M344.1 250.8h0M342.7 248.4h0M326.5 265.1h0M334.3 255.1h0M364.9 258.7h0M354.1 268.3h0M343.8 263.1h0M361 251.7h0M342.1 251.6h0M342.1 260.4h0M358.1 269.3h0M369.4 248.3h0M367.7 255.7h0M356.7 249.4h0M382.2 247.4h0M383 264.3h0M379.9 254.2h0M343 255.6h0M366.1 269.2h0M382.4 251.5h0M356.6 243.1h0M332.8 259.2h0M361.4 251.9h0M361.8 264.4h0M345.2 248.2h0M348.8 243h0M370.6 266.9h0M369.4 243.7h0M366.7 258.6h0M343.2 242.6h0M346.5 270.5h0M362.3 268.9h0M327.5 244.5h0M364.4 272.4h0M366 260.1h0M366.7 266.3h0M337.2 268h0M343.9 257.8h0M336.4 257h0M350 253.9h0M359.6 262.8h0M349.4 243.4h0M375.6 265.7h0M358.7 266.7h0M370.7 263.9h0M379.8 264.4h0M370.3 255h0M333.2 262.1h0M346.3 252h0M325.3 262.1h0M346.8 251.3h0M350 252.4h0M343.2 264h0M346 248.3h0M334.3 270h0M370.1 269.3h0M346.4 259.5h0M323.1 251.2h0M349 255h0M345 246.8h0M334.1 265.3h0M366.7 271.5h0M347.7 248.5h0M367.6 246h0M360.6 257.5h0M344.4 248.9h0M323.2 249.3h0M334.8 256.9h0M368.6 253h0M334 252.7h0M358.8 260.8h0M330.3 246.3h0M375.1 246.5h0M347.6 259.3h0M340.5 274.5h0M376.3 248.6h0M368.4 252.2h0M357.7 249h0M377 244.5h0M371 243.2h0M324.5 253.9h0M379 253.7h0M333.2 259.7h0M368.2 247.6h0M339.5 270.9h0M344.2 258.6h0M347.5 268h0M375.1 268.7h0M338.6 255h0M344.6 240.4h0M347.8 244.1h0M366.6 240.7h0M361.1 242.5h0M352.6 238.1h0M343.6 237.3h0M369.4 241.3h0M324.8 240.1h0M343.6 239.5h0M344.1 238.4h0M352.8 238.1h0M327.6 249.1h0M345.7 236h0M333.3 237.4h0M330.4 245.4h0M377.5 240.4h0M371.3 238.7h0M342.4 237.6h0M361.6 243.5h0M341.6 241.2h0M370.1 233.9h0M357.4 243h0M350 236.7h0M347.2 235h0M349.9 242.3h0M364.9 239h0M369.1 243.7h0M328.6 247.4h0M373.3 245.1h0M351.2 243.6h0M375.6 236.8h0M325.5 240.7h0M367.8 239.4h0M358.3 238.1h0M331.2 244h0M328.4 237h0M336.3 236.6h0M372.1 242.4h0M359.4 243.1h0M340.5 239.6h0M341.3 240h0M363 237.7h0M348.4 243.5h0M330.4 236.5h0M358.4 237.6h0M353.4 245.7h0M373.6 246h0M333.1 236.3h0M360.9 240.6h0M365.4 238.3h0M351.2 238.3h0M364.9 242h0M372.2 244.1h0M364.2 244.9h0M339.5 243h0M332.8 245.7h0M355.9 235.2h0M379.6 241.2h0M372 238.5h0M348.5 240.8h0M357.8 234.4h0M342.4 237.4h0M356.8 235.5h0M328.6 240h0M374.4 244.8h0M374.2 240h0M362.9 236h0M331.1 245.9h0M342.8 239.9h0M369.7 239.9h0M338 240.7h0M367.4 246.7h0M371.5 240.8h0M361.6 240.8h0M338.3 237.4h0M356 245.9h0M370.2 238.3h0M358.3 240.7h0M370.6 238.1h0M373.4 240.6h0M378.5 264h0M381.1 258.7h0M388.6 267.7h0M387.2 252.6h0M385.6 239.8h0M391.3 264.8h0M394.8 271.7h0M378.9 241.1h0M391 237.3h0M398.8 253h0M381.2 237.4h0M381.5 262.7h0M387.4 245.2h0M386.3 266.1h0M381.7 254.2h0M384.5 259.4h0M394.6 265.3h0M390.4 255.8h0M380.1 246.8h0M374.7 268.1h0M378.3 241.8h0M386 273.5h0M380.2 251.3h0M379.9 252.2h0M389.3 262.3h0M383.3 262.6h0M382.7 263.6h0M386.2 241.9h0M393.7 248.3h0M386.8 261.8h0M389.1 262.1h0M385.5 257h0M394.3 272.2h0M377.6 256.1h0M378.2 268.4h0M381.9 269.9h0M397.1 261.8h0M394.2 255.9h0M378.4 266.1h0M382.2 262.9h0M361.2 236.1h0M334.5 241h0M358.4 239.2h0M378.7 237.9h0M345 240.3h0M352.6 233.6h0M345.8 235.7h0M365.9 245.9h0M378.8 240.8h0M359.3 238.9h0M346 242.5h0M355 240.4h0M370.4 240.7h0M356.8 243.7h0M362.2 240.4h0M371.7 232.3h0M353.2 236.5h0M363.5 244.7h0M376.6 243.3h0M360.3 238.2h0M339.1 232.8h0M364.1 236.2h0M386.8 247.3h0M344.5 243.8h0M358.4 243.9h0M357.9 232.7h0M366.1 233.7h0M342.9 236.7h0M349.9 233.7h0M385.3 239.5h0M362.7 234.7h0M339.2 240.9h0M364.4 238.2h0M351.4 236.9h0M377.8 241.6h0M352.1 239.6h0M367.9 237.6h0M327.6 238.9h0M341 219.5h0M393 219h0M432.5 218.5h0M328 235h0M337 232h0M344 234h0M349 228h0M362 230h0M365 232h0M377 230h0M382 234h0M388 230h0M392 238h0M398 238h0M385 241h0M389 247h0M386 252h0M394 257h0M393 250h0M396 262h0M403 258h0M390 266h0M392 270h0M375 266h0M370 270h0M398 246h0M402 253h0M381 256h0M298.5 297.2h0M292.4 284.6h0M310.1 295.5h0M302.2 283.1h0M295.8 293.3h0M299.5 281.9h0M287.1 301h0M309 293h0M287 291.1h0M295 301.8h0M289 292.2h0M302.8 283.5h0M304.9 300.6h0M299.6 298.2h0M302.8 284.1h0M292.6 284h0M313 287.4h0M294.3 289.2h0M289.5 280.4h0M289.6 286.1h0M292.5 304.8h0M304.4 296.3h0M290.6 303.9h0M287.8 299.6h0M306.9 289.3h0M311.5 288.4h0M289.5 283.8h0M295.6 287.2h0M294.1 304.1h0M287.5 298.2h0M311.8 285.8h0M285.6 282.6h0M311.8 286.2h0M312.5 286.3h0M297.3 302.4h0M287.7 288h0M293.8 285.6h0M298.5 302.4h0M296.5 293.7h0M287.5 282.8h0M297.9 294h0M309.2 293.9h0M299.2 281.5h0M292.9 299.2h0M295.1 301.2h0M309.6 285.9h0M296.7 294.8h0M285.8 287.5h0M287.2 291.3h0M299.3 280h0M309.2 292.4h0M303.1 300h0M288.1 299.1h0M308.9 278.8h0M296.3 296.4h0M295.8 284h0M289.9 299.3h0M310 279.2h0M293.5 292.7h0M298.9 304.5h0M296.2 291.1h0M288.6 281.9h0M295.8 289h0M310.1 286.9h0M301.6 282h0M288.5 295h0M300 290h0M300.6 289.9h0M311 290.9h0M299.2 302h0M286.9 292.4h0M305.2 286.2h0M298.7 292.5h0M293.2 293.2h0M287.2 284.1h0M298.7 303.4h0M296.7 298.7h0M304.5 296.7h0M295.7 297.4h0M298.1 292.8h0M298.6 282.1h0M294.3 283.9h0M290.9 294.4h0M294.1 290.3h0M302.9 282.3h0M289.1 296.2h0M290.1 281.9h0M290.4 291.5h0M311.8 289.7h0M289.4 300.2h0M298.9 303.1h0M303.5 282.8h0M295 280.8h0M290.2 301.7h0M293.4 298.6h0M289.4 290.6h0M299.1 289.4h0M293.2 296.1h0M293.4 283.7h0M296.8 294.9h0M292.1 303.4h0M304.6 283h0M312.7 281.9h0M292.6 288.6h0M304.8 282.8h0M295.5 301.3h0M305.9 285.8h0M306.5 290.8h0M297.6 280.3h0M299.1 302.1h0M292.6 289.7h0M301 300.4h0M290.3 297h0M294.6 299.6h0M287.8 299.9h0M289.5 289.8h0M292.9 282.5h0M292.1 281.3h0M299.3 301.2h0M311.6 289h0M298.2 284.5h0M295.9 277.8h0M304.3 300.7h0M293.2 305.1h0M303.4 300.3h0M295.7 289.5h0M288.4 298.4h0M306.6 289.4h0M312.8 281.7h0M295.9 283.2h0M300.1 286.2h0M301.3 301.2h0M305 290h0M297.6 288h0M296.9 285.9h0M294.9 293.3h0M295.5 290.8h0M293.7 294.9h0M294.7 287.8h0M293.6 296.9h0M299.9 288.5h0M287.3 281.5h0M292.6 286.7h0M288.7 296.9h0M311.8 282.1h0M289.7 304.6h0M291.4 289.3h0M287.6 291.3h0M309.2 287.8h0M311.6 280.8h0M314 282.5h0M307.4 288.2h0M293.4 296.4h0M289.4 286.1h0M287.2 300.1h0M305.8 296.4h0M307 279.4h0M306.6 289.4h0M305.1 293.5h0M301.4 292.9h0M292.4 280h0M293.6 303.8h0M295.5 301.8h0M288.9 280.2h0M299.7 283h0M288 298.9h0M301.3 297.3h0M287.2 301.5h0M306.6 289.6h0M311.5 284.7h0M296.9 279.6h0M299.4 284.3h0M302.9 279.2h0M307.7 291.8h0M296.9 293.5h0M297.4 285.8h0M304.8 285.7h0M289.9 290.3h0M287 282.3h0M304.1 278.7h0M299.1 297.3h0M305.2 293.3h0M299.2 281.9h0M308.8 277.3h0M308.2 281.1h0M313 286.8h0M296.9 297.2h0M291.4 280.7h0M303.7 297.9h0M293.9 280.1h0M296.2 296.3h0M291.2 302.3h0M289.2 291.2h0M293.2 281.8h0M295.9 292.9h0M305.5 278h0M297.1 303.4h0M286.4 285h0M311.1 280.8h0M291 300.9h0M298.1 282.4h0M297.7 301.6h0M299.7 280.2h0M290.7 299.9h0M303.1 287.8h0M313.7 280.1h0M292.7 295.4h0M308.7 287.2h0M310.7 285.9h0M299.6 287.6h0M292.4 282.8h0M299.1 294.8h0M290.6 286.3h0M287.7 280.9h0M308.4 294.9h0M289.5 298h0M291.4 283.4h0M308.3 282.7h0M299.7 278.4h0M301.3 280.1h0M292.5 299.2h0M304.6 293.7h0M305.3 278.3h0M307.9 281.5h0M286.9 293.8h0M292.5 286.8h0M287.5 283.2h0M296.7 294.2h0M287.3 301h0M302.4 296.2h0M308.6 284h0M305 291.9h0M287.4 296.6h0M297.7 277.3h0M292.6 300.7h0M310.7 286.6h0M292.9 297.5h0M301.1 292.4h0M310.4 282.8h0M296.1 300.3h0M313.2 286.1h0M292.6 289.1h0M292.3 286.4h0M291.6 299.2h0M298.6 302.2h0M286.6 282.3h0M301.9 290.6h0M288.9 291.7h0M297.9 294.4h0M293.4 293.4h0M297.2 294h0M287.5 281.6h0M299.5 296.7h0M299.5 298.9h0M298.9 281.3h0M292.3 297.6h0M297 283.3h0M302.7 285.4h0M288 294.2h0M294.2 286.1h0M291.4 279.6h0M296.4 286.6h0M308.3 290.3h0M307.8 280.2h0M286.1 290.7h0M292.3 289.2h0M292.3 297h0M302.9 297.5h0M306.9 292.3h0M294.2 301h0M294.7 293.3h0M292.9 303.4h0M299.5 295.9h0M290.2 301.5h0M299 283.2h0M302.5 292.6h0M313.8 280.9h0M293.5 304.8h0M293.6 298.2h0M311.6 279.3h0M309.7 283.1h0M306.9 292.9h0M304.4 297h0M300 279.5h0M288.2 297.6h0M295.9 289.3h0M309.6 287h0M295.2 295.3h0M296.5 278.4h0M300.5 284.9h0M299.3 299.3h0M290.3 292.9h0M290.2 279.6h0M290.7 297.2h0M294 282.7h0M288.1 292.1h0M296.8 280.3h0M310.7 288.5h0M297.5 279.4h0M303.9 291.1h0M289.3 300.3h0M297.7 298.8h0M311.2 290.4h0M303.8 295.5h0M299.9 303.2h0M288.6 284.2h0M293.4 280.2h0M297 284.6h0M299.1 293.9h0M313.9 285.9h0M297.5 279.3h0M306.7 284.8h0M310.8 286.2h0M307.2 278.9h0M300.3 283.9h0M299.6 294.3h0M287.7 285.5h0M295.4 281.5h0M298.2 280.7h0M286.7 292.4h0M305.5 291.3h0M313.4 278.2h0M287.8 299.8h0M306.7 291.9h0M302.6 299.8h0M291.8 295.3h0M314.6 286.2h0M294 305.1h0M290 301.7h0M292.8 292.6h0M298.4 278.9h0M304.4 294.5h0M297.1 292.6h0M311.7 288.2h0M287.2 291.1h0M307.2 276.9h0M310.5 286h0M296.4 280.5h0M294.2 284.5h0M307.7 295.5h0M296.1 288.4h0M294.1 282.5h0M299.5 288.2h0M308 279.1h0M309.5 289.6h0M295.4 285.1h0M297.1 281.7h0M295.6 296h0M286.2 290.8h0M310.3 291.4h0M308.9 287.5h0M306.1 300.1h0M294.6 281.8h0M295 297.4h0M307.7 288.9h0M299.5 278.4h0M310.3 289.7h0M292.7 302.8h0M308.3 285.4h0M295.3 292.9h0M308.6 286.7h0M291.8 284.2h0M312.5 288.7h0M291.5 279.3h0M296.7 304.5h0M304.5 300.3h0M312.4 286.9h0M303.8 295.8h0M292.1 300.8h0M300.5 289.9h0M295.2 298.6h0M296.8 290.3h0M300.7 301.9h0M294.4 294.9h0M294.3 296.8h0M308.8 280.5h0M288.9 292.6h0M297.5 281.5h0M295.7 292.5h0M292.9 297.9h0M288.4 287.6h0M309.2 294h0M302.2 288.5h0M304.3 297h0M311.7 283.5h0M310 290.7h0M304.7 296.7h0M300.5 280.4h0M305.2 286.5h0M287.5 299.6h0M290.4 286.1h0M301.4 283.7h0M297.5 285.4h0M297.8 287.1h0M307.3 293.5h0M309.4 281.3h0M301.3 284.2h0M300.9 293.5h0M290.6 302.6h0M311.5 282.8h0M299.8 286.2h0M305.9 286.2h0M289.7 282.5h0M306.5 294h0M292.1 301.3h0M301.3 288.4h0M300.1 300.8h0M299.9 291.1h0M297.7 289h0M295.4 289.9h0M295.2 301h0M297.7 281.4h0M311.6 287.7h0M300.1 281.5h0M297.7 291.6h0M296.7 279.8h0M293 285.7h0M291.3 293.3h0M293.2 298.4h0M310.8 291.4h0M300.5 296.5h0M287.6 293.1h0M302.7 300.2h0M295 296.7h0M302.3 292.1h0M300.1 287.4h0M305.4 296.5h0M293.5 291.2h0M307.1 289.4h0M293.8 303.7h0M298.2 292.2h0M288.4 292.8h0M291.8 291.2h0M302.1 293h0M289 300.5h0M290.4 288.8h0M290.1 300.9h0M302.6 288.4h0M312.5 278.9h0M291.1 304.8h0M306.7 279.2h0M313.4 286.7h0M306 284.1h0M307.2 291.4h0M301.9 293.6h0M306.3 288.3h0M293.4 291.8h0M306.1 287.5h0M289.5 293.3h0M295.6 283.3h0M300 302.7h0M312.8 288.2h0M307.2 280.9h0M307.6 289.3h0M306.2 282h0M309.8 281.6h0M302.5 298.6h0M308.7 282.5h0M288.5 293.2h0M297.3 299h0M290.2 295.8h0M303.8 293.1h0M305.2 280.9h0M296.6 304.2h0M297.7 285h0M307.3 290.6h0M299.6 280h0M292.7 279.7h0M288.4 288.4h0M310.7 278.8h0M306 290h0M298.2 288.4h0M299.8 277.8h0M299.8 283.4h0M285.6 289h0M301.1 282.5h0M307 289.3h0M290.4 288h0M309.3 278.9h0M307.2 280.7h0M305.1 287.8h0M299.1 294.1h0M294.1 284.2h0M298.4 299.7h0M302.7 302.7h0M305.5 288.9h0M296.1 303.4h0M290.3 302.2h0M298.6 292.3h0M302.6 292.3h0M302.7 294.9h0M312.9 283.1h0M309.8 286.1h0M303.9 283.5h0M291.4 290.5h0M299.2 297.6h0M290.8 305.7h0M308.9 282.6h0M294.1 281.9h0M305.8 290.7h0M295.1 291.4h0M289.8 283.6h0M310.1 283.6h0M302.3 288.4h0M309.8 293h0M296.9 299.1h0M304.8 289h0M293.4 288h0M297.6 297.2h0M287 282.1h0M310.4 293.3h0M307.1 282h0M293.9 299h0M289.7 291.4h0M302.1 289.1h0M293 284.7h0M297.1 299h0M302.2 296.2h0M296.2 280.2h0M295 302.7h0M296.3 304.5h0M310 291.8h0M288.6 293.4h0M301.3 298.7h0M301.9 287.9h0M305.3 282h0M304.9 293.4h0M298.7 297.6h0M300.1 288h0M298.8 297.5h0M285.4 289.4h0M311.2 277.1h0M307.6 296.4h0M295.5 287.1h0M305.4 293.4h0M306.1 280.4h0M304.6 282.8h0M312.2 291.3h0M299.9 299.4h0M296 285.5h0M297.7 300.2h0M294.2 289.8h0M310.3 288.5h0M287.7 290.2h0M300.9 283.5h0M302 282.5h0M301.7 303h0M297.5 298.2h0M300.5 298.6h0M310.5 289.3h0M287.6 300.6h0M290.2 287.8h0M297.4 287.3h0M292.4 305.4h0M290.4 290.7h0M302.4 280.5h0M297.7 288.2h0M294.3 283.9h0M305.2 290h0M296.6 298.1h0M311.1 283.8h0M288.4 293.9h0M290.8 300.2h0M298.1 297.8h0M306.5 280.6h0M286.8 290.6h0M289.1 285.3h0M300 281.6h0M295.2 292.1h0M288.7 301.5h0M301.4 291.8h0M311.9 283.9h0M293.3 279.5h0M294.8 282.7h0M301.6 284.8h0M304.2 295.1h0M296.9 303.7h0M303.7 283.5h0M290.1 304.3h0M293.8 299.6h0M294.2 292.1h0M304.8 280.9h0M306.2 286.7h0M299.9 287.3h0M288.3 281.5h0M294.6 289.6h0M305.9 282.4h0M309.2 293.1h0M307.8 287.3h0M304.1 293.8h0M302.7 293h0M306.8 294.7h0M291.1 286.5h0M308.9 290.9h0M290.1 285.7h0M307.7 286h0M298.1 282.3h0M297.5 286.3h0M295 302.5h0M306 285.8h0M291 281.1h0M299.7 297.9h0M288.3 293h0M299.8 302.2h0M297.5 294h0M309.7 281.6h0M300.2 290.5h0M290.9 282.2h0M311.2 286.8h0M288.4 288.8h0M296.7 299.8h0M305.9 282.2h0M292.6 290h0M302.4 281.2h0M313 278.3h0M300.3 302h0M303.7 302.1h0M293.1 290.8h0M287.3 296.5h0M300.3 286.8h0M298.5 290.1h0M289.8 280.5h0M300.8 288.9h0M304.6 291.9h0M300.2 286.7h0M297.1 299.7h0M291 291.6h0M293.4 288h0M295.5 291.3h0M301.5 291.6h0M292.4 284.7h0M294 286.2h0M292.6 280h0M285.5 286.8h0M311.1 283.5h0M292.3 291.6h0M295.7 295.3h0M293.8 281.2h0M309.2 284.1h0M304.6 293.3h0M305.4 291.7h0M294 297.7h0M306.1 293.4h0M306 279.7h0M302.6 291.4h0M299.5 297.5h0M297.5 284.2h0M287.2 283.2h0M298.2 284.1h0M285.4 283.8h0M280 280h0M282 305h0M284 298h0M287 294h0M289 299h0M293 305h0M294 316h0M293.5 316h0M287.5 326h0M305 308h0M313 287h0M310 300h0M308 305h0M303 305h0" stroke="#BC6F7B" stroke-width="3.3" stroke-linecap="round" fill="none"/>
<line x1="272.6" y1="213.8" x2="272.6" y2="331.5" stroke="#111" stroke-width="0.9"/>
<line x1="272.2" y1="331.1" x2="439.2" y2="331.1" stroke="#111" stroke-width="0.9"/>
<line x1="317.6" y1="213.8" x2="317.6" y2="331.1" stroke="#111" stroke-width="0.9"/>
<line x1="272.6" y1="276.3" x2="439.2" y2="276.3" stroke="#111" stroke-width="0.9"/>
<line x1="277.8" y1="331.1" x2="277.8" y2="333.1" stroke="#333" stroke-width="0.8"/>
<text x="277.8" y="339.6" font-size="6.6" text-anchor="middle" fill="#4D4D4D">-0.3</text>
<line x1="317.6" y1="331.1" x2="317.6" y2="333.1" stroke="#333" stroke-width="0.8"/>
<text x="317.6" y="339.6" font-size="6.6" text-anchor="middle" fill="#4D4D4D">0.0</text>
<line x1="357.4" y1="331.1" x2="357.4" y2="333.1" stroke="#333" stroke-width="0.8"/>
<text x="357.4" y="339.6" font-size="6.6" text-anchor="middle" fill="#4D4D4D">0.3</text>
<line x1="397.2" y1="331.1" x2="397.2" y2="333.1" stroke="#333" stroke-width="0.8"/>
<text x="397.2" y="339.6" font-size="6.6" text-anchor="middle" fill="#4D4D4D">0.6</text>
<line x1="437" y1="331.1" x2="437" y2="333.1" stroke="#333" stroke-width="0.8"/>
<text x="437" y="339.6" font-size="6.6" text-anchor="middle" fill="#4D4D4D">0.9</text>
<line x1="270.6" y1="244.1" x2="272.6" y2="244.1" stroke="#333" stroke-width="0.8"/>
<text x="269.6" y="246.4" font-size="6.6" text-anchor="end" fill="#4D4D4D">0.4</text>
<line x1="270.6" y1="276.3" x2="272.6" y2="276.3" stroke="#333" stroke-width="0.8"/>
<text x="269.6" y="278.6" font-size="6.6" text-anchor="end" fill="#4D4D4D">0.0</text>
<line x1="270.6" y1="308.5" x2="272.6" y2="308.5" stroke="#333" stroke-width="0.8"/>
<text x="269.6" y="310.8" font-size="6.6" text-anchor="end" fill="#4D4D4D">0.4</text>
<text x="358.8" y="354" font-size="9.2" text-anchor="middle" fill="#222" textLength="66" lengthAdjust="spacingAndGlyphs">effectSize_PLHIV</text>
<text x="252" y="277.4" font-size="9.6" text-anchor="middle" fill="#222" textLength="72.5" lengthAdjust="spacingAndGlyphs" transform="rotate(-90 252 274.1)">effectSize_nonHIV</text>
<text x="322.2" y="383.3" font-size="12.2" fill="#111" textLength="36" lengthAdjust="spacingAndGlyphs">No 151</text>
<text x="322.2" y="398.2" font-size="12.2" fill="#111" textLength="50" lengthAdjust="spacingAndGlyphs">Yes 12281</text>
<text x="474" y="189.5" font-size="18">E</text>
<text x="494.2" y="198.1" font-size="9.2" fill="#222" textLength="76.2" lengthAdjust="spacingAndGlyphs">Significant in PLHIV</text>
<circle cx="586.7" cy="195.2" r="1.5" fill="#E6E6E6"/>
<text x="596.5" y="197.6" font-size="6.6" fill="#222">No</text>
<circle cx="614.5" cy="195.2" r="1.5" fill="#D9A3AC"/>
<text x="625" y="197.6" font-size="6.6" fill="#222">Yes</text>
<path d="M585.9 299.2h0M579.3 300.5h0M587.3 300.1h0M588.1 298.9h0M597.1 301.5h0M580.7 299h0M602.9 298.4h0M595.9 299.1h0M579 300.8h0M587 297.6h0M588.5 299.3h0M578 301.6h0M581.9 299.5h0M599.5 298.7h0M579.4 300.7h0M603.9 300h0M589.9 300.4h0M581.4 300.9h0M588.5 302h0M603 300.5h0M587.1 299.3h0M580.9 298.9h0M581.2 298.3h0M577.2 300h0M603.2 299h0M586.1 299.6h0M596.9 302.1h0M603.8 298.4h0M602.8 300.9h0M580.1 297.9h0M590.3 301.8h0M593.6 300.7h0M594.5 300.2h0M600.3 297.6h0M576.8 298.7h0M581.9 300.8h0M587.5 299.6h0M580.1 301.1h0M582.1 298.7h0M587.4 299h0M558.2 296.4h0M560.4 296.6h0M564.3 298.3h0M564.9 299.7h0M559.3 297.9h0M559.5 296.6h0M558.2 298.2h0M556.5 299.4h0M558.8 300.1h0M556.8 298.9h0M557 299.2h0M561.7 298.2h0M557.9 296.5h0M565.7 298.4h0M560.4 297.2h0M555.7 298.8h0M565.5 297.1h0M558.9 298.8h0M558.7 300.2h0M554.5 298.9h0M560.5 294.9h0M558.1 300.5h0M566.3 298.8h0M565.3 297.1h0M560.9 297.2h0M584 310h0M610 299h0" stroke="#DADADA" stroke-width="3.2" stroke-linecap="round" stroke-opacity="0.85" fill="none"/>
<path d="M581.6 299.2h0M600 298.2h0M587 299.6h0M604.1 300.7h0M582.2 299.5h0M579.3 302.5h0M589.2 300.1h0M602.6 300.7h0M580.8 300h0M597.4 301h0M584.9 297.9h0M588.2 298.3h0M602.9 299.3h0M588 300.1h0M587.2 300.2h0M594.8 300.9h0M586.4 301.7h0M580.7 301.4h0M604.7 299h0M601.3 301.1h0M592.8 299.6h0M584.3 302.2h0M585.9 298.6h0M601.9 300.2h0M583.2 297.5h0M582.6 299.4h0M604.1 300.4h0M577.3 300.5h0M589.7 299.4h0M584 300.8h0M587.3 297.5h0M578.6 300h0M585.1 299.3h0M594.9 302.3h0M605.5 299.2h0M592.8 300.5h0M592.4 297.9h0M584.2 300.6h0M587.4 298.4h0M587.2 300.1h0M559.1 297.7h0M558.3 298.4h0M554.3 299.6h0M563 298.5h0M556.1 295.9h0M565.7 296.8h0M559 298.3h0M563.1 296.6h0M557.6 300.6h0M556.2 300.5h0M566.4 297.3h0M565.9 298.5h0M560.1 297.9h0M562.8 298.7h0M560.2 298.1h0M564.9 297.4h0M562 295.9h0M558 299.5h0M556.2 300.1h0M555.3 297.1h0M559.4 300.3h0M560.2 301.5h0M556.8 299.3h0M557.7 295.2h0M561.3 298.8h0M620 298.5h0" stroke="#DADADA" stroke-width="3.2" stroke-linecap="round" stroke-opacity="0.85" fill="none"/>
<path d="M582.9 282.5h0M594.5 278h0M607.4 265.4h0M594.9 280.4h0M603.9 275.3h0M591.3 263h0M608.1 270.3h0M609.5 292.8h0M608.6 266h0M579.8 272.9h0M595.1 265.8h0M600.7 282.2h0M579.2 267.9h0M601.3 289.3h0M608.8 256.4h0M603 262.9h0M614.6 292.8h0M585.2 280.8h0M607 282.7h0M608.6 269.3h0M608.8 254.6h0M595.6 252.6h0M599.9 287h0M610.6 296.9h0M621.3 269.9h0M592.3 284.7h0M590.6 263.8h0M581.8 283.2h0M586.8 262.1h0M586.9 266.3h0M593.4 287.5h0M588 272.3h0M582.5 274.1h0M600.4 250.5h0M597.7 262.5h0M591 261h0M603.3 268.5h0M587.3 257.5h0M593.6 292.3h0M580.1 288.5h0M578.3 286.2h0M599.7 268.4h0M611.9 281.3h0M615.8 265.7h0M579.8 265.6h0M578 292h0M592.8 286.3h0M603.8 290.4h0M616.6 280.2h0M594.4 281.5h0M597.7 295.3h0M576.9 275.8h0M585 261.3h0M614.6 258.8h0M586.5 290.5h0M614.2 257.3h0M585.4 277.5h0M590.7 253.8h0M592.4 271.9h0M593.3 263.5h0M596 265.2h0M602.7 283.7h0M589 262.4h0M597.9 291.7h0M600.2 286.8h0M606 288h0M616.5 260.1h0M597.8 265.7h0M611 262.7h0M612.4 268.9h0M600.7 263.9h0M617.6 266.8h0M580.8 279h0M587.7 277h0M608.3 284.2h0M581.3 288.3h0M581.9 266h0M577.9 291h0M612.9 268h0M595.7 257.3h0M586.3 269.1h0M611.8 263.3h0M605.8 261.9h0M585.1 256.4h0M583.3 291.2h0M606.4 261.3h0M617.7 293.3h0M584.7 291.3h0M575.4 293.9h0M612.8 266.8h0M605.8 250h0M580.7 286.9h0M585.3 286.9h0M587.1 291.1h0M585.5 273.7h0M612 287.7h0M616.1 264.4h0M594.6 251.5h0M587.1 260.8h0M589.7 292.2h0M614.2 284.6h0M605.6 255.9h0M614.7 265.3h0M606.6 271.1h0M588.3 291.8h0M587.2 287.9h0M609.3 258.6h0M613.4 260.2h0M580.9 292.2h0M589 285.6h0M588.1 285h0M606.6 267h0M587.8 292.8h0M595.1 258h0M597.8 252.5h0M612.9 293.7h0M598.4 248.3h0M595.3 288.9h0M591.8 272.5h0M578 294.2h0M592.5 270.6h0M608.5 277.5h0M616.2 271.8h0M615.7 274h0M613.7 258.2h0M613.5 254.1h0M578.5 270.4h0M613.2 272.8h0M585.4 280.2h0M611 251.6h0M605.8 262.3h0M608.1 254h0M597.8 250.4h0M594 259.9h0M600.4 252.9h0M612 259.4h0M604.1 273.2h0M595.1 274h0M583.8 262.9h0M598.4 251.1h0M618.9 293.3h0M583.1 298h0M606.8 266.6h0M611.4 277.6h0M614.8 255.5h0M608.9 278.6h0M601 258.5h0M594 276.1h0M594.1 294.2h0M603 284.7h0M585.9 261h0M588.3 286.9h0M612.2 262.7h0M581.6 280.5h0M614.7 261h0M605.2 288.6h0M596.4 258.7h0M592.5 278.6h0M601.7 251.4h0M594.7 283.4h0M616.9 264.5h0M595.1 287.9h0M578 262.9h0M587.2 277.2h0M585.4 273.4h0M580.5 287.9h0M577.9 263.5h0M611.4 251.2h0M577.5 293.5h0M578.6 262.2h0M577.5 292h0M603.4 264.4h0M597.6 261.8h0M591.4 259.4h0M609.8 283.6h0M596.9 256.5h0M593.1 279h0M604.8 269.9h0M590.7 275.5h0M586.1 286.8h0M612 249.6h0M576.4 282h0M605 278.3h0M588 290.1h0M586.4 278.7h0M603.5 297.7h0M601.5 275.8h0M615.7 268.8h0M609.8 279.5h0M576.1 293.6h0M593.2 259.6h0M608.3 294.1h0M616.5 265.6h0M594.8 272.2h0M579.8 274.5h0M607.5 262.7h0M609 263.9h0M598.9 262.3h0M604.6 248.7h0M611.4 283.6h0M597.5 290.1h0M587.5 261.1h0M601.9 251.1h0M580.7 277.8h0M606.5 271.7h0M593.3 252.7h0M593.9 290.4h0M601.4 279.5h0M607.4 288h0M593 254.7h0M612.9 270.2h0M616.5 279.8h0M619.6 269.1h0M614.4 288.2h0M599.4 293.7h0M590 285.2h0M611.7 268.4h0M599.7 270.6h0M586 274.7h0M599.2 255.4h0M594.5 280.7h0M596.8 284.7h0M616.3 253.6h0M598.2 285.3h0M592.5 278.8h0M608.4 282.5h0M611.6 257.1h0M605.4 280.8h0M579.4 260.5h0M589.8 271.3h0M613.7 290.3h0M599.2 281.9h0M579.5 269.9h0M604.4 291.8h0M605 254h0M585.3 256.4h0M604.6 285.8h0M585.1 263.8h0M615.9 285.1h0M605.4 250.7h0M600.5 270.8h0M612.6 267.7h0M583.3 280.4h0M612.1 272.1h0M613.8 292.5h0M610.1 268.7h0M577.8 279.5h0M601.9 252.9h0M598.3 291.5h0M615.2 285.1h0M602 266.6h0M596.3 279.3h0M583.9 262.7h0M607.7 268.2h0M613.4 258h0M588.4 251.2h0M614.9 258.3h0M611.2 285.2h0M592 264.9h0M584.6 280.9h0M591.5 290.4h0M598.4 257.4h0M579.5 282.9h0M614.4 270.8h0M594.4 282.3h0M583.7 290.6h0M601.2 284.8h0M608.6 287.1h0M582.4 256.7h0M590.5 289.7h0M591.7 295.2h0M612.9 294.6h0M587.8 288.9h0M588.6 286h0M582.6 275.1h0M597.6 292.3h0M594.4 284.6h0M604.8 252.3h0M592.4 268.2h0M579.9 291.4h0M604 248h0M583 271h0M583.4 282.2h0M606.4 267.9h0M605.5 292.5h0M580.5 264.6h0M580.1 267.5h0M590.4 260.4h0M590.9 290.8h0M595.1 279.2h0M583 283h0M613.9 278.7h0M584.6 268.2h0M613.8 248.5h0M589.2 285.8h0M599.5 292.5h0M593.8 258h0M583.5 277.6h0M580.9 276.9h0M593.5 251.6h0M594.8 273.7h0M579 282.4h0M590.7 289.3h0M576.6 274.5h0M607.6 273.7h0M614 293.2h0M584.8 275.5h0M596.3 277.3h0M614.1 249.4h0M589 287.9h0M582.8 266.5h0M607.3 254.3h0M586.1 289.4h0M596.8 264.4h0M588.4 289.2h0M593.6 265.8h0M585.2 258.9h0M575.3 294.4h0M593.1 251.2h0M613.1 269.5h0M606.1 276.7h0M613.6 294h0M589.3 275.3h0M575.4 270.2h0M586 260.2h0M589.6 263.4h0M612.2 262.9h0M614.2 270.6h0M586.9 250.7h0M586.4 288.4h0M594.6 290.2h0M586.6 268.7h0M609.8 281.7h0M606.9 293.8h0M613.2 289h0M594.3 271.7h0M616.9 252.6h0M593.1 267.7h0M585.1 261.5h0M610.9 253.5h0M604 254.7h0M594.9 272h0M600.8 282.4h0M599 259.9h0M597 282h0M614.3 280.5h0M589.7 281.7h0M587.6 271.1h0M578.6 290.2h0M597.6 290.8h0M608.7 290h0M599.6 281.9h0M579.7 295.4h0M584.7 275.8h0M597.9 283.2h0M606.9 249.3h0M592 272.8h0M615.2 281.8h0M598.7 288.5h0M619.7 255.5h0M608.6 295h0M582.6 262h0M612.7 258.1h0M595.9 249.1h0M614 262.3h0M591.2 287.3h0M606.9 272h0M607.3 252.5h0M588.1 269.2h0M577.7 272.6h0M584.6 282.6h0M592.5 279.1h0M613.1 260.8h0M598.6 279.4h0M616.2 277.2h0M612.8 251.2h0M614.6 281.5h0M601.6 280h0M602.9 289.2h0M604 278.1h0M618.4 286.8h0M611.7 266.7h0M600.1 283.2h0M600.5 251.5h0M599.6 282.7h0M602.5 246.8h0M610 274.5h0M575.5 273.8h0M602 254.3h0M603.4 270.1h0M580.4 259.2h0M582.4 284.8h0M607.3 268.2h0M592 273.4h0M609.1 254.8h0M617.2 280.5h0M604.7 261h0M600.3 286.4h0M580.2 287.5h0M610.3 248.9h0M606.6 259.3h0M588.2 257.3h0M612 292.3h0M610 281.1h0M611.8 252.7h0M591.4 275.7h0M609.4 284.5h0M599.8 250.6h0M586.1 258.3h0M586.1 258.2h0M587.4 256.5h0M580.2 277.5h0M607.1 255.4h0M612.8 282.4h0M614.6 269.9h0M612.8 254.7h0M591.8 272.3h0M586.4 291h0M594.1 291.3h0M604.5 293.8h0M614.7 276h0M597.6 255.1h0M614.5 254.8h0M611.6 287.8h0M592.7 275.9h0M583.8 292.5h0M601.3 291.6h0M592.1 282.5h0M613.2 289.7h0M598.7 272.3h0M598.2 292.6h0M601.2 271.5h0M589.3 276.8h0M585.8 295.9h0M600.1 288.1h0M578.8 274.9h0M599.8 257.4h0M597.5 256.1h0M616.4 289.6h0M586.7 278.4h0M586.3 281.7h0M613 265.3h0M594.6 259.9h0M614.9 278h0M600.6 294.6h0M584.5 273h0M579.4 280.2h0M601.5 270.4h0M618.1 263.1h0M595.7 278.9h0M613.6 281.3h0M592.6 272.6h0M576.7 290.6h0M615.2 294.3h0M594.2 253.6h0M591.7 263.2h0M618.1 280.2h0M594.8 273.4h0M591.6 267.8h0M601 266.5h0M615.8 292.7h0M610.6 255.5h0M596.7 289.5h0M615.4 293.5h0M603 261.3h0M584.8 273.2h0M585.7 276.6h0M576.5 293.2h0M585.8 262h0M583.9 269.4h0M582.5 271.9h0M582.5 292.4h0M592 296.5h0M584.1 278.6h0M602.9 276.3h0M594.8 255.4h0M601.7 272.5h0M602.8 256.5h0M607.9 262.3h0M581.6 269.7h0M607.7 253.8h0M610.7 261h0M602.2 265.1h0M596.1 250.7h0M579.9 292h0M584.5 294.7h0M596.3 282h0M591 284.3h0M594 256.4h0M586.1 270.1h0M596.4 252.8h0M609.5 262.5h0M616.8 287.6h0M582.8 289.4h0M611 256.7h0M586 255.3h0M587 255.3h0M612.1 291.2h0M613.5 262h0M600.5 268.7h0M608 291.6h0M586.7 251.4h0M581.5 276.8h0M590.1 274.1h0M588.7 258.2h0M588.9 277.1h0M604.1 289.1h0M586.3 254.1h0M591.5 256.5h0M599.1 276.8h0M618 283.7h0M600.5 287.6h0M606.1 293.7h0M594.8 288.1h0M609.6 274.8h0M578.3 273.2h0M592.6 274.7h0M585.3 268.5h0M590.7 286.4h0M589.1 253.7h0M605.5 284.6h0M601.3 255.4h0M605.8 262.2h0M594.3 275h0M584.2 292.8h0M586.6 294.1h0M597.6 290h0M586.2 273.6h0M593.5 280.6h0M614.9 256.3h0M587.3 278.7h0M581.5 293.1h0M616.6 276.3h0M608.9 273.7h0M581.2 264.1h0M612.3 267.5h0M599.4 267.6h0M584.4 275.6h0M607.5 292.7h0M593.1 266.2h0M615.7 274.8h0M616.9 282.5h0M579.2 259.6h0M613.4 281.1h0M578.4 273.5h0M615.3 286.6h0M596.9 282.7h0M589.4 262.7h0M589.4 251.2h0M607.6 283.4h0M605.1 281.4h0M591.3 276.6h0M605.5 288.2h0M574.3 290.2h0M586.5 265.9h0M582.9 288.1h0M584.8 272.1h0M588.1 292.1h0M597.1 253.7h0M617 281.5h0M614.5 257.7h0M609.1 279.7h0M610.4 255.6h0M580.5 287.8h0M578.2 274.7h0M604.8 251.1h0M594.8 262.4h0M584.1 272.4h0M581.4 282.8h0M588.8 263.3h0M594.5 283h0M576.9 281.7h0M593.8 290.4h0M579.9 268.4h0M612.9 255.9h0M606.8 261.6h0M583.9 287.7h0M580.3 271.6h0M610.4 275h0M607.4 264.1h0M616.5 285.9h0M597.7 296.7h0M613.6 286.8h0M593.9 261.3h0M585.7 281.1h0M579.6 261.8h0M587.4 262.8h0M590 276.1h0M602.9 276.8h0M578 287.9h0M604.7 281.4h0M588.1 258.3h0M595.7 249.5h0M578.7 282.6h0M591.1 278.5h0M615.1 295.1h0M619.4 275.3h0M609.2 279.5h0M587.1 281.3h0M601 259h0M609.8 269.1h0M576.1 281.4h0M592.3 268.5h0M597.9 276.3h0M602.8 250.1h0M586.4 263.9h0M588.8 267.4h0M618.8 284.7h0M578.4 285.3h0M608.7 289h0M601.6 282h0M618 273.2h0M600.2 279.9h0M591.9 273.4h0M617.4 271.1h0M600.9 267h0M600.2 292.5h0M611.5 260h0M590.9 252.1h0M599.7 250.9h0M610.6 262.9h0M585.3 283.4h0M608.1 256.1h0M611.8 263.7h0M606.5 282.8h0M603.6 290.8h0M578.8 285.9h0M613.2 281.3h0M616.7 282.7h0M613.1 264.7h0M597.3 292.6h0M580 268.7h0M595.5 281.1h0M615.1 273.7h0M604.7 268.2h0M581.7 257.5h0M617.9 293.9h0M604 277.1h0M608.7 285.2h0M580.7 275.3h0M601.8 265.6h0M610.7 276.6h0M584.1 278.6h0M588.9 265h0M612.7 251.3h0M598.5 289.5h0M607.3 265.6h0M608.2 294.4h0M597.4 288.2h0M592.8 292.1h0M607.1 254.4h0M591.9 278h0M603.5 284.9h0M607 279.6h0M608.2 290.2h0M611.3 286.8h0M596.1 297h0M608.8 289.4h0M583.1 257.2h0M576.8 275.2h0M612.6 268.8h0M582.2 282.2h0M583.9 284.5h0M589.3 282.2h0M576.8 294.5h0M585.6 275.2h0M593.1 288.3h0M584 278.1h0M615.6 279.5h0M587.5 280.7h0M585.5 283.8h0M599.2 262.9h0M579.7 278.5h0M597.7 278.4h0M607.5 264.4h0M592.2 284.2h0M593 256.4h0M611.9 271.5h0M583.4 280.3h0M599.4 282.3h0M607.8 259.7h0M594.9 269h0M616.5 282.4h0M615.4 275.5h0M580.6 283.9h0M615.6 277.6h0M612.7 284h0M580.4 262.9h0M606.4 282.8h0M590.8 284.7h0M586 267.9h0M599.3 254.1h0M579.7 287.1h0M609.1 278.6h0M617.1 274.4h0M587.9 259h0M617.4 279.7h0M616.9 261.1h0M596.5 286.6h0M596.1 253.3h0M604.8 290.8h0M584.9 292.5h0M599.4 258.6h0M590.5 251.6h0M598 258.3h0M585.6 283.6h0M616.7 285.4h0M595.5 254h0M587.7 269h0M579.5 258.8h0M600.5 284.2h0M592.6 280h0M606.1 292.1h0M606.3 280.3h0M578.3 275.9h0M582.3 293.9h0M594.3 259h0M592.7 253.9h0M593.7 267.2h0M596.6 279.6h0M594.4 258.5h0M611.4 287.6h0M600.3 260.5h0M588.6 254.1h0M591.4 290h0M583.1 257.1h0M600.9 256.6h0M613.7 282.8h0M604.3 282.9h0M614.3 273.1h0M608.3 264h0M600.5 295.6h0M612.3 250.6h0M602.8 279.2h0M602.8 269.2h0M609.3 266.4h0M608.6 265.9h0M585.9 260.4h0M583.2 283.1h0M574.9 278h0M586.2 289.4h0M585.1 283.9h0M586.7 270.5h0M580.7 276.1h0M582.6 288.4h0M594.3 272.7h0M610.8 271h0M615.3 277h0M600.2 274.7h0M597.4 259.1h0M597.3 290.8h0M615.8 292.1h0M613.5 259h0M603.3 267.7h0M592.6 294.2h0M613 275.1h0M617.6 274.6h0M597.4 289.4h0M583.2 258h0M595.1 255.1h0M590.1 279.6h0M578 268.8h0M600.8 260.9h0M601 256.4h0M603 257.4h0M580.2 291.7h0M604.4 268.8h0M593.7 252.8h0M590 264.8h0M588.4 256.8h0M595.2 294.4h0M599.5 260.2h0M610 264.9h0M601.4 265.8h0M595.5 277.1h0M604.6 263.6h0M589.3 288.8h0M577.2 267.4h0M616 262.6h0M598.7 259.5h0M582.9 268.7h0M615.8 291.8h0M578.2 295.6h0M579.9 271.2h0M581 287.1h0M585 257.6h0M602 289.8h0M615 276.1h0M591.2 262.5h0M614 283.7h0M586.6 273.5h0M588.9 268h0M597.6 273.4h0M612.1 295.8h0M605.3 262.8h0M591.9 260.5h0M588.3 278.9h0M590.5 277.5h0M614.6 260h0M590.2 267.1h0M582.9 265.7h0M588 260.3h0M590.7 250.9h0M615.6 249.2h0M595.2 266.3h0M613.3 293.1h0M613 272.8h0M599.9 292.7h0M605.8 272.6h0M580.1 276.1h0M592 268.7h0M579.4 282.6h0M581 278.8h0M596.9 252.2h0M611.9 263.5h0M581.7 273.5h0M578.5 272.6h0M609.1 251.1h0M594.1 263.6h0M583 282.5h0M613.9 266.6h0M599.6 285h0M607.9 258.9h0M612.9 281.5h0M582.4 285.3h0M614.2 272.6h0M590 294.7h0M602.8 277.1h0M598.9 275.2h0M583.7 256.9h0M588.4 291.8h0M594.8 268.6h0M601.9 294h0M609.5 288.3h0M586.6 281h0M598 257.3h0M578.2 281.6h0M589.5 277.4h0M579.5 293.7h0M600.4 290h0M589.4 255.7h0M615.2 296.5h0M597.9 287.2h0M616.7 270.6h0M587.3 290.5h0M615.1 268.3h0M617.3 250.9h0M581.8 291.3h0M598.9 267.6h0M593.9 282.1h0M597.2 290.3h0M610.7 266.5h0M609.3 281h0M586.5 264.7h0M599.2 288h0M615.1 295h0M586.7 259.6h0M581.3 287.4h0M601.6 290.8h0M594 268.1h0M587.8 253.9h0M610.6 277.3h0M618.2 281.8h0M587.8 263.6h0M592.7 276.4h0M599.1 256.5h0M611.6 267.2h0M616.5 283.6h0M598 257.4h0M603.7 273.1h0M599.2 257.8h0M576.2 281.9h0M597.8 268.7h0M604.9 280h0M589.6 260.5h0M603 281h0M592.9 256.5h0M615 278.6h0M596.7 250.2h0M599.5 281.9h0M582.3 290.4h0M606.6 276.7h0M595.2 273.6h0M583.3 294.3h0M596.4 286h0M583.5 291.6h0M591.3 279.8h0M588 289.1h0M598.8 293.5h0M601.4 267h0M607.2 292.8h0M597.8 291h0M613.1 260.5h0M611.1 256.9h0M578.9 271h0M592.8 289.4h0M612.2 282.6h0M578.4 270.4h0M586.9 287.2h0M600.4 250.3h0M582.1 282.6h0M617 263.5h0M586.6 281.7h0M580.2 296.5h0M594.7 293.4h0M595.1 264.9h0M600.5 270.8h0M578.4 291.7h0M582.9 282.2h0M588.9 272.1h0M579 262.6h0M590.1 279.8h0M591 291h0M606.6 258.6h0M617 278.4h0M581.8 266.3h0M607.4 289.2h0M579.4 282.7h0M583.3 287.8h0M597.6 291.9h0M606.6 280.1h0M612.1 294.5h0M613.4 280.2h0M590.7 290.8h0M610.4 293.3h0M600.9 252.4h0M603.5 253.9h0M604.6 249.5h0M585 279.8h0M616.5 298.2h0M591.6 287.9h0M597.3 295.4h0M597.8 291.3h0M598.8 256h0M601.2 259.2h0M618.8 253.9h0M598 284h0M610.1 290.5h0M608 258.3h0M598.1 295.7h0M601.1 269.2h0M614.8 283.7h0M584.9 280.6h0M609.9 265.1h0M590.3 290.3h0M605.4 262.5h0M618.9 289.1h0M595.9 264.5h0M611.3 265.3h0M593.8 254.7h0M584.4 267.8h0M584.8 273.9h0M613.7 267.2h0M617.8 286.3h0M607.2 293h0M587.8 255.7h0M615.9 279.5h0M595.1 252.6h0M596.7 289.8h0M613.3 259.2h0M575.1 268.5h0M607.5 260.7h0M592.8 262.1h0M608.2 290.2h0M591.2 263.2h0M581.2 260.1h0M600.4 288h0M601.4 272.3h0M593.5 283.4h0M590.6 279.8h0M616.3 252h0M581.5 281.4h0M603 247.2h0M591.8 278.5h0M619.3 286.4h0M617.5 276.4h0M607.3 275.6h0M597.9 286h0M597.7 290.5h0M582.5 264.4h0M598.3 282.3h0M609.2 281.7h0M610.9 269.5h0M591.8 288.7h0M583.4 295.2h0M596 271.1h0M577.4 294.7h0M599.5 270.3h0M605.4 284.6h0M608.5 287.1h0M590.8 256.4h0M602 288.7h0M604.4 252.1h0M611.8 278.4h0M616.9 250.3h0M603.4 272.5h0M597 271.6h0M608.7 294.2h0M605 291.7h0M593.2 279.2h0M612.6 276.6h0M582.7 291.6h0M576.8 273.3h0M582.5 269.1h0M603 253.5h0M617.1 288.9h0M594.1 272.5h0M583 260.7h0M607.3 256.5h0M616.8 267.6h0M580.2 276.1h0M604.7 288.1h0M598.3 269.9h0M603 294.7h0M592.1 248.1h0M589.2 269.1h0M610.8 257h0M576.9 261.9h0M605.2 255h0M593.2 293.3h0M597.4 261h0M615.6 273.3h0M605.3 259.9h0M606.4 263.7h0M593.5 289.4h0M604.4 264.1h0M593.5 259.4h0M594.9 258.6h0M610.7 292.3h0M599.9 279h0M609.7 285.1h0M601.4 256.1h0M596.9 267h0M605.8 258.4h0M590.4 285.4h0M610.3 249.7h0M603 272.8h0M604.2 258.6h0M611.2 265.2h0M584.9 281.4h0M591.6 286.2h0M596.8 278.2h0M587.1 278.2h0M604.1 280.8h0M609.7 272.2h0M595.4 276.2h0M577.1 283.9h0M588.8 271.2h0M606.4 250.2h0M600.6 285.4h0M596.9 277.6h0M608.5 272.1h0M616.3 249h0M595.7 282h0M588.2 276.5h0M610 292.3h0M582.7 258.8h0M583.4 285h0M603.5 264.1h0M586.2 275.3h0M607.6 261.3h0M586.7 269.3h0M594.8 264.4h0M591.1 277.4h0M583.8 270.2h0M589.5 280.5h0M601.5 264.7h0M585.3 282.5h0M606.2 254.5h0M594.3 274.5h0M585.3 259.4h0M612.1 262.1h0M585.1 279.9h0M615.1 260.8h0M596.7 264.7h0M606.8 268.8h0M617.1 261.4h0M597.3 267.9h0M607.6 284.5h0M578.5 260.3h0M609.6 262.4h0M579.9 287.2h0M587.3 287.9h0M609.4 262h0M604.7 283.5h0M588.3 282.2h0M580.6 281.5h0M579.8 287.1h0M609.4 252.9h0M590.5 259.6h0M585 295.6h0M578.3 271.7h0M598.4 251.3h0M605.7 282.7h0M616.4 251.5h0M617.1 253h0M585.8 278.1h0M579.8 272.4h0M593 250.2h0M589.4 294.2h0M581 258.8h0M610.9 278.7h0M592.8 250.4h0M605.9 268.9h0M590.5 292.1h0M585.9 262.2h0M589.8 251.8h0M602.6 262.8h0M590.8 279.5h0M609.1 261.6h0M597.1 250.6h0M605.4 266.1h0M591.8 274.5h0M606.1 258h0M598 254.2h0M617.8 255h0M601.6 284h0M593.5 266.2h0M602.6 257h0M589.6 259.8h0M602.2 258.2h0M584.3 260.2h0M616.9 276.1h0M613 293.6h0M585.1 271.4h0M585.9 252.4h0M599.7 283.4h0M602.6 275.1h0M591.1 257.7h0M612.2 253.4h0M600.2 295.4h0M593.1 294.5h0M614.1 276.8h0M606.8 255.6h0M614.1 294.3h0M608.6 263.9h0M583.4 278.5h0M589.1 266.3h0M590.7 283.4h0M611 282.1h0M613.3 280.3h0M610.5 294.4h0M576.9 274.4h0M619.3 268.7h0M610.8 270h0M582.5 291.6h0M588.1 268.8h0M601.9 274.2h0M596.2 251.9h0M586.9 293.8h0M605 262.4h0M605.4 287.9h0M585.2 283.6h0M594.9 252.8h0M613.3 290.6h0M579.1 272.3h0M609.2 262h0M615.6 271.9h0M595.9 264.6h0M576.4 294.2h0M577 282.3h0M592.1 295.7h0M617.1 291.4h0M594.4 278.8h0M613.6 284.5h0M614.8 271.7h0M592.6 282.7h0M608.3 251.9h0M601.4 277.7h0M601.2 265.3h0M586 272h0M609 264.5h0M603.6 270.5h0M590.3 291.7h0M588.5 296.4h0M581.3 257.6h0M577.2 263h0M594.6 294.6h0M602.9 253.1h0M600.2 255.6h0M601.8 269.1h0M587.5 274.1h0M604.5 267.8h0M579.8 260.1h0M585.2 261.6h0M586.7 254.9h0M610.9 280.3h0M596 272.1h0M606.6 294.9h0M611.9 285.2h0M593 256.2h0M590.7 249h0M575.8 276.9h0M594.8 293.7h0M610.3 258.2h0M614.4 269.8h0M604.1 254h0M597.3 279.5h0M613.2 286.5h0M592.2 282.7h0M589.4 286.9h0M617 250.3h0M607.6 259.9h0M615.7 252.9h0M605.5 269.2h0M600.7 269h0M591.4 255.5h0M585.9 251.6h0M605.3 253.3h0M611.8 278.5h0M609.7 290.1h0M612 272h0M587.3 289.6h0M594.2 295.5h0M602.2 282.1h0M578.6 281.5h0M598.2 269.8h0M594.2 286.7h0M589.4 295.2h0M601.4 275.4h0M593.6 261.1h0M587.7 283.6h0M583.9 274.6h0M611.4 255.5h0M579.2 286.8h0M600.9 275.2h0M596.8 284.7h0M579.2 286h0M590.9 271.5h0M610.2 285.4h0M611.8 263.6h0M578.8 283.5h0M613.9 257.6h0M593.2 252.9h0M598.4 284.8h0M581.6 293.4h0M598.1 253.2h0M604.6 293.3h0M591.9 253.9h0M593.9 289.7h0M608.6 275.9h0M584.8 267.1h0M591.6 269h0M600.6 276.4h0M617.4 250.7h0M604.1 293.4h0M588.1 266h0M615.2 264h0M589.8 271.1h0M596.2 275h0M589.5 261.8h0M610.2 284.6h0M587.2 260.3h0M611.6 291.4h0M607.9 285.8h0M617.6 257.4h0M608.6 261.9h0M593.6 273.3h0M601 268h0M591.7 281.5h0M596.8 276.2h0M602 264.5h0M577 280.6h0M599.8 274h0M594.7 259.9h0M604.3 283.4h0M595.4 270.3h0M579.2 282.5h0M605.7 277.3h0M611.8 279.2h0M600.2 283.3h0M612.9 260h0M616 262.3h0M616.9 275.1h0M593.8 268.3h0M600.6 257.9h0M618.1 275.7h0M580 289h0M576.4 278.6h0M596.5 280.5h0M600.6 256.3h0M617 268.2h0M614.1 266.4h0M605.4 270.5h0M600.4 288.6h0M609.6 279.1h0M589.1 267.4h0M597.9 290.6h0M603.2 291.2h0M579.6 259.4h0M590.4 267.8h0M590.9 278.7h0M597.3 266.2h0M581.4 289.3h0M580.2 284.5h0M618 261.5h0M577.9 276.2h0M593.9 295.8h0M595 293.1h0M606.2 288.3h0M584.5 274.4h0M581.2 287.5h0M587 289.9h0M609.5 256.1h0M591.8 295.6h0M599.4 294.2h0M597.2 290.9h0M612.5 296.3h0M577 270.3h0M597.6 294.8h0M607.5 266.1h0M610.1 288.9h0M607.6 254.3h0M592.5 276.7h0M610.3 282.4h0M601 294.8h0M611.3 290.5h0M613.1 262.2h0M598.9 283.4h0M615.8 274.1h0M586.7 277.6h0M600.9 262.1h0M575.8 268.2h0M577.2 286.8h0M610.3 262.5h0M619.1 254.1h0M589.8 291.1h0M597.5 266.7h0M579.4 287.1h0M577.8 276.2h0M614 256.7h0M582.1 283.5h0M579.7 266.1h0M596.9 294.8h0M583.4 284h0M613.9 249.4h0M610 256.4h0M608.2 286.8h0M586.7 277.5h0M602.2 260.1h0M602 265.2h0M606.2 263.9h0M618.4 256h0M590.2 276h0M613.1 250.4h0M585.1 254.7h0M578.4 260.8h0M593 281.2h0M599.1 261.8h0M594.1 248.8h0M585.4 252.2h0M579.6 274.8h0M595.3 252.6h0M581.8 291.1h0M584 257.5h0M610.3 271.6h0M607.9 258.4h0M612.8 274.7h0M594.2 286.7h0M600.3 278.8h0M614.6 262h0M609.3 266.3h0M580.7 283.2h0M609 280.2h0M586.5 256.3h0M599.3 253h0M578.1 263.2h0M592.6 278.5h0M593 271.6h0M598.9 291h0M592 272.5h0M582.5 270.1h0M613.4 260.4h0M595.1 263.2h0M579.8 280.9h0M606.3 263h0M608.9 253.3h0M578.2 282.6h0M580.5 261.3h0M599.3 293.6h0M598.1 286.7h0M617.3 294.5h0M588.6 282h0M581.8 263.9h0M616.4 288.9h0M581.8 288.6h0M601.5 266.5h0M579.6 274.8h0M609.6 267.2h0M581.8 280.1h0M576.4 277.2h0M582.9 254.4h0M611.7 251.2h0M595.6 270.1h0M600.5 272.5h0M584.9 277.8h0M614.1 266.4h0M617 281.5h0M589.4 278.6h0M607.6 270.7h0M616 272h0M599.2 272.4h0M597 282.7h0M602.3 260.2h0M577.7 291.6h0M580.2 286.6h0M597.6 287.1h0M592 256h0M587 261.2h0M598.5 254.7h0M595.8 272h0M594.5 263.4h0M612.7 272.5h0M581.5 274.1h0M615.4 274.3h0M607.9 290h0M586.5 265.8h0M601.5 262.1h0M608.5 271.7h0M599.7 269.6h0M584.4 277h0M590.7 254.2h0M599 250.1h0M606.9 291.4h0M594.4 276.8h0M602.5 253.1h0M607.4 248.6h0M608.8 279h0M608.4 287.9h0M594.5 252.1h0M612.6 290.6h0M582.7 287.8h0M600.5 269.3h0M583.6 263.8h0M599.7 288.2h0M603.2 288.9h0M614.5 257.5h0M608.8 270.2h0M608.8 291.4h0M597.8 265.7h0M592.9 272.8h0M605.9 252.1h0M610.2 270.1h0M587.1 250.2h0M581 290.6h0M589 270.9h0M592.9 252.8h0M618.5 259.6h0M609.5 288h0M609.2 291.3h0M616.2 292.8h0M614.4 282.2h0M587 281.5h0M610.4 271h0M614.5 275.7h0M590.9 260.8h0M616.4 248.5h0M582.8 284.6h0M576.5 270.8h0M615.4 277.5h0M588.5 283h0M613.6 276.2h0M588.8 296.2h0M609.5 270.2h0M616.1 274.2h0M593 263.3h0M589.1 277.2h0M605.4 290.9h0M585 263.1h0M614 270.8h0M615.3 264.9h0M577.4 290.9h0M610 257.1h0M587.7 264h0M595.2 272.5h0M580.8 264.5h0M611.5 258.3h0M603.5 265.8h0M602.8 262.5h0M605.1 281.7h0M591.6 290.4h0M613.3 258.1h0M596.1 275.8h0M592.3 252.9h0M596.5 273.4h0M599.3 260.9h0M603.9 263.7h0M587.6 281h0M596.3 275.8h0M590.3 291.9h0M616.6 283.6h0M612.7 273.2h0M575.8 265.2h0M577.5 273.5h0M586.5 283.2h0M607.5 252.9h0M617.7 292.6h0M614.8 292.1h0M578.2 271.1h0M585 272.4h0M617.5 250.8h0M592.7 248.8h0M602.4 260.6h0M597 281.4h0M597.5 256.2h0M578.2 294.9h0M611.2 292.5h0M593.1 280.5h0M600.7 260.5h0M587.9 294.1h0M584.5 261.8h0M587.3 273.2h0M595.2 293.7h0M580.8 264.3h0M604 264.1h0M586.5 294.2h0M617.4 282.3h0M611.5 263.2h0M615.1 256.3h0M602.5 252.9h0M600.8 259.8h0M592.4 268.4h0M576.5 283h0M608.2 256.1h0M603 266h0M588.9 293.2h0M600.5 250.1h0M612 293.3h0M582.5 272.5h0M579.1 281.7h0M593.2 259.6h0M585 274.6h0M614.9 267.6h0M611.6 255.4h0M582.5 280.4h0M592.5 263.5h0M606.1 257.9h0M598.6 277.3h0M616.1 275.7h0M612.3 255.3h0M614.1 293.7h0M583.1 263.5h0M608.9 273.5h0M606 275.1h0M581.6 292.4h0M615.2 279.8h0M597.2 258.9h0M600.7 258.9h0M582.4 268.5h0M613.3 252h0M611.3 297h0M590.9 286.9h0M599.5 286.9h0M612.5 289.2h0M582.3 259.1h0M607 259.6h0M582.7 294.4h0M596.4 265.5h0M615.4 278.8h0M582.6 260.4h0M584.2 262.8h0M593.9 288h0M603.4 292.2h0M576.3 270.2h0M591.6 277.4h0M587 285.5h0M602.4 251.5h0M605.3 292.7h0M583 290.1h0M584.6 287h0M609.8 292.7h0M618.5 282.8h0M597.3 264.2h0M616.4 249.8h0M601.2 284.2h0M615.7 295.2h0M583.7 262.7h0M612 267.1h0M612.8 260.1h0M591.6 286.1h0M578.4 294.7h0M612.7 296.3h0M597.8 279.9h0M591.1 270.1h0M602 287.6h0M616.2 274.5h0M608.8 288.4h0M601.8 277.4h0M609 289.3h0M600 287h0M592.9 266.7h0M612.1 255.5h0M595.6 270.4h0M603 251h0M588.4 271h0M605.3 270.3h0M614.8 291.2h0M594.1 279.4h0M609.3 273.6h0M615.9 270.1h0M600.3 291.6h0M594.1 249.6h0M592.2 289h0M577.1 270.2h0M592.1 270.7h0M588.5 262.4h0M590.3 270h0M592.8 255h0M586.7 290.4h0M606.9 279.3h0M597.3 293.8h0M608.1 284.7h0M582.1 263.3h0M613.5 256.5h0M585.8 295.9h0M587.6 283.1h0M605.4 266.3h0M610.8 291.7h0M604.9 262.9h0M600.1 259.7h0M586.3 257.1h0M579.8 275.3h0M587.8 292.6h0M586.5 264.3h0M600.3 258.7h0M605.4 292.6h0M606.4 287.8h0M588.1 264.9h0M599.6 270.6h0M612.9 257.8h0M600.5 268.3h0M585.4 275.5h0M612.7 273.6h0M588.1 290.7h0M614.3 262.3h0M608.7 294.2h0M584.8 279.6h0M581 296h0M588.1 292.7h0M615 289.7h0M617.6 255.7h0M600.1 296.4h0M583.4 288.7h0M596 258.2h0M610.5 253.5h0M601.3 267.7h0M579.4 286.1h0M598.3 260.4h0M618.6 258.6h0M578.1 260.8h0M587.1 267.6h0M610.1 265.4h0M607 296.1h0M615.1 263.3h0M582.6 256.5h0M596.2 267.7h0M598.8 289.9h0M599.6 257.3h0M583.6 259.7h0M605.5 258.4h0M615.9 278.1h0M590.5 259.2h0M615.4 285h0M597.4 281.3h0M610.4 256.5h0M606.5 266.3h0M612.2 296.4h0M615.6 261.9h0M596.2 257.8h0M586.6 287.8h0M587.5 292.4h0M583.8 267.9h0M574.6 265.2h0M617.5 290.2h0M602.6 252.4h0M588.2 276.9h0M591.8 261.8h0M585.5 293.3h0M616 275.6h0M615.6 264.6h0M591.6 272.2h0M613.1 271.1h0M580.2 294.1h0M605.2 251.8h0M586.5 277.5h0M614.5 282.6h0M580.5 263h0M593.3 270.4h0M609.6 264.9h0M582.5 263.2h0M604.2 256.4h0M606.2 286.2h0M612.2 256.3h0M617.8 285.1h0M579.8 261.1h0M584.8 273h0M589.9 251.7h0M596.3 261.6h0M610.2 288.2h0M615 265.6h0M615.8 284.2h0M589.9 287.2h0M599.9 292.4h0M618.1 267h0M598.6 293.3h0M608.5 294.4h0M612.2 260.5h0M587.1 255.2h0M604 254.3h0M589 277h0M599.2 293.8h0M614.8 279.9h0M589.4 265.7h0M613.2 281.8h0M604.4 292.5h0M575.6 288.9h0M582.5 277.9h0M598.2 255.4h0M604.8 291.9h0M611.8 281h0M593.4 249.1h0M594.6 291.2h0M614.1 281.4h0M579.8 275.7h0M602.2 263.9h0M608.5 260.1h0M589.3 269.3h0M612.4 279h0M603.8 255h0M586.1 270h0M605.1 256.4h0M603 255.9h0M580.1 265.8h0M587.7 251.5h0M580.1 268.1h0M582.5 284.2h0M606.1 251.8h0M595 253.7h0M582.8 264.8h0M601.3 295h0M579 281.5h0M586.4 272.8h0M607.1 250.9h0M593.6 248.3h0M579.7 294.3h0M585.1 274.7h0M595.8 257.7h0M592.5 273.1h0M608.2 259.9h0M603.5 261.4h0M594 285.3h0M617 287.1h0M591 280.4h0M586.6 294h0M598.4 269.8h0M603 281.2h0M605.4 259.7h0M602.4 282.3h0M609.3 270.2h0M615.6 275.5h0M598.8 250.9h0M618.7 288.7h0M610.2 295.2h0M583.1 268h0M594.2 268.3h0M605.1 291.4h0M581.4 276.3h0M614.1 275.7h0M608.9 288.3h0M604.5 279.6h0M585.8 277h0M603.4 290h0M611 290.2h0M602.9 294h0M586 292.9h0M619.7 282.2h0M597.8 259.2h0M609.1 287.9h0M609 249.7h0M614.4 293.7h0M577.8 264.1h0M612.1 254h0M602.6 257.2h0M589.5 286.6h0M587.1 269.1h0M597.4 252.9h0M616.2 282.9h0M582.6 257h0M616.2 248.9h0M593 256h0M612.5 277h0M589.2 283.5h0M604.7 268.3h0M600.7 251.4h0M613.7 260.3h0M618 255.1h0M601.6 268.5h0M608.9 278.1h0M589.1 259.3h0M604.4 280.1h0M585 265.2h0M586.6 279h0M600.9 263.8h0M579.6 287.7h0M581.4 293.7h0M604.9 284h0M600.1 257.9h0M600 274.9h0M609.2 276.3h0M596 290.3h0M581.8 259.9h0M582.4 285.1h0M606.8 262.3h0M583.7 290.6h0M615.9 295.5h0M615.4 249.1h0M586.1 290.5h0M588.1 278.4h0M618.8 251h0M611.6 265.4h0M616.6 291.1h0M607.4 289.3h0M598.1 253.6h0M589.3 294.6h0M583.7 295.9h0M603.7 288.7h0M608.1 276.5h0M605.4 279.1h0M588.4 271.6h0M607.4 249.3h0M607.5 276h0M593.3 295.4h0M578.5 287h0M617.4 272.4h0M603.7 250.1h0M602.2 292.5h0M601.1 279.3h0M599.3 279.8h0M592.5 274.4h0M604.4 260.6h0M613.9 275.3h0M615.3 272.6h0M579.5 281.3h0M580.5 280.3h0M591.7 276.3h0M607.3 250.7h0M583 284.2h0M585.1 283.6h0M588.6 258.2h0M599.6 294.2h0M615.1 260.7h0M605.5 292.1h0M600.6 254.7h0M598.3 257.6h0M602.2 291.5h0M607.6 269h0M595.1 290.4h0M602.7 278.2h0M609.5 284h0M590.4 284h0M592.5 290.6h0M581.9 294.4h0M586.3 265.7h0M602.2 269h0M611.8 287.4h0M593.8 265.6h0M601.1 283.9h0M604 294.8h0M594.5 277h0M608.8 280h0M584.4 267.5h0M580.8 287.3h0M618.6 282.8h0M602.5 253.3h0M577.8 267.5h0M598.1 267.3h0M611.5 288.6h0M611.5 264.4h0M614.8 252.9h0M593.6 293h0M579.9 260.5h0M614.7 285.4h0M616.6 277.8h0M582.8 269.2h0M587.1 263.8h0M588.3 280.4h0M590 286h0M614.1 287.1h0M589.3 273.1h0M608.9 256.8h0M596.7 258.7h0M610.8 264.8h0M603.6 293.2h0M616.7 256h0M596.7 277h0M596.8 262.6h0M617 269.2h0M582 284.8h0M590.6 287.2h0M616.5 285.1h0M615.6 296.4h0M608.9 280.2h0M603.8 259.8h0M610.6 294.7h0M611.2 260.4h0M602.3 267h0M595.6 295.6h0M599.5 269.8h0M587.3 277.9h0M589.9 278.8h0M606.5 265.8h0M576.6 265.5h0M611.6 269.6h0M588.6 263.3h0M599.4 265.7h0M583.6 273.8h0M609.9 255.7h0M608.2 293.9h0M582.2 258.6h0M595.2 294.4h0M597 284.5h0M602.4 264.2h0M608 279.1h0M613.3 253.6h0M616.6 289.6h0M614.3 286.6h0M611.4 258h0M625.8 269.8h0M608.6 248.5h0M623 278.2h0M616.9 275.2h0M616.1 274.3h0M612.8 265h0M614.2 270.8h0M616.7 263.2h0M608.5 268.7h0M624 263.3h0M619.7 263.6h0M618.7 263.1h0M618.6 240.5h0M624.4 261.7h0M618.8 282h0M622.7 288.9h0M615.6 264.5h0M627.6 272.1h0M615.5 287h0M613.5 251.9h0M615.5 276.1h0M623.4 250.7h0M626.8 276.2h0M620.7 268.7h0M629.5 270h0M613.7 268.5h0M615.1 294.8h0M616.4 239.1h0M625.4 254h0M614.1 274.1h0M618.8 274.4h0M612.9 262.4h0M619.8 275.6h0M614.5 271.3h0M634 272.7h0M622.8 285.4h0M616.2 260.8h0M623 274h0M618.5 282.6h0M615.7 264.7h0M621.4 286.5h0M590.8 256.9h0M582.6 242.5h0M588.3 244.8h0M600.3 244.7h0M609.8 247.8h0M595.5 245.8h0M598.8 246.9h0M599.1 244.4h0M605.7 244.7h0M589.3 255.6h0M598.1 258.1h0M590 247.1h0M604 248.2h0M607.9 241h0M601.5 250.9h0M597.4 249.5h0M606.7 246.9h0M591.8 255.2h0M599.6 259.9h0M586.9 247.1h0M607.4 243.6h0M622.7 250.3h0M602 251.4h0M615.1 244.3h0M615.2 247.6h0M596.8 252.3h0M600.3 249.5h0M601.1 244.3h0M610.1 251.5h0M592.6 244.5h0M607 254.1h0M590.8 247.8h0M606.1 240.2h0M599.2 244.3h0M582.1 251.1h0M595.4 255.3h0M604.4 249.4h0M597.8 246.7h0M602 257.3h0M658.8 287.4h0M645 218.5h0M597 234h0M629 238h0M583 248h0M588 244h0M592 242h0M600 242h0M606 243h0M611 241h0M615 243h0M620 245h0M625 245h0M630 252h0M633 266h0M635 265h0M631 280h0M643 283h0M624 255h0M622 262h0M627 270h0M620 283h0M624 290h0M628 288h0M619 265h0M625 276h0M617 290h0M541.5 303.5h0M536.5 319.7h0M565.1 303.3h0M549.4 300.4h0M540 311h0M550.8 301.5h0M553.1 305.3h0M555.3 310.2h0M542.5 314.5h0M549.4 306.9h0M535.2 310.3h0M552.3 300.2h0M561.5 308.8h0M558.8 309.4h0M557.7 306.1h0M542.5 306.3h0M537.9 317.4h0M550.2 317.9h0M563.1 300.3h0M554.5 317.7h0M550.5 318.1h0M537 316.3h0M561 300.7h0M566 307.2h0M542.3 314.3h0M535.7 310.1h0M559.6 312.6h0M549.7 309.3h0M537.1 309.3h0M534.7 313.8h0M534.2 321.3h0M533.1 323.1h0M563.9 303h0M548 317.3h0M561.7 314h0M562.6 314.1h0M561.7 312.4h0M546.2 312.2h0M530.3 318.5h0M541.9 320.3h0M557.2 303.3h0M555.4 315.3h0M544.1 308h0M553.5 313h0M536.6 313.7h0M534.2 315.3h0M556.7 305.3h0M537.7 316.3h0M558 317.4h0M547.9 312.7h0M540.1 320.2h0M543.9 308h0M553.2 314.1h0M553.3 303.5h0M562 305.6h0M552.6 319.8h0M534.9 312h0M538 310.9h0M547.5 312h0M563.2 312.6h0M546.8 316.5h0M564.5 306.7h0M550.5 304.4h0M551 314.9h0M562.4 313.6h0M560.8 318.8h0M544.1 321.7h0M549.7 320.9h0M558.1 305.4h0M561.3 305.3h0M554.2 304.5h0M543 307.4h0M567.3 305.3h0M533.8 319h0M546.6 313.4h0M550.6 314.1h0M539.5 312.7h0M559 308h0M557.1 302.8h0M544.5 314.4h0M549.5 309.2h0M553.4 305.3h0M541.5 315.8h0M562.9 309.4h0M543.1 311.9h0M532.6 319.7h0M556.5 311.3h0M534.8 318.1h0M550.9 310.7h0M547.2 301.9h0M561.9 301.6h0M553.9 306.1h0M548 309.3h0M561.6 307.5h0M539.1 318.2h0M550.7 321.3h0M555.1 309h0M568.6 306.1h0M542.8 306.7h0M540.9 311.4h0M547 305h0M536.3 316.9h0M556.7 305.4h0M549.5 315.6h0M567 301.9h0M550.3 305.9h0M540.6 312.4h0M540.6 313.9h0M550.7 317.8h0M564.9 302.7h0M554.3 321.3h0M541 307.8h0M544.9 303.8h0M553.9 306.8h0M555.2 309.4h0M538.8 321h0M563.2 304.9h0M563.6 313.6h0M552.7 312.7h0M543.8 321.5h0M559.2 312.3h0M534 318.9h0M560.3 316h0M561.8 313h0M544.8 308.7h0M548.5 316.7h0M557.2 322h0M560 306.8h0M554 304.1h0M542.3 319.9h0M538.5 309.3h0M550.6 322h0M543.9 310.9h0M551.9 309.4h0M548 300.1h0M564.3 313.3h0M554.3 306.9h0M546.9 304.3h0M551.3 303.1h0M554.5 306.6h0M535.1 319.7h0M550.3 318.9h0M562.1 304.6h0M552.6 303.3h0M559 311.7h0M547.3 320.6h0M565.7 303.2h0M554 319.9h0M536.6 316.5h0M552.2 317h0M553 307.9h0M550 315.9h0M546.3 305.3h0M555.6 313.2h0M549.9 306.1h0M543.8 312.2h0M556.4 308.4h0M543.8 322.1h0M537.2 321h0M553.5 300.9h0M540.4 307.5h0M547.5 310.3h0M565 311h0M561.4 303.7h0M542.5 319.8h0M538.2 313.2h0M533.8 318.6h0M559.3 302.9h0M546.5 303.6h0M560.6 313.9h0M541.1 314.5h0M541.3 320.5h0M559.4 311h0M542.2 307.5h0M538.2 312h0M541.9 307.9h0M563.9 304.2h0M549.1 315.3h0M544.8 312.7h0M565.9 306.5h0M563 305.7h0M544.4 306.9h0M544.5 312.9h0M542.1 313.5h0M536.8 322h0M544.1 313.7h0M552.8 311.6h0M543.7 305h0M567.2 303h0M547.2 313.5h0M549.3 313.3h0M561.9 307h0M564.7 312.6h0M548.1 317.3h0M563.1 308.7h0M558.9 315.8h0M543.7 316.7h0M542.9 317.2h0M535.9 312.1h0M543.4 307.4h0M551.6 315.1h0M538.1 312.9h0M546.3 305h0M546.3 306.5h0M536.5 314.6h0M554.7 309.2h0M552.1 303.3h0M544.2 312.6h0M558.1 305.4h0M528 317.3h0M546.9 305.2h0M550.5 309.6h0M542.8 314.6h0M564.1 307.5h0M536.7 320.5h0M564.1 303h0M555.3 317.2h0M534.2 318.6h0M557.6 311.2h0M548.4 307.3h0M562.1 314.2h0M545.7 316.9h0M557.9 314.9h0M536.4 310.9h0M556.8 313.6h0M552.9 304.6h0M538.2 305.5h0M540.7 313.5h0M562.1 308.6h0M543.5 320.4h0M557.7 319.3h0M540.6 304.7h0M540.5 309.8h0M551.7 309h0M546.1 308.9h0M559.4 303.9h0M542.9 320.7h0M551.1 304.4h0M558.7 301.7h0M546.6 302.5h0M561 311.6h0M563.1 311.3h0M562.7 313.9h0M538.3 317.9h0M543.7 319.7h0M558.6 305.4h0M544.6 309.9h0M545.9 318.8h0M551.3 301h0M557.2 317.2h0M558.3 306.5h0M549.1 320h0M557.9 317.1h0M550.4 316.3h0M552.5 304.3h0M552.7 312.5h0M553.8 306.4h0M561 308.8h0M566.4 304.7h0M542.5 317.2h0M553.4 300.2h0M545.4 303.9h0M543.7 304.5h0M550.1 313.4h0M560.6 315.9h0M560.2 301.9h0M541.9 312.2h0M551.7 308.7h0M546.2 308.6h0M545 301.6h0M559.5 300.5h0M561.7 311.3h0M540.5 319.1h0M550.6 321.1h0M549.3 303.3h0M563.6 302.7h0M545.3 305h0M561 313.4h0M544.2 304.4h0M562.9 309.6h0M540.9 305h0M557.7 306.6h0M553.2 313.2h0M530.6 314.8h0M560.9 310.3h0M553.9 311.4h0M551.8 320.3h0M549.9 304.5h0M556.9 302.1h0M543.5 319.4h0M540.6 319.5h0M543.1 311.9h0M558 309h0M542.5 304.9h0M542.2 309.2h0M541.9 313.6h0M545.6 309.2h0M562.8 313h0M537.3 310.3h0M538.8 321.8h0M549.3 302.4h0M560.5 314.6h0M556.4 317.1h0M549.5 299.8h0M538.7 314.9h0M550.4 320h0M534 322.1h0M550.6 303.8h0M542.6 309.3h0M536.4 317.1h0M564.2 308.9h0M556.2 312.7h0M565.2 307.1h0M551.3 317.8h0M554.6 315.3h0M537.1 308.4h0M542.5 318.4h0M542.8 311.1h0M539.9 320.4h0M538.4 309h0M558.5 306h0M557.2 307.3h0M556.2 317.1h0M542.3 316.7h0M545.9 315.8h0M543.5 312.6h0M544.7 313.7h0M556.4 307.3h0M556.5 306h0M543.8 306.8h0M564.2 314.7h0M537.1 315.2h0M552.8 316.5h0M550.4 304.9h0M540.5 319h0M566.4 300.8h0M556.8 317.1h0M559.5 308h0M554.8 311.6h0M565 310.6h0M539.6 312.5h0M544.5 307.5h0M553.1 319.3h0M532.2 316.9h0M542.5 321.8h0M543.8 312.3h0M535.6 323.7h0M561.5 307h0M556.3 316.4h0M538.7 314.2h0M559.7 314h0M535 321.1h0M556.2 313h0M553.4 302.3h0M542.3 312.6h0M556.6 314.3h0M550.7 317.2h0M542.7 315.8h0M559.2 312h0M554.1 316.8h0M540.1 309.5h0M557.1 304.7h0M554.1 303.5h0M541.8 317.4h0M555.8 319.3h0M564.1 308.5h0M547.6 312h0M550.5 302.3h0M545.4 313.5h0M561.3 316.6h0M538.7 317.8h0M552.4 309.7h0M563.8 311.2h0M562.8 310.3h0M553.1 308.2h0M546.2 322.2h0M546.4 309.7h0M563.9 301.4h0M560.8 305.4h0M547 319.1h0M547.7 319.8h0M533.3 316.3h0M548.9 310.6h0M552.3 322.3h0M546.4 305.9h0M548.8 315.6h0M544.6 302.8h0M560.1 303.5h0M539.2 321.7h0M561.9 317.3h0M560.8 302.3h0M566.5 309h0M550.7 318.6h0M566.6 301.8h0M558.7 317.7h0M563.9 313.1h0M547.2 305.8h0M540.2 309.5h0M552.9 319.1h0M534.4 311.8h0M548.4 317.2h0M541.5 306.7h0M557.9 301.6h0M556.1 321.6h0M562.8 311.5h0M561.4 309.8h0M552.8 312.3h0M556.5 302.3h0M550.7 301.5h0M534.4 320.7h0M553.6 316.7h0M549.4 310.7h0M535.2 312.3h0M564.2 304.2h0M535.5 314.4h0M555 317.1h0M541.7 315.6h0M552.9 313.1h0M550.9 313.2h0M535.6 310.9h0M560.8 315.1h0M560.4 312.7h0M558 302.8h0M556.5 301h0M562.1 310.7h0M537.6 316h0M557.4 303.4h0M553.7 308.8h0M546.7 312.8h0M540.2 320.4h0M559.2 317.2h0M549.1 302.9h0M535.7 323.3h0M561.3 307.1h0M563.3 313.6h0M561.2 303.6h0M539.2 314.7h0M543.1 319.2h0M533.8 319.8h0M543.7 315.3h0M552.6 301.5h0M548.3 316.8h0M534.2 312.9h0M543.6 313.2h0M549.7 317.9h0M557.9 305.9h0M559.6 300.6h0M549.1 306h0M557.6 307.5h0M541.2 320h0M549 316.3h0M542.2 313.7h0M554 321.4h0M549.9 302.3h0M554.3 302.1h0M560 318h0M531 316h0M552.8 306.7h0M553.9 303.9h0M563.9 315.6h0M545.1 307.8h0M551.5 316.2h0M560 313.9h0M549.4 305.2h0M542.1 311h0M545.6 311.4h0M558.7 314.8h0M547.8 311.5h0M553 307.4h0M556 317.7h0M553.6 311h0M556.3 307.2h0M555.3 302.8h0M534.3 321.7h0M543.1 308.4h0M552.4 319.9h0M543.5 316.2h0M535.6 314.4h0M562.7 317.3h0M546.3 302.5h0M560.8 309.3h0M544.1 306.2h0M541.8 318.9h0M566.2 302.6h0M563 316.5h0M549.2 301.7h0M538.5 320.4h0M544.1 302h0M539.6 319.5h0M556.3 304.3h0M560.5 305.9h0M548.2 305.7h0M548.9 300.8h0M555.4 311.5h0M562.2 309.1h0M543 313.6h0M554.8 319.7h0M537.4 311.7h0M542.5 303.5h0M555.9 308.6h0M541.4 314.5h0M544.5 307.3h0M549.6 305.4h0M532.6 316.1h0M553.1 318.4h0M557.2 306.2h0M540.2 309.9h0M548.5 302.2h0M559.3 315h0M536.1 311.7h0M554.6 302.3h0M541.2 318.4h0M554.5 323h0M542.4 322.9h0M540.8 315.2h0M553.2 321.3h0M544.6 315.3h0M546.6 309.9h0M552.4 308.8h0M535.2 321.2h0M557.2 308.4h0M559 316.4h0M546.1 321.3h0M565.4 304.4h0M552.5 304.9h0M536.2 313.5h0M543.6 309.3h0M548.2 305.6h0M540 308.5h0M540.9 316.4h0M553.1 309h0M555.7 312.3h0M559.3 303.9h0M561.8 308.9h0M551.5 314.7h0M546.9 312.5h0M561.2 306.7h0M553.3 315.5h0M544.5 301.5h0M544.9 321.2h0M539.3 317.5h0M557.7 311.4h0M541.1 304.2h0M545.3 318.5h0M545.6 311.8h0M561.5 308.7h0M555.1 317.6h0M544.8 306.3h0M564.5 312.9h0M554.6 320.2h0M556.3 310.4h0M561.8 303.4h0M540.2 313.2h0M552.9 304.9h0M544.1 315h0M537 319.7h0M565.3 300h0M559.7 310.6h0M551.4 309h0M547.3 319.9h0M562.5 317.7h0M547.5 321.5h0M547.2 319.5h0M554.8 314.6h0M543.9 314.7h0M548 303.3h0M556.4 307.2h0M547.6 303.4h0M556.6 317.5h0M542.5 308.1h0M539.2 314.8h0M539.1 321.5h0M564.6 309.7h0M557.3 312.9h0M547.8 312.7h0M553.8 312.8h0M559.4 309.8h0M554.7 315.3h0M559.2 315.8h0M544.4 318.6h0M550.2 304.3h0M555.9 310h0M537.7 321.7h0M542.2 305h0M563.9 309.9h0M538.3 318.2h0M551.8 315.4h0M547.3 315.7h0M546.9 308h0M543.9 306.1h0M564.6 309.1h0M544 308.2h0M534.7 314.5h0M549.7 317.2h0M552.9 303.6h0M565.9 309.2h0M562 313.4h0M556.2 304.4h0M546.6 303.4h0M562.3 314.5h0M545.1 314.5h0M566.1 303.6h0M547.4 320.7h0M561.3 308.4h0M550.6 305.8h0M546.4 306h0M548.6 319h0M548.8 319h0M556.3 301.7h0M561.6 300.9h0M551.1 314.7h0M556 303h0M554.9 300.8h0M543.5 307.4h0M539.3 322.7h0M560.9 311.5h0M541.4 302.3h0M564.8 311.8h0M552.9 309.7h0M534.1 316.6h0M541.8 311.4h0M551.5 317.8h0M558.8 312.7h0M538.2 321.3h0M560 310.1h0M556.8 306.4h0M547.4 320h0M556.1 313.5h0M552.8 310.3h0M541.7 310.1h0M549.1 308.6h0M546.1 302.2h0M564.2 312.3h0M549.8 300.1h0M558.2 318.3h0M551.6 315.6h0M537.2 314.5h0M541 317.6h0M561.7 302.2h0M564.6 315.8h0M543.8 319.7h0M552 313.1h0M560.5 303.3h0M546.4 314.9h0M565 302h0M553.3 303.5h0M540.6 310.1h0M568.1 306.5h0M557.3 312.4h0M565.2 305.4h0M550.3 310.6h0M556 316.7h0M548.1 306.1h0M560.7 300.1h0M555.3 311.3h0M553.6 316.3h0M548.5 309.6h0M561.5 300.9h0M564.8 302.8h0M547.5 309.2h0M541.6 309.8h0M543.2 315.7h0M536.6 312h0M538.9 309.5h0M541.2 320.5h0M539.4 315.8h0M553.7 303.8h0M547.4 319.6h0M538.7 315.5h0M553.7 316.9h0M536.6 309.4h0M565 307.8h0M538.1 309.8h0M555.4 310.5h0M541.8 319.4h0M555 318.9h0M562.9 301.7h0M541.4 315.1h0M556.4 317.1h0M542.8 307.5h0M545.8 319.4h0M551.2 312.6h0M556.1 308.6h0M564 301.8h0M552.9 316.9h0M545.3 302.8h0M552.1 307.2h0M549.1 313.1h0M541.8 311.8h0M532.9 320.3h0M547 318.5h0M539.7 310.2h0M555.6 314.6h0M557.2 302.1h0M550.6 315h0M555.7 304.9h0M540.3 323.2h0M549 305h0M557.1 317.1h0M565.5 308.4h0M546.3 312.2h0M550.5 302h0M552.3 311.1h0M547.6 317.4h0M551 318.3h0M540.6 304.5h0M564.4 303.2h0M561.1 301.9h0M544.6 311.3h0M559.4 305h0M563 309.3h0M543.8 304.1h0M545.3 319h0M538.6 314.2h0M563.3 307.1h0M557.4 312.7h0M539.1 319.7h0M560.3 317h0M552.4 311.4h0M537.8 312.8h0M565.5 308.1h0M536.6 319h0M551.1 306h0M547.4 319.3h0M562.7 307.1h0M552 309.6h0M545.6 318.9h0M557.1 307.5h0M556.5 308.7h0M541.4 306.6h0M555.8 310.3h0M556.5 310h0M556.2 319.4h0M552.8 305.6h0M530.7 317.6h0M541 320h0M565.6 310.4h0M544.9 300.8h0M536 318.5h0M546.3 304.6h0M562.4 314.8h0M534.1 319.6h0M546 305.5h0M548.3 318.7h0M547.8 307.9h0M536.3 320.4h0M544.4 307.8h0M544.9 314.7h0M554.6 312.8h0M551.4 314.3h0M553.4 321h0M553.7 319.3h0M546.7 314.6h0M544.3 301.1h0M551.3 311.7h0M566.8 303.1h0M547.3 317.9h0M542.1 315.6h0M539.2 309.9h0M553.1 306.7h0M550.7 320.6h0M547.6 320.8h0M548.1 320h0M547.5 318.4h0M547.8 314.2h0M548.1 308.8h0M563 306.7h0M551.8 304.8h0M547.5 322.3h0M537.2 319.1h0M562 309.9h0M533.1 319.2h0M556.7 302.9h0M560.3 308h0M535.6 318.1h0M553.6 315.4h0M554.6 319.5h0M558.8 311.2h0M563.2 302.5h0M547.1 317.6h0M538.9 311.1h0M557.3 319.5h0M556 303.4h0M543.1 308.9h0M535 311.6h0M542.1 315.6h0M532.5 320.8h0M544 315.1h0M567.3 302.5h0M543.4 306.6h0M535.4 319.8h0M552.1 307.4h0M561.5 314.4h0M553.9 304.8h0M556.9 319.1h0M546 312.6h0M563.5 303h0M546.2 312.3h0M542.4 321.8h0M546.1 308.6h0M532.3 320.2h0M538.1 315.3h0M540.2 317.8h0M556.5 302h0M562.2 314.8h0M559.7 308.4h0M555.6 319.2h0M565.4 309.9h0M533.8 320.5h0M564 301.9h0M545 302.8h0M564.2 311.3h0M543.6 305.5h0M544.7 305.4h0M558.6 316.4h0M547.6 322.1h0M530.7 315.6h0M548 304.3h0M537.7 314.9h0M537.9 311.3h0M555.3 306.6h0M553 304.1h0M557.6 307.8h0M537.9 313.7h0M549.9 323.3h0M557.8 308.2h0M537.6 316.6h0M539.8 310.5h0M560.7 302h0M548.4 319.1h0M553.7 314h0M546.6 317.2h0M553.7 307.2h0M549.1 321.4h0M560.7 316.6h0M545.5 302.1h0M539.9 316.4h0M536.6 317.9h0M535.5 313.7h0M532.2 317.4h0M552.5 317.5h0M536.9 318.2h0M550.8 313h0M556.1 317.6h0M539.5 314.9h0M558.9 305.6h0M557.7 302.8h0M535.9 315.4h0M566.6 300.8h0M548.6 319.3h0M507 318.5h0M519 316h0M519 318h0M528 310h0M524 320h0M531 322.5h0M537 323h0M529 316h0M533 305h0M540 320h0M545 322h0" stroke="#BC6F7B" stroke-width="3.3" stroke-linecap="round" fill="none"/>
<line x1="499.4" y1="213.8" x2="499.4" y2="331.5" stroke="#111" stroke-width="0.9"/>
<line x1="499" y1="331.1" x2="666" y2="331.1" stroke="#111" stroke-width="0.9"/>
<line x1="571.3" y1="213.8" x2="571.3" y2="331.1" stroke="#111" stroke-width="0.9"/>
<line x1="499.4" y1="300" x2="666" y2="300" stroke="#555" stroke-width="0.9"/>
<line x1="519.3" y1="331.1" x2="519.3" y2="333.1" stroke="#333" stroke-width="0.8"/>
<text x="519.3" y="339.6" font-size="6.6" text-anchor="middle" fill="#4D4D4D">-0.5</text>
<line x1="571.3" y1="331.1" x2="571.3" y2="333.1" stroke="#333" stroke-width="0.8"/>
<text x="571.3" y="339.6" font-size="6.6" text-anchor="middle" fill="#4D4D4D">0.0</text>
<line x1="623.3" y1="331.1" x2="623.3" y2="333.1" stroke="#333" stroke-width="0.8"/>
<text x="623.3" y="339.6" font-size="6.6" text-anchor="middle" fill="#4D4D4D">0.5</text>
<line x1="497.4" y1="215.9" x2="499.4" y2="215.9" stroke="#333" stroke-width="0.8"/>
<text x="496.4" y="218.2" font-size="6.6" text-anchor="end" fill="#4D4D4D">0.9</text>
<line x1="497.4" y1="243.9" x2="499.4" y2="243.9" stroke="#333" stroke-width="0.8"/>
<text x="496.4" y="246.2" font-size="6.6" text-anchor="end" fill="#4D4D4D">0.6</text>
<line x1="497.4" y1="272" x2="499.4" y2="272" stroke="#333" stroke-width="0.8"/>
<text x="496.4" y="274.3" font-size="6.6" text-anchor="end" fill="#4D4D4D">0.3</text>
<line x1="497.4" y1="300" x2="499.4" y2="300" stroke="#333" stroke-width="0.8"/>
<text x="496.4" y="302.3" font-size="6.6" text-anchor="end" fill="#4D4D4D">0.0</text>
<line x1="497.4" y1="328" x2="499.4" y2="328" stroke="#333" stroke-width="0.8"/>
<text x="496.4" y="330.3" font-size="6.6" text-anchor="end" fill="#4D4D4D">-0.3</text>
<text x="580.8" y="354" font-size="9.2" text-anchor="middle" fill="#222" textLength="73.6" lengthAdjust="spacingAndGlyphs">effectSize_nonHIV</text>
<text x="479.3" y="274.4" font-size="9.4" text-anchor="middle" fill="#222" textLength="67" lengthAdjust="spacingAndGlyphs" transform="rotate(-90 479.3 271.2)">effectSize_PLHIV</text>
<text x="559" y="383.3" font-size="12.2" fill="#111" textLength="43.5" lengthAdjust="spacingAndGlyphs">No 5064</text>
<text x="559" y="398.2" font-size="12.2" fill="#111" textLength="50.5" lengthAdjust="spacingAndGlyphs">Yes 18552</text>
<text x="14" y="419.9" font-size="18">F</text>
<text x="131.1" y="444" font-size="6.86" fill="#111" textLength="101" lengthAdjust="spacingAndGlyphs">Homer Motif Enrichment Analysis</text>
<rect x="130.8" y="448.6" width="126.7" height="175.8" fill="#fff" stroke="#C8C8C8" stroke-width="0.6"/>
<path d="M130.8 451.2H257.5M130.8 456.7H257.5M130.8 462.2H257.5M130.8 467.6H257.5M130.8 473.1H257.5M130.8 478.6H257.5M130.8 484.1H257.5M130.8 489.6H257.5M130.8 495H257.5M130.8 500.5H257.5M130.8 506H257.5M130.8 511.5H257.5M130.8 517H257.5M130.8 522.4H257.5M130.8 527.9H257.5M130.8 533.4H257.5M130.8 538.9H257.5M130.8 544.4H257.5M130.8 549.8H257.5M130.8 555.3H257.5M130.8 560.8H257.5M130.8 566.3H257.5M130.8 571.8H257.5M130.8 577.2H257.5M130.8 582.7H257.5M130.8 588.2H257.5M130.8 593.7H257.5M130.8 599.2H257.5M130.8 604.6H257.5M130.8 610.1H257.5M130.8 615.6H257.5M130.8 621.1H257.5M132.2 448.6V624.4M162.9 448.6V624.4M193.5 448.6V624.4M224.2 448.6V624.4M254.8 448.6V624.4" stroke="#E4E4E4" stroke-width="0.6" fill="none"/>
<path d="M147.5 448.6V624.4M178.2 448.6V624.4M208.8 448.6V624.4M239.5 448.6V624.4" stroke="#F0F0F0" stroke-width="0.4" fill="none"/>
<text x="128.3" y="452.8" font-size="4.5" text-anchor="end" fill="#383838">Fos(bZIP)/TSC-Fos-ChIP-Seq(GSE110950)</text>
<text x="128.3" y="458.2" font-size="4.5" text-anchor="end" fill="#383838">Fra1(bZIP)/BT549-Fra1-ChIP-Seq(GSE46166)</text>
<text x="128.3" y="463.7" font-size="4.5" text-anchor="end" fill="#383838">BATF(bZIP)/Th17-BATF-ChIP-Seq(GSE39756)</text>
<text x="128.3" y="469.2" font-size="4.5" text-anchor="end" fill="#383838">Atf3(bZIP)/GBM-ATF3-ChIP-Seq(GSE33912)</text>
<text x="128.3" y="474.7" font-size="4.5" text-anchor="end" fill="#383838">JunB(bZIP)/DendriticCells-Junb-ChIP-Seq(GSE36099)</text>
<text x="128.3" y="480.2" font-size="4.5" text-anchor="end" fill="#383838">Fra2(bZIP)/Striatum-Fra2-ChIP-Seq(GSE43429)</text>
<text x="128.3" y="485.6" font-size="4.5" text-anchor="end" fill="#383838">AP-1(bZIP)/ThioMac-PU.1-ChIP-Seq(GSE21512)</text>
<text x="128.3" y="491.1" font-size="4.5" text-anchor="end" fill="#383838">Fosl2(bZIP)/3T3L1-Fosl2-ChIP-Seq(GSE56872)</text>
<text x="128.3" y="496.6" font-size="4.5" text-anchor="end" fill="#383838">Jun-AP1(bZIP)/K562-cJun-ChIP-Seq(GSE31477)</text>
<text x="128.3" y="502.1" font-size="4.5" text-anchor="end" fill="#383838">bZIP:IRF(bZIP,IRF)/Th17-BatF-ChIP-Seq(GSE39756)</text>
<text x="128.3" y="507.6" font-size="4.5" text-anchor="end" fill="#383838">IRF:BATF(IRF:bZIP)/pDC-Irf8-ChIP-Seq(GSE66899)</text>
<text x="128.3" y="513" font-size="4.5" text-anchor="end" fill="#383838">Bach2(bZIP)/OCILy7-Bach2-ChIP-Seq(GSE44420)</text>
<text x="128.3" y="518.5" font-size="4.5" text-anchor="end" fill="#383838">NPAS(bHLH)/Liver-NPAS-ChIP-Seq(GSE39860)</text>
<text x="128.3" y="524" font-size="4.5" text-anchor="end" fill="#383838">HIF-1b(HLH)/T47D-HIF1b-ChIP-Seq(GSE59937)</text>
<text x="128.3" y="529.5" font-size="4.5" text-anchor="end" fill="#383838">Max(bHLH)/K562-Max-ChIP-Seq(GSE31477)</text>
<text x="128.3" y="535" font-size="4.5" text-anchor="end" fill="#383838">CLOCK(bHLH)/Liver-Clock-ChIP-Seq(GSE39860)</text>
<text x="128.3" y="540.4" font-size="4.5" text-anchor="end" fill="#383838">BMAL1(bHLH)/Liver-Bmal1-ChIP-Seq(GSE39860)</text>
<text x="128.3" y="545.9" font-size="4.5" text-anchor="end" fill="#383838">c-Myc(bHLH)/mES-cMyc-ChIP-Seq(GSE11431)</text>
<text x="128.3" y="551.4" font-size="4.5" text-anchor="end" fill="#383838">NFkB-p65(RHD)/GM12787-p65-ChIP-Seq(GSE19485)</text>
<text x="128.3" y="556.9" font-size="4.5" text-anchor="end" fill="#383838">NFkB-p65-Rel(RHD)/ThioMac-LPS-Expression(GSE23622)</text>
<text x="128.3" y="562.4" font-size="4.5" text-anchor="end" fill="#383838">MafA(bZIP)/Islet-MafA-ChIP-Seq(GSE30298)</text>
<text x="128.3" y="567.8" font-size="4.5" text-anchor="end" fill="#383838">IRF1(IRF)/PBMC-IRF1-ChIP-Seq(GSE43036)</text>
<text x="128.3" y="573.3" font-size="4.5" text-anchor="end" fill="#383838">NPAS2(bHLH)/Liver-NPAS2-ChIP-Seq(GSE39860)</text>
<text x="128.3" y="578.8" font-size="4.5" text-anchor="end" fill="#383838">USF1(bHLH)/GM12878-Usf1-ChIP-Seq(GSE32465)</text>
<text x="128.3" y="584.3" font-size="4.5" text-anchor="end" fill="#383838">c-Myc(bHLH)/LNCAP-cMyc-ChIP-Seq(Unpublished)</text>
<text x="128.3" y="589.8" font-size="4.5" text-anchor="end" fill="#383838">Npas4(bHLH)/Neuron-Npas4-ChIP-Seq(GSE127793)</text>
<text x="128.3" y="595.2" font-size="4.5" text-anchor="end" fill="#383838">NFE2L2(bZIP)/HepG2-NFE2L2-ChIP-Seq(Encode)</text>
<text x="128.3" y="600.7" font-size="4.5" text-anchor="end" fill="#383838">IRF4(IRF)/GM12878-IRF4-ChIP-Seq(GSE32465)</text>
<text x="128.3" y="606.2" font-size="4.5" text-anchor="end" fill="#383838">bHLHE40(bHLH)/HepG2-BHLHE40-ChIP-Seq(GSE31477)</text>
<text x="128.3" y="611.7" font-size="4.5" text-anchor="end" fill="#383838">HIF2a(bHLH)/785_O-HIF2a-ChIP-Seq(GSE34871)</text>
<text x="128.3" y="617.2" font-size="4.5" text-anchor="end" fill="#383838">Pdx1(Homeobox)/Islet-Pdx1-ChIP-Seq(SRA008281)</text>
<text x="128.3" y="622.6" font-size="4.5" text-anchor="end" fill="#383838">NF-E2(bZIP)/K562-NFE2-ChIP-Seq(GSE31477)</text>
<text x="132.2" y="630.8" font-size="4.9" text-anchor="middle" fill="#4D4D4D">0</text>
<text x="162.9" y="630.8" font-size="4.9" text-anchor="middle" fill="#4D4D4D">40</text>
<text x="193.5" y="630.8" font-size="4.9" text-anchor="middle" fill="#4D4D4D">80</text>
<text x="224.2" y="630.8" font-size="4.9" text-anchor="middle" fill="#4D4D4D">120</text>
<text x="254.8" y="630.8" font-size="4.9" text-anchor="middle" fill="#4D4D4D">160</text>
<path d="M129.3 451.2H130.8M129.3 456.7H130.8M129.3 462.2H130.8M129.3 467.6H130.8M129.3 473.1H130.8M129.3 478.6H130.8M129.3 484.1H130.8M129.3 489.6H130.8M129.3 495H130.8M129.3 500.5H130.8M129.3 506H130.8M129.3 511.5H130.8M129.3 517H130.8M129.3 522.4H130.8M129.3 527.9H130.8M129.3 533.4H130.8M129.3 538.9H130.8M129.3 544.4H130.8M129.3 549.8H130.8M129.3 555.3H130.8M129.3 560.8H130.8M129.3 566.3H130.8M129.3 571.8H130.8M129.3 577.2H130.8M129.3 582.7H130.8M129.3 588.2H130.8M129.3 593.7H130.8M129.3 599.2H130.8M129.3 604.6H130.8M129.3 610.1H130.8M129.3 615.6H130.8M129.3 621.1H130.8M132.2 624.4V625.8M162.9 624.4V625.8M193.5 624.4V625.8M224.2 624.4V625.8M254.8 624.4V625.8" stroke="#666" stroke-width="0.5" fill="none"/>
<circle cx="251.7" cy="451.2" r="3.1" fill="#D37761"/>
<circle cx="245.8" cy="456.7" r="3.0" fill="#CD7B68"/>
<circle cx="241.9" cy="462.2" r="3.0" fill="#CB7D6A"/>
<circle cx="237.6" cy="467.6" r="3.2" fill="#BE887C"/>
<circle cx="236.8" cy="473.1" r="3.0" fill="#CB7D6A"/>
<circle cx="229.4" cy="478.6" r="2.7" fill="#D07A65"/>
<circle cx="223.9" cy="484.1" r="3.3" fill="#B0928E"/>
<circle cx="211.9" cy="489.6" r="2.5" fill="#D37761"/>
<circle cx="192.9" cy="495" r="2.3" fill="#D8735A"/>
<circle cx="156.9" cy="500.5" r="2.0" fill="#A39C9E"/>
<circle cx="153.2" cy="506" r="1.5" fill="#D8735A"/>
<circle cx="152.4" cy="511.5" r="1.9" fill="#B3908A"/>
<circle cx="146.4" cy="517" r="3.5" fill="#56AFCF"/>
<circle cx="144.1" cy="522.4" r="3.1" fill="#5EADCA"/>
<circle cx="141" cy="527.9" r="2.4" fill="#6DA9C0"/>
<circle cx="140.5" cy="533.4" r="2.4" fill="#68AAC3"/>
<circle cx="140.3" cy="538.9" r="3.5" fill="#56AFCF"/>
<circle cx="139.6" cy="544.4" r="2.5" fill="#65ABC5"/>
<circle cx="138.1" cy="549.8" r="2.4" fill="#68AAC3"/>
<circle cx="138.1" cy="555.3" r="1.2" fill="#B88C83"/>
<circle cx="137.7" cy="560.8" r="2.8" fill="#5EADCA"/>
<circle cx="137.3" cy="566.3" r="1.6" fill="#84A4B2"/>
<circle cx="137.5" cy="571.8" r="3.2" fill="#56AFCF"/>
<circle cx="137.5" cy="577.2" r="2.3" fill="#65ABC5"/>
<circle cx="137.5" cy="582.7" r="2.3" fill="#65ABC5"/>
<circle cx="137.5" cy="588.2" r="2.8" fill="#5EADCA"/>
<circle cx="136.6" cy="593.7" r="1.0" fill="#B88C83"/>
<circle cx="136.8" cy="599.2" r="2.1" fill="#65ABC5"/>
<circle cx="136.8" cy="604.6" r="2.0" fill="#65ABC5"/>
<circle cx="136.8" cy="610.1" r="2.0" fill="#65ABC5"/>
<circle cx="136.8" cy="615.6" r="2.8" fill="#56AFCF"/>
<circle cx="136.6" cy="621.1" r="1.0" fill="#B88C83"/>
<text x="194.6" y="637.8" font-size="6.0" text-anchor="middle" fill="#111" textLength="39.5" lengthAdjust="spacingAndGlyphs">-log10(p.adjust)</text>
<text x="5.4" y="538.6" font-size="6.0" text-anchor="middle" fill="#111" transform="rotate(-90 5.4 536.5)">Motifs</text>
<text x="266" y="491.4" font-size="5.63" fill="#111" textLength="77.2" lengthAdjust="spacingAndGlyphs">Percentage of Motif in Target S</text>
<circle cx="270.4" cy="499.4" r="2.3" fill="#000"/>
<text x="278.2" y="501" font-size="4.6" fill="#333">5</text>
<circle cx="270.4" cy="508.4" r="2.76" fill="#000"/>
<text x="278.2" y="510" font-size="4.6" fill="#333">10</text>
<circle cx="270.4" cy="517.3" r="3.4" fill="#000"/>
<text x="278.2" y="518.9" font-size="4.6" fill="#333">15</text>
<text x="266" y="537.8" font-size="5.63" fill="#111">Enrichment</text>
<defs><linearGradient id="gF" x1="0" y1="0" x2="0" y2="1"><stop offset="0" stop-color="#D8735A"/><stop offset="0.5" stop-color="#A39C9E"/><stop offset="1" stop-color="#56AFCF"/></linearGradient><linearGradient id="gG" x1="0" y1="0" x2="0" y2="1"><stop offset="0" stop-color="#56AFCF"/><stop offset="0.5" stop-color="#A39C9E"/><stop offset="1" stop-color="#D8735A"/></linearGradient></defs>
<rect x="266" y="541.2" width="9" height="44.8" fill="url(#gF)"/>
<line x1="266" y1="542.8" x2="267.8" y2="542.8" stroke="#fff" stroke-width="0.5"/>
<line x1="273.2" y1="542.8" x2="275" y2="542.8" stroke="#fff" stroke-width="0.5"/>
<text x="278.2" y="544.4" font-size="4.6" fill="#333">2.5</text>
<line x1="266" y1="558.7" x2="267.8" y2="558.7" stroke="#fff" stroke-width="0.5"/>
<line x1="273.2" y1="558.7" x2="275" y2="558.7" stroke="#fff" stroke-width="0.5"/>
<text x="278.2" y="560.3" font-size="4.6" fill="#333">2.0</text>
<line x1="266" y1="574.8" x2="267.8" y2="574.8" stroke="#fff" stroke-width="0.5"/>
<line x1="273.2" y1="574.8" x2="275" y2="574.8" stroke="#fff" stroke-width="0.5"/>
<text x="278.2" y="576.4" font-size="4.6" fill="#333">1.5</text>
<text x="388" y="424.3" font-size="18">G</text>
<text x="494.8" y="447.9" font-size="7.44" fill="#111" textLength="124.4" lengthAdjust="spacingAndGlyphs">GO Biological Processes in cis-eQTM</text>
<rect x="494.4" y="452.6" width="146.3" height="170.5" fill="#fff" stroke="#C8C8C8" stroke-width="0.6"/>
<path d="M494.4 455.8H640.7M494.4 461.3H640.7M494.4 466.8H640.7M494.4 472.2H640.7M494.4 477.7H640.7M494.4 483.2H640.7M494.4 488.7H640.7M494.4 494.1H640.7M494.4 499.6H640.7M494.4 505.1H640.7M494.4 510.6H640.7M494.4 516H640.7M494.4 521.5H640.7M494.4 527H640.7M494.4 532.5H640.7M494.4 538H640.7M494.4 543.4H640.7M494.4 548.9H640.7M494.4 554.4H640.7M494.4 559.9H640.7M494.4 565.3H640.7M494.4 570.8H640.7M494.4 576.3H640.7M494.4 581.8H640.7M494.4 587.2H640.7M494.4 592.7H640.7M494.4 598.2H640.7M494.4 603.7H640.7M494.4 609.2H640.7M494.4 614.6H640.7M494.4 620.1H640.7M523.3 452.6V623.1M564.5 452.6V623.1M605.7 452.6V623.1" stroke="#E4E4E4" stroke-width="0.6" fill="none"/>
<path d="M502.7 452.6V623.1M543.9 452.6V623.1M585.1 452.6V623.1M626.3 452.6V623.1" stroke="#F0F0F0" stroke-width="0.4" fill="none"/>
<text x="491.9" y="457.5" font-size="4.85" text-anchor="end" fill="#383838">mononuclear cell differentiation</text>
<text x="491.9" y="463" font-size="4.85" text-anchor="end" fill="#383838">positive regulation of lymphocyte activation</text>
<text x="491.9" y="468.4" font-size="4.85" text-anchor="end" fill="#383838">regulation of T cell activation</text>
<text x="491.9" y="473.9" font-size="4.85" text-anchor="end" fill="#383838">T cell differentiation</text>
<text x="491.9" y="479.4" font-size="4.85" text-anchor="end" fill="#383838">lymphocyte differentiation</text>
<text x="491.9" y="484.9" font-size="4.85" text-anchor="end" fill="#383838">lymphocyte mediated immunity</text>
<text x="491.9" y="490.3" font-size="4.85" text-anchor="end" fill="#383838">positive regulation of leukocyte activation</text>
<text x="491.9" y="495.8" font-size="4.85" text-anchor="end" fill="#383838">positive regulation of cell activation</text>
<text x="491.9" y="501.3" font-size="4.85" text-anchor="end" fill="#383838">leukocyte mediated immunity</text>
<text x="491.9" y="506.8" font-size="4.85" text-anchor="end" fill="#383838">leukocyte cell-cell adhesion</text>
<text x="491.9" y="512.2" font-size="4.85" text-anchor="end" fill="#383838">positive regulation of leukocyte cell-cell adhesion</text>
<text x="491.9" y="517.7" font-size="4.85" text-anchor="end" fill="#383838">positive regulation of cell-cell adhesion</text>
<text x="491.9" y="523.2" font-size="4.85" text-anchor="end" fill="#383838">positive regulation of T cell activation</text>
<text x="491.9" y="528.7" font-size="4.85" text-anchor="end" fill="#383838">regulation of cell-cell adhesion</text>
<text x="491.9" y="534.2" font-size="4.85" text-anchor="end" fill="#383838">positive regulation of cell adhesion</text>
<text x="491.9" y="539.6" font-size="4.85" text-anchor="end" fill="#383838">regulation of small GTPase mediated signal transduction</text>
<text x="491.9" y="545.1" font-size="4.85" text-anchor="end" fill="#383838">regulation of leukocyte cell-cell adhesion</text>
<text x="491.9" y="550.6" font-size="4.85" text-anchor="end" fill="#383838">regulation of GTPase activity</text>
<text x="491.9" y="556.1" font-size="4.85" text-anchor="end" fill="#383838">natural killer cell mediated immunity</text>
<text x="491.9" y="561.5" font-size="4.85" text-anchor="end" fill="#383838">adaptive immune response</text>
<text x="491.9" y="567" font-size="4.85" text-anchor="end" fill="#383838">regulation of T cell differentiation</text>
<text x="491.9" y="572.5" font-size="4.85" text-anchor="end" fill="#383838">regulation of lymphocyte mediated immunity</text>
<text x="491.9" y="578" font-size="4.85" text-anchor="end" fill="#383838">regulation of leukocyte differentiation</text>
<text x="491.9" y="583.4" font-size="4.85" text-anchor="end" fill="#383838">natural killer cell mediated cytotoxicity</text>
<text x="491.9" y="588.9" font-size="4.85" text-anchor="end" fill="#383838">B cell activation</text>
<text x="491.9" y="594.4" font-size="4.85" text-anchor="end" fill="#383838">regulation of natural killer cell mediated immunity</text>
<text x="491.9" y="599.9" font-size="4.85" text-anchor="end" fill="#383838">regulation of lymphocyte differentiation</text>
<text x="491.9" y="605.4" font-size="4.85" text-anchor="end" fill="#383838">regulation of leukocyte mediated immunity</text>
<text x="491.9" y="610.8" font-size="4.85" text-anchor="end" fill="#383838">immune response-activating signal transduction</text>
<text x="491.9" y="616.3" font-size="4.85" text-anchor="end" fill="#383838">immune response-activating cell surface receptor signaling pathway</text>
<text x="491.9" y="621.8" font-size="4.85" text-anchor="end" fill="#383838">regulation of natural killer cell mediated cytotoxicity</text>
<text x="523.3" y="629.6" font-size="4.9" text-anchor="middle" fill="#4D4D4D">6</text>
<text x="564.5" y="629.6" font-size="4.9" text-anchor="middle" fill="#4D4D4D">8</text>
<text x="605.7" y="629.6" font-size="4.9" text-anchor="middle" fill="#4D4D4D">10</text>
<path d="M492.9 455.8H494.4M492.9 461.3H494.4M492.9 466.8H494.4M492.9 472.2H494.4M492.9 477.7H494.4M492.9 483.2H494.4M492.9 488.7H494.4M492.9 494.1H494.4M492.9 499.6H494.4M492.9 505.1H494.4M492.9 510.6H494.4M492.9 516H494.4M492.9 521.5H494.4M492.9 527H494.4M492.9 532.5H494.4M492.9 538H494.4M492.9 543.4H494.4M492.9 548.9H494.4M492.9 554.4H494.4M492.9 559.9H494.4M492.9 565.3H494.4M492.9 570.8H494.4M492.9 576.3H494.4M492.9 581.8H494.4M492.9 587.2H494.4M492.9 592.7H494.4M492.9 598.2H494.4M492.9 603.7H494.4M492.9 609.2H494.4M492.9 614.6H494.4M492.9 620.1H494.4M523.3 623.1V624.5M564.5 623.1V624.5M605.7 623.1V624.5" stroke="#666" stroke-width="0.5" fill="none"/>
<circle cx="633.9" cy="455.8" r="3.2" fill="#D8735A"/>
<circle cx="622.5" cy="461.3" r="3.0" fill="#D8735A"/>
<circle cx="617.4" cy="466.8" r="2.8" fill="#D8735A"/>
<circle cx="617.4" cy="472.2" r="2.8" fill="#D8735A"/>
<circle cx="607.4" cy="477.7" r="3.0" fill="#D8735A"/>
<circle cx="601.2" cy="483.2" r="2.8" fill="#D8735A"/>
<circle cx="594.7" cy="488.7" r="3.0" fill="#D8735A"/>
<circle cx="587" cy="494.1" r="3.0" fill="#D8735A"/>
<circle cx="587" cy="499.6" r="3.0" fill="#D8735A"/>
<circle cx="587" cy="505.1" r="2.8" fill="#D8735A"/>
<circle cx="584.8" cy="510.6" r="2.5" fill="#D8735A"/>
<circle cx="578.5" cy="516" r="2.5" fill="#D8735A"/>
<circle cx="576.1" cy="521.5" r="2.5" fill="#D8735A"/>
<circle cx="572.1" cy="527" r="3.0" fill="#D8735A"/>
<circle cx="557.9" cy="532.5" r="3.3" fill="#D8735A"/>
<circle cx="548" cy="538" r="2.8" fill="#D8735A"/>
<circle cx="542.1" cy="543.4" r="3.0" fill="#D8735A"/>
<circle cx="538.2" cy="548.9" r="3.2" fill="#D8735A"/>
<circle cx="533.1" cy="554.4" r="1.8" fill="#D8735A"/>
<circle cx="528.3" cy="559.9" r="3.2" fill="#D8735A"/>
<circle cx="523.5" cy="565.3" r="2.4" fill="#D8735A"/>
<circle cx="523.5" cy="570.8" r="2.4" fill="#D8735A"/>
<circle cx="522.4" cy="576.3" r="2.8" fill="#D8735A"/>
<circle cx="522.4" cy="581.8" r="1.6" fill="#D8735A"/>
<circle cx="520" cy="587.2" r="2.9" fill="#D8735A"/>
<circle cx="508.6" cy="592.7" r="1.2" fill="#B88C83"/>
<circle cx="504.9" cy="598.2" r="2.4" fill="#9B9EA3"/>
<circle cx="503.1" cy="603.7" r="2.4" fill="#84A4B2"/>
<circle cx="501.4" cy="609.2" r="2.8" fill="#5EADCA"/>
<circle cx="501.4" cy="614.6" r="2.8" fill="#5EADCA"/>
<circle cx="501.4" cy="620.1" r="0.9" fill="#56AFCF"/>
<text x="567.7" y="636.8" font-size="6.0" text-anchor="middle" fill="#111" textLength="40.7" lengthAdjust="spacingAndGlyphs">-log10(p.adjust)</text>
<text x="649.6" y="484" font-size="6.0" fill="#111" textLength="17.4" lengthAdjust="spacingAndGlyphs">qvalue</text>
<rect x="649.9" y="487.9" width="9.3" height="47.8" fill="url(#gG)"/>
<line x1="649.9" y1="497.6" x2="651.7" y2="497.6" stroke="#fff" stroke-width="0.5"/>
<line x1="657.4" y1="497.6" x2="659.2" y2="497.6" stroke="#fff" stroke-width="0.5"/>
<text x="662.5" y="499.3" font-size="4.9" fill="#333" textLength="19.4" lengthAdjust="spacingAndGlyphs">1.00e-05</text>
<line x1="649.9" y1="507.3" x2="651.7" y2="507.3" stroke="#fff" stroke-width="0.5"/>
<line x1="657.4" y1="507.3" x2="659.2" y2="507.3" stroke="#fff" stroke-width="0.5"/>
<text x="662.5" y="509" font-size="4.9" fill="#333" textLength="19.4" lengthAdjust="spacingAndGlyphs">7.50e-06</text>
<line x1="649.9" y1="517.2" x2="651.7" y2="517.2" stroke="#fff" stroke-width="0.5"/>
<line x1="657.4" y1="517.2" x2="659.2" y2="517.2" stroke="#fff" stroke-width="0.5"/>
<text x="662.5" y="518.9" font-size="4.9" fill="#333" textLength="19.4" lengthAdjust="spacingAndGlyphs">5.00e-06</text>
<line x1="649.9" y1="526.7" x2="651.7" y2="526.7" stroke="#fff" stroke-width="0.5"/>
<line x1="657.4" y1="526.7" x2="659.2" y2="526.7" stroke="#fff" stroke-width="0.5"/>
<text x="662.5" y="528.4" font-size="4.9" fill="#333" textLength="19.4" lengthAdjust="spacingAndGlyphs">2.50e-06</text>
<text x="649.6" y="553.9" font-size="6.1" fill="#111" textLength="29.4" lengthAdjust="spacingAndGlyphs">GeneRatio</text>
<circle cx="654.4" cy="562.5" r="1.5" fill="#000"/>
<text x="662.2" y="564.2" font-size="4.8" fill="#333" textLength="9.1" lengthAdjust="spacingAndGlyphs">0.01</text>
<circle cx="654.4" cy="572.2" r="2.5" fill="#000"/>
<text x="662.2" y="573.9" font-size="4.8" fill="#333" textLength="9.1" lengthAdjust="spacingAndGlyphs">0.02</text>
<circle cx="654.4" cy="581.6" r="3.0" fill="#000"/>
<text x="662.2" y="583.3" font-size="4.8" fill="#333" textLength="9.1" lengthAdjust="spacingAndGlyphs">0.03</text>
<circle cx="654.4" cy="591.6" r="3.6" fill="#000"/>
<text x="662.2" y="593.3" font-size="4.8" fill="#333" textLength="9.1" lengthAdjust="spacingAndGlyphs">0.04</text>
<text x="10.5" y="705.7" font-size="18">H</text>
<rect x="44.3" y="712.1" width="61.2" height="12.1" fill="#fff" stroke="#9FB2D2" stroke-width="0.7"/>
<text x="74.9" y="720.5" font-size="6.9" text-anchor="middle" textLength="50" lengthAdjust="spacingAndGlyphs">DNA methylation</text>
<text x="67.4" y="731.5" font-size="5.6" fill="#111" textLength="29" lengthAdjust="spacingAndGlyphs">P = 1.15e-5</text>
<g stroke="#B995B9" stroke-width="0.8" fill="none"><path d="M59.7 746V772.9M59.7 790.6V817"/><rect x="50.2" y="772.9" width="19" height="17.7"/><path d="M50.2 781.6H69.2" stroke-width="1.1199999999999999"/></g>
<path d="M55.8 772.6h0M63.4 775.3h0M61.1 778.2h0M61.4 794.8h0M55.2 782.1h0M62.8 798.3h0M60.6 786.2h0M64.9 789.8h0M64.7 776h0M60.1 770h0M58.1 760.6h0M62.8 769.9h0M61.7 795.9h0M57.3 756.5h0M56.1 783.3h0M61.9 773.8h0M54.6 789.4h0M60 783.6h0M55.6 789.1h0M56.1 795.6h0M57.3 793.5h0M65.4 788.7h0M60.2 788.4h0M60.5 783h0M58.6 785.2h0M61.8 807.8h0M57.5 788.9h0M61.6 774.5h0M61.2 783.3h0M55.4 790.8h0M54.8 798.9h0M63 749.8h0M59.8 775.4h0M59.9 788.3h0M60.1 777.4h0M56.9 764h0M60.1 771.9h0M56.3 786h0M54.5 787.4h0M58.8 798.1h0M59.4 774.2h0M60.9 785.9h0M64.3 781.2h0M65.1 785.2h0M55.9 790.8h0M62.7 782.2h0M61.5 794h0M65.3 761.9h0M60.4 806.5h0M62.5 785.9h0M61.4 777.2h0M54.3 792.8h0M64.8 795.1h0M55.5 782.6h0M56.9 788.9h0M55 799.1h0M57.8 767.5h0M60.7 773.8h0M61.4 791.4h0M62 769.5h0M65.2 755h0M55.7 779.5h0M54.5 781.8h0M65.1 781.1h0M57 754.2h0M59.3 773.1h0M58.2 760.1h0M58.2 769.1h0M64 782.5h0M65.2 779.2h0M63.4 787.3h0M57.7 789.6h0M63.4 795.6h0M55 776.2h0M54.9 789.7h0M64.9 781.3h0M63.6 778.1h0M63.7 787.1h0M60.9 805.2h0M58.6 790.5h0M65.1 760.3h0M54.9 791.4h0M64.6 774.6h0M63.1 772.1h0M58.7 785.9h0M54.9 790.3h0M57.2 775.3h0M65.1 773.7h0M64.6 781.1h0M56.3 778.2h0M57.5 743.6h0M58.2 782.8h0M58.6 777h0M59.8 770.4h0M61.2 770h0M65.1 796h0M61.2 799.9h0M58.1 784.7h0M54.5 794.1h0M57.1 793.4h0M62.9 788.2h0M55.1 798.2h0M59 772.9h0M55.1 777.8h0M59.9 792.2h0M64.1 787.8h0M59.1 787.7h0M57.7 791.6h0M57.5 774.1h0M55.3 766.8h0M63.5 785h0M62.7 792.8h0M64.6 781.8h0M62.6 768.1h0M61.4 793.8h0M54.8 767.5h0M55.8 766.3h0M61.2 794h0M61.2 801.6h0M55.4 779.7h0M65.3 771.5h0M56.2 770.4h0M60.8 784.3h0M58.1 804.7h0M61.4 796.1h0M56 775.1h0M64 788.5h0M57.3 776.4h0M60.6 771.7h0M64.5 772.2h0M62 776.8h0M56.2 779.2h0M54.7 776.5h0M62.9 809.7h0M62.8 781.2h0M64.4 773.7h0M57.6 782.8h0M54.5 796h0M54.7 761.5h0M65.4 792.6h0M62.9 782.6h0M55.1 780.5h0M60.6 783.4h0M62.4 776.6h0M65.1 785.8h0M61.5 784h0M61.6 758.5h0M57.4 780.4h0M62.5 788.5h0M58.2 785.2h0M64.8 768.3h0M63.5 802.4h0M61.2 771.7h0M62.8 777.7h0M55.4 781.5h0M58.9 776.4h0M55.6 784.5h0M59.7 791.2h0M56.9 776.2h0M62.4 790.3h0M54.9 785h0M59.1 764.4h0M63.7 801h0M59.5 769.5h0M54.2 776.9h0M60.3 772.1h0M61 776.6h0M63.9 805.7h0M57.2 779.2h0M63.8 773.1h0M62 784.4h0M64.2 776.3h0M63.9 784.7h0M58.1 781.3h0M62 771.5h0M57.8 788.6h0M56.9 776.7h0M58.3 778h0M57.2 791.8h0M56.6 768.6h0M64.7 796.4h0M62.3 780.4h0M63.9 782h0M56.4 791.6h0M57.3 759.7h0M57.6 790h0M63.3 772.1h0M64.3 784.7h0M59.3 783.1h0M55.5 780.7h0M62.1 750.5h0M56.5 775h0M58 759.4h0M60.3 759.2h0M59.6 766.2h0M61.2 774h0M61.6 785.6h0M64.1 763.5h0M64.5 766.5h0M62.1 800.6h0M62.7 758.3h0M60.2 794.3h0M56.6 775.6h0M59.6 766.3h0M56.7 774.8h0M65.3 770.4h0M63.8 783.8h0M64.5 771.1h0M60.6 776.2h0M57.9 790.1h0M60.5 781.8h0M59.9 763.5h0M56.3 774.6h0M56 771.6h0M63.7 782h0M61.6 762.7h0M60.8 792.8h0M64 783.6h0M56.1 800.6h0M57.2 779.5h0M59.1 770h0M57.6 782.4h0M59.9 763.6h0M57.6 777.7h0M61.4 797.4h0M58.2 786.8h0M65.3 746.1h0M54.7 772.9h0M59 772.6h0M64.7 808h0M62.2 774.7h0M57.1 813.4h0M57.3 788.1h0M62.3 801h0M54.9 785.1h0M62.2 783.1h0M61.2 786.5h0M54.7 780h0M59.7 744.4h0M54.7 788.9h0M65.2 781h0M62.7 777.8h0M57.6 765.8h0M58.3 778.9h0M65 790h0M61.3 804.4h0M62.5 763.9h0M57.3 783.3h0M58.3 791h0M58.7 748.7h0M65.4 786.5h0M54.7 780.2h0M59.3 788.5h0M64.2 789.1h0M56.8 778.8h0M60.5 778.1h0M57.8 783.4h0M55.3 770.2h0M64.7 776.9h0M58.7 797.2h0M62.9 755.3h0M55.8 795.3h0M58.9 764.6h0M63 769h0M63.1 793.6h0M61.3 781.1h0M57.1 788.2h0M64.1 786.5h0M60.1 788.4h0M59.6 759.3h0M58.5 783.9h0M61.9 788.5h0M59 790.4h0M55.2 775.7h0M57.3 761.8h0M57 798.9h0M54.8 780.7h0M64.5 802.3h0M65.1 793.8h0M56.3 784.3h0M61.7 784.5h0M62 769.8h0M60.9 788.3h0M56.1 793.9h0M56.5 763.7h0M60 786.4h0M65.4 779.3h0M55.2 813.2h0M63.1 781.5h0M55.2 763.6h0M55.3 779.3h0M56.2 761.6h0M56.9 760.8h0M56.5 786.4h0M64.9 793.3h0M57.8 804.8h0M58.4 782.6h0M60.7 805.6h0M64.7 781.5h0M55.9 799.8h0M55.3 811.4h0M54.7 773.5h0M64.1 779.3h0M57 772.4h0M63.6 794.1h0M57.6 795.4h0M59.5 786.8h0M64.3 801h0M58.2 785.1h0M63.4 766.5h0M64.5 779.7h0M55.1 778.6h0M65.3 790.6h0M63.5 762.2h0M54.2 782.2h0M59 786.1h0M55.6 804.9h0M58.4 787.7h0M54.6 782.6h0M56.8 785.5h0M64.3 769.5h0M60.2 766.1h0M55.4 782.1h0M61.5 793h0M57.2 784.5h0M63.2 799.6h0M57.5 767.8h0M57.5 769.6h0M65.1 821.1h0M59.4 801.7h0M57.1 787.6h0M63.4 757.7h0M65.4 759.4h0M57.3 769.6h0M55.5 794.3h0M64.9 767.4h0M54.7 780.9h0M61.9 805.6h0M56.6 763.7h0M63 774.1h0M54.7 794.5h0M63.4 773h0M60.5 797.2h0M58.7 786.1h0M62.6 799.3h0M61.8 770.1h0M55.6 760.7h0M61.4 774.8h0M59.8 785.3h0M54.3 789.2h0M61.7 801.6h0M54.9 781.2h0M58.8 795.8h0M59.8 781.7h0M59.6 784.1h0M61.8 780.6h0M62.5 800.4h0M56.2 757.1h0M63.9 786.5h0M63.6 781.2h0M63.2 785.8h0M55.9 791.8h0M56.7 774.9h0M56.8 779.3h0M59.8 775.3h0M60.7 771.7h0M62 761.8h0M63.1 760.5h0M58.7 788h0M55 775.3h0M56.1 778.4h0M60.3 785.1h0M55.4 780.1h0M58.7 770.7h0M62.4 780.7h0M61 775.5h0M59.7 797h0M61.6 795.6h0M61.7 768.2h0M57.8 784.3h0M63 789.5h0M62.7 795.9h0M64.8 765.5h0M59 806.9h0M61.3 778.4h0M56.7 781.1h0M59 776.8h0M62.1 772.9h0M56.6 782.4h0M62.8 796.9h0M62.9 789.9h0M58.2 791.3h0M54.5 793.5h0M61.8 793.7h0M57.6 796.6h0M55.2 766.5h0M62.1 784.4h0M55.2 767.7h0M57.2 781.5h0M56.3 767.6h0M61.7 786.9h0M59 743.7h0M57.7 753.3h0M56.1 760.2h0M64.3 793.5h0M54.6 762.4h0M56.4 768.2h0M61.6 778.1h0M57.2 780.7h0M65.1 803.1h0M61.3 783.9h0M62.8 790.6h0M58.4 769.1h0M59.5 779.4h0M58.5 758.3h0M62.2 786.6h0M54.6 769.7h0M62.8 771.4h0M56.6 768.4h0M55.8 773.9h0M61.5 768.8h0M58.3 769.4h0M62.7 780h0M65 804h0M63.2 770.5h0M56.1 774.3h0M60.2 805.8h0M63.7 779.2h0M65.2 796.1h0M59.2 749.1h0M59.1 774.6h0M57.9 781.8h0M55.7 764.7h0M56.9 780.9h0M59.1 806h0M62 755.1h0M54.7 780.2h0M57.4 777.9h0M62.4 788h0M61.2 791.3h0M56.2 781.7h0M57.9 767.5h0M64 769.8h0M59.2 792.9h0M64.5 753.8h0M61.9 765.4h0M59.7 797.7h0M61.9 781.6h0M63.7 785.3h0M60.7 738.3h0M63.3 790.3h0M56.9 798.7h0M60.6 788.1h0M54.7 787.8h0M58.9 777.1h0M62.5 761.8h0M65.3 764.4h0M55.8 784.4h0M54.7 778.5h0M60 786.1h0M64.9 780.9h0M58 782.8h0M55.7 800.3h0M56.7 782.9h0M55.3 784.3h0M56.5 755.1h0M58 786.9h0M61.4 783.4h0M57.7 773.6h0M56.4 763.4h0M63.8 776.7h0M63.4 787h0M60.4 766.4h0M63.4 780.8h0M62.3 771.8h0M57.2 769.1h0M60.2 783.2h0M55.7 797.4h0M64.7 777.7h0M64.9 784.5h0M61.1 786.1h0M63.3 772.3h0M59.3 782.3h0M56.5 792.8h0M62.5 772.1h0M62.5 794h0M56.6 778.2h0M63.9 776.8h0M64.4 783h0M60.6 800.7h0M59 785.1h0M60.2 781h0M59.4 769.4h0M56.9 788.9h0M60.2 754.3h0M56.9 777.5h0M59 784.2h0M58.3 766.8h0M63.1 751.3h0M60.2 773.9h0M58.9 763h0M64 791.2h0M61.9 774.5h0M60.2 785.9h0M57.5 797.2h0M62.5 789.2h0M55.5 777.8h0M65.1 791.1h0M59.4 768.7h0M55.1 779.4h0M54.5 762.1h0M63 782h0M56.6 799.9h0M63.4 756.9h0M54.8 761.5h0M60.4 787.5h0M60.3 774.8h0M62 774h0M55 790.6h0M64 792.1h0M59.4 792.3h0M60.3 765.4h0M62.8 751.8h0M61.2 779.1h0M55.1 770.4h0M60.2 789.2h0M55.1 780.2h0M59.8 790.1h0M65.1 785.3h0M56.7 777.3h0M60.9 778.2h0M60.2 789h0M60.8 797.9h0M56.5 772.1h0M63.2 758.7h0M63.4 757.3h0M57.4 794.6h0M55.9 773.9h0M60.7 807.5h0M56.7 784.6h0M64.9 784.2h0M55.7 797.1h0M60 796.2h0M59.7 782h0M59.8 794.5h0M59.9 776.1h0M55.3 765.8h0M56.2 766.2h0M57.4 778.8h0M65.2 782.9h0M58.3 784.5h0M60.4 790.2h0M61.5 773.7h0M58.7 769.6h0M55.7 786.2h0M61.3 798.1h0M58.1 797h0M59.7 769.9h0M54.6 794.9h0M61.5 759.9h0M58.5 797.3h0M57 784.3h0M59.5 778.3h0M59.8 781.3h0M62.2 797.6h0M63 781.8h0M63.4 759.3h0M57.7 811.7h0M58.2 768h0M61.9 774h0M55.9 803.9h0M65 781.2h0M54.3 766.4h0M61.7 777.2h0M61.9 780.5h0M63.2 790.7h0M58.8 778.7h0M59.4 803.9h0M61.6 766h0M58.7 776.3h0M62.9 785.5h0M54.5 754.6h0M64.3 795.2h0M55.9 781.5h0M60.8 776.8h0M55.6 780.2h0M64.4 781h0M62.2 776.9h0M57.6 796.9h0M54.3 775.5h0M58.7 781.1h0M61.3 770.6h0M64.4 773h0M61.9 797.9h0M62.9 785.4h0M57.8 769.1h0M59 778h0M64.9 786h0M64.3 775.2h0M61.9 774.6h0M58.4 760.3h0M65.1 795h0M61.2 795.6h0M64 767.6h0M61.2 786.4h0M56.1 783.8h0M61.3 801.1h0M55.9 800.8h0M65.1 784.1h0M62.5 766.7h0M56.9 765.9h0M57.9 772.3h0M63.9 772h0M59.8 792.2h0M63.6 752.6h0M60.6 804.4h0M56.2 758.3h0M62.2 797.9h0M65 772.7h0M54.2 786.7h0M62.6 783.4h0M63.7 772.2h0M63.1 772.6h0M55 785.2h0M63.8 786.4h0M59.8 774.9h0M57.8 765.3h0M59.7 784.9h0M65.2 756.6h0M59.9 788.1h0M57.6 775h0M64.7 824.7h0M63 763.1h0M58.4 796.2h0M58.9 784.4h0M60.2 778.7h0M54.8 811.5h0M56.8 781.5h0M60 786.4h0M57.7 785.6h0M61.9 792h0M55 782.3h0M54.3 806.9h0M63.8 778.7h0M57.6 763.4h0M55.8 776.5h0M61.3 784.2h0M54.8 775.2h0M62.1 784h0M62 790.5h0M61.1 791.4h0M65.2 788.5h0M55.9 794.5h0M54.9 778.5h0M54.3 785.6h0M57.2 774.8h0M61.3 801h0M62.1 787h0M59.1 779.5h0M61.5 791.5h0M64.7 813.5h0M63.5 796.4h0M60.1 777.3h0M60.4 792.4h0M56.8 786.9h0M64.8 790.6h0M64 790.2h0M55.9 782.9h0M54.3 797.3h0M59.4 774.1h0M62.4 802.5h0M54.8 792.6h0M57.5 780.2h0M60.8 805.8h0M63 784.9h0M56.7 778.9h0M56 784.3h0M54.7 787.9h0M59.5 759.7h0M54.4 765.2h0M57.3 802.5h0M57.2 765.8h0M54.9 780.8h0M56.6 788.7h0M62.4 786.2h0M60.4 776.9h0M61.8 801.4h0M60 775.5h0M64.4 763.5h0M55.4 779.4h0M59.6 827.9h0M58.3 775.3h0M64.3 801.9h0M62 789h0M64.6 780.2h0M54.8 798.6h0M64.2 771.1h0M64.8 773.1h0M64.3 789.4h0M62.4 781.4h0M57.2 789.5h0M59.6 771.7h0M64.5 791.3h0M65.1 785h0M65 781.4h0M61.3 785.6h0M59.4 782.6h0M61.5 797.2h0M54.9 756.6h0M62.7 770.2h0M58.9 776.7h0M59.4 766.6h0M59.2 759.7h0M61.2 802.8h0M63.8 769.1h0M55.3 777.7h0M61.6 798.6h0M56.3 780.6h0M56.3 765.7h0M57.6 750.6h0M56.6 770.3h0M56 794.4h0M60.9 790.7h0M59.7 780h0M62.6 803.4h0M62.6 786.8h0M54.8 773.5h0M65.3 794.3h0M63.2 799.4h0M60.6 756.5h0M56.1 774.6h0M62.6 815.7h0M54.6 771.1h0M56.1 768.8h0M57.2 796.5h0M65.2 803.9h0M64.2 778.1h0M55.1 798.8h0M62.5 791.5h0M54.8 795.1h0M58.1 764.3h0M55.2 775.1h0M55.6 777.6h0M56.7 780.6h0M61 764.9h0M57.4 797.1h0M54.6 782.5h0M59.6 769.2h0M57.9 778.7h0M56.9 784h0M61.9 748.1h0M62.1 756.1h0M57.4 778.8h0M61.6 797h0M64.3 802.5h0M56.4 765.8h0M58.6 778.3h0M58.8 769.1h0M63.6 741.1h0M58.7 784.6h0M60.4 805.3h0M59.8 797.1h0M59.7 742.6h0M63.9 762.9h0M62.6 758.6h0M59.3 771.5h0M57.3 778.6h0M64.1 765.8h0M61.8 781.3h0M55.6 791.8h0M62.1 801.4h0M57.8 801h0M55.4 782.7h0M64.6 810.4h0M59.9 785.2h0M64.3 777.4h0M58.9 771.9h0M56.5 772.8h0M59.3 789.5h0M61.2 787.7h0M63.8 785.1h0M61.8 775.3h0M62.4 760.2h0M63.2 795.5h0M62.3 774.4h0M55.4 775.2h0M64.7 755.5h0M54.9 792.5h0M61.1 775.1h0M62 782.1h0M63.6 781.7h0M63.8 785.3h0M63.6 775h0M56.1 755.1h0M56.4 766.9h0M59.7 784h0M55.1 800.7h0M60.3 786h0M62.6 751.8h0M56.2 776.7h0M56.5 838h0M61 825h0M62 738h0M60 731.5h0" stroke="#A66BA6" stroke-width="1.5" stroke-linecap="round" stroke-opacity="0.8" fill="none"/>
<path d="M56.4 785.5h0M63 786.2h0M62.8 757.7h0M56.4 792.3h0M64.7 774.5h0M61.6 768.8h0M60.3 788.5h0M58.1 778.5h0M60.2 807h0M63.5 756.7h0M60.8 781.4h0M58.5 791.5h0M56.3 756.1h0M61.1 776.8h0M61.6 763.5h0M60.6 755.3h0M56.2 799.3h0M59.1 786.2h0M62.7 797.8h0M61.9 790.7h0M55.6 763.5h0M57.9 771.9h0M61.6 782.7h0M65.3 789.9h0M57.3 778h0M58.7 783.9h0M60.3 778.8h0M60.6 771.9h0M60.3 782.3h0M58.9 776.3h0M65.1 794.9h0M55.6 761.9h0M59.1 783h0M63.8 786.6h0M63.9 803.7h0M57 775.1h0M58 783h0M62.2 781.5h0M58.4 781h0M64.1 773.6h0M59.2 788.4h0M56.6 786.8h0M57.1 763.1h0M61.4 771.2h0M61.7 785.8h0M59 775.2h0M63 780.5h0M56 794.3h0M56.7 793.9h0M61 770.6h0M62.9 791.3h0M57.7 782.9h0M63.5 806.3h0M56.4 790.5h0M54.4 790.4h0M58.6 773.7h0M64 775.6h0M60.1 772.5h0M60.6 793.4h0M63.1 751.6h0M56.3 779.9h0M65.3 765.8h0M55.6 793.4h0M59.9 788.4h0M55.7 787.7h0M59 782.3h0M55 770.7h0M59.1 767h0M62 777.7h0M61 796.1h0M63.4 785.9h0M61.3 783.5h0M62.2 788h0M59 777.7h0M62.2 771h0M65.3 780.8h0M62.9 779.5h0M59.7 795h0M60.6 787.2h0M58.2 793.7h0M63.6 764.6h0M56.2 786.6h0M58.5 791h0M59.3 765.9h0M57.8 786.2h0M63.3 817.9h0M56.6 792.4h0M60.2 779.7h0M59.2 802h0M63 758.9h0M63.9 798.3h0M57.8 796.1h0M60 765.7h0M58.9 796.2h0M56.1 788.4h0M58.3 758.1h0M64.5 785.1h0M55.4 781.9h0M65.1 775.7h0M62.1 784h0M55.1 774.8h0M62 790.5h0M58 782.2h0M63.8 787h0M59.5 757.7h0M63.3 795.3h0M58.1 780.3h0M60.3 769.2h0M57.3 772.5h0M58.2 785.5h0M55.3 786.6h0M61.8 775.9h0M55.4 765.5h0M57.2 762.4h0M62.5 785.5h0M56.6 775.4h0M55.7 754.5h0M56.9 785.7h0M55.2 779.8h0M56.6 773h0M64 774.5h0M58.6 776.2h0M57.3 773.7h0M60 776.6h0M59.4 804.2h0M59.9 798.1h0M57.7 767.6h0M55.8 743h0M56.2 785.5h0M62.9 780.2h0M56.3 775.6h0M64.5 775.5h0M57.5 789.4h0M58.9 772.8h0M57.7 776.6h0M57.3 786h0M55.4 799.4h0M57.8 773.9h0M63.1 785.1h0M58.5 789.7h0M61.6 780.4h0M55 778h0M55.1 787.8h0M63.8 764h0M55.6 772.1h0M63.6 775.6h0M55.9 778.1h0M56.6 791.2h0M62.7 785.3h0M57.9 797h0M65 803.1h0M58.7 784.5h0M55 800.3h0M57.8 784.3h0M60.3 785.2h0M55.4 788.3h0M64.1 777.5h0M56.8 788.2h0M61.6 777.5h0M54.9 762.8h0M58.3 783.9h0M58 775.7h0M55.1 791h0M62.4 778.5h0M60.9 773.1h0M56.3 780.3h0M56.7 802.4h0M62.6 784.6h0M62.6 763.2h0M55.5 773.2h0M59.3 805h0M63 801.2h0M55.8 786.3h0M62.8 748.7h0M56.4 778.4h0M55.2 769.7h0M58.9 766.7h0M55.3 771.6h0M61.5 770.2h0M61.4 780h0M61.7 781.6h0M65.1 789.7h0M58.8 791.6h0M64.1 782h0M58.7 785.6h0M59.4 796.3h0M59.6 770.2h0M60.5 781.1h0M62.2 774.2h0M64.1 780.6h0M65 795.2h0M54.9 757.9h0M54.5 780.1h0M55.5 775.6h0M54.5 775.3h0M60.1 804.3h0M62 798.2h0M63.4 777.3h0M59 788h0M58.4 781.9h0M54.5 778.3h0M57.5 800.4h0M63.5 779.9h0M55.6 758.1h0M62.9 797.3h0M60.3 786.9h0M63.7 774.4h0M65.4 758.6h0M56.7 786.9h0M63.7 782.5h0M59.6 759.8h0M63.4 771.6h0M61.6 761.6h0M59.6 776.5h0M62.6 780.5h0M56.2 768.4h0M62.1 767.6h0M54.5 799.5h0M55 761.9h0M57.8 774.3h0M60.4 791.6h0M55.7 797.4h0M65.1 748.7h0M55 779.9h0M55 775.3h0M57.8 796.5h0M58.7 778.2h0M57.2 765.4h0M65.4 777.2h0M63.2 767.1h0M60.9 793.9h0M64.5 762.4h0M57.3 770.9h0M59.7 790.2h0M59.3 795.5h0M54.3 779.7h0M63 759.4h0M64.5 794.7h0M56.2 756.8h0M54.5 788.5h0M58.4 788.7h0M64.5 798.3h0M58.2 801.4h0M58.5 770.1h0M61.8 775.1h0M62.7 774.8h0M60.2 753.3h0M56.8 810.4h0M59.8 780.2h0M56.8 762.1h0M65.2 773.3h0M56.7 780.3h0M60.7 772.1h0M54.8 795.6h0M58.5 788.4h0M63.4 773.2h0M56.6 776.5h0M62.4 778.1h0M61.3 792.7h0M54.5 757.7h0M62.4 770h0M59.9 763.8h0M60.1 754h0M64.7 776.3h0M62.3 805.3h0M59.1 786.3h0M62.7 782.4h0M60.2 757.9h0M65 791.3h0M59.1 767.2h0M55.1 786.1h0M56.5 801.2h0M63.6 812.2h0M59.7 768.1h0M63.7 791.2h0M63.9 770.2h0M60.4 762.8h0M62.3 783.6h0M56.2 768.7h0M58.5 797.4h0M64.8 759.6h0M63.2 776.4h0M64.8 785.4h0M57.8 779.5h0M57.5 795h0M60.2 759.4h0M59.7 764.5h0M59.5 777.9h0M62.9 794.4h0M54.6 790.3h0M63.3 786.8h0M54.4 787.8h0M64.6 782.1h0M61.4 788.7h0M60.2 758.7h0M63.6 778.8h0M60.8 794.8h0M64.9 770.3h0M57.2 783.9h0M63.6 786.4h0M55.7 791.8h0M65 773h0M55 781.1h0M59 784.8h0M63.7 777h0M58.7 790.9h0M55.2 801.4h0M56.6 765.8h0M57.4 789.1h0M59.8 760.7h0M56.6 768.4h0M61.7 764.5h0M59.9 765.8h0M61.6 777.1h0M60.7 766.8h0M59.7 765.2h0M54.8 786.8h0M54.9 782.6h0M59.4 760.1h0M55.8 790.4h0M54.7 783.8h0M61.2 793.3h0M58.9 802.6h0M60.2 774.2h0M55.5 806.9h0M63.9 774.8h0M54.4 773.2h0M58.2 774.5h0M56.2 787.6h0M54.8 767.8h0M60 793.5h0M63.5 771.6h0M55.5 762h0M63.8 791.2h0M58.2 774.2h0M65.1 801.8h0M62.6 777.8h0M64 778h0M54.7 795.2h0M64.6 760.6h0M62.7 768.9h0M64.9 789.5h0M54.4 753.5h0M64.8 794.2h0M56.2 780.3h0M65.4 787.3h0M55 800.1h0M60.7 761.7h0M58.9 796.6h0M59.7 764.7h0M62.9 787.3h0M59.7 779.3h0M55.8 787.5h0M64.5 783.9h0M56.7 782.4h0M54.3 783.7h0M59.2 766.9h0M60.5 770.3h0M61.8 775.3h0M57.6 790.3h0M55.7 787.4h0M56.1 788h0M60.5 775.2h0M64.8 766.5h0M56.1 766.5h0M56.8 757.1h0M61.7 797.9h0M56 785.8h0M60.5 794h0M60.9 784.1h0M59.6 783.8h0M55.3 792.4h0M56.3 773.3h0M59.8 766.1h0M56.8 788.9h0M60 787.3h0M56.5 771h0M58.9 783.9h0M63.6 769.3h0M60.3 779.4h0M62.9 755.1h0M57.1 796h0M61.3 771.5h0M62.8 791.6h0M59.3 776.3h0M59.9 791.1h0M62.6 787.1h0M60.5 753.7h0M54.9 773.4h0M56.3 784.7h0M56.5 763.4h0M58.5 757.3h0M56 783.6h0M56.5 802h0M56.9 768.2h0M58.7 784.7h0M62.9 785.5h0M65.2 765.5h0M63.5 801.6h0M60.8 785.9h0M59.5 776.4h0M60.4 788.5h0M60 778.7h0M61.3 770h0M64 752.6h0M64.7 770.7h0M57.9 780.9h0M61.9 782.5h0M63.4 780.9h0M65.4 766.9h0M65.1 778.9h0M55.6 741.7h0M59.1 785.8h0M56.3 797.2h0M60.2 812.1h0M60.4 775.7h0M60.6 767.1h0M65.2 781.1h0M58.5 785.8h0M64.9 788.6h0M60.8 782.3h0M57.8 795.7h0M58.3 784.3h0M63.5 783.5h0M62 778.3h0M60.5 789.8h0M56.7 804.8h0M58 781.4h0M61.2 790.8h0M62.8 769.2h0M65.1 771.5h0M61 787.7h0M60.4 792.5h0M60.2 790.2h0M54.5 774.3h0M57 774.5h0M59.5 774.6h0M64.8 767.1h0M64.6 800.3h0M58.5 768.2h0M64.2 786.9h0M54.2 779.7h0M60.6 803.2h0M63.7 783.8h0M56.9 790.1h0M57.5 793.7h0M58.2 797.5h0M65.1 768.7h0M57.4 786.1h0M57.9 771.2h0M57.1 776.1h0M59.3 782.3h0M61.5 787.8h0M58.7 799.1h0M58.7 767.8h0M54.3 783h0M58.2 766.5h0M57.3 776.3h0M57.2 804.7h0M54.2 773.8h0M60.6 766.3h0M60 788.1h0M59.8 786.8h0M54.7 785.6h0M63.4 775.8h0M62.6 774.2h0M58.8 789.2h0M56 778.5h0M58.5 776.5h0M61.1 808.5h0M61.4 782.8h0M56.7 768.3h0M56.2 771.7h0M57.5 790.7h0M56.3 773.4h0M55 783.9h0M59.9 791.7h0M57.5 787.5h0M60.9 773.9h0M56.4 778.5h0M56.1 792.3h0M55.8 788.9h0M57.1 761h0M62.2 780h0M58.7 789.4h0M54.4 767.4h0M63 762.9h0M54.4 783.6h0M55 780.4h0M58.4 791.9h0M58.7 784.8h0M61.3 773.1h0M55.9 778.7h0M57.6 772.8h0M58.7 789.6h0M60.6 790.8h0M54.2 766.4h0M63.9 774.4h0M57.6 808.1h0M64.8 775.6h0M56.7 782.4h0M61.7 802.3h0M59.6 801.7h0M60.7 762.3h0M64.9 773.7h0M56.6 787.5h0M61.2 776.2h0M64.9 772.1h0M58.3 797.6h0M54.9 802.8h0M57.9 780.4h0M61.1 768.9h0M56.7 780.6h0M64.7 788.9h0M64.2 782.9h0M56.3 813.1h0M58.1 782.4h0M57.2 772.8h0M61.2 796.5h0M62.7 746.6h0M58.6 779.2h0M54.4 769.7h0M56.5 788.1h0M55.8 783.1h0M62.5 768.5h0M64.2 791.7h0M61.8 779.3h0M59.7 806.1h0M59 780.4h0M63 788.2h0M61.3 784.5h0M60.9 772.9h0M61.4 809.9h0M59.2 793h0M64 792.2h0M54.3 799.9h0M57.3 758.3h0M54.4 755.3h0M55.2 802.7h0M62.3 766.5h0M54.2 784.1h0M62.9 810.2h0M59.6 796.3h0M61.1 779.1h0M54.6 781.9h0M65.2 766.7h0M64.3 772.4h0M56 764.5h0M60.6 766.4h0M63.8 782.6h0M59.1 763.5h0M59.5 765.2h0M54.2 785.7h0M55 811.9h0M60.9 783.9h0M59.6 754h0M62.9 768.3h0M61.9 753.1h0M60.8 780.2h0M63.8 779.4h0M60.1 769.4h0M62.4 767.5h0M56 807.5h0M62.4 772.5h0M59.9 757.1h0M62.3 792.1h0M60 789.6h0M56.6 802.5h0M56.8 789.2h0M54.4 775h0M55.9 783.7h0M63.6 781.5h0M56.5 763.4h0M58.8 784.7h0M61.3 802.7h0M54.9 775h0M59.6 807.7h0M63.6 791.4h0M56.2 770.9h0M63.8 787h0M54.5 789.8h0M60.9 782.9h0M58 788.4h0M59.7 776.3h0M63.4 767.2h0M55 797.6h0M65.1 801.4h0M55.9 774.5h0M60.4 766.1h0M55.8 762.6h0M63.5 768.4h0M60.6 771h0M57 790.7h0M62.8 828.4h0M56 797h0M64.4 784.5h0M58.7 783.3h0M60.2 777h0M59.3 771.7h0M58.1 787.2h0M60.7 803.9h0M62.4 769.9h0M57.9 788.2h0M56.8 770.1h0M63.6 770.8h0M63.8 775.3h0M59.1 763.7h0M56.5 772.3h0M54.6 808.6h0M62.3 764.4h0M58.6 751.5h0M61 814.2h0M62.3 777h0M58 789.2h0M63 787.7h0M58.8 802.2h0M54.9 785h0M59.4 792.9h0M56.5 785.8h0M62.9 775h0M57.4 783.3h0M55.6 776.9h0M56 802.1h0M60.1 794.5h0M62.1 795h0M64.9 784.9h0M56.3 785.5h0M65.3 758h0M59.2 766.6h0M61.6 770.5h0M57.8 752.8h0M54.7 776.7h0M58.4 759.9h0M60.8 779h0M63.4 785h0M62.8 789.3h0M65.3 774.1h0M65 790.1h0M62.4 799.5h0M55.8 775.6h0M62.9 760.5h0M65.4 785.6h0M63 772.4h0M65.3 780.8h0M54.2 778.8h0M55.2 774.9h0M60.4 805.2h0M61 790.7h0M55.1 776.6h0M59.9 799.4h0M64.7 785h0M58.3 775.1h0M58.3 785.6h0M57.4 774.1h0M63.6 764.2h0M55.6 762.3h0M59.4 802.5h0M60.1 767.9h0M62.5 804.9h0M58.3 797.2h0M54.7 807.8h0M56.4 786.8h0M63.3 782.3h0M60.7 797.1h0M57.7 782.9h0M55 808.2h0M64.7 762.2h0M65 785.9h0M54.7 768.8h0M58.2 767.7h0M64.7 785.1h0M61.7 794.2h0M62.4 757.2h0M56.7 757.8h0M56.1 788.7h0M64.4 786.2h0M58.9 785.6h0M63.6 758.1h0M58.1 796.6h0M57.7 785h0M62.1 785.9h0M57.8 782.9h0M56.1 780h0M56.6 773h0M54.2 799.1h0M56.9 788.8h0M63.8 788.9h0M60.3 752.1h0M54.3 787.4h0M54.9 782.5h0M63.3 790.4h0M59.6 802.7h0M62.4 783.1h0M58 786.6h0M55 769.3h0M63 795.3h0M59 787h0M62.9 767.3h0M63.1 781.4h0M55.4 785h0M57 790.6h0M60 783.2h0M55.4 764.9h0M59.6 765.5h0M57 792h0M61.5 781.8h0M62.3 768.7h0M58.5 767h0M57.1 776h0M54.8 787.7h0M58.6 767.1h0M60 765.5h0M59.3 780.1h0M65 768.9h0M54.2 777.2h0M64.2 779.9h0M54.8 779.4h0M58.3 780.7h0M58.8 767.1h0M64.2 771.7h0M55.9 779.4h0M62.2 752h0M65.1 803.9h0M55 782h0M57 790.7h0M63.5 769.6h0M54.7 791.4h0M63.7 782.9h0M60.3 802.5h0M63.5 777.4h0M63.1 786.3h0M57.7 770.2h0M63 791.5h0M64.9 776.6h0M60.1 800.9h0M54.9 796.9h0M64.4 780.9h0M60.9 775.8h0M61.7 774h0M56.5 791.6h0M64.6 775.7h0M65 792.9h0M54.4 752.3h0M56.1 784.3h0M63.9 799.1h0M62.4 762.6h0M54.3 748.2h0M55 763.8h0M56.5 783.4h0M56 773.9h0M57.7 789h0M57.2 789.7h0M62.4 749h0M60 782.9h0M64.4 781.7h0M59.4 740.7h0M63.1 756.3h0M55.1 734.4h0M54.9 779.7h0M55.8 820.1h0M64 758h0M63.2 774.3h0M63.2 790.2h0M60.6 756.8h0M57.6 777.6h0M61.2 771.1h0M60.9 791.8h0M62.6 768.1h0M55 786h0M55.6 808.2h0M62.3 786.6h0M62.1 760.6h0M61.2 808.6h0M55 804.3h0M64.7 761.1h0M61.4 738.8h0M56.7 753.5h0M57.2 772.7h0M62.3 792.6h0M59.7 787.9h0M60 812h0M60.8 769.8h0M64.5 781.6h0M58 815.4h0M55.6 796.8h0M64.7 796.7h0M62.9 788.7h0M63.5 742.7h0M60.2 759.7h0M61.1 787.5h0M63.6 792.9h0M56.8 792.1h0M57.2 793.9h0M58.8 794.1h0M59.3 774.2h0M55.8 785.6h0M62.5 771.1h0M59.3 757.2h0M57.2 812.3h0M57 842h0M58 830h0M55 822h0M57 735h0" stroke="#A66BA6" stroke-width="1.5" stroke-linecap="round" stroke-opacity="0.8" fill="none"/>
<g stroke="#E7C858" stroke-width="0.8" fill="none"><path d="M86.6 766.7V789.3M86.6 809V831.8"/><rect x="77.2" y="789.3" width="18.8" height="19.7"/><path d="M77.2 799.4H96" stroke-width="1.1199999999999999"/></g>
<path d="M86.3 778.1h0M88.3 783.6h0M85.9 782.4h0M84.9 813.3h0M87.5 806.4h0M82.9 804.4h0M81.2 781.8h0M80.9 801.3h0M85.1 753.6h0M90.7 798.3h0M92.2 796.6h0M90.9 811h0M84.9 803.6h0M90.8 784.9h0M91.6 796.5h0M87.5 783.1h0M87.1 792.3h0M86.2 789.1h0M85 832.9h0M91.9 788.3h0M81.7 790.8h0M87.5 798.4h0M88.6 820.9h0M86.9 784.7h0M90.9 812.8h0M84.2 808.8h0M88.6 786.7h0M90.6 792.4h0M86.8 821.1h0M85.1 772.4h0M84.6 779.5h0M87.4 771.3h0M81.8 786.2h0M92.2 797.4h0M86.4 783.7h0M93 801.7h0M92.7 799.8h0M86.2 805.1h0M83.3 794.7h0M91.7 795.2h0M92.6 788.9h0M88 811.4h0M88.7 798.8h0M89.7 810.6h0M86.8 786.6h0M81 798.4h0M91.7 796.5h0M84 783.9h0M92.9 791.2h0M87.8 776h0M85.8 786.1h0M89.3 823.8h0M87.7 798.2h0M81.4 780.1h0M90.4 806h0M91.4 811.3h0M82.7 821.6h0M87.2 804.8h0M80.3 808.9h0M82.4 799.7h0M91.5 787h0M89.6 800.5h0M87.8 794.2h0M92.4 781.7h0M85.5 819.5h0M91.3 794.7h0M82.3 785.6h0M88.5 792.7h0M88.1 809.7h0M82.1 794.9h0M87.6 788.6h0M86.5 813.9h0M91.8 787.8h0M82.6 807.3h0M83 798.3h0M86 744h0M83 831h0M86 832h0" stroke="#E8C23A" stroke-width="1.5" stroke-linecap="round" stroke-opacity="0.9" fill="none"/>
<line x1="43.7" y1="725.8" x2="43.7" y2="847.4" stroke="#333" stroke-width="0.9"/>
<line x1="43.3" y1="847.4" x2="102" y2="847.4" stroke="#333" stroke-width="0.9"/>
<line x1="41.7" y1="734.3" x2="43.7" y2="734.3" stroke="#333" stroke-width="0.8"/>
<text x="40.5" y="736.8" font-size="7.2" text-anchor="end" fill="#4D4D4D">0.4</text>
<line x1="41.7" y1="763.5" x2="43.7" y2="763.5" stroke="#333" stroke-width="0.8"/>
<text x="40.5" y="766" font-size="7.2" text-anchor="end" fill="#4D4D4D">0.3</text>
<line x1="41.7" y1="792.4" x2="43.7" y2="792.4" stroke="#333" stroke-width="0.8"/>
<text x="40.5" y="794.9" font-size="7.2" text-anchor="end" fill="#4D4D4D">0.2</text>
<line x1="41.7" y1="821.4" x2="43.7" y2="821.4" stroke="#333" stroke-width="0.8"/>
<text x="40.5" y="823.9" font-size="7.2" text-anchor="end" fill="#4D4D4D">0.1</text>
<line x1="59.7" y1="847.4" x2="59.7" y2="849.4" stroke="#333" stroke-width="0.8"/>
<text x="59.7" y="856" font-size="7.0" text-anchor="middle" fill="#4D4D4D">CMV+</text>
<line x1="86.7" y1="847.4" x2="86.7" y2="849.4" stroke="#333" stroke-width="0.8"/>
<text x="86.7" y="856" font-size="7.0" text-anchor="middle" fill="#4D4D4D">CMV-</text>
<text x="73.1" y="866" font-size="9.2" text-anchor="middle" fill="#111" textLength="21" lengthAdjust="spacingAndGlyphs" font-weight="bold">CMV</text>
<text x="25.7" y="789.7" font-size="9.2" text-anchor="middle" fill="#111" textLength="47" lengthAdjust="spacingAndGlyphs" font-weight="bold" transform="rotate(-90 25.7 786.5)">cg15843262</text>
<rect x="130" y="712.2" width="60.7" height="12.5" fill="#fff" stroke="#9FB2D2" stroke-width="0.7"/>
<text x="160.3" y="720.8" font-size="6.9" text-anchor="middle" textLength="48" lengthAdjust="spacingAndGlyphs">Gene expression</text>
<text x="155.6" y="732.8" font-size="5.6" fill="#111" textLength="28.7" lengthAdjust="spacingAndGlyphs">P = 7.12e-5</text>
<g stroke="#B995B9" stroke-width="0.8" fill="none"><path d="M147.5 734V765.2M147.5 786.7V815"/><rect x="137.6" y="765.2" width="19.8" height="21.5"/><path d="M137.6 775.3H157.4" stroke-width="1.1199999999999999"/></g>
<path d="M147.9 775.1h0M145.4 787.7h0M147.5 784.9h0M148.8 769.1h0M147.8 790h0M151.7 775.9h0M150.2 791.4h0M152.3 784h0M150 794.9h0M145.8 767.5h0M144 769.6h0M149.9 761.6h0M151.4 779.3h0M144 781h0M146.7 778.3h0M143.8 766.1h0M144.5 798.5h0M144.1 777.1h0M147 757.7h0M151.3 789.4h0M147.4 747.2h0M147.3 804.6h0M149.7 776.3h0M143.1 776.1h0M142.8 788.9h0M148.5 790.9h0M148.6 796.1h0M149.1 770.2h0M153.2 766.2h0M152.9 786.9h0M142.3 767.3h0M151.2 776.9h0M149.6 774.8h0M144.3 769.6h0M145.6 767.6h0M147.7 767.2h0M151.6 754.8h0M148.5 780.2h0M151.7 792.6h0M150.5 773.1h0M146.2 780.6h0M151.4 769.3h0M146.7 776.8h0M145.3 765.1h0M146.9 760.6h0M147.6 770h0M144.8 786.1h0M145.1 779.5h0M151 756.7h0M147.7 784h0M149.4 763.7h0M148.4 776.6h0M147.6 790.7h0M148 785.1h0M148.3 766.4h0M151.9 760.2h0M146.3 764h0M149.3 790.1h0M143.5 788.6h0M142.9 777.5h0M147.6 769.8h0M146.5 768.3h0M146.9 780.7h0M144 795.5h0M145 783.2h0M149.6 784.9h0M152 751.3h0M149 753.9h0M143.7 760.8h0M145.4 754.7h0M146.7 794.3h0M145.3 775.5h0M144 766.1h0M146.5 755.1h0M145.6 773.7h0M152.6 752.7h0M147.4 753.3h0M145.1 786.9h0M150.2 794.1h0M147.5 764.5h0M145.1 784.4h0M150 767.3h0M145.2 783.3h0M146.3 786.5h0M146.4 762.5h0M147.3 774.7h0M146.9 774.6h0M141.8 790.9h0M146 790.6h0M152.1 779.2h0M148.7 767h0M150.4 798.5h0M151.8 808.2h0M152.8 776.3h0M141.9 792.3h0M150.7 777.2h0M149 767h0M143.4 790.9h0M149.5 783.3h0M145.4 757.8h0M146.5 781.8h0M143.3 777h0M149.2 786.8h0M142.7 779.8h0M143.9 770.5h0M147.2 777.4h0M144.3 795.5h0M150.5 782.9h0M143.1 768.2h0M145.9 771.6h0M145 782h0M151.2 781.2h0M143.2 790.9h0M143.9 773.3h0M146.1 805.3h0M146.4 775.2h0M151.3 778.4h0M147.6 756.7h0M144.2 798.2h0M147.9 783.5h0M143.5 800h0M151.9 774.8h0M150.8 786.2h0M144.4 782.6h0M150.6 781h0M152.6 782.3h0M147.5 779h0M146.5 774.5h0M148.5 771.7h0M144.2 774.7h0M149.1 778.5h0M152.5 793.1h0M152.1 774.2h0M151.8 775.4h0M152.6 781.9h0M148.8 755.6h0M142.2 786.6h0M152.8 754.6h0M142.9 786h0M142.8 784.3h0M143.8 784.7h0M152.1 775.3h0M151.4 768.4h0M144.8 784.6h0M146.1 784.2h0M151.2 793.7h0M145 804.1h0M150.4 773.3h0M144.8 767.5h0M143.8 781.7h0M142.4 791.4h0M144.7 781.5h0M150.1 773.1h0M146.5 775.8h0M144.6 795.1h0M146.5 787.6h0M152.5 764.4h0M145 767.7h0M150.4 765.3h0M145.8 786.5h0M150.3 771.8h0M150.5 748.2h0M151 776h0M150.8 758.7h0M151.5 780.1h0M151 786.1h0M152.7 778.5h0M143.8 772h0M147.4 783.9h0M151.4 764.4h0M143.8 797.6h0M143.5 792.5h0M143.9 798.7h0M149.7 780.9h0M146.1 787.7h0M147.5 770h0M148.1 759.3h0M147.6 769.6h0M149.1 781.3h0M146.1 800.2h0M151.8 769.2h0M146.2 773.3h0M141.9 771.2h0M151.2 774.8h0M147.4 767.6h0M151.5 783.6h0M146 776.6h0M144.6 754.4h0M142 741.5h0M144.5 788.8h0M144.3 758.3h0M142.5 778.7h0M149.6 774.1h0M146.6 777.3h0M148.5 776.6h0M146 785.3h0M151 761.4h0M151.5 781.6h0M151.3 789.9h0M142.4 776.1h0M150 768.1h0M143.2 774.3h0M151.1 765.3h0M143.7 757.9h0M150.6 767.4h0M150.1 756.8h0M148.6 780.6h0M147.7 765.9h0M153.2 779.8h0M152.1 751.9h0M153.1 796.8h0M150.6 782.6h0M145 787.8h0M143 778.2h0M145.2 774.1h0M150.7 777.5h0M147.6 767.9h0M141.9 766.4h0M143.4 788.8h0M146.3 777.1h0M146.3 768.5h0M153.1 762.2h0M150.1 779.8h0M146 754.8h0M146.7 780h0M150.4 769.1h0M151.7 799.2h0M149.4 790h0M150.4 767.1h0M143.9 747.9h0M149.6 748.4h0M148.5 770.6h0M152.5 784.3h0M147.6 775.1h0M151.1 780.8h0M146.3 786.7h0M151.8 765.8h0M148.7 761.3h0M146.9 765.3h0M152.8 780.6h0M145.3 802.8h0M142.5 797.7h0M143.7 768.7h0M150.8 772.3h0M152.6 770.9h0M142.2 796.2h0M148.1 777.9h0M146.6 763.8h0M144.8 772h0M148.5 769.8h0M142.6 790.4h0M150 768.9h0M144.8 773.9h0M144.7 774.3h0M153.2 754.5h0M142.3 755.1h0M149.9 761.3h0M142.5 766.9h0M141.9 765.3h0M141.8 771.1h0M148.4 777.8h0M149 771.3h0M152.9 797.7h0M145.6 782.7h0M144.6 806.7h0M151.4 789.1h0M148.9 791.1h0M144.8 756.8h0M145.2 773h0M151.4 778.2h0M150 782.4h0M148.3 759.7h0M142.1 761.8h0M147.1 774.8h0M145.2 778.5h0M147.2 787h0M143.9 798.9h0M150.3 792.2h0M149 770h0M142 783.4h0M146 807.3h0M143.7 777h0M149.3 767.8h0M151.2 793h0M152.2 769.5h0M144.2 765.4h0M145.5 777.1h0M145.3 779.1h0M147.2 773.4h0M149.1 784.1h0M151.1 767.6h0M147.7 753.4h0M150.7 790.5h0M152.4 785.8h0M152 808.8h0M146.1 779.8h0M146.4 749.4h0M148.1 767h0M146.8 759.2h0M143.6 789.5h0M143.1 815h0M145.7 800.9h0M142.9 775.5h0M144.1 777.8h0M148.8 806.9h0M153.1 764.3h0M150.2 754.7h0M153.1 743.7h0M143.4 782.6h0M148 767h0M152.6 782.4h0M143.1 762.9h0M145.1 752h0M153.1 767.1h0M150.8 786.6h0M152.8 771.8h0M148.4 773.5h0M146.2 791.4h0M142.3 787.4h0M148.4 764.4h0M152.6 766.5h0M150.2 774.1h0M141.8 797.5h0M146 778.7h0M144.7 794.4h0M144.8 778.6h0M142.5 784.6h0M149.3 767.2h0M143.9 782h0M149.3 753.1h0M142.7 771.8h0M148.6 777.5h0M144.1 776.5h0M151 777.5h0M152 770.3h0M142.7 796.8h0M146.3 791.3h0M146.4 796.6h0M143.8 748h0M145.4 773.8h0M152.7 783.9h0M146.2 762.3h0M145 772.6h0M147.5 779.3h0M149.1 774.3h0M151.1 788.7h0M149.2 762.2h0M151.7 774.8h0M147.9 786.4h0M148 783.3h0M144.3 776.9h0M152.4 767.9h0M151.4 778.9h0M149 789.4h0M146.3 788.3h0M142.5 758.3h0M146.1 781.9h0M145.3 776.5h0M150.8 755.3h0M142.5 781.8h0M141.8 749h0M152.9 783.2h0M151 781.8h0M152.6 760.1h0M144.8 788.8h0M149.9 759.2h0M144.1 759.9h0M142.1 760.5h0M144.5 786.3h0M143.5 781.6h0M142.3 787h0M151.4 776.2h0M147.7 788.6h0M143.7 770.1h0M151.6 771.2h0M142.1 758.7h0M153.2 755.1h0M148 765.2h0M146.4 768.4h0M152.8 774.7h0M145.1 757.1h0M143.2 769.8h0M150 791.3h0M145.8 777.2h0M152.9 768.9h0M152.5 777.5h0M148 759.3h0M148.3 774.2h0M143.3 771.1h0M151.9 773.5h0M148.4 760.2h0M149.2 780.8h0M143.4 758.1h0M149.7 802.6h0M145.7 768.9h0M143.6 759.9h0M151.1 771.4h0M143.7 787.5h0M150.1 800.4h0M149 773.6h0M142.6 794.9h0M144 790.5h0M145.4 776.2h0M150.7 754.4h0M147.4 783.5h0M152.4 783.1h0M144.4 769.5h0M149.8 787.9h0M150.9 771.2h0M152.4 768.1h0M149.4 767.2h0M143.6 776.4h0M149.2 778.8h0M148.1 765.1h0M149.1 807.9h0M150.5 778.8h0M148.2 778.6h0M146.7 784.9h0M150.2 788.2h0M152.3 758.4h0M147.8 785.1h0M142 783.7h0M151.6 791.3h0M152.3 756h0M141.9 789.9h0M144.3 778.5h0M151.3 795h0M151 744.5h0M141.9 783.3h0M149.8 801.3h0M151.2 787.7h0M149.8 778.4h0M148.2 787.4h0M148.1 792.1h0M147.8 798.3h0M150 767.5h0M148.2 774.4h0M145.2 757.2h0M151.9 774h0M148.6 732.6h0M150.4 787.3h0M144.3 767.8h0M152.6 745.5h0M147.5 787.2h0M149.1 785.4h0M142.9 772.4h0M141.8 778.8h0M145.6 788.3h0M143.6 768h0M147.7 760h0M144.6 792h0M148.1 751.2h0M143.5 765.5h0M149.8 798.2h0M150 784.9h0M153.2 770.1h0M150.6 763.6h0M144.1 762.2h0M145.4 773.2h0M147.9 748.3h0M148 766.8h0M150.3 770.2h0M146.6 784.3h0M148.8 784.3h0M143.6 772.1h0M148.9 772.4h0M153 777.8h0M146.1 782.3h0M149.4 764.3h0M148.3 781.3h0M150.7 792.5h0M151.1 758.4h0M143.8 748.3h0M146.2 781.4h0M147.2 774.7h0M149.2 758h0M144.1 767.3h0M142.7 785.4h0M149.2 785.4h0M151.8 751.5h0M146.4 750.5h0M145.4 787.8h0M151.3 794.1h0M147.2 774.6h0M153 772.4h0M147.4 776.1h0M150.7 788h0M143.5 780.8h0M151 798.8h0M151.9 774h0M142.7 757.3h0M145.5 777.4h0M142.7 788.2h0M151.3 798.3h0M147.9 775.9h0M148.9 754.2h0M144.6 794.4h0M149.7 769h0M145.2 792.1h0M143.3 769.9h0M147.4 784.3h0M142.1 779.6h0M149.1 771.7h0M148.1 785.7h0M147.5 786h0M144.7 750.7h0M147.9 781.5h0M148.2 774.2h0M142.8 759.3h0M146.3 798.3h0M144.3 774.8h0M145.6 768.8h0M152.6 789.9h0M151 744.4h0M145.9 808.2h0M142.7 767.5h0M144.1 753.9h0M143.8 772.8h0M148.1 767.3h0M149 769.2h0M153.1 785.8h0M143.1 781.8h0M144.5 797.1h0M144 793.3h0M148 771.6h0M148.4 775.4h0M148.9 759.5h0M149.7 772.8h0M142 783.5h0M143.2 765.4h0M144.8 798h0M152 785.1h0M145.7 782.4h0M145.4 763.1h0M151.6 774.8h0M151.1 782.8h0M149.5 780.9h0M151.8 769.2h0M147.3 756.8h0M151.6 780.5h0M149.5 776.4h0M146 767.3h0M151.3 774.3h0M148.8 771.8h0M150.8 775.3h0M153 800.4h0M151 788.2h0M143.5 775h0M142.1 767.1h0M143.8 786.6h0M148.6 758.6h0M150.2 774.4h0M142.1 786.5h0M142.8 753.3h0M142.1 768.8h0M143 760.7h0M148.6 791.3h0M151.4 788.8h0M146 788.8h0M143.4 778.5h0M143.3 786.6h0M148.8 786.7h0M145.3 762.9h0M146.9 792.4h0M145.6 771h0M148.8 779.6h0M152.8 759.4h0M145.3 765.9h0M142.7 777.1h0M152.6 763.3h0M145.1 776.2h0M145.5 766.9h0M144.7 784.8h0M149.6 782.1h0M149.1 762.9h0M148.3 774h0M149.9 753.4h0M143.3 782.1h0M150.9 789.5h0M148.9 764.8h0M152.4 759.8h0M145.7 760.7h0M145.5 781.7h0M144.7 793.6h0M144.5 765.7h0M142.6 787.8h0M147.9 771.5h0M147.4 769h0M150.6 784.1h0M143.4 783.9h0M151.9 767.3h0M150.9 764.2h0M151.6 802h0M151.9 789.3h0M152.1 787.5h0M143.1 790h0M143.2 794.8h0M150.7 766.2h0M149.3 763.6h0M146.2 789.7h0M146.8 770.1h0M147.3 774.4h0M145.8 766.5h0M144.9 771.9h0M148 793.3h0M147 757h0M151.9 739.6h0M151.7 776.5h0M149.4 806.4h0M146.7 791.2h0M144.1 805.7h0M142.5 785.2h0M145.9 785.9h0M152.4 786h0M144.3 786.2h0M146.5 789.6h0M147.7 789.1h0M152.6 789.2h0M146 762.6h0M147.3 759.8h0M145.9 749.5h0M144.6 766.6h0M142.9 774.7h0M147 784.4h0M142.6 782.5h0M147.6 780.4h0M146.1 790h0M150.7 748.4h0M150.3 780h0M147.3 790.1h0M148.5 779.8h0M147.2 776h0M151.2 764.2h0M146.5 762.5h0M149.6 776.5h0M144.6 744.9h0M151.1 764.5h0M142.4 798.8h0M146.7 745.2h0M146.7 774.2h0M149.9 784.1h0M141.8 762.7h0M145 775.6h0M147.4 774.3h0M147.9 765.4h0M147.9 779.5h0M149.6 797.4h0M151.3 774.8h0M149.8 783.7h0M145.1 767.7h0M143.4 768.9h0M146.8 780.1h0M150.8 758.6h0M148.6 768.1h0M144.5 758.4h0M148.4 781.2h0M151.8 764.6h0M142.3 760.6h0M148.3 755h0M145.8 755.3h0M142 748.3h0M151.7 758h0M143.5 782.8h0M144.8 776.1h0M146 754.6h0M143.7 783.5h0M148.8 773.9h0M148.5 775.4h0M152.6 776.4h0M150.1 794.7h0M152.8 745.4h0M149 798.4h0M150.3 778.1h0M150 809.9h0M147.7 781.4h0M150.1 763.8h0M148.9 776.6h0M147.8 773.6h0M147.7 776.2h0M152.7 793.2h0M147.1 784.4h0M152.8 773.8h0M143.6 764.5h0M149.3 768.1h0M151.9 790.2h0M152.6 785.6h0M143.7 768h0M142.6 796.7h0M150.5 777.8h0M147.1 809.3h0M147.1 779.5h0M148.6 787.3h0M151.2 734.2h0M146 783.3h0M151.3 756.3h0M151.5 772.3h0M146.5 785.1h0M148.6 763h0M148.8 747.8h0M153.1 789.2h0M153.1 791.5h0M144.4 754.1h0M151.3 775.6h0M148.6 759.6h0M151.4 774.4h0M148.5 777.7h0M152.2 785.4h0M144.6 772.9h0M147.5 803.3h0M145.2 769.1h0M144.3 763.6h0M147.3 768.4h0M146.5 800.5h0M152.1 777.3h0M150.7 781.8h0M151.5 759h0M152.9 789.9h0M146.2 771.4h0M149.4 772h0M142 779.5h0M145.5 780.3h0M151.4 762.2h0M149.7 775.6h0M148.8 779.6h0M149.5 746.1h0M144.3 786.3h0M145.4 778.3h0M144.4 782.6h0M149.4 758h0M149.5 782.9h0M149.2 773.6h0M152.1 773.4h0M145.8 773.5h0M144.5 795.7h0M143.4 784.7h0M145.1 775.9h0M145 780.2h0M142.2 768h0M142.7 774.5h0M148.3 770.6h0M147.8 750.1h0M152.1 800.3h0M151.7 763.9h0M147.5 782.4h0M147.2 758.7h0M149.7 791.9h0M149.1 798.9h0M143.4 773h0M143.3 795.3h0M142.6 767.7h0M145.1 801.8h0M147.6 764.8h0M144.3 750.7h0M150.4 793.4h0M150.8 746.1h0M143.6 775.8h0M145.4 754.7h0M148.9 748.1h0M144.9 776.1h0M142.8 766.7h0M151 743.9h0M146.8 781.1h0M150.7 814.8h0M147.6 772.1h0M149.3 794.7h0M152 767.8h0M150.8 802.5h0M149.7 807.8h0M152.1 772.9h0M145 762.8h0M148.3 813.2h0M143.1 760h0M145.5 763h0M142.7 783.1h0M143.9 786.6h0M147.3 801.5h0M142.7 824.8h0M149.2 799.2h0M145.8 765.3h0M152.1 795.1h0M143.5 786.2h0M143.8 760.4h0M151.4 742.2h0M146.2 748.9h0M150.1 803h0M146.3 760.8h0M147.4 783.4h0M144.5 786h0M151.9 803.9h0M142.9 778.4h0M142.9 781h0M151.5 778.5h0M146.6 766h0M152.3 777.7h0M150.8 789.4h0M148 785.6h0M147 774.7h0M146.1 816.4h0M149.8 779.6h0M142.9 815h0M146 838h0M152 830h0M150 824h0M146 730h0" stroke="#A66BA6" stroke-width="1.5" stroke-linecap="round" stroke-opacity="0.8" fill="none"/>
<path d="M150.1 765.5h0M142.5 747.5h0M149.4 779.7h0M143.5 777h0M147.4 782.9h0M143.3 779.8h0M150.5 765.1h0M148.1 757.6h0M143 783.1h0M144.8 782.4h0M146.9 778.9h0M152.2 784.3h0M148.6 777h0M152.9 769.9h0M145.5 781.9h0M152.3 768h0M144.3 768h0M148.1 762.9h0M144.7 790.8h0M148.6 760.9h0M143.5 764.4h0M142 782.3h0M144.2 771.8h0M149.5 773.9h0M147.6 779.3h0M148.9 771.3h0M145.1 778.5h0M144 762.5h0M153 781.3h0M143 767.4h0M149.6 800.2h0M146.7 785.8h0M149.6 761.9h0M146.5 755.2h0M150.4 764.7h0M142.9 763h0M142.1 776.2h0M146.4 777h0M147.4 790.1h0M147.1 780.4h0M151.7 787.7h0M142 799.7h0M145.8 792.3h0M144.6 771.9h0M144.3 775.6h0M149.4 768h0M148.2 769.9h0M149.6 761.9h0M143.8 802.5h0M146.6 781.5h0M146.7 781.6h0M142.8 776.2h0M151.1 796h0M148.5 765.4h0M143.9 777.9h0M152.1 768.4h0M152 782.6h0M142 778.5h0M144.4 773.2h0M142.1 781.1h0M142.3 783.5h0M151.3 761.3h0M148.7 786.7h0M147.5 753.7h0M144.1 795.5h0M141.9 771.6h0M148 785h0M149.7 788.1h0M141.9 774.1h0M146 776.3h0M151.8 778.6h0M142.1 773.4h0M141.8 787.6h0M145.8 763.5h0M146.2 756.5h0M151.5 772.9h0M150.1 796.7h0M147.8 794.7h0M147.3 788.4h0M151.2 784.8h0M143.4 779.5h0M150.5 742.9h0M148.9 773.7h0M152.1 756.6h0M151.4 757.9h0M143.5 783.2h0M150.8 795.8h0M148.7 784.1h0M147.7 768.1h0M145.8 794.3h0M145.4 788.2h0M149.7 788.1h0M150.2 771h0M151.4 765.5h0M148.6 779.8h0M151.3 794.9h0M151.2 781.3h0M143.4 753h0M151.4 786.9h0M145.3 796.4h0M144.8 770.3h0M149.5 771.4h0M144 793.5h0M146.1 769.4h0M152.8 776.9h0M146.3 768.7h0M142 749.4h0M144.8 797.2h0M151.8 801.2h0M148.2 786.1h0M145 763.8h0M152.3 778.7h0M148.9 783h0M151.2 787.1h0M144.1 786.3h0M144.5 779.3h0M143 770.5h0M147.2 767.5h0M144.9 793h0M148.2 782.9h0M152.6 794.9h0M148.9 778.2h0M150.9 769.3h0M144.5 782.7h0M147.7 781.3h0M143.8 780h0M151.5 778.6h0M148 780.9h0M142.2 776.7h0M148.7 780.6h0M146 766.2h0M146.4 759h0M146.2 779.4h0M149.7 787.6h0M145.1 795.4h0M144.9 781.4h0M152.2 779.6h0M148.1 788.8h0M152.7 760.4h0M142.2 754.3h0M144.7 777.3h0M152.4 775.8h0M151 768.9h0M148.1 753.1h0M142.7 778.3h0M146.4 783.5h0M143.8 800.5h0M148.2 786.3h0M147.1 783.6h0M150.6 773.1h0M143.7 770.8h0M146 788.7h0M145.4 767.8h0M142.8 767.1h0M147.2 782.6h0M143.4 772.9h0M144.6 783h0M152.2 779.3h0M148.6 762.2h0M142.4 774h0M151.6 789.6h0M151.4 790h0M151.7 758.9h0M153 767.5h0M143.5 756.1h0M146 774.7h0M145.5 768.7h0M152.8 783.9h0M149.4 763.5h0M150.1 769.3h0M152.7 769.4h0M145.7 775.5h0M151.7 787.6h0M149 775.9h0M147.8 793h0M144 781.7h0M145.7 761.6h0M145.6 795h0M152.8 771.9h0M149.4 764.2h0M151.9 772.1h0M143.2 777.1h0M148 784.1h0M147.4 775.6h0M150.3 768h0M143.6 773.7h0M147.7 769.7h0M144.3 770.4h0M150.1 777.4h0M149.3 762.8h0M143 763.6h0M143 774h0M147.8 752.3h0M148.8 772h0M149.3 783h0M151 776.3h0M151.2 783.9h0M147.4 777h0M149.6 760.6h0M145.4 786.1h0M152.7 777.1h0M144.5 780.9h0M147 799.5h0M151.6 776.9h0M147 788.5h0M146.3 761.2h0M146 759.6h0M149.3 768.6h0M148.1 782.7h0M142 777h0M146.3 792.6h0M148.7 758.6h0M142.6 766.4h0M147.1 781.8h0M145.5 786.6h0M151.5 772.5h0M150.4 771.6h0M145.6 761.1h0M144.7 794.3h0M146.4 760.1h0M144.2 774.9h0M149.7 774.4h0M152.2 759.2h0M142.2 785.4h0M144.3 785.6h0M145.6 770h0M146.6 785.8h0M145.3 788.1h0M146.4 778.5h0M150.2 792.1h0M147.5 781.8h0M143.1 789.1h0M144.5 777.1h0M146.2 778.6h0M142.1 779.1h0M151.3 792.2h0M142.6 794.6h0M144.2 785.9h0M151.4 801.1h0M146.4 787.2h0M147.6 791.5h0M146.6 759.9h0M142 779.6h0M144.8 770.8h0M150.7 763.6h0M146.6 791.9h0M143.8 793h0M150.6 818.7h0M151.9 793.8h0M147 783h0M147 793.7h0M150.3 775.2h0M146.3 799.2h0M144.7 766.3h0M152.2 745.7h0M145.5 783.9h0M152 770h0M146.5 761.4h0M151.6 782.3h0M144.1 785.5h0M143.2 757h0M144.9 788h0M146 758.8h0M148.3 791.4h0M150.2 773.4h0M153 763.8h0M149 786.6h0M142.2 768.3h0M146.3 780.8h0M146.2 781h0M152.1 762.5h0M151.7 781.1h0M144.9 769.7h0M149.8 798.1h0M152.5 795.7h0M151.6 764.5h0M148.6 771.2h0M151.1 781.4h0M147.5 754.6h0M143.1 775.1h0M149.5 769.6h0M150.5 769.7h0M147.8 793.5h0M142.1 761.6h0M147.5 772h0M146 788.6h0M148.4 771.3h0M147 781.5h0M145.1 774.5h0M144.7 784.7h0M141.9 784.8h0M145.7 773.8h0M150.6 804.6h0M152.5 782.4h0M144.9 796.9h0M145.2 776h0M151.9 787.6h0M144.1 781.3h0M146.2 766.9h0M145.9 785.4h0M145.1 788.7h0M142 782.9h0M148.2 773.9h0M148.9 786.1h0M144.3 778.6h0M147.8 778.4h0M148.4 782.7h0M144.4 748h0M150.5 784.8h0M150.4 775.7h0M144.9 783.7h0M147.4 775.7h0M151.9 761.5h0M152.6 776.1h0M148.8 773.8h0M153.1 777.9h0M146.6 770.7h0M147.5 779.6h0M148.6 756.9h0M149.1 770.4h0M145.6 776.2h0M147.1 783.5h0M146 769.2h0M142.8 783.4h0M145.9 762.2h0M143.8 773.9h0M150.8 793.9h0M149.9 772.1h0M144.4 784h0M143.1 814.6h0M143 771.1h0M148.6 784.2h0M153.1 791.4h0M150.9 775.8h0M151.6 781.2h0M148 778.8h0M145.2 776.9h0M141.9 773.6h0M146.9 767.9h0M147.5 775.2h0M146.6 771.7h0M146.9 783.2h0M146.9 795.6h0M146.8 783.1h0M145.4 769.4h0M142.4 774.7h0M151.6 783.5h0M152.6 772.6h0M147.8 759.1h0M149.6 778.5h0M148.3 776.7h0M143.9 767.5h0M146.2 777.3h0M150.4 767.2h0M147.2 799.7h0M144.4 794.3h0M147.7 775.1h0M141.8 789.3h0M143.5 789.1h0M147.5 789.4h0M149.5 743.3h0M152 758.6h0M144.9 773.5h0M147.3 754.7h0M143.7 776h0M149.8 782.7h0M148.1 782.4h0M145.1 776.1h0M152.8 764h0M143.2 761.8h0M152 765.8h0M146.9 762.6h0M145.4 818h0M150.3 772.1h0M147.6 763.5h0M147.1 787.9h0M148.1 795.3h0M145.5 766.2h0M149 763.3h0M151.6 770.6h0M150.2 776.3h0M143.1 792.4h0M142.7 756.8h0M143.8 780.6h0M153 767.9h0M144 775.4h0M150.1 775.4h0M147.1 783h0M144.9 756.5h0M145.1 780.6h0M143 776.1h0M148.1 767.6h0M151.4 782.7h0M149.3 800h0M142.6 766.5h0M144.3 778h0M142.5 770.3h0M144.4 773.3h0M142.8 773.4h0M142.7 767h0M152.7 778.7h0M147.4 766.6h0M149.5 785.4h0M147.7 781.3h0M143.4 760.8h0M148.2 765.5h0M144.7 769.6h0M142.5 766.8h0M144.9 779.7h0M146.9 786.7h0M142.5 772.4h0M146.8 778.7h0M151.6 797.3h0M149.5 788.2h0M150.3 782.6h0M144.1 774.4h0M142.9 785.4h0M151.7 767.4h0M148.8 776.6h0M141.8 752.7h0M152.7 774.9h0M142.1 758.6h0M143.6 770.6h0M146.5 764.5h0M144.4 797.6h0M148.7 769.2h0M151.1 792.5h0M145.8 777.2h0M148.8 774.3h0M149.5 768.7h0M150.1 773h0M152 782h0M144.4 765.7h0M151.5 783.1h0M148.9 758.6h0M142.6 782.5h0M142.8 749.9h0M150.7 749.8h0M144 780.6h0M142.8 776.6h0M145 767.7h0M145 790.4h0M144.5 780.3h0M145.6 776.4h0M151.6 794.7h0M149.8 784.6h0M152.2 778h0M150.1 801.7h0M144.1 791.6h0M145.2 786.3h0M147.9 767.9h0M153.1 778.3h0M152.5 791.8h0M145.5 787.7h0M148.2 764.3h0M146.5 782h0M146.3 789.9h0M149.8 779.7h0M151.2 780.9h0M152.6 779h0M143.1 759h0M141.9 761.3h0M150.6 746.9h0M142.2 795.8h0M152.8 774.1h0M146.1 781.1h0M152 764.2h0M148.9 776.1h0M145.4 779.5h0M148.8 769.7h0M142.5 763h0M148.9 802.9h0M151.6 745.5h0M151.9 771.6h0M144.1 754.1h0M152.4 755.6h0M146.6 766.3h0M145.2 774.3h0M150.6 774.9h0M148.1 780.5h0M150.4 783.4h0M144.9 764.9h0M144.4 784.7h0M153.1 776.6h0M143.6 792.5h0M149.3 791h0M146.1 768.1h0M150.1 774.9h0M148 769.4h0M151.3 775.9h0M146.2 770.2h0M143.3 751.9h0M147 761.5h0M150.8 786.2h0M142.6 778.8h0M144.3 753.6h0M144.2 781.5h0M147.5 771.7h0M146.7 786.5h0M145.5 764.8h0M142 776.1h0M150.5 775.1h0M145.6 798h0M150.9 770h0M145.6 782.8h0M148.2 773h0M152.7 786.9h0M150.2 784.8h0M152.6 790.3h0M142.3 767.9h0M151 806.1h0M153.1 771.5h0M147.6 748.4h0M142.1 759h0M150.2 753.8h0M143.3 780.5h0M151.2 763.9h0M146.8 794.5h0M148.1 791.8h0M147.2 780.3h0M148.1 761.4h0M151.2 786.4h0M143.8 778.3h0M147.7 788.6h0M153 785.6h0M150.8 796.5h0M150.5 793h0M147.9 784.6h0M149.2 753.5h0M145.2 767.8h0M142 766h0M149.8 792.5h0M151.7 754.8h0M152.2 778.8h0M142.5 766.1h0M145.5 775.7h0M148.2 795.3h0M147.3 778.2h0M146.3 769.9h0M146 807.9h0M150.9 782h0M144.6 770.5h0M143.4 776.6h0M150.5 790.2h0M147.4 766.5h0M148.6 757.1h0M148.3 782h0M152.2 770.8h0M143.4 757.9h0M148.6 799.6h0M152.4 764h0M151.4 776.6h0M148.4 766.9h0M149.3 776.4h0M148.7 775.4h0M146.8 776.2h0M143.8 775.6h0M142.8 757.9h0M143.1 768.5h0M145.7 755.6h0M147.7 772.2h0M149.6 778.5h0M149.4 789.9h0M152.9 777.5h0M141.9 783.8h0M145.4 765.1h0M150.9 785.8h0M144.5 763.9h0M144 776.3h0M145.4 767.4h0M149.7 736.9h0M147.9 758.5h0M147.8 771.9h0M152.2 782.5h0M144.4 789.3h0M145.1 777.4h0M151.1 771.7h0M146.7 769.1h0M147.3 763.4h0M145.2 760.6h0M142.9 742.2h0M149.1 796.5h0M149.1 769.7h0M145.8 767.8h0M152.2 764.8h0M152.7 781.7h0M148.3 771.6h0M143.6 781.8h0M143.4 784.2h0M146.2 781.4h0M144.6 761.7h0M147.6 766.6h0M152.1 780.3h0M142.3 768.8h0M146.3 776.4h0M142.3 757.1h0M143.1 780.7h0M143 781.2h0M146.6 786.8h0M150.3 770.1h0M146.4 777.3h0M146.7 790.9h0M151.1 769.6h0M146.8 791h0M151 794.1h0M148.5 803.1h0M142.4 777.8h0M149.1 777h0M152 791.6h0M142.8 766.8h0M142.4 763.2h0M152.3 796.2h0M145.1 781.4h0M147.7 763.9h0M150.8 776.7h0M151.8 773.8h0M149.6 763.5h0M148.2 791.9h0M142.3 766.4h0M151.4 773.8h0M152.9 773.8h0M145.3 779.8h0M146.7 803.9h0M145.5 779.3h0M146.2 789.2h0M143.9 769.4h0M145.9 785.3h0M151.2 766.1h0M144.4 796.3h0M152.2 778.5h0M151.3 786.2h0M146.6 789.5h0M150.8 784.9h0M144.3 769h0M152.2 791.4h0M147.7 790.5h0M148.7 776.7h0M144.7 768h0M142.6 797.1h0M147.7 773.6h0M142.5 762.3h0M144.5 757.2h0M144.7 766.2h0M144.5 782.2h0M142.4 770.2h0M151.9 753.7h0M149.6 799.1h0M149.8 785.2h0M145.3 757h0M148 777.8h0M146.9 796.5h0M142.5 779.7h0M146.8 757.7h0M145.6 792.1h0M143.4 772.9h0M150.7 766.9h0M147.9 769.1h0M144.8 742.5h0M151.1 789.7h0M144.6 787.5h0M148.5 770.9h0M153 761.9h0M149.4 766.1h0M151.1 740.1h0M152.2 790.8h0M151.2 768.5h0M142.2 777.4h0M142.6 774.8h0M150.9 778.9h0M149.3 769.9h0M151.6 782.4h0M145.1 800.6h0M143.8 782h0M150.8 755.3h0M152.3 780.4h0M143.2 781.9h0M143.9 763.3h0M147.7 804.9h0M146.1 771.4h0M146.8 779.5h0M143.7 784h0M151.3 785.5h0M145.6 782.2h0M151.5 800.6h0M148.6 796.8h0M146 792.6h0M145 753.2h0M153.1 779.3h0M144.4 743.7h0M145.9 777.8h0M153.1 769.8h0M143.4 778.6h0M147.7 764h0M148.6 781.7h0M148.4 781.2h0M149.3 738.9h0M144.3 763.4h0M143.7 778.7h0M144.4 783.5h0M145.8 768.7h0M148.2 792.4h0M143.3 764.7h0M150.2 779h0M149.3 763.9h0M152.2 783.2h0M151 790.5h0M148.5 782.6h0M145.1 760.9h0M141.8 763.1h0M147.1 780.3h0M150.9 781.5h0M149.6 777.2h0M147.6 777.5h0M148 791.3h0M150 784.8h0M141.9 767.4h0M151.6 770.9h0M143.3 801.8h0M144 791.5h0M147.5 776.1h0M145.7 773.9h0M146.6 789.1h0M149.1 795.4h0M143.9 771.3h0M152.8 774.3h0M143 772.1h0M150.4 749.9h0M152.6 773.2h0M146.2 794.3h0M151 776h0M146.3 771.2h0M151.2 782.7h0M149.2 780.6h0M145.8 780.1h0M142.5 790.5h0M142.3 783.3h0M151.2 769.8h0M148.4 814.5h0M143.4 785.8h0M143.5 765.9h0M144.8 775.5h0M145.9 779.1h0M148.8 785.8h0M146.1 778.3h0M144.7 774.4h0M145.9 775.4h0M152.8 781.3h0M142.4 777.2h0M142.6 754.4h0M145.2 760.7h0M146.9 776.7h0M149.3 797.1h0M151.1 756.7h0M146.7 760.3h0M151 745.7h0M146.1 772.5h0M149.7 781.2h0M143 737.1h0M147.3 730.5h0M145.3 786.2h0M150 730.2h0M142.9 784.9h0M144.8 768.5h0M142.7 752.6h0M148.8 801.8h0M148.5 780.9h0M143.2 775.7h0M144.3 802.6h0M142.9 765.4h0M149.6 754.9h0M143.1 768.3h0M143.1 751.5h0M143 790.4h0M149.8 780.8h0M149.9 789.4h0M149.4 785.2h0M151.2 761.5h0M144.3 760h0M147.3 811.1h0M144.7 762.2h0M143.8 740.9h0M146.7 760.3h0M152.5 787.3h0M151.3 772.8h0M143.4 787.5h0M143.1 766.6h0M150.1 748h0M143.9 785.6h0M145.4 778.2h0M148.8 740.5h0M145.2 795.6h0M144.7 772.9h0M146.9 762.3h0M149.6 747.2h0M144.3 769.8h0M144.6 770.4h0M151.9 751.1h0M148.5 797.2h0M147.8 754.9h0M144 843h0M144 832h0M147 826h0M145 733h0" stroke="#A66BA6" stroke-width="1.5" stroke-linecap="round" stroke-opacity="0.8" fill="none"/>
<g stroke="#E7C858" stroke-width="0.8" fill="none"><path d="M175 736.8V758.3M175 778.6V802"/><rect x="165.3" y="758.3" width="19.4" height="20.3"/><path d="M165.3 768.2H184.7" stroke-width="1.1199999999999999"/></g>
<path d="M171.3 777.9h0M173.7 763.1h0M171.4 769.7h0M175.1 761.7h0M177.7 778.1h0M179.1 757.7h0M172 794.5h0M179.8 757.1h0M181.1 769.1h0M180.9 787.1h0M176.6 774.5h0M175.5 741h0M179 778.4h0M172.8 769.9h0M168.8 775.8h0M174.6 748.1h0M170.6 797.7h0M175 749.5h0M176.9 785.1h0M172.2 754.7h0M181.2 754.5h0M171.4 779.7h0M178.5 761.1h0M169.3 794.6h0M176.6 787.2h0M169 775h0M176.6 763.3h0M169.5 764.1h0M179.5 774.7h0M180.9 773.7h0M175.1 763.8h0M171.8 770h0M173.2 771.9h0M176.2 781.8h0M170.9 760.8h0M177.7 768.7h0M175.2 780h0M179.8 776.1h0M175.5 736.3h0M168.9 777.7h0M176.3 763h0M173.4 782.4h0M175.5 764.4h0M180.5 756.4h0M172.8 757.2h0M180.6 751.9h0M175.1 770h0M174.6 779.5h0M180.4 775.5h0M172.9 771.4h0M172 756.1h0M171 794.8h0M180.8 748.4h0M179 772.7h0M179.1 750.5h0M178.6 772.2h0M178.6 769.2h0M172.6 775h0M169.6 756.4h0M172.8 758.6h0M172.1 742.8h0M175 758.7h0M175.3 755.3h0M173.8 764.2h0M171.4 756.1h0M173.7 772.5h0M172.3 769.4h0M173.6 778.8h0M175.9 780.6h0M176.7 763.5h0M173.4 780.6h0M173.1 777h0M169 750h0M178.3 786.3h0" stroke="#E8C23A" stroke-width="1.5" stroke-linecap="round" stroke-opacity="0.9" fill="none"/>
<line x1="130.4" y1="725.7" x2="130.4" y2="847.3" stroke="#333" stroke-width="0.9"/>
<line x1="130" y1="847.3" x2="191.3" y2="847.3" stroke="#333" stroke-width="0.9"/>
<line x1="128.4" y1="760.6" x2="130.4" y2="760.6" stroke="#333" stroke-width="0.8"/>
<text x="127.2" y="763.1" font-size="7.2" text-anchor="end" fill="#4D4D4D">10</text>
<line x1="128.4" y1="801.8" x2="130.4" y2="801.8" stroke="#333" stroke-width="0.8"/>
<text x="127.2" y="804.3" font-size="7.2" text-anchor="end" fill="#4D4D4D">9</text>
<line x1="128.4" y1="843.1" x2="130.4" y2="843.1" stroke="#333" stroke-width="0.8"/>
<text x="127.2" y="845.6" font-size="7.2" text-anchor="end" fill="#4D4D4D">8</text>
<line x1="147.3" y1="847.3" x2="147.3" y2="849.3" stroke="#333" stroke-width="0.8"/>
<text x="147.3" y="856.6" font-size="7.0" text-anchor="middle" fill="#4D4D4D">CMV+</text>
<line x1="174.8" y1="847.3" x2="174.8" y2="849.3" stroke="#333" stroke-width="0.8"/>
<text x="174.8" y="856.6" font-size="7.0" text-anchor="middle" fill="#4D4D4D">CMV-</text>
<text x="161.2" y="866.1" font-size="9.2" text-anchor="middle" fill="#111" textLength="21" lengthAdjust="spacingAndGlyphs" font-weight="bold">CMV</text>
<text x="113.6" y="789.7" font-size="9.2" text-anchor="middle" fill="#111" textLength="38" lengthAdjust="spacingAndGlyphs" font-weight="bold" transform="rotate(-90 113.6 786.5)">DNMT3A</text>
<text x="201" y="705.8" font-size="18">I</text>
<rect x="230.8" y="712.6" width="119.2" height="12" fill="#fff" stroke="#9FB2D2" stroke-width="0.7"/>
<text x="290.4" y="721" font-size="6.9" text-anchor="middle" textLength="107" lengthAdjust="spacingAndGlyphs">Gene expression ~ DNA methylation</text>
<text x="258.5" y="731.3" font-size="5.6" fill="#111" textLength="31" lengthAdjust="spacingAndGlyphs">P = 8.53e-12</text>
<path d="M283.5 800.5h0M314.7 772.5h0M309.6 798.4h0M288.8 797.5h0M292.4 765.4h0M316.4 789.7h0M304.3 775.8h0M287.8 757.6h0M303.2 771.8h0M290.3 767h0M308.2 782.6h0M282.8 774h0M285.2 781.7h0M301.4 763.6h0M324.8 773h0M328.4 765.6h0M290.2 781.6h0M313.8 780h0M309.3 770.4h0M293.9 750.3h0M293.7 776.1h0M325.5 792.6h0M311.2 763.7h0M294.3 775.3h0M285.3 781.8h0M292.1 753.2h0M282.3 799.9h0M298 789.9h0M280.2 749.1h0M294.3 770.8h0M274.8 789.2h0M307.6 771.8h0M286 803.1h0M288.7 781.4h0M265.8 783.8h0M307.8 804.8h0M302.8 776.2h0M300.7 775.8h0M292.3 797.6h0M282.5 777.9h0M269.6 778.4h0M307.5 787.1h0M307.6 775.4h0M317.4 766.3h0M311.8 764.9h0M280.7 765.4h0M298.6 788.5h0M315.2 751.5h0M305.4 815.8h0M286.1 748.7h0M326.1 788.5h0M309.8 771.8h0M300.6 767.7h0M288.8 804.6h0M310 772.1h0M270.1 782.9h0M295.9 777.5h0M304.7 770.2h0M290.9 776.3h0M295.9 795.4h0M295.8 782.6h0M286.9 762h0M305.1 775.8h0M294.6 777.5h0M289.9 751.8h0M311.7 751.9h0M278.9 788.9h0M313.7 767.9h0M312.6 775.2h0M305.7 792.3h0M320.7 782.8h0M278.8 762h0M277.9 770.5h0M286.9 789.6h0M309 784.2h0M309.1 792.8h0M281.1 778.1h0M310 804.7h0M290.1 799.4h0M304.3 777.2h0M303.9 756.1h0M288.8 769.6h0M274.1 753.3h0M278.8 759.7h0M289.3 807.2h0M290.5 789.8h0M280.2 768.1h0M282.4 768.5h0M314.4 785h0M289.6 772.9h0M277.9 774.1h0M278.1 765.1h0M297.9 769h0M278.4 740.9h0M282.7 746.1h0M313.3 803.2h0M300.7 756.7h0M274.9 756.7h0M274.5 766.4h0M304.9 771.7h0M311 769.1h0M300.2 786h0M284.4 747.2h0M281.7 767.7h0M284.7 770.4h0M309.7 792.1h0M294.4 770.8h0M314.1 753.7h0M298.9 749.3h0M297.6 798.5h0M295.8 761.6h0M280.8 768.5h0M282.2 773.6h0M308.8 764.3h0M297.1 782.6h0M266.2 743.5h0M283.4 771.3h0M288.6 772.3h0M286.4 782.1h0M289.7 750.5h0M283.4 771.7h0M270.2 766.8h0M282.2 781.2h0M309.4 758.7h0M309.3 800.1h0M307.4 766.5h0M309.9 811.8h0M300.2 780.5h0M297.5 769.8h0M306.9 752.7h0M308.8 772h0M295.3 766h0M276.3 751.6h0M302.6 778.4h0M325.3 752.3h0M293.6 780.5h0M302 768.4h0M268.6 767.5h0M275.6 773.5h0M298 802.4h0M307.9 746.8h0M296.8 792.6h0M281.6 760.9h0M287.2 787.1h0M277.9 758.5h0M264.5 775.1h0M283.9 759.7h0M300.4 786.7h0M300.3 792.2h0M297.5 807.4h0M288.7 764.1h0M274.2 772.9h0M298 771.6h0M293.1 752.1h0M287.4 759.3h0M303.1 767.8h0M305.9 762.6h0M284.1 782.9h0M269.2 775.9h0M294 758h0M305.7 783.1h0M290.1 761.8h0M302.6 768.8h0M302.3 770.3h0M301.5 752.9h0M274.6 744.3h0M306.7 783.5h0M270.6 754.2h0M305.2 747h0M291.8 778.4h0M280.5 786.9h0M312.3 768.3h0M295.1 764.8h0M324.8 786.8h0M292 762.8h0M281.4 752h0M289.6 770.1h0M316.3 764h0M302.2 780.5h0M287.1 753.9h0M302.1 787.3h0M287.1 753.7h0M295.6 758.2h0M311.8 775.1h0M294.3 786.6h0M272 771.3h0M291.7 772.9h0M300.7 761.8h0M300.5 734.9h0M295.7 778.3h0M318.7 759.1h0M309.9 797.6h0M296.2 799.8h0M305.8 779.4h0M267 753.5h0M305 785.1h0M289.7 780.7h0M267.9 787.9h0M261.1 769h0M296.2 749.4h0M287.1 757.7h0M300.5 799.1h0M291.2 782h0M315.9 798.3h0M298.7 762.9h0M269.2 772.3h0M300.1 757.5h0M292.1 745.7h0M303.8 781.6h0M284.2 798.8h0M294.5 773.1h0M273.8 780.7h0M270.1 768.4h0M295.1 783.3h0M290.7 783.6h0M282.5 762.3h0M284.7 778.6h0M270.9 761.7h0M285.1 774.6h0M301.6 769.4h0M311.7 757.9h0M281 756.8h0M290.6 791.5h0M324.8 800.4h0M308.5 778.2h0M292.1 798.6h0M316.6 784.1h0M314.6 793.6h0M286.5 751.7h0M299.5 769.9h0M285.2 787.4h0M292.2 751.6h0M285.6 766.4h0M308.8 753.9h0M305.6 768.9h0M298.2 754.1h0M273.1 788.3h0M309.1 810.6h0M294.7 777.9h0M300.9 777.9h0M313.7 793.3h0M293.1 795.3h0M318.9 789.5h0M293.6 772.5h0M283.1 780.3h0M304.8 756.1h0M301.4 788h0M297.9 750.4h0M286.1 767.4h0M279.5 772.9h0M283.8 767.8h0M289.7 778.7h0M285.2 765.1h0M303.1 778.6h0M309.5 760.2h0M294.2 756h0M292.8 764.4h0M274.2 782.6h0M296.7 802.2h0M286.5 772.3h0M297.2 754.4h0M285.8 747.6h0M306.2 776.6h0M311.2 809.9h0M303.9 774.7h0M294.9 785.6h0M280.9 786.4h0M293.8 797.3h0M295.9 813.1h0M272.4 775.3h0M293.3 780h0M271.4 774.6h0M308.1 772.7h0M299.3 771.5h0M291.2 766.4h0M287.6 789.5h0M286 779.6h0M303.5 767.1h0M302.5 796.8h0M283.8 748.8h0M307.8 771.1h0M299.3 767h0M287.5 774.4h0M299.4 767.8h0M284.1 779.4h0M320.6 784.3h0M304.1 775.2h0M303.6 802.8h0M304 816.3h0M275.4 755.4h0M294.9 822.3h0M287.7 755.2h0M310.3 764.9h0M292.4 783.5h0M293.5 764.9h0M323.8 786.9h0M313.6 766.8h0M303.3 798.7h0M308.8 786.4h0M309.5 782.6h0M297.9 778h0M317.2 794.1h0M292.2 756.2h0M287 764.7h0M287.7 789.9h0M271.6 781.8h0M286.3 754.6h0M296.9 769.1h0M293.5 747.6h0M293.8 755.3h0M284.3 764.5h0M287.7 782.8h0M319.9 766h0M304.8 793.1h0M288.5 775.1h0M303.2 751.9h0M279.6 756h0M296.6 744h0M305.9 781.7h0M277.6 803.1h0M320.7 795.9h0M314.6 767.9h0M304.5 763.1h0M286.4 787.4h0M305.6 787.6h0M296.6 767.9h0M298.2 781.4h0M327.9 763.8h0M291.9 780.9h0M284.3 747.7h0M300.9 772.6h0M295.1 768.4h0M322.2 783.1h0M288.6 759.9h0M300.5 781.8h0M314.5 793.6h0M281 793h0M293.8 776.4h0M281.9 781.6h0M276.2 751h0M297.4 768.4h0M284.2 769.6h0M300.2 784.1h0M299.3 782.2h0M307 775h0M292.2 764.4h0M303.6 778.2h0M299.3 785.6h0M306.6 796.4h0M272.5 774.3h0M278 778h0M309.4 781.8h0M298 783h0M284.1 769h0M304.5 772.1h0M288.8 757.3h0M304.1 775.4h0M274.1 780h0M295.5 777.9h0M300.7 777.6h0M317.8 797.9h0M291.1 781.5h0M295.8 783.4h0M290.4 768.3h0M284.5 791.3h0M296.9 786h0M299.8 782.7h0M281.2 800.3h0M297.8 789.7h0M296.8 764.2h0M296.9 784.4h0M302.6 809.6h0M316 774.9h0M303.7 792.4h0M287.9 757.7h0M311.2 794.5h0M287.8 790.5h0M308.1 782.7h0M316.9 770.1h0M298.8 764.3h0M310 783.4h0M299.3 786.8h0M278.7 774.1h0M262.4 781.1h0M322.3 781.2h0M291.6 774h0M286.3 783.9h0M298.3 756h0M314.1 794.7h0M291.8 791h0M307.1 791.1h0M297.7 749h0M309.3 792.3h0M320.3 796.2h0M283.7 785.2h0M325 757.8h0M292.6 758.6h0M286.5 777.7h0M287 763.5h0M293 755.1h0M310.2 789.5h0M321 775.6h0M296.2 783h0M296.5 796.5h0M287.1 796.1h0M291.2 769.2h0M318 772.9h0M300.6 780.7h0M275.4 759h0M291.8 767.5h0M282.8 783.3h0M275 763.5h0M315.5 774.4h0M280.3 765.2h0M291.3 775.7h0M326.4 799.1h0M289.1 795.8h0M296.9 789.8h0M320.9 763.7h0M287.1 759.4h0M299.7 753.6h0M282.2 807.8h0M283.6 773.7h0M279.8 809.3h0M309.8 762.2h0M310.8 756.7h0M306.8 769.6h0M296 760.1h0M324.8 778.5h0M269.2 776.8h0M285.2 743.2h0M291 755.1h0M287.2 778.5h0M322.7 772.6h0M316.8 752.6h0M290.6 773.2h0M255.6 775.9h0M272.5 794.8h0M322.8 769.2h0M306.6 767h0M297.2 762.6h0M268.2 767.4h0M286.8 791.1h0M304.9 773.2h0M305.1 768.6h0M305.9 801.9h0M326 789.7h0M290.6 775.4h0M313.6 755.3h0M297 784.7h0M297.9 787.4h0M290.9 793.2h0M289.4 785.5h0M306.6 780.9h0M306.1 775.9h0M286.5 730h0M297.4 770.3h0M320.8 785.5h0M299.8 766.5h0M298.7 800.5h0M291.8 771.7h0M291.6 784h0M297.6 764.9h0M281 773h0M290.4 779.8h0M296.5 763.8h0M302.9 789.1h0M274.1 769.3h0M291.6 770.9h0M310.9 780.6h0M304.9 773.1h0M289.5 784.6h0M292.8 741.8h0M289.7 776.7h0M292.9 771.3h0M301.5 776.9h0M299.4 749.8h0M293.7 754.8h0M296 761.6h0M308.8 768h0M306.4 787.4h0M303.9 742h0M284 754.1h0M299 779.1h0M298 789.8h0M281.4 765.2h0M280 769.2h0M302.6 746h0M306.2 772.1h0M284.5 760.7h0M287.6 752.8h0M314.5 777.2h0M291.5 770.8h0M287.5 778.3h0M294.9 766.5h0M318.5 740.8h0M298.1 765.4h0M288.4 752.5h0M277 779.9h0M285.1 780.9h0M295.7 784.9h0M286.9 756h0M313.8 771.2h0M288.8 760.6h0M272.8 793.5h0M271.4 747.7h0M301.5 777.8h0M282.3 785h0M298 788.2h0M293.2 759.5h0M298 740.9h0M324.2 809.1h0M305.2 779.4h0M290.2 759.7h0M293.2 774.2h0M306.6 768.6h0M281.6 771.1h0M321 790.8h0M290.2 773.5h0M296.5 782.2h0M315.5 800.9h0M308 797.5h0M303 767.8h0M305.2 785.7h0M298.4 786.6h0M297.5 795.5h0M272.6 769.2h0M285.8 753.1h0M287.7 768.6h0M310.9 759.9h0M288.8 793.7h0M299.1 787.6h0M292.6 762h0M318 751h0M303 755.8h0M288 794.5h0M284 759.1h0M303.7 774.3h0M276.7 766.3h0M306.2 767.5h0M300.6 792.2h0M283 772.8h0M299.8 769.7h0M302.8 758.8h0M284.8 778h0M284.6 771.4h0M309.5 795h0M295.3 764.3h0M296.4 755.9h0M283.7 784.3h0M280 782.5h0M289.2 798.3h0M300 779.9h0M301.6 770.1h0M306.7 788h0M295.4 764.2h0M295.3 750.4h0M278.5 755.8h0M291.5 796.2h0M309.2 773.4h0M281.1 784.8h0M297.7 771.5h0M300.4 797.9h0M290 755h0M276.9 759.8h0M301 756.5h0M297.3 768.8h0M283.1 771.5h0M307.2 758.5h0M322.3 759.7h0M306.5 777.6h0M287 778.4h0M285.8 772h0M313 746.2h0M292.9 778.1h0M301.2 785.7h0M300.5 754h0M281.7 775.8h0M324.6 784.4h0M327.4 770.7h0M301.3 773.4h0M310.3 773.4h0M284.9 779.1h0M286.9 770.7h0M291.4 760.9h0M284 775.9h0M296.1 784.6h0M275.8 771.7h0M280.1 777.2h0M298.2 785h0M289.7 785.7h0M280 795.5h0M273.1 760.9h0M300.1 788.9h0M333.8 779.6h0M283.5 775.2h0M309.8 772.8h0M321.9 769.3h0M286.8 771.4h0M285.1 777.2h0M300.2 765.5h0M293.8 748.6h0M290.3 775.3h0M271.9 770.8h0M266.6 761.5h0M321.6 799.2h0M279.7 780.6h0M302.4 773.4h0M286.4 768.1h0M277.3 774.4h0M300.1 784.3h0M312.4 777.2h0M307.2 761.6h0M298.2 767.6h0M300.4 770.3h0M280.8 771.4h0M298.2 769h0M286.8 750.8h0M296.5 775.1h0M298.4 780.3h0M265.7 794.5h0M292.3 785.1h0M298.8 763.5h0M287.3 766.3h0M303.2 760.4h0M266.8 791.7h0M296.1 772.8h0M283.3 761.4h0M278.5 791.7h0M292.8 795.6h0M284 778h0M301 806.4h0M285.6 794.3h0M289.4 759.1h0M277.6 782.7h0M304.3 757h0M292.6 755.7h0M316.6 781.3h0M284.9 789.3h0M315.8 789.6h0M308.8 788.8h0M294 788.8h0M293 783.6h0M273.2 782.8h0M302.9 764.4h0M300.1 793.2h0M280.5 799.3h0M308.4 777.2h0M303.3 784.4h0M299.5 762.1h0M301.7 757h0M311.2 808.4h0M271.5 785.2h0M310 791.4h0M282 781.6h0M318.1 780.5h0M283.4 765.4h0M299.2 778.9h0M302.5 785.1h0M292.4 783.1h0M316.5 762.6h0M274.2 766.3h0M313.6 777h0M305.7 768.7h0M304.8 782.6h0M298.7 759.7h0M290.7 761.6h0M299.5 782.2h0M311.5 768.9h0M264.5 775.3h0M302.7 776h0M285.6 758.3h0M291.2 772.3h0M286.6 780.5h0M302.4 773.6h0M306.5 766h0M270.2 774.8h0M296.8 786.6h0M314.4 774.8h0M311.6 773.1h0M288.8 791.3h0M313.6 811.1h0M304.4 788.1h0M268.6 767.3h0M296.5 771.4h0M306.3 781.1h0M293.5 790.9h0M305.2 773.9h0M294.1 749.2h0M313.7 825.7h0M306.9 767.4h0M283.9 781.8h0M276.8 778.1h0M296 794h0M291.4 780.5h0M297.3 763.3h0M292.3 810.2h0M270.1 759.8h0M292 782h0M288.4 740.6h0M299.1 755.3h0M292.4 777.7h0M297.5 796.4h0M302.4 807.3h0M295.5 771.4h0M302.9 811.1h0M315.1 765.8h0M301.9 771.1h0M318.5 774.3h0M316.3 750.9h0M284.1 776.7h0M302.9 785.5h0M317.9 779.4h0M303.6 760.3h0M296.6 758.8h0M301.1 759.1h0M304.5 794.4h0M311 746.8h0M312.8 757.2h0M299.1 769.7h0M295.2 773.4h0M287.1 775.9h0M303.3 792.5h0M279.2 783.7h0M289.4 759.3h0M298.2 797.5h0M285.1 768.9h0M311 778.4h0M306.1 780.3h0M289.7 783.6h0M281.9 808.4h0M283.9 765.8h0M296.8 779.8h0M292.7 766.1h0M308.1 773h0M287.4 772.3h0M289.9 794.5h0M299.6 752.1h0M295.9 788.2h0M307.6 747h0M277.3 788.2h0M314.4 796h0M291.7 794.4h0M293 749.3h0M308 788.5h0M307.7 754.9h0M305.6 764.3h0M308.6 764.4h0M282.4 786h0M302.4 777.1h0M268.2 756.6h0M298.7 801.3h0M291 746.7h0M306 781.3h0M274.9 747.5h0M285.2 750.4h0M296.9 770.9h0M273.5 797.1h0M299.2 809.1h0M283.2 740.5h0M292 788.1h0M309.7 771.7h0M289.5 779h0M299.4 773.3h0M275.2 779.1h0M289.3 772.7h0M305.1 780.9h0M317.4 776.5h0M289.6 787.2h0M282.6 782.8h0M275.8 757.5h0M283.7 772.9h0M289.8 775.4h0M311.5 787.3h0M300.1 765h0M290.9 781.6h0M286.5 794.2h0M289.2 765.7h0M290.1 758.8h0M293.4 778h0M285.9 780.5h0M287.1 807.1h0M295.9 779.6h0M303.8 762.2h0M304.6 756.8h0M331 776.6h0M285.5 794.8h0M297 780.2h0M287.6 772h0M310.5 796.2h0M297 768.2h0M312.7 794.7h0M313.2 780h0M307.1 773.3h0M316.2 799.3h0M278.3 781h0M295.1 804.3h0M298.4 780.2h0M303.4 785.7h0M305.7 774.9h0M296.1 763.9h0M282 793.6h0M299 765.3h0M294.5 772.3h0M309.8 790.9h0M293.9 795.2h0M271.7 766.4h0M290 766.8h0M308.8 780.3h0M306.9 771.2h0M278.2 772.5h0M280.2 757.6h0M306 772.1h0M307.5 782.9h0M304.5 748.8h0M247.2 779.7h0M306.5 792.1h0M288.5 763.7h0M300.7 768.8h0M270.9 758.7h0M304.8 790.7h0M296.3 779.5h0M286.3 761.6h0M306.4 779.4h0M304 778.2h0M282.9 796.2h0M305.4 773h0M299.3 784.5h0M302.2 756.3h0M269.6 779.2h0M272.3 763.6h0M293.8 737.4h0M273.8 790.8h0M299.1 788.6h0M280.8 763.6h0M295.8 775h0M283.5 754.9h0M307.2 774.6h0M290.9 771.4h0M283.2 769.8h0M291.2 790.9h0M304.2 776.1h0M306.2 776.9h0M314.5 789.3h0M285.3 787.4h0M305.1 797.8h0M326.1 776.3h0M278.7 748h0M287.4 782h0M292 746.7h0M297.5 778.1h0M297.6 760.2h0M290.9 770.4h0M287.5 772.1h0M289.3 760.2h0M271.9 765.1h0M309.7 793.5h0M292.1 769.9h0M295.5 772.8h0M299.8 777.2h0M301.5 769.9h0M299.2 778.1h0M301.6 779.5h0M291.8 795.3h0M313.1 778.8h0M303.6 765h0M289.5 771.9h0M299.7 765.3h0M277.5 779.4h0M306.1 790.2h0M308.3 761h0M289.1 788.8h0M297 776h0M302.4 765.6h0M295.1 795.3h0M297.7 788.3h0M294.6 793.1h0M285.3 767h0M294.2 765h0M323.4 789.6h0M298.2 750.9h0M288.9 754.4h0M306.3 789.3h0M282.5 772.5h0M290.2 765.6h0M289.9 792.2h0M296.4 782.7h0M298.4 759.3h0M295.4 759.5h0M268.6 772.1h0M282 798.3h0M309.2 748h0M297.2 785h0M276.6 769.1h0M296.4 782.1h0M289.5 755.8h0M279.2 788.3h0M292.6 793.7h0M315.2 756.1h0M305.2 806.7h0M281.3 762.1h0M280.3 772.9h0M292.2 760.4h0M294.6 802h0M299.5 764.8h0M289.1 760.3h0M303.7 807.1h0M309.3 753.8h0M289.3 757.5h0M300.1 778.2h0M307.4 788.1h0M296.3 774.8h0M295.9 801.1h0M282.1 764.8h0M300 778h0M281.7 770.7h0M317.2 784.3h0M295.8 777.7h0M308.2 765.3h0M288.1 769.3h0M292.2 791.7h0M312.4 782.9h0M293.1 772.9h0M304.3 793.5h0M294 759h0M296.7 758.4h0M297.7 768.1h0M281.1 775.4h0M290 759.2h0M281.7 756.5h0M287.6 773.3h0M285.6 762h0M268.7 766.5h0M312.3 791h0M278.4 800h0M292.5 773.5h0M311.3 804h0M305.7 815.4h0M298.5 778.2h0M285.2 764.6h0M297.3 785.4h0M280.5 803.5h0M294.3 743.9h0M302.3 786h0M296.4 767.4h0M289.6 752.7h0M305.7 774h0M278.7 778.5h0M300.3 782.6h0M309.7 775.6h0M239.1 731.6h0M344.4 771.5h0M338.7 841.6h0M298.9 838.7h0M307.4 836.6h0M333 807.8h0" stroke="#A29CD5" stroke-width="1.9" stroke-linecap="round" stroke-opacity="0.8" fill="none"/>
<path d="M295 775h0M289.8 778.5h0M287.9 778.5h0M311.7 779.9h0M310.6 755.2h0M305.4 773.2h0M288.1 777.3h0M298.5 787.2h0M277.6 752.1h0M296.8 798.4h0M294.6 766.2h0M297.6 785.2h0M287.6 786.8h0M327.9 791.5h0M278.6 764.8h0M275.6 745h0M287.9 792.6h0M290 751.6h0M290.1 777.5h0M287.6 772.2h0M287.6 742.6h0M317.4 781.9h0M329.4 784.5h0M286 771.5h0M275.7 779.9h0M299.9 773.6h0M299.2 774.3h0M287.4 786.6h0M298.5 764.5h0M284.7 773.8h0M318.1 785.7h0M290.4 766.7h0M305.8 785.8h0M299.8 770.1h0M299.3 779.1h0M311.5 796.4h0M307.1 773.8h0M297.5 780.9h0M271.2 781.1h0M300.6 782.7h0M312 770.1h0M279.4 776.1h0M291.6 765h0M287.3 794.8h0M278.5 767.8h0M266.4 760.5h0M279.9 773h0M274.9 740h0M304.9 816.3h0M295 786.7h0M289.9 764.7h0M307.9 796h0M270.4 766.5h0M300.1 787h0M285.7 760.2h0M273.1 767.2h0M284 790.7h0M302.2 781.6h0M275.4 793.4h0M300.6 773.6h0M304.9 757.6h0M305.1 769.3h0M294.5 768.8h0M286.8 771.2h0M284.7 745.1h0M297.7 785.9h0M293 779h0M317 774.5h0M278.6 749h0M278 760h0M322.8 786.1h0M299.5 789.2h0M298.5 788.5h0M281.5 755.8h0M297.9 753.5h0M302.6 783.7h0M286.5 768.1h0M310.9 787.5h0M324.9 800.8h0M319 780.1h0M314.6 754.3h0M295.4 777.3h0M299 775.5h0M300.3 783.5h0M282.1 768h0M288.3 769.1h0M317.3 772.8h0M311.8 772.8h0M308.2 764h0M285 790.2h0M278.6 752.4h0M287.8 762.2h0M307.6 788.6h0M307.7 768.5h0M329.2 803.7h0M323.3 785.5h0M283.7 752h0M297.7 761.9h0M304.7 784.9h0M284.1 773.7h0M297.3 764.3h0M304.3 785.1h0M294.8 792h0M302.6 790.9h0M313.6 769.9h0M286.6 770.3h0M294.3 789h0M302.5 777.5h0M326.6 803.2h0M299 782.4h0M301.5 771.6h0M315.4 791.5h0M275.5 761.8h0M313 781.2h0M286.3 772.2h0M307.3 762.4h0M300.7 791.3h0M307.6 782.8h0M300.8 834.7h0M291.6 790.9h0M312 781h0M305.5 795.6h0M290.1 786.1h0M277.2 783.7h0M289.1 795h0M307.2 771.2h0M290.8 787.8h0M286.9 792.4h0M290.6 771.2h0M334.5 795h0M281.8 735.1h0M293.7 772h0M281.1 748h0M276.9 757.5h0M272.4 773.2h0M318.6 766.6h0M308.1 766.9h0M290 778.1h0M285.9 771.2h0M283 763.6h0M281.4 780.1h0M288.6 751.2h0M279.1 763.7h0M314.1 796.6h0M300.9 760h0M303.7 764h0M289.5 770.6h0M293.8 780.7h0M293 805.9h0M275.8 766.9h0M289.9 782.9h0M299.5 749.3h0M279.5 755.6h0M299.9 792.2h0M301.4 797.7h0M278.7 786.2h0M313.6 794.7h0M303.2 762.4h0M262.6 772.7h0M279.5 760.6h0M318 769.9h0M285.4 774.3h0M303.3 769.5h0M281.9 758.9h0M296.5 775.1h0M286.9 762.1h0M286.7 774.1h0M302.3 761h0M287 775.4h0M297.6 794.2h0M296.6 785.7h0M304 786.4h0M288 781.6h0M269.7 750.5h0M283.8 775.5h0M290.7 788.7h0M313.1 796h0M310.6 769h0M288 778.3h0M315.8 777h0M268.5 792h0M274.4 747.7h0M307.6 766.1h0M292.7 776.9h0M291.1 763.5h0M286.6 763.6h0M297.7 773.4h0M291.9 771.2h0M272.1 749.5h0M292.9 771.8h0M285.5 738.2h0M292.2 774.6h0M298.2 769.8h0M273.2 766.3h0M311.3 794.9h0M310.6 773.5h0M312.1 785.2h0M264.1 796.7h0M310.1 752.8h0M300.7 737.4h0M280.6 774.1h0M279.4 765.5h0M293.8 780.2h0M309.2 794.7h0M298.1 783.1h0M305.5 769.8h0M302.2 792.3h0M292.1 774.7h0M291.1 767.5h0M295.8 781.8h0M285.9 778.4h0M309.2 770.4h0M312.8 785.6h0M293.9 777.1h0M289.6 755.3h0M290.2 789.6h0M304.3 793.8h0M284 764.6h0M317.4 778.3h0M298.3 772.8h0M285.8 773.3h0M304.4 748.3h0M307.5 788.9h0M298.4 783h0M293.4 768.5h0M298.5 776.1h0M298.5 759.1h0M293.2 769.3h0M287.9 765.6h0M291.7 792.4h0M298.1 799.9h0M310.5 775.8h0M316.1 772.3h0M311.3 782.3h0M318.4 793.9h0M287.9 778.6h0M308.3 785.1h0M301.5 791.5h0M304.2 783.9h0M282.4 778h0M294.8 760.5h0M300.9 789.1h0M288.3 765.8h0M289.8 783h0M271.2 754.4h0M287 774.3h0M318.1 775.2h0M296.2 783.8h0M297.2 790.6h0M274.3 758.9h0M295.8 787.4h0M292.3 780.1h0M283.2 789.2h0M307.4 761.1h0M305.6 771.8h0M259 760.1h0M307.6 750h0M270.2 757.7h0M287.2 784.1h0M308 776.3h0M289.3 770.8h0M285.9 783.2h0M295 782.7h0M269.6 775.8h0M294.9 783.9h0M305 787.1h0M292 782.1h0M303.5 774.3h0M295 803.1h0M291.3 768.6h0M301 798.4h0M300.8 798.2h0M303 753.2h0M298.7 791.1h0M273.3 752h0M296.8 764.4h0M303.5 771.2h0M273.8 784.8h0M318.6 744.8h0M302 755h0M279.1 767.5h0M306.9 782h0M301.5 768.7h0M307.3 780.3h0M302.9 753.6h0M274.5 781.5h0M320.3 787.2h0M305 796.4h0M285.4 798.7h0M283 777h0M300.8 787.3h0M308.3 801.1h0M288.8 791.8h0M263.5 776.5h0M297.1 787.8h0M287.6 789.1h0M306.8 775.9h0M306.9 792.3h0M297.1 781.5h0M268.8 767.2h0M298.9 761.3h0M304.9 773.7h0M288.8 764.7h0M309.9 782.9h0M295.9 801.1h0M284.2 785.6h0M317.8 797.6h0M286.2 771.5h0M329.3 797.7h0M310.1 799.7h0M291.5 753.8h0M288.2 769.5h0M289 786.5h0M283.3 795.7h0M292.1 790.8h0M295.4 775.7h0M286.5 773.3h0M283.2 753.3h0M279 771.7h0M299.5 772.1h0M323.9 769.3h0M287.2 785.9h0M268.4 787.6h0M330 811.7h0M299.8 787.6h0M301.2 764.5h0M274.1 756.5h0M296.8 809.2h0M286.6 777.8h0M296.9 765.2h0M280 782.3h0M280.3 753.4h0M313.1 794.9h0M297.6 799.4h0M281.5 759.1h0M302.6 779.9h0M289.5 750h0M285.7 765.6h0M283.8 744.9h0M311.8 777.6h0M271.2 795.9h0M295.6 756.8h0M309.5 782.9h0M314.2 772.7h0M300.8 801.9h0M326 788.3h0M296.3 782.3h0M302.6 774.6h0M298.7 797.2h0M302.3 760.3h0M305.1 781.8h0M301.3 776.2h0M288.6 752.4h0M273.8 770.5h0M308.3 767.4h0M306 779.9h0M296.7 771.6h0M302.9 786.4h0M321.3 775.1h0M289.2 810.3h0M296.5 773.9h0M290.8 775.2h0M300.8 761.4h0M293.3 764.2h0M284.2 757.3h0M290.2 746.6h0M291.3 777.3h0M289.2 771.1h0M314 789.3h0M281.2 740.1h0M272.1 789.7h0M269.2 780.1h0M302.3 797.5h0M303.1 756.9h0M301.8 759.6h0M300.2 788.4h0M312.2 784.3h0M292.5 768.6h0M309.4 770.4h0M277.8 757.8h0M281 777.2h0M275.9 740.6h0M301.4 789.7h0M304 782.9h0M301.6 778.6h0M282.8 748.5h0M308.8 776.8h0M293.3 794.9h0M295.8 759.2h0M279.4 766h0M279.3 761.1h0M293.3 785.2h0M317 779.3h0M296.2 794h0M270.6 774.5h0M307.6 765.9h0M311.3 764.6h0M304.9 794h0M280.3 785.4h0M295.9 780.3h0M292.7 767.8h0M296.6 767.7h0M279.1 767.1h0M307.8 771.2h0M292.5 770.6h0M307.7 762h0M289 788.4h0M298.8 763.9h0M308.4 786.1h0M299.5 754.6h0M305.7 769.7h0M308.5 779.6h0M295.5 753.2h0M314.2 775.8h0M288.1 778.7h0M283.8 788.2h0M294.5 778.8h0M280.6 796.8h0M274.4 774.3h0M298.9 755.9h0M285.3 774h0M292.9 767.8h0M297.7 798.1h0M289.8 758.2h0M299.9 756.8h0M311.5 760.4h0M295.9 769.3h0M283.3 764.3h0M319 770.1h0M315.4 790.7h0M281.1 738.5h0M286.9 784.4h0M279.2 756.5h0M305.9 778.8h0M298.1 773.8h0M297.9 774.6h0M275 756h0M288.3 772.3h0M300.9 751.7h0M310.1 794.7h0M291 761.9h0M287.5 781.3h0M291.4 778.6h0M285.2 731h0M301.9 773.3h0M287.3 790.5h0M297.5 777h0M318.1 763.2h0M303.4 757.3h0M293.6 780.8h0M308.2 799.2h0M312.8 772.1h0M303.2 766.7h0M294.2 781.8h0M303.6 774.8h0M286.4 782.9h0M315.9 799.1h0M284.8 750.6h0M312.9 750h0M314 791.2h0M287.1 788.7h0M292.8 794.4h0M259.5 773.3h0M294.5 793.9h0M318.8 754.1h0M290.2 773.5h0M318.6 783.6h0M292.4 745.2h0M295.1 778.1h0M300.3 791.8h0M307.8 792.7h0M279.1 777.9h0M294.4 748.6h0M289.9 761.2h0M298.5 765.8h0M310.2 766.2h0M292.5 774.6h0M296.1 774.3h0M300.3 791.2h0M287.8 785h0M276.2 768.9h0M309.3 771.8h0M309.7 768.1h0M297.9 792.7h0M303.5 802.8h0M297.7 775.7h0M288.1 765.6h0M274.4 775h0M303.4 767.9h0M287.1 775.9h0M294.3 783h0M321.8 806.2h0M286.8 775h0M296.6 785.3h0M303.7 763.9h0M281.5 780.2h0M266.5 759.4h0M288.1 780.6h0M306.6 776.5h0M296 773.7h0M301.4 774h0M272.7 768.2h0M294.5 762.1h0M315.3 772.5h0M299.4 792h0M301.2 787h0M281.7 755.9h0M295.2 805.6h0M299.5 763.2h0M293.7 764.9h0M305.1 758h0M294.1 801.9h0M291.6 801.7h0M321 810.5h0M319.2 795.4h0M312.8 748.1h0M277.2 809.2h0M291.9 786.7h0M294.9 752.6h0M274.2 781.7h0M294.5 799.4h0M320.5 783.1h0M283.6 770.2h0M291.6 769.4h0M298.2 760.5h0M281.9 797.7h0M303.3 786.7h0M302.2 785.9h0M291.1 769.4h0M275.8 751.6h0M299 805.9h0M286.9 764.4h0M274.3 780.1h0M283.9 774.6h0M279.5 772.9h0M285.7 780.9h0M283.5 756.4h0M289.9 741.6h0M309.3 766.9h0M298 778.6h0M298.1 772.5h0M306.5 782.2h0M296.8 778h0M297.8 760.5h0M306 753h0M276.5 792.3h0M286.1 777.9h0M312 785.1h0M300.8 741.2h0M282.5 768h0M300 754.3h0M287 758.2h0M278.4 767.5h0M308.8 784.9h0M313.2 748.9h0M284.8 764.8h0M288.5 781.8h0M306 777.6h0M304 785.2h0M259.3 778.9h0M286.7 761h0M283.7 778.1h0M297.1 764.5h0M296 771.4h0M280.6 772.6h0M278.4 753.8h0M299.4 759.1h0M276.6 746.3h0M312.1 778.1h0M301.7 769.7h0M279.2 766h0M301.7 765.1h0M297.3 772.1h0M290.8 808.3h0M290.6 752h0M303.9 793.7h0M283.9 745h0M309.1 771.5h0M309.7 789.4h0M287.3 761.3h0M271.6 783.6h0M301 782.8h0M281.1 766.9h0M300.2 794.7h0M290.3 778.6h0M297.7 790.7h0M293.9 795.4h0M311.2 788.9h0M296.8 757h0M291.7 760h0M308.7 777.3h0M310.8 775.9h0M285.5 818.9h0M315.3 772.9h0M271.8 779.4h0M302.1 768h0M298.1 799.6h0M302.1 787.4h0M277.2 769.1h0M302.5 758.3h0M256.4 760h0M294.7 781h0M294 760.4h0M300.4 788.9h0M284 762.3h0M283.1 763h0M301 775.8h0M324.9 759.6h0M301.6 759.4h0M301.5 770.9h0M288.2 753.3h0M300.9 783.7h0M297.8 763h0M294.5 768.8h0M309.7 772.2h0M298 780.1h0M284.3 777.7h0M327.6 779.7h0M292.1 799.4h0M310.7 779h0M278.9 780.4h0M305.4 778.1h0M291.7 799.9h0M285.4 756.4h0M276.6 771.9h0M277.7 761.9h0M313.7 768.6h0M290.3 776.1h0M296.2 785.2h0M305.5 771.8h0M286.6 803.3h0M285.7 765.9h0M309.2 804.2h0M307.4 781.5h0M300.4 777.1h0M278.1 773.4h0M269.7 760.8h0M291.4 762.6h0M282.6 792.7h0M300 760.5h0M300.4 781.2h0M299.7 775.8h0M299.7 767.2h0M296.3 776.5h0M292 788.7h0M301.2 792.7h0M289.7 760.1h0M256.2 755.1h0M311.6 778.2h0M318.4 775.3h0M306.6 780.4h0M294.7 793.8h0M293.7 778.5h0M286.6 791h0M281.5 794.4h0M290.1 776.7h0M286.9 753.6h0M290.3 749.7h0M290.6 783.5h0M298.9 790.6h0M284.8 803.6h0M316.6 774.9h0M291.1 776.9h0M297.5 757.5h0M276.4 769.9h0M320.3 810.7h0M283.3 786.4h0M285 759.4h0M280.9 772h0M306.7 787.4h0M312.8 768.8h0M287.1 769.9h0M315.9 764.1h0M296.6 777.1h0M290.4 778.5h0M309.6 781.9h0M319 744.2h0M299.7 764.3h0M293 786.2h0M312.5 796.1h0M313.3 774.4h0M291.7 803h0M304.1 788.1h0M283.6 802.3h0M285.4 782.9h0M281.5 789.4h0M285 734.4h0M305.3 779.9h0M301.5 759.1h0M294.8 777.1h0M311.5 789.5h0M281.5 763.5h0M301.2 782.3h0M319.1 785.2h0M305.6 778.1h0M283.3 779.2h0M315.6 801.1h0M313.3 792.3h0M296 764.2h0M301.9 805.9h0M296.4 770.6h0M255.4 795.6h0M296 761.5h0M311.7 748.1h0M303.7 779.8h0M307.8 779.4h0M312.9 773.5h0M286.9 770.9h0M308.3 765.9h0M284.4 785.4h0M277.6 759.3h0M291.9 801.4h0M289.2 784.7h0M307.6 758.3h0M304.6 756h0M296.3 778.8h0M284.9 764.9h0M303.6 769.6h0M274.8 757.7h0M292.4 792.9h0M276.4 753.9h0M293.6 776.4h0M289.5 795.7h0M294.1 797h0M290.9 752.6h0M304.7 766.6h0M303.3 785.5h0M294.7 749.7h0M289.4 766.3h0M294.4 777.5h0M288.5 777h0M292.9 802.5h0M309.6 810.9h0M291.9 780h0M306.5 805.3h0M286 771.7h0M298.5 763.6h0M272.6 777h0M291.3 768.1h0M289.2 779.7h0M305.8 778.6h0M319.6 783h0M297.6 794.7h0M279.9 766.5h0M328.2 791.4h0M286.5 782.2h0M298.2 770.3h0M286.9 766.5h0M284.5 789.5h0M269.8 775h0M288.6 781h0M302.5 782h0M284.5 796.4h0M295.8 764.4h0M296.2 772h0M278.9 778.5h0M306.3 782.9h0M291.3 771.3h0M317.2 753.5h0M299.3 758.8h0M316.9 785h0M307.7 760.7h0M318.9 787.3h0M284.4 752.8h0M297.6 753.1h0M305.2 785.9h0M307.2 787.4h0M286.6 778.6h0M278.4 768.6h0M287.1 775.5h0M317.2 766.7h0M301.1 775.6h0M282.5 820.5h0M292.3 780.3h0M303.6 758.8h0M308.2 791.1h0M301.1 770.7h0M303.5 787h0M298.6 761.3h0M307.9 783.6h0M302.8 775.9h0M292.6 801.9h0M284.8 769.6h0M274.5 806.8h0M304.6 805.9h0M289.2 771.7h0M301.1 773h0M298.6 780.2h0M305 796.9h0M305.7 804.8h0M296.4 769.1h0M324.5 798.8h0M297.9 790.5h0M294.1 765.9h0M284.6 772.7h0M319.6 768.5h0M321.9 765h0M278.8 771.7h0M295.5 806.8h0M291.8 760.7h0M293.9 777h0M309.5 801.7h0M313 781.6h0M308.8 785.6h0M288.6 768.7h0M314.4 766.6h0M300.4 766.1h0M289.1 755.8h0M310 768.4h0M308.7 772.5h0M301.1 796.8h0M307.9 753.3h0M300.7 761h0M270.1 791.7h0M311.3 778.7h0M300.4 769.7h0M305.3 765.8h0M287.6 777.2h0M291.9 794.4h0M294.7 776.7h0M307.5 774.9h0M298.7 772.7h0M304.4 771.5h0M293.7 777.6h0M293.4 761.3h0M307.6 769.5h0M282.9 800.1h0M285.1 773.6h0M296.5 772.7h0M295.3 770.1h0M284.6 767h0M286.1 769.5h0M282.3 756.4h0M306.8 749.7h0M299.4 778.5h0M280.2 768.9h0M278.6 760h0M258.9 783h0M290.2 761.7h0M289.1 777.8h0M306.9 748.3h0M292.9 773.7h0M278.1 778.4h0M301.5 741h0M273.2 777.4h0M289.3 778h0M310.8 784.2h0M295.2 760.8h0M302.2 790.3h0M292.4 779.9h0M319.8 761h0M313.4 778.2h0M298.8 774.8h0M294.8 781.9h0M297.4 772.5h0M297.7 779.6h0M281.3 756.8h0M302 785.5h0M304.9 803.2h0M292.4 759.4h0M324.5 785.9h0M306 782.5h0M294.8 777.1h0M267.9 783.3h0M289.8 773.1h0M281.8 766.7h0M299.5 793.8h0M311.4 801.7h0M285.3 771.3h0M272.7 755.4h0M302.6 792.1h0M286.2 769.3h0M286.1 742.2h0M284.6 739.1h0M301.2 793h0M305.9 796.5h0M311.2 753.3h0M305.7 763.2h0M267.1 769.2h0M281 758.3h0M288.5 798.4h0M284.1 764h0M273.8 788.7h0M292.9 779.3h0M260.6 769.6h0M292.7 773.2h0M274.7 754.8h0M279.3 765.8h0M295.5 775h0M280.4 740.9h0M268.2 754.8h0M282 752.6h0M286.7 757.1h0M303.7 768.7h0M278.1 776.4h0M301.7 786.8h0M302.8 790.2h0M309.3 770.2h0M279.6 744.9h0M298.5 785.5h0M309 769.5h0M296.9 757.6h0M264.3 772.7h0M296.9 778.1h0M281.9 763.4h0M303.3 768h0M302.3 794h0M283.1 758h0M292.4 757.4h0M301.9 760.6h0M298.9 765.5h0M282 791.6h0M281.5 789.2h0M288 770.4h0M313.2 779.9h0M282 746.6h0M328.5 795.9h0M307.2 791.3h0M304.7 772.2h0M302.6 762.9h0M288.6 785.5h0M292.2 790.2h0M289.1 790.4h0M290.1 788.9h0M296 759.8h0M296.1 766.4h0M295.8 779.4h0M307.9 776.1h0M292.6 803.2h0M288.3 758.5h0M295.1 748.2h0M293.7 770.8h0M307.5 764.8h0M283.1 749.8h0M309 787.5h0M261 777.6h0M276 755.6h0M320.3 767.5h0M290.6 769.4h0M275.5 790.8h0M289.1 810.8h0M301.4 773h0M286.6 769h0M274.4 758.2h0M285.8 756h0M285.8 761.5h0M311.6 801.8h0M302.8 782.3h0M294.4 767.7h0M318 789.2h0M236.3 789.2h0M333 840.7h0M321.6 834.6h0M301.7 830.4h0M327.3 809.8h0" stroke="#A29CD5" stroke-width="1.9" stroke-linecap="round" stroke-opacity="0.8" fill="none"/>
<path d="M236.2 752.3 L290.35 773.75 L344.5 792.1 L344.5 797.1 L290.35 776.1500000000001 L236.2 758.3Z" fill="#B8B8E0" fill-opacity="0.55"/>
<line x1="236.2" y1="755.3" x2="344.5" y2="794.6" stroke="#E0202A" stroke-width="1.3"/>
<line x1="230.7" y1="726.1" x2="230.7" y2="846.4" stroke="#333" stroke-width="0.9"/>
<line x1="230.3" y1="846.4" x2="349.6" y2="846.4" stroke="#333" stroke-width="0.9"/>
<line x1="228.7" y1="760.5" x2="230.7" y2="760.5" stroke="#333" stroke-width="0.8"/>
<text x="227.5" y="763" font-size="7.2" text-anchor="end" fill="#4D4D4D">10</text>
<line x1="228.7" y1="801.6" x2="230.7" y2="801.6" stroke="#333" stroke-width="0.8"/>
<text x="227.5" y="804.1" font-size="7.2" text-anchor="end" fill="#4D4D4D">9</text>
<line x1="228.7" y1="842.9" x2="230.7" y2="842.9" stroke="#333" stroke-width="0.8"/>
<text x="227.5" y="845.4" font-size="7.2" text-anchor="end" fill="#4D4D4D">8</text>
<line x1="256.2" y1="846.4" x2="256.2" y2="848.4" stroke="#333" stroke-width="0.8"/>
<text x="256.2" y="856.3" font-size="7.0" text-anchor="middle" fill="#4D4D4D">0.1</text>
<line x1="284.5" y1="846.4" x2="284.5" y2="848.4" stroke="#333" stroke-width="0.8"/>
<text x="284.5" y="856.3" font-size="7.0" text-anchor="middle" fill="#4D4D4D">0.2</text>
<line x1="313" y1="846.4" x2="313" y2="848.4" stroke="#333" stroke-width="0.8"/>
<text x="313" y="856.3" font-size="7.0" text-anchor="middle" fill="#4D4D4D">0.3</text>
<line x1="341.5" y1="846.4" x2="341.5" y2="848.4" stroke="#333" stroke-width="0.8"/>
<text x="341.5" y="856.3" font-size="7.0" text-anchor="middle" fill="#4D4D4D">0.4</text>
<text x="290.8" y="866.4" font-size="9.2" text-anchor="middle" fill="#111" textLength="47" lengthAdjust="spacingAndGlyphs" font-weight="bold">cg15843262</text>
<text x="210.9" y="789.2" font-size="9.2" text-anchor="middle" fill="#111" textLength="38" lengthAdjust="spacingAndGlyphs" font-weight="bold" transform="rotate(-90 210.9 786)">DNMT3A</text>
<text x="363.5" y="705.3" font-size="18">J</text>
<defs><linearGradient id="gR" x1="0" y1="0" x2="1" y2="0"><stop offset="0" stop-color="#E57A80" stop-opacity="0"/><stop offset="0.45" stop-color="#E57A80" stop-opacity="0.85"/><stop offset="1" stop-color="#E57A80"/></linearGradient><linearGradient id="gP" x1="0" y1="0" x2="1" y2="0"><stop offset="0" stop-color="#D9A3D3" stop-opacity="0"/><stop offset="0.45" stop-color="#D9A3D3" stop-opacity="0.85"/><stop offset="1" stop-color="#D9A3D3"/></linearGradient></defs>
<circle cx="407.9" cy="752.9" r="7.6" fill="#E3E5F1" stroke="#D3D7E8" stroke-width="0.5"/>
<text x="376.4" y="772" font-size="8.2" fill="#111" textLength="45.5" lengthAdjust="spacingAndGlyphs">Latent CMV</text>
<rect x="420" y="746.1" width="208.5" height="2.4" fill="url(#gR)"/>
<path d="M628.1 744.1L634.2 747.3L628.1 750.5Z" fill="#E07278"/>
<line x1="422.6" y1="752.3" x2="507" y2="752.3" stroke="#7C7C7C" stroke-width="0.9"/>
<line x1="543.1" y1="752.3" x2="626.9" y2="752.3" stroke="#8A8A8A" stroke-width="0.9"/>
<text x="459.5" y="740.1" font-size="6.9" fill="#E0646C" textLength="135.5" lengthAdjust="spacingAndGlyphs">Partial mediation, ES &lt; ES<tspan font-size="3.6" dy="1.2">total</tspan><tspan dy="-1.2">, P</tspan><tspan font-size="3.6" dy="1.2">total</tspan><tspan dy="-1.2"> &lt; 1e-16</tspan></text>
<text x="443.4" y="758.5" font-size="7.0" fill="#111" textLength="39.2" lengthAdjust="spacingAndGlyphs">association,</text>
<text x="443.4" y="766.1" font-size="7.0" fill="#111" textLength="41.8" lengthAdjust="spacingAndGlyphs">P = 1.15e-05</text>
<text x="564.4" y="759.5" font-size="7.0" fill="#111" textLength="39.5" lengthAdjust="spacingAndGlyphs">association,</text>
<text x="566.1" y="767.1" font-size="7.0" fill="#111" textLength="36.9" lengthAdjust="spacingAndGlyphs">P = 3.25e-9</text>
<rect x="509.8" y="745.5" width="28.9" height="16" rx="2.2" fill="#EDF0F9" fill-opacity="0.92" stroke="#C9D3EB" stroke-width="0.6"/>
<line x1="511" y1="756.7" x2="537.6" y2="756.7" stroke="#A8A8A8" stroke-width="0.6"/>
<line x1="514.4" y1="751.9" x2="514.4" y2="756.7" stroke="#A07070" stroke-width="0.6"/>
<circle cx="514.4" cy="751.4" r="1.5" fill="#C97A82"/>
<rect x="519.1" y="754.9" width="14" height="3.2" fill="#DCE2F2" stroke="#9EA8C8" stroke-width="0.5"/>
<path d="M522.3 754.9V750.2H526.6" stroke="#666" stroke-width="0.5" fill="none"/>
<path d="M526.1 749.1L527.8 750.2L526.1 751.3Z" fill="#4A5A9A"/>
<text x="502.9" y="772" font-size="8.2" fill="#111" textLength="47.8" lengthAdjust="spacingAndGlyphs">cg15843262</text>
<circle cx="650.4" cy="740.4" r="1.6" fill="#8FCFEA"/>
<circle cx="645.1" cy="744" r="1.8" fill="#4BAEDB"/>
<circle cx="660.8" cy="742.3" r="1.7" fill="#8FCFEA"/>
<circle cx="639.9" cy="747.4" r="1.6" fill="#8FCFEA"/>
<circle cx="652.3" cy="746.9" r="1.7" fill="#1F8FCB"/>
<circle cx="658" cy="746.9" r="1.7" fill="#8FCFEA"/>
<circle cx="647" cy="750.2" r="1.7" fill="#4BAEDB"/>
<circle cx="650.4" cy="753.1" r="1.6" fill="#1F8FCB"/>
<circle cx="655.6" cy="752.6" r="1.7" fill="#1F8FCB"/>
<circle cx="664.4" cy="752.6" r="1.6" fill="#4BAEDB"/>
<circle cx="641.6" cy="756.9" r="1.6" fill="#8FCFEA"/>
<circle cx="648.5" cy="759.4" r="1.7" fill="#4BAEDB"/>
<circle cx="653.9" cy="759.6" r="1.8" fill="#4BAEDB"/>
<circle cx="660.8" cy="758" r="1.7" fill="#8FCFEA"/>
<text x="623.6" y="769.6" font-size="8.2" fill="#111" textLength="55.2" lengthAdjust="spacingAndGlyphs">24h_il1ra_cmv</text>
<circle cx="407.9" cy="821" r="7.6" fill="#E3E5F1" stroke="#D3D7E8" stroke-width="0.5"/>
<text x="376.4" y="840.7" font-size="8.2" fill="#111" textLength="45.5" lengthAdjust="spacingAndGlyphs">Latent CMV</text>
<rect x="420" y="814.5" width="208.5" height="2.4" fill="url(#gP)"/>
<path d="M628.1 812.5L634.2 815.7L628.1 818.9Z" fill="#D9A0D2"/>
<line x1="422.6" y1="820.4" x2="507" y2="820.4" stroke="#7C7C7C" stroke-width="0.9"/>
<line x1="543.1" y1="820.4" x2="626.9" y2="820.4" stroke="#8A8A8A" stroke-width="0.9"/>
<text x="464" y="808.2" font-size="6.9" fill="#C47CC4" textLength="126.5" lengthAdjust="spacingAndGlyphs">Mediation, P<tspan font-size="3.6" dy="1.2">total</tspan><tspan dy="-1.2"> &lt; 1e-16 and P</tspan><tspan font-size="3.6" dy="1.2">ADE</tspan><tspan dy="-1.2">=0.274</tspan></text>
<text x="443.4" y="826.6" font-size="7.0" fill="#111" textLength="39.2" lengthAdjust="spacingAndGlyphs">association,</text>
<text x="443.4" y="834.2" font-size="7.0" fill="#111" textLength="41.8" lengthAdjust="spacingAndGlyphs">P = 1.15e-05</text>
<text x="564.4" y="827.6" font-size="7.0" fill="#111" textLength="39.5" lengthAdjust="spacingAndGlyphs">association,</text>
<text x="564.3" y="835.2" font-size="7.0" fill="#111" textLength="40.5" lengthAdjust="spacingAndGlyphs">P = 8.53e-12</text>
<rect x="509.8" y="813.6" width="28.9" height="16" rx="2.2" fill="#EDF0F9" fill-opacity="0.92" stroke="#C9D3EB" stroke-width="0.6"/>
<line x1="511" y1="824.8" x2="537.6" y2="824.8" stroke="#A8A8A8" stroke-width="0.6"/>
<line x1="514.4" y1="820" x2="514.4" y2="824.8" stroke="#A07070" stroke-width="0.6"/>
<circle cx="514.4" cy="819.5" r="1.5" fill="#C97A82"/>
<rect x="519.1" y="823" width="14" height="3.2" fill="#DCE2F2" stroke="#9EA8C8" stroke-width="0.5"/>
<path d="M522.3 823V818.3H526.6" stroke="#666" stroke-width="0.5" fill="none"/>
<path d="M526.1 817.2L527.8 818.3L526.1 819.4Z" fill="#4A5A9A"/>
<text x="502.9" y="840.7" font-size="8.2" fill="#111" textLength="47.8" lengthAdjust="spacingAndGlyphs">cg15843262</text>
<path d="M639.4 817.2C640.4 817.2 642.2 821.4 643.2 821.4M643.2 817.2C644.2 817.2 646 821.4 647 821.4M647 817.2C648 817.2 649.8 821.4 650.8 821.4M650.8 817.2C651.8 817.2 653.6 821.4 654.6 821.4M654.6 817.2C655.6 817.2 657.4 821.4 658.4 821.4M658.4 817.2C659.4 817.2 661.2 821.4 662.2 821.4M662.2 817.2C663.2 817.2 665 821.4 666 821.4M666 817.2C667 817.2 668.8 821.4 669.8 821.4M639.4 821.4C640.4 821.4 642.2 817.2 643.2 817.2M643.2 821.4C644.2 821.4 646 817.2 647 817.2M647 821.4C648 821.4 649.8 817.2 650.8 817.2M650.8 821.4C651.8 821.4 653.6 817.2 654.6 817.2M654.6 821.4C655.6 821.4 657.4 817.2 658.4 817.2M658.4 821.4C659.4 821.4 661.2 817.2 662.2 817.2M662.2 821.4C663.2 821.4 665 817.2 666 817.2M666 821.4C667 821.4 668.8 817.2 669.8 817.2" stroke="#B8B8B8" stroke-width="0.7" fill="none"/>
<path d="M647 817.2C648 817.2 649.8 821.4 650.8 821.4M647 821.4C648 821.4 649.8 817.2 650.8 817.2M650.8 817.2C651.8 817.2 653.6 821.4 654.6 821.4M650.8 821.4C651.8 821.4 653.6 817.2 654.6 817.2M654.6 817.2C655.6 817.2 657.4 821.4 658.4 821.4M654.6 821.4C655.6 821.4 657.4 817.2 658.4 817.2M658.4 817.2C659.4 817.2 661.2 821.4 662.2 821.4M658.4 821.4C659.4 821.4 661.2 817.2 662.2 817.2M662.2 817.2C663.2 817.2 665 821.4 666 821.4M662.2 821.4C663.2 821.4 665 817.2 666 817.2" stroke="#2E55B0" stroke-width="1.0" fill="none"/>
<path d="M650 818.6V810.4H657.8" stroke="#222" stroke-width="1" fill="none"/><path d="M657.6 808L660.8 810.4L657.6 812.8Z" fill="#222"/>
<text x="637.8" y="839.2" font-size="8.2" fill="#111" textLength="34.6" lengthAdjust="spacingAndGlyphs" font-style="italic">DNMT3A</text>
</svg></body></html>
